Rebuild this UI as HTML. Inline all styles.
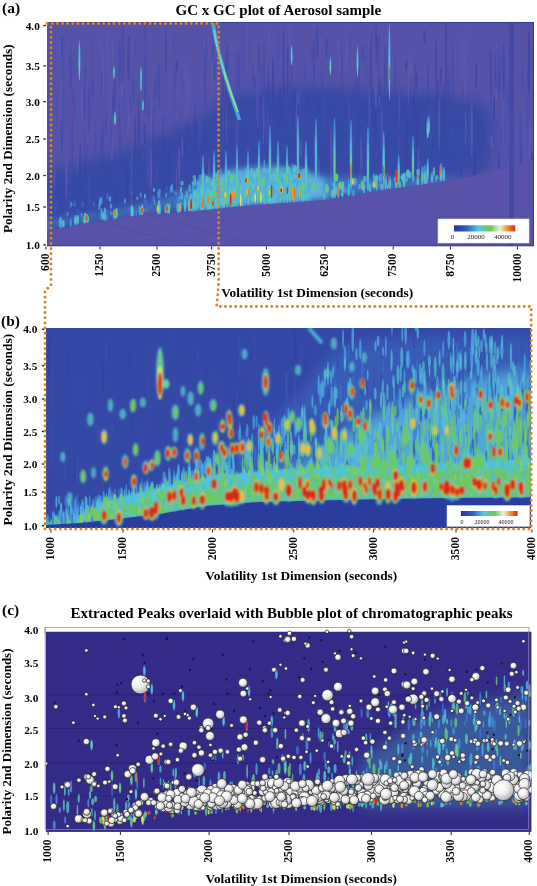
<!DOCTYPE html><html><head><meta charset="utf-8"><style>html,body{margin:0;padding:0;background:#fff;width:537px;height:886px;overflow:hidden}svg{display:block}</style></head><body><svg width="537" height="886" viewBox="0 0 537 886"><defs><filter id="b8" x="-20%" y="-20%" width="140%" height="140%"><feGaussianBlur stdDeviation="7"/></filter><filter id="b3" x="-20%" y="-20%" width="140%" height="140%"><feGaussianBlur stdDeviation="3"/></filter><filter id="b1" x="-20%" y="-20%" width="140%" height="140%"><feGaussianBlur stdDeviation="0.9"/></filter><filter id="b06" x="-20%" y="-20%" width="140%" height="140%"><feGaussianBlur stdDeviation="0.6"/></filter><clipPath id="ca"><rect x="47" y="22" width="487" height="224"/></clipPath><clipPath id="cb"><rect x="46" y="328" width="485" height="200"/></clipPath><clipPath id="cc"><rect x="45.6" y="631.5" width="486" height="200.4"/></clipPath><clipPath id="cc2"><rect x="45.6" y="625" width="486" height="206.9"/></clipPath><radialGradient id="bub" cx="0.38" cy="0.35" r="0.7"><stop offset="0" stop-color="#fff"/><stop offset="0.45" stop-color="#f0f0f0"/><stop offset="0.85" stop-color="#bdbdbd"/><stop offset="1" stop-color="#8a8a8a"/></radialGradient><linearGradient id="lg" x1="0" x2="1"><stop offset="0" stop-color="#28329a"/><stop offset="0.2" stop-color="#2d5ac8"/><stop offset="0.4" stop-color="#50c8e1"/><stop offset="0.6" stop-color="#6ec850"/><stop offset="0.75" stop-color="#ebf0dc"/><stop offset="0.88" stop-color="#f08c28"/><stop offset="1" stop-color="#d7281e"/></linearGradient></defs>
<g clip-path="url(#ca)">
<rect x="47" y="22" width="487" height="224" fill="#5453a8"/>
<polygon points="30,175 120,152 200,118 225,95 300,86 420,92 480,100 495,120 490,170 470,177 450,181 420,186 380,191 340,199 300,203 260,205 220,209 185,213 140,216 100,222 60,229 30,234" fill="#3549a5" fill-opacity="0.92" filter="url(#b8)"/><path d="M430,122 L485,124" stroke="#3a44a0" stroke-width="4" opacity="0.7" filter="url(#b3)"/>
<g filter="url(#b06)"><path fill="#3e48aa" fill-opacity="0.65" d="M162 133.1a.9 14.2 0 1 0 1.7 0a.9 14.2 0 1 0 -1.7 0M160.3 216a.9 16.8 0 1 0 1.7 0a.9 16.8 0 1 0 -1.7 0M357.4 69.7a.8 20.9 0 1 0 1.6 0a.8 20.9 0 1 0 -1.6 0M53.8 169.3a.5 9 0 1 0 1.1 0a.5 9 0 1 0 -1.1 0M425.9 180.3a1 11.7 0 1 0 2.1 0a1 11.7 0 1 0 -2.1 0M462.7 122.8a.8 25.8 0 1 0 1.5 0a.8 25.8 0 1 0 -1.5 0M330.8 153.6a1.1 27.6 0 1 0 2.3 0a1.1 27.6 0 1 0 -2.3 0M56.3 113.4a.5 15.4 0 1 0 1.1 0a.5 15.4 0 1 0 -1.1 0M495.2 82.6a.7 10.9 0 1 0 1.5 0a.7 10.9 0 1 0 -1.5 0M234.1 198.3a1 22 0 1 0 1.9 0a1 22 0 1 0 -1.9 0M248.3 130.7a.9 5.5 0 1 0 1.9 0a.9 5.5 0 1 0 -1.9 0M217.8 171.3a.9 23.5 0 1 0 1.9 0a.9 23.5 0 1 0 -1.9 0M174.4 169.8a1.2 7.6 0 1 0 2.5 0a1.2 7.6 0 1 0 -2.5 0M137.3 121.9a1 22.5 0 1 0 1.9 0a1 22.5 0 1 0 -1.9 0M105.3 126a.6 9.8 0 1 0 1.3 0a.6 9.8 0 1 0 -1.3 0M181.9 186.7a.8 21 0 1 0 1.5 0a.8 21 0 1 0 -1.5 0M354.7 92.9a1.2 19.2 0 1 0 2.4 0a1.2 19.2 0 1 0 -2.4 0M121.7 51.4a1.2 28.6 0 1 0 2.5 0a1.2 28.6 0 1 0 -2.5 0M164.9 53.3a1.2 25.1 0 1 0 2.4 0a1.2 25.1 0 1 0 -2.4 0M482.8 201.6a.9 19.4 0 1 0 1.7 0a.9 19.4 0 1 0 -1.7 0M104.9 122.5a.9 11 0 1 0 1.8 0a.9 11 0 1 0 -1.8 0M519.6 143.6a.8 25.3 0 1 0 1.5 0a.8 25.3 0 1 0 -1.5 0M179.5 188.6a.9 8.2 0 1 0 1.7 0a.9 8.2 0 1 0 -1.7 0M302.6 114.1a1.1 16.8 0 1 0 2.3 0a1.1 16.8 0 1 0 -2.3 0M139.6 88.6a.5 8.1 0 1 0 1 0a.5 8.1 0 1 0 -1 0M398.3 182.7a.8 19.2 0 1 0 1.6 0a.8 19.2 0 1 0 -1.6 0M340.4 175.8a1 14.5 0 1 0 1.9 0a1 14.5 0 1 0 -1.9 0M384.3 115.2a.7 11.1 0 1 0 1.4 0a.7 11.1 0 1 0 -1.4 0M382.2 212.4a1.1 23.3 0 1 0 2.2 0a1.1 23.3 0 1 0 -2.2 0M371 171.7a1.1 19.1 0 1 0 2.2 0a1.1 19.1 0 1 0 -2.2 0M212.3 179.3a1 5.6 0 1 0 2 0a1 5.6 0 1 0 -2 0M453.7 211a.5 19.5 0 1 0 1.1 0a.5 19.5 0 1 0 -1.1 0M419.8 135.9a.9 22.9 0 1 0 1.8 0a.9 22.9 0 1 0 -1.8 0M95 139.2a.6 18.8 0 1 0 1.3 0a.6 18.8 0 1 0 -1.3 0M247 164.1a1.1 9 0 1 0 2.1 0a1.1 9 0 1 0 -2.1 0M118.5 62.8a1.2 23.7 0 1 0 2.4 0a1.2 23.7 0 1 0 -2.4 0M296.9 214.7a1.2 26.3 0 1 0 2.4 0a1.2 26.3 0 1 0 -2.4 0M190.1 162.9a.9 15.3 0 1 0 1.9 0a.9 15.3 0 1 0 -1.9 0M116.3 215.4a.7 17 0 1 0 1.3 0a.7 17 0 1 0 -1.3 0M328.9 203.8a.9 21.3 0 1 0 1.7 0a.9 21.3 0 1 0 -1.7 0M397.1 189.5a.9 15 0 1 0 1.7 0a.9 15 0 1 0 -1.7 0M157.6 86.7a1.2 22.9 0 1 0 2.4 0a1.2 22.9 0 1 0 -2.4 0M68.3 61.9a.6 7.3 0 1 0 1.2 0a.6 7.3 0 1 0 -1.2 0M506.4 101.4a.6 19.2 0 1 0 1.2 0a.6 19.2 0 1 0 -1.2 0M286.5 107.6a1.1 23 0 1 0 2.1 0a1.1 23 0 1 0 -2.1 0M269.3 87a.6 9.4 0 1 0 1.2 0a.6 9.4 0 1 0 -1.2 0M175.6 117.1a.9 26.8 0 1 0 1.7 0a.9 26.8 0 1 0 -1.7 0M100.7 77.6a.9 7.5 0 1 0 1.8 0a.9 7.5 0 1 0 -1.8 0M489.3 64.4a.8 22.5 0 1 0 1.6 0a.8 22.5 0 1 0 -1.6 0M408 190.9a1 23.7 0 1 0 1.9 0a1 23.7 0 1 0 -1.9 0M144.3 91.1a1.1 24.5 0 1 0 2.3 0a1.1 24.5 0 1 0 -2.3 0M371.6 37.1a.6 9.8 0 1 0 1.2 0a.6 9.8 0 1 0 -1.2 0M384.2 72.4a1.1 26.5 0 1 0 2.2 0a1.1 26.5 0 1 0 -2.2 0M129.6 103.1a.6 9.2 0 1 0 1.2 0a.6 9.2 0 1 0 -1.2 0M342.6 110.4a.8 9.6 0 1 0 1.6 0a.8 9.6 0 1 0 -1.6 0M235.7 69.3a.8 13.3 0 1 0 1.5 0a.8 13.3 0 1 0 -1.5 0M74.1 106.7a.5 7.2 0 1 0 1 0a.5 7.2 0 1 0 -1 0M60.9 47.4a.9 9.3 0 1 0 1.7 0a.9 9.3 0 1 0 -1.7 0M247.2 131a1 18.7 0 1 0 2 0a1 18.7 0 1 0 -2 0M129.5 181.4a1.1 25.6 0 1 0 2.1 0a1.1 25.6 0 1 0 -2.1 0M375.7 50.2a1.2 10.9 0 1 0 2.3 0a1.2 10.9 0 1 0 -2.3 0M47.1 81.4a.8 24.7 0 1 0 1.5 0a.8 24.7 0 1 0 -1.5 0M69.5 70.3a1.2 21.1 0 1 0 2.5 0a1.2 21.1 0 1 0 -2.5 0M100.7 83.4a.9 10.2 0 1 0 1.8 0a.9 10.2 0 1 0 -1.8 0M291.8 196.5a1.1 13 0 1 0 2.2 0a1.1 13 0 1 0 -2.2 0M273.7 138.8a.9 6 0 1 0 1.9 0a.9 6 0 1 0 -1.9 0M273 87.4a.6 25.7 0 1 0 1.2 0a.6 25.7 0 1 0 -1.2 0M263.2 67.6a.8 25.9 0 1 0 1.7 0a.8 25.9 0 1 0 -1.7 0M83.4 100.7a1.2 17.1 0 1 0 2.4 0a1.2 17.1 0 1 0 -2.4 0M380.3 111.5a1 24.6 0 1 0 1.9 0a1 24.6 0 1 0 -1.9 0M471.8 217.9a1.1 20.3 0 1 0 2.3 0a1.1 20.3 0 1 0 -2.3 0M423 124.4a.7 29.9 0 1 0 1.4 0a.7 29.9 0 1 0 -1.4 0M256.4 206.2a.7 16.9 0 1 0 1.3 0a.7 16.9 0 1 0 -1.3 0M439.6 86a.5 11.1 0 1 0 1 0a.5 11.1 0 1 0 -1 0M180.9 208.9a.9 25.9 0 1 0 1.8 0a.9 25.9 0 1 0 -1.8 0M370.2 212.6a.9 25.4 0 1 0 1.8 0a.9 25.4 0 1 0 -1.8 0M226.7 146.9a1 12.3 0 1 0 2 0a1 12.3 0 1 0 -2 0M182 79.6a.6 12.1 0 1 0 1.2 0a.6 12.1 0 1 0 -1.2 0M499.6 136.8a.9 5.8 0 1 0 1.9 0a.9 5.8 0 1 0 -1.9 0M84.6 72.9a1 10 0 1 0 2 0a1 10 0 1 0 -2 0M101.9 142.6a1.2 8.1 0 1 0 2.4 0a1.2 8.1 0 1 0 -2.4 0M361.7 53.9a1.2 8.7 0 1 0 2.4 0a1.2 8.7 0 1 0 -2.4 0M226.9 64.3a.8 17 0 1 0 1.5 0a.8 17 0 1 0 -1.5 0M272.2 133.8a.8 16.1 0 1 0 1.7 0a.8 16.1 0 1 0 -1.7 0M52.8 201.7a1 24.9 0 1 0 2 0a1 24.9 0 1 0 -2 0M301.9 165.7a.9 7.3 0 1 0 1.9 0a.9 7.3 0 1 0 -1.9 0M227.8 92.6a1.1 14 0 1 0 2.2 0a1.1 14 0 1 0 -2.2 0M522 78.1a.7 8.1 0 1 0 1.3 0a.7 8.1 0 1 0 -1.3 0M303.6 121a.8 20.4 0 1 0 1.6 0a.8 20.4 0 1 0 -1.6 0M147.9 109.4a.9 9.9 0 1 0 1.8 0a.9 9.9 0 1 0 -1.8 0M113.5 95.4a1.1 18.8 0 1 0 2.2 0a1.1 18.8 0 1 0 -2.2 0M93.7 218.6a.5 22.3 0 1 0 1.1 0a.5 22.3 0 1 0 -1.1 0M473.4 167.8a.7 13 0 1 0 1.5 0a.7 13 0 1 0 -1.5 0M71.4 141.8a.9 27.6 0 1 0 1.8 0a.9 27.6 0 1 0 -1.8 0M303.7 70.5a.6 12.5 0 1 0 1.2 0a.6 12.5 0 1 0 -1.2 0M304.7 146.2a1.1 13.9 0 1 0 2.3 0a1.1 13.9 0 1 0 -2.3 0M154.8 86.4a1 13.6 0 1 0 2 0a1 13.6 0 1 0 -2 0M131.8 170.5a.8 14.9 0 1 0 1.6 0a.8 14.9 0 1 0 -1.6 0M132.2 90.1a1.1 14.4 0 1 0 2.2 0a1.1 14.4 0 1 0 -2.2 0M250.1 124.8a1.2 14.7 0 1 0 2.5 0a1.2 14.7 0 1 0 -2.5 0M303.6 190.4a.6 16.9 0 1 0 1.2 0a.6 16.9 0 1 0 -1.2 0M145 62.7a.9 24 0 1 0 1.9 0a.9 24 0 1 0 -1.9 0M453.3 167.4a.8 12.3 0 1 0 1.6 0a.8 12.3 0 1 0 -1.6 0M238.3 72.1a.8 15.2 0 1 0 1.5 0a.8 15.2 0 1 0 -1.5 0M158.4 78.7a.9 10.3 0 1 0 1.7 0a.9 10.3 0 1 0 -1.7 0M431 180.1a1.2 27.6 0 1 0 2.3 0a1.2 27.6 0 1 0 -2.3 0M179 191.2a.6 8.8 0 1 0 1.3 0a.6 8.8 0 1 0 -1.3 0M357.9 83.6a1 24 0 1 0 2.1 0a1 24 0 1 0 -2.1 0M118.7 140.6a1 21.7 0 1 0 2.1 0a1 21.7 0 1 0 -2.1 0M369.4 110.2a.6 9.4 0 1 0 1.1 0a.6 9.4 0 1 0 -1.1 0M248.9 52a.6 12.9 0 1 0 1.2 0a.6 12.9 0 1 0 -1.2 0M95 206.5a.6 19.6 0 1 0 1.2 0a.6 19.6 0 1 0 -1.2 0M406.7 164.6a.9 5.5 0 1 0 1.7 0a.9 5.5 0 1 0 -1.7 0M48.8 174.8a.5 26.7 0 1 0 1.1 0a.5 26.7 0 1 0 -1.1 0M67.7 203.4a.6 9.8 0 1 0 1.2 0a.6 9.8 0 1 0 -1.2 0M86.8 159.8a.5 17.8 0 1 0 1 0a.5 17.8 0 1 0 -1 0M134.6 48.9a.8 9.5 0 1 0 1.7 0a.8 9.5 0 1 0 -1.7 0M61 121.7a1.1 26.1 0 1 0 2.1 0a1.1 26.1 0 1 0 -2.1 0M140.4 205.6a1.2 25 0 1 0 2.5 0a1.2 25 0 1 0 -2.5 0M113.6 187.7a.6 27.5 0 1 0 1.2 0a.6 27.5 0 1 0 -1.2 0M351.4 119.2a.5 5.7 0 1 0 1 0a.5 5.7 0 1 0 -1 0M508.5 93a.7 14.6 0 1 0 1.4 0a.7 14.6 0 1 0 -1.4 0M208.9 160.9a.7 7.3 0 1 0 1.5 0a.7 7.3 0 1 0 -1.5 0M213.7 70.5a1.1 10 0 1 0 2.2 0a1.1 10 0 1 0 -2.2 0M433.2 171.5a1 10.9 0 1 0 1.9 0a1 10.9 0 1 0 -1.9 0M105.9 65.8a.6 13 0 1 0 1.3 0a.6 13 0 1 0 -1.3 0M206.1 55.2a.6 12.9 0 1 0 1.1 0a.6 12.9 0 1 0 -1.1 0M259.1 175.8a1.1 17.1 0 1 0 2.2 0a1.1 17.1 0 1 0 -2.2 0M226.3 186a.6 12 0 1 0 1.3 0a.6 12 0 1 0 -1.3 0M270.2 128.7a1.2 22.4 0 1 0 2.4 0a1.2 22.4 0 1 0 -2.4 0M206.8 140.8a.9 18.4 0 1 0 1.7 0a.9 18.4 0 1 0 -1.7 0M394.4 84.7a1 29.5 0 1 0 2 0a1 29.5 0 1 0 -2 0M309.1 197.5a1.2 26.1 0 1 0 2.5 0a1.2 26.1 0 1 0 -2.5 0M72 97.1a.8 7.7 0 1 0 1.7 0a.8 7.7 0 1 0 -1.7 0M313.1 63.6a1 27.3 0 1 0 2 0a1 27.3 0 1 0 -2 0M148.5 155.3a1.2 5.9 0 1 0 2.3 0a1.2 5.9 0 1 0 -2.3 0M398.6 96.2a.7 16.1 0 1 0 1.5 0a.7 16.1 0 1 0 -1.5 0M202.7 218.4a1 26.5 0 1 0 2 0a1 26.5 0 1 0 -2 0M448 94a.9 27.2 0 1 0 1.8 0a.9 27.2 0 1 0 -1.8 0M144.4 77a1.2 8.3 0 1 0 2.4 0a1.2 8.3 0 1 0 -2.4 0M321.4 95a1 21.5 0 1 0 2 0a1 21.5 0 1 0 -2 0M46.5 117.5a1.2 17.2 0 1 0 2.4 0a1.2 17.2 0 1 0 -2.4 0M144.5 55.3a.8 27 0 1 0 1.5 0a.8 27 0 1 0 -1.5 0M49.7 37.7a.6 8.9 0 1 0 1.3 0a.6 8.9 0 1 0 -1.3 0M223.6 185.6a1 16.9 0 1 0 2 0a1 16.9 0 1 0 -2 0M118.7 120.9a.8 22.5 0 1 0 1.7 0a.8 22.5 0 1 0 -1.7 0M242.7 47.1a.6 21.2 0 1 0 1.1 0a.6 21.2 0 1 0 -1.1 0M493.6 110.7a.6 14.1 0 1 0 1.3 0a.6 14.1 0 1 0 -1.3 0M486.4 154.4a1.1 14.5 0 1 0 2.2 0a1.1 14.5 0 1 0 -2.2 0M174.1 93.4a1.2 27.6 0 1 0 2.5 0a1.2 27.6 0 1 0 -2.5 0M100.3 152.3a.8 28.6 0 1 0 1.6 0a.8 28.6 0 1 0 -1.6 0M459.1 217.5a.9 25.7 0 1 0 1.9 0a.9 25.7 0 1 0 -1.9 0M197.7 140.4a.6 8.1 0 1 0 1.2 0a.6 8.1 0 1 0 -1.2 0M102.2 145.3a.9 26.5 0 1 0 1.8 0a.9 26.5 0 1 0 -1.8 0M87.8 109.8a1.2 17.6 0 1 0 2.3 0a1.2 17.6 0 1 0 -2.3 0M317.6 103.4a.8 5.6 0 1 0 1.7 0a.8 5.6 0 1 0 -1.7 0M290.6 79.2a1 15.1 0 1 0 1.9 0a1 15.1 0 1 0 -1.9 0M341.1 72.1a.7 21.5 0 1 0 1.4 0a.7 21.5 0 1 0 -1.4 0M451.7 68.5a.9 27.1 0 1 0 1.9 0a.9 27.1 0 1 0 -1.9 0"/><path fill="#3a42a0" fill-opacity="0.65" d="M329.2 157.5a.7 27.7 0 1 0 1.4 0a.7 27.7 0 1 0 -1.4 0M473.9 177.1a1 28 0 1 0 2.1 0a1 28 0 1 0 -2.1 0M112.1 89.8a1.1 29.1 0 1 0 2.2 0a1.1 29.1 0 1 0 -2.2 0M527.1 77.7a1.1 8.1 0 1 0 2.3 0a1.1 8.1 0 1 0 -2.3 0M527.9 62.8a1.2 25 0 1 0 2.3 0a1.2 25 0 1 0 -2.3 0M512.7 196.1a1.2 14.4 0 1 0 2.3 0a1.2 14.4 0 1 0 -2.3 0M511.3 40a.7 14.2 0 1 0 1.4 0a.7 14.2 0 1 0 -1.4 0M423.3 36.5a1.2 6.2 0 1 0 2.5 0a1.2 6.2 0 1 0 -2.5 0M395.4 117.2a.5 10.9 0 1 0 1.1 0a.5 10.9 0 1 0 -1.1 0M83.7 220.9a1 21.1 0 1 0 1.9 0a1 21.1 0 1 0 -1.9 0M412.8 106.3a1.2 14.2 0 1 0 2.4 0a1.2 14.2 0 1 0 -2.4 0M374 131.1a1.2 17.1 0 1 0 2.3 0a1.2 17.1 0 1 0 -2.3 0M176 66.3a1.1 5.6 0 1 0 2.2 0a1.1 5.6 0 1 0 -2.2 0M143.6 134.4a1.1 11 0 1 0 2.2 0a1.1 11 0 1 0 -2.2 0M174.7 190.6a.9 5.9 0 1 0 1.9 0a.9 5.9 0 1 0 -1.9 0M375.2 36.6a.8 13.4 0 1 0 1.6 0a.8 13.4 0 1 0 -1.6 0M84.2 160.2a.8 23.6 0 1 0 1.6 0a.8 23.6 0 1 0 -1.6 0M311.5 55.1a.6 11.9 0 1 0 1.2 0a.6 11.9 0 1 0 -1.2 0M134.5 140a.8 19.4 0 1 0 1.5 0a.8 19.4 0 1 0 -1.5 0M264.2 172.8a1.1 6.7 0 1 0 2.3 0a1.1 6.7 0 1 0 -2.3 0M414.5 72.9a.6 9.3 0 1 0 1.3 0a.6 9.3 0 1 0 -1.3 0M427.3 85a.6 25.3 0 1 0 1.2 0a.6 25.3 0 1 0 -1.2 0M183.8 147.9a1.1 8.8 0 1 0 2.2 0a1.1 8.8 0 1 0 -2.2 0M465.8 123.7a.7 23.9 0 1 0 1.5 0a.7 23.9 0 1 0 -1.5 0M194.5 128.6a.8 23.9 0 1 0 1.7 0a.8 23.9 0 1 0 -1.7 0M505.1 191.5a.7 29 0 1 0 1.4 0a.7 29 0 1 0 -1.4 0M138.3 126a.8 13.3 0 1 0 1.5 0a.8 13.3 0 1 0 -1.5 0M279.4 106a.7 21.5 0 1 0 1.5 0a.7 21.5 0 1 0 -1.5 0M498.1 76.6a1.1 23.5 0 1 0 2.3 0a1.1 23.5 0 1 0 -2.3 0M315.6 200.5a.8 14.1 0 1 0 1.7 0a.8 14.1 0 1 0 -1.7 0M413.1 207.3a.5 22.4 0 1 0 1.1 0a.5 22.4 0 1 0 -1.1 0M282.5 163.5a1 22.5 0 1 0 1.9 0a1 22.5 0 1 0 -1.9 0M225.2 76.6a.9 20.6 0 1 0 1.7 0a.9 20.6 0 1 0 -1.7 0M91.9 88.6a.8 11.2 0 1 0 1.6 0a.8 11.2 0 1 0 -1.6 0M439.9 74.4a.9 8.4 0 1 0 1.8 0a.9 8.4 0 1 0 -1.8 0M282.7 58.2a.9 25.4 0 1 0 1.7 0a.9 25.4 0 1 0 -1.7 0M372 106a.6 17.9 0 1 0 1.3 0a.6 17.9 0 1 0 -1.3 0M494.6 68.8a.7 14.6 0 1 0 1.5 0a.7 14.6 0 1 0 -1.5 0M316.1 43.8a1.2 15.4 0 1 0 2.5 0a1.2 15.4 0 1 0 -2.5 0M520.7 161a.8 15.8 0 1 0 1.7 0a.8 15.8 0 1 0 -1.7 0M186.7 131a1.2 9.4 0 1 0 2.4 0a1.2 9.4 0 1 0 -2.4 0M116.2 192.6a1 9.4 0 1 0 2 0a1 9.4 0 1 0 -2 0M306.8 97.7a.6 7.7 0 1 0 1.3 0a.6 7.7 0 1 0 -1.3 0M406.2 142.8a.9 26.4 0 1 0 1.9 0a.9 26.4 0 1 0 -1.9 0M204.8 137.6a.9 10.5 0 1 0 1.8 0a.9 10.5 0 1 0 -1.8 0M530.6 163a1.2 11.2 0 1 0 2.5 0a1.2 11.2 0 1 0 -2.5 0M286.6 66.2a1 23.3 0 1 0 2.1 0a1 23.3 0 1 0 -2.1 0M222.2 93.1a.8 17.6 0 1 0 1.7 0a.8 17.6 0 1 0 -1.7 0M488.5 151.6a.6 7.6 0 1 0 1.2 0a.6 7.6 0 1 0 -1.2 0M378.7 70.5a.7 27 0 1 0 1.3 0a.7 27 0 1 0 -1.3 0M475.1 75.3a1.2 13.1 0 1 0 2.4 0a1.2 13.1 0 1 0 -2.4 0M325.4 48a1.1 10.8 0 1 0 2.2 0a1.1 10.8 0 1 0 -2.2 0M493.2 106.1a1 13.6 0 1 0 2 0a1 13.6 0 1 0 -2 0M405.3 64.7a1.1 6.5 0 1 0 2.3 0a1.1 6.5 0 1 0 -2.3 0M502.5 71.2a1.1 27.8 0 1 0 2.3 0a1.1 27.8 0 1 0 -2.3 0M460.9 176.7a.8 6.4 0 1 0 1.6 0a.8 6.4 0 1 0 -1.6 0M212.1 52.3a.6 10.5 0 1 0 1.3 0a.6 10.5 0 1 0 -1.3 0M167.6 165.2a1 19.1 0 1 0 2.1 0a1 19.1 0 1 0 -2.1 0M204.2 78.7a.6 27.9 0 1 0 1.3 0a.6 27.9 0 1 0 -1.3 0M127.3 58.4a1.2 18.4 0 1 0 2.3 0a1.2 18.4 0 1 0 -2.3 0M205.4 166.8a.7 9.1 0 1 0 1.4 0a.7 9.1 0 1 0 -1.4 0M293.9 115a.9 26.8 0 1 0 1.8 0a.9 26.8 0 1 0 -1.8 0M151.8 198.9a1.1 6.8 0 1 0 2.1 0a1.1 6.8 0 1 0 -2.1 0M385.9 151.9a.9 18 0 1 0 1.8 0a.9 18 0 1 0 -1.8 0M371 72.8a.5 7.4 0 1 0 1 0a.5 7.4 0 1 0 -1 0M253.9 83.5a.9 6.6 0 1 0 1.8 0a.9 6.6 0 1 0 -1.8 0M532.6 61.2a1.1 17.5 0 1 0 2.2 0a1.1 17.5 0 1 0 -2.2 0M436.2 96.1a1.2 19.1 0 1 0 2.4 0a1.2 19.1 0 1 0 -2.4 0M79.3 170.5a1 28.2 0 1 0 2 0a1 28.2 0 1 0 -2 0M369.3 205.9a.7 6.2 0 1 0 1.4 0a.7 6.2 0 1 0 -1.4 0M256.2 116.4a.8 19.4 0 1 0 1.6 0a.8 19.4 0 1 0 -1.6 0M279 106.9a1 17.6 0 1 0 1.9 0a1 17.6 0 1 0 -1.9 0M258 58.2a.9 10.4 0 1 0 1.7 0a.9 10.4 0 1 0 -1.7 0M151.6 137.5a.5 19 0 1 0 1 0a.5 19 0 1 0 -1 0M267.5 85a.7 18.3 0 1 0 1.4 0a.7 18.3 0 1 0 -1.4 0M369.7 68.5a1 27.5 0 1 0 2.1 0a1 27.5 0 1 0 -2.1 0M480.3 126.5a1.1 5.5 0 1 0 2.2 0a1.1 5.5 0 1 0 -2.2 0M408.2 193.6a1.2 30 0 1 0 2.3 0a1.2 30 0 1 0 -2.3 0M497.7 171.7a1.2 19.9 0 1 0 2.4 0a1.2 19.9 0 1 0 -2.4 0M403.7 106.8a.9 6.4 0 1 0 1.8 0a.9 6.4 0 1 0 -1.8 0M382.5 191.3a1 24.6 0 1 0 2.1 0a1 24.6 0 1 0 -2.1 0M356.1 170.8a.9 9.5 0 1 0 1.9 0a.9 9.5 0 1 0 -1.9 0M434.8 62.6a1 23.6 0 1 0 2 0a1 23.6 0 1 0 -2 0M252.6 73.4a.5 6.9 0 1 0 1.1 0a.5 6.9 0 1 0 -1.1 0M282.3 76a1.2 19.3 0 1 0 2.5 0a1.2 19.3 0 1 0 -2.5 0M415.6 141.7a1.2 25.6 0 1 0 2.3 0a1.2 25.6 0 1 0 -2.3 0M126.4 195.1a1.1 25.8 0 1 0 2.1 0a1.1 25.8 0 1 0 -2.1 0M415.5 81.4a1 9.9 0 1 0 2 0a1 9.9 0 1 0 -2 0M490.5 82.5a.7 29.8 0 1 0 1.4 0a.7 29.8 0 1 0 -1.4 0M163.4 162a.6 19.7 0 1 0 1.1 0a.6 19.7 0 1 0 -1.1 0M444.9 43.3a1.2 19.1 0 1 0 2.3 0a1.2 19.1 0 1 0 -2.3 0M318.3 106.9a.7 7.9 0 1 0 1.5 0a.7 7.9 0 1 0 -1.5 0M442.4 112.7a1.1 27.4 0 1 0 2.3 0a1.1 27.4 0 1 0 -2.3 0M272 78.7a1.1 22 0 1 0 2.2 0a1.1 22 0 1 0 -2.2 0M445.1 83.5a1.1 24.6 0 1 0 2.2 0a1.1 24.6 0 1 0 -2.2 0M107.6 191.6a.5 27.2 0 1 0 1 0a.5 27.2 0 1 0 -1 0M342 196.9a.7 13.3 0 1 0 1.4 0a.7 13.3 0 1 0 -1.4 0"/><path fill="#5f5aaf" fill-opacity="0.65" d="M327.4 202a.6 8.4 0 1 0 1.1 0a.6 8.4 0 1 0 -1.1 0M528.4 150.6a1.2 9.1 0 1 0 2.4 0a1.2 9.1 0 1 0 -2.4 0M345.4 53a.9 23 0 1 0 1.8 0a.9 23 0 1 0 -1.8 0M188.3 91.1a.7 22.2 0 1 0 1.5 0a.7 22.2 0 1 0 -1.5 0M259.5 80.5a.5 12.6 0 1 0 1 0a.5 12.6 0 1 0 -1 0M110.9 148.1a1 13.3 0 1 0 2 0a1 13.3 0 1 0 -2 0M338.8 63.2a1.1 9.6 0 1 0 2.3 0a1.1 9.6 0 1 0 -2.3 0M379.3 62.9a.7 17.5 0 1 0 1.4 0a.7 17.5 0 1 0 -1.4 0M407.7 80a.7 19.2 0 1 0 1.3 0a.7 19.2 0 1 0 -1.3 0M109.3 98.8a.8 24.8 0 1 0 1.7 0a.8 24.8 0 1 0 -1.7 0M268.5 179.8a.9 23.7 0 1 0 1.8 0a.9 23.7 0 1 0 -1.8 0M479.7 201.8a.6 26.4 0 1 0 1.2 0a.6 26.4 0 1 0 -1.2 0M247.9 209.5a.6 20.3 0 1 0 1.2 0a.6 20.3 0 1 0 -1.2 0M462.5 54.9a.6 17.6 0 1 0 1.2 0a.6 17.6 0 1 0 -1.2 0M81.2 105.4a.8 14.7 0 1 0 1.5 0a.8 14.7 0 1 0 -1.5 0M256.4 105.7a.8 17.4 0 1 0 1.6 0a.8 17.4 0 1 0 -1.6 0M502.5 116.1a.6 27.4 0 1 0 1.2 0a.6 27.4 0 1 0 -1.2 0M462.2 74.8a.6 9.7 0 1 0 1.2 0a.6 9.7 0 1 0 -1.2 0M349.2 148.1a.6 5.9 0 1 0 1.3 0a.6 5.9 0 1 0 -1.3 0M478.1 191.2a1 7.4 0 1 0 2 0a1 7.4 0 1 0 -2 0M225.8 123.7a.6 21.6 0 1 0 1.2 0a.6 21.6 0 1 0 -1.2 0M360.4 160.7a1.2 8.7 0 1 0 2.3 0a1.2 8.7 0 1 0 -2.3 0M360.1 153.1a1 15.5 0 1 0 2 0a1 15.5 0 1 0 -2 0M177.9 163.7a1.2 17.9 0 1 0 2.4 0a1.2 17.9 0 1 0 -2.4 0M262.7 119.8a.9 25.4 0 1 0 1.8 0a.9 25.4 0 1 0 -1.8 0M329.8 164.2a1.2 29.4 0 1 0 2.3 0a1.2 29.4 0 1 0 -2.3 0M288.7 38.9a1.2 13.5 0 1 0 2.3 0a1.2 13.5 0 1 0 -2.3 0M267.9 40a.8 11.4 0 1 0 1.7 0a.8 11.4 0 1 0 -1.7 0M106.1 54.4a1.2 23.2 0 1 0 2.5 0a1.2 23.2 0 1 0 -2.5 0M175.7 187.7a.7 20.7 0 1 0 1.5 0a.7 20.7 0 1 0 -1.5 0M341.9 197.7a.6 7.2 0 1 0 1.3 0a.6 7.2 0 1 0 -1.3 0M470.5 129.5a1.2 27.4 0 1 0 2.5 0a1.2 27.4 0 1 0 -2.5 0M464.7 68.6a.6 28.6 0 1 0 1.1 0a.6 28.6 0 1 0 -1.1 0M230.7 48a1 5.2 0 1 0 2.1 0a1 5.2 0 1 0 -2.1 0M150.6 114.3a.7 29.9 0 1 0 1.4 0a.7 29.9 0 1 0 -1.4 0M257 106.9a.6 23.6 0 1 0 1.2 0a.6 23.6 0 1 0 -1.2 0M417.2 176.1a1.2 29.4 0 1 0 2.4 0a1.2 29.4 0 1 0 -2.4 0M511.7 79.1a1.2 5.7 0 1 0 2.3 0a1.2 5.7 0 1 0 -2.3 0M46.7 221.9a1.2 24.8 0 1 0 2.5 0a1.2 24.8 0 1 0 -2.5 0M529.3 134.6a.8 15.2 0 1 0 1.7 0a.8 15.2 0 1 0 -1.7 0M102.9 68.9a.6 24.6 0 1 0 1.2 0a.6 24.6 0 1 0 -1.2 0M178 219.7a1 28.6 0 1 0 1.9 0a1 28.6 0 1 0 -1.9 0M59.2 48.5a.6 7.9 0 1 0 1.2 0a.6 7.9 0 1 0 -1.2 0M509.2 130.9a.9 22.6 0 1 0 1.7 0a.9 22.6 0 1 0 -1.7 0M398.5 105.5a.7 22.3 0 1 0 1.4 0a.7 22.3 0 1 0 -1.4 0M337.9 42.8a.8 5.7 0 1 0 1.6 0a.8 5.7 0 1 0 -1.6 0M295.4 119.7a.8 20.7 0 1 0 1.7 0a.8 20.7 0 1 0 -1.7 0M490.5 141.7a1 7.4 0 1 0 2 0a1 7.4 0 1 0 -2 0M128 118.2a1 10.2 0 1 0 1.9 0a1 10.2 0 1 0 -1.9 0M464.8 128.7a.9 19.5 0 1 0 1.8 0a.9 19.5 0 1 0 -1.8 0M250.6 184.5a.6 8.6 0 1 0 1.2 0a.6 8.6 0 1 0 -1.2 0M494.9 94.8a1.1 6 0 1 0 2.2 0a1.1 6 0 1 0 -2.2 0M330.2 154.9a1.2 12.2 0 1 0 2.5 0a1.2 12.2 0 1 0 -2.5 0M318.1 173.6a.9 15.6 0 1 0 1.9 0a.9 15.6 0 1 0 -1.9 0M297 99.4a1 6.7 0 1 0 2 0a1 6.7 0 1 0 -2 0M111.7 66.5a1.2 29.6 0 1 0 2.5 0a1.2 29.6 0 1 0 -2.5 0M381 123.2a.7 25.1 0 1 0 1.4 0a.7 25.1 0 1 0 -1.4 0M147.5 167.4a.5 21.1 0 1 0 1.1 0a.5 21.1 0 1 0 -1.1 0M378.5 101.1a.9 5.2 0 1 0 1.8 0a.9 5.2 0 1 0 -1.8 0M438.3 122.9a1 21.7 0 1 0 1.9 0a1 21.7 0 1 0 -1.9 0M211.1 76.2a1 19.2 0 1 0 2 0a1 19.2 0 1 0 -2 0M374.8 93.1a1.1 16.8 0 1 0 2.2 0a1.1 16.8 0 1 0 -2.2 0M208.1 177.2a1 15.8 0 1 0 1.9 0a1 15.8 0 1 0 -1.9 0M60 99.9a1.1 23.5 0 1 0 2.2 0a1.1 23.5 0 1 0 -2.2 0M410.1 66a1.1 7.4 0 1 0 2.1 0a1.1 7.4 0 1 0 -2.1 0M512 116.9a.9 10.1 0 1 0 1.9 0a.9 10.1 0 1 0 -1.9 0M65.3 176.2a1.2 23.8 0 1 0 2.4 0a1.2 23.8 0 1 0 -2.4 0M130.9 182.2a.6 29.1 0 1 0 1.1 0a.6 29.1 0 1 0 -1.1 0M144.6 47.6a.5 7.1 0 1 0 1 0a.5 7.1 0 1 0 -1 0M53.6 172.2a.8 15.9 0 1 0 1.7 0a.8 15.9 0 1 0 -1.7 0M300.1 149.6a1.1 8.4 0 1 0 2.3 0a1.1 8.4 0 1 0 -2.3 0M183.2 72.8a.8 9.1 0 1 0 1.7 0a.8 9.1 0 1 0 -1.7 0M236.1 137.1a.7 22.5 0 1 0 1.4 0a.7 22.5 0 1 0 -1.4 0M214.4 165a.6 9.3 0 1 0 1.1 0a.6 9.3 0 1 0 -1.1 0M295 196.1a.5 28 0 1 0 1 0a.5 28 0 1 0 -1 0M285.7 179.8a.6 9.8 0 1 0 1.1 0a.6 9.8 0 1 0 -1.1 0M288.1 192.9a.7 18 0 1 0 1.4 0a.7 18 0 1 0 -1.4 0M76.6 166.4a.6 10.7 0 1 0 1.2 0a.6 10.7 0 1 0 -1.2 0M185.3 92.9a.9 26.6 0 1 0 1.9 0a.9 26.6 0 1 0 -1.9 0M175.1 103.3a1.2 15.7 0 1 0 2.3 0a1.2 15.7 0 1 0 -2.3 0M406.2 209.7a1.2 22.4 0 1 0 2.5 0a1.2 22.4 0 1 0 -2.5 0M159.6 205.8a.7 14.6 0 1 0 1.4 0a.7 14.6 0 1 0 -1.4 0M368.7 111.3a.7 24.8 0 1 0 1.5 0a.7 24.8 0 1 0 -1.5 0M120.8 90.1a1.2 6.9 0 1 0 2.3 0a1.2 6.9 0 1 0 -2.3 0M149.8 168.3a1.2 18.1 0 1 0 2.3 0a1.2 18.1 0 1 0 -2.3 0M181.2 147a1.1 11.2 0 1 0 2.3 0a1.1 11.2 0 1 0 -2.3 0M99.1 44.4a1 6.7 0 1 0 2 0a1 6.7 0 1 0 -2 0M459.3 64.2a.6 9.6 0 1 0 1.1 0a.6 9.6 0 1 0 -1.1 0M462.9 189.9a1 18.9 0 1 0 2 0a1 18.9 0 1 0 -2 0"/><path fill="#464eaf" fill-opacity="0.65" d="M486.6 146.1a1 22.8 0 1 0 1.9 0a1 22.8 0 1 0 -1.9 0M83.3 134.5a1.2 5.8 0 1 0 2.5 0a1.2 5.8 0 1 0 -2.5 0M503.9 128a1.2 15.8 0 1 0 2.4 0a1.2 15.8 0 1 0 -2.4 0M508.7 152.7a.6 10.6 0 1 0 1.1 0a.6 10.6 0 1 0 -1.1 0M258 219.3a.5 28.2 0 1 0 1 0a.5 28.2 0 1 0 -1 0M142.4 142.6a.7 25.4 0 1 0 1.4 0a.7 25.4 0 1 0 -1.4 0M324.3 117.2a.7 23.9 0 1 0 1.4 0a.7 23.9 0 1 0 -1.4 0M333.1 175.6a1.2 10.6 0 1 0 2.3 0a1.2 10.6 0 1 0 -2.3 0M90.6 66.7a1.1 27 0 1 0 2.2 0a1.1 27 0 1 0 -2.2 0M316.9 208.4a1.2 14.4 0 1 0 2.5 0a1.2 14.4 0 1 0 -2.5 0M332 183.1a.6 8.4 0 1 0 1.2 0a.6 8.4 0 1 0 -1.2 0M365 72.2a1.2 28.3 0 1 0 2.4 0a1.2 28.3 0 1 0 -2.4 0M464.7 182.7a.9 18.6 0 1 0 1.9 0a.9 18.6 0 1 0 -1.9 0M349.7 45a.9 14 0 1 0 1.8 0a.9 14 0 1 0 -1.8 0M62.3 66.1a1.2 29.9 0 1 0 2.4 0a1.2 29.9 0 1 0 -2.4 0M429.4 120.8a.8 26.1 0 1 0 1.6 0a.8 26.1 0 1 0 -1.6 0M276.5 60.4a1 26.3 0 1 0 2 0a1 26.3 0 1 0 -2 0M222.4 122.8a.7 29.2 0 1 0 1.4 0a.7 29.2 0 1 0 -1.4 0M226.4 192.6a.7 18.3 0 1 0 1.3 0a.7 18.3 0 1 0 -1.3 0M201 50.7a.8 22.8 0 1 0 1.6 0a.8 22.8 0 1 0 -1.6 0M239.5 55.9a.7 29.1 0 1 0 1.4 0a.7 29.1 0 1 0 -1.4 0M262.6 160.7a.9 13.6 0 1 0 1.8 0a.9 13.6 0 1 0 -1.8 0M197.9 127.7a.7 25.5 0 1 0 1.4 0a.7 25.5 0 1 0 -1.4 0M259.8 79.7a1 13.1 0 1 0 2.1 0a1 13.1 0 1 0 -2.1 0M501.2 62.3a.7 7.4 0 1 0 1.4 0a.7 7.4 0 1 0 -1.4 0M299.3 141.8a.7 6 0 1 0 1.4 0a.7 6 0 1 0 -1.4 0M262.6 199.8a.6 16.1 0 1 0 1.2 0a.6 16.1 0 1 0 -1.2 0M109.8 134.9a1.2 18.4 0 1 0 2.4 0a1.2 18.4 0 1 0 -2.4 0M428.9 202.2a.7 5.9 0 1 0 1.4 0a.7 5.9 0 1 0 -1.4 0M172.6 45.6a1.2 15.7 0 1 0 2.4 0a1.2 15.7 0 1 0 -2.4 0M451.2 132.2a.5 12 0 1 0 1.1 0a.5 12 0 1 0 -1.1 0M199.2 130.2a1.1 15.3 0 1 0 2.2 0a1.1 15.3 0 1 0 -2.2 0M361.3 53.7a.7 6.4 0 1 0 1.5 0a.7 6.4 0 1 0 -1.5 0M218.1 191.8a.5 6.9 0 1 0 1 0a.5 6.9 0 1 0 -1 0M233.2 169.1a.7 12.4 0 1 0 1.5 0a.7 12.4 0 1 0 -1.5 0M464.6 205.6a.6 12.9 0 1 0 1.2 0a.6 12.9 0 1 0 -1.2 0M340.4 52.5a.6 20.4 0 1 0 1.2 0a.6 20.4 0 1 0 -1.2 0M266.3 125.3a1.2 18.3 0 1 0 2.5 0a1.2 18.3 0 1 0 -2.5 0M313.6 143a1.1 12.3 0 1 0 2.3 0a1.1 12.3 0 1 0 -2.3 0M233.5 210.8a.5 14.2 0 1 0 1.1 0a.5 14.2 0 1 0 -1.1 0M152.9 108.4a1.2 20.4 0 1 0 2.3 0a1.2 20.4 0 1 0 -2.3 0M494.8 140.6a.8 23.4 0 1 0 1.7 0a.8 23.4 0 1 0 -1.7 0M284.9 214.3a.8 16.8 0 1 0 1.6 0a.8 16.8 0 1 0 -1.6 0M352.5 136.2a1.1 26.3 0 1 0 2.2 0a1.1 26.3 0 1 0 -2.2 0M199.8 169.5a.8 13.2 0 1 0 1.6 0a.8 13.2 0 1 0 -1.6 0M214.9 216.3a.6 17.1 0 1 0 1.2 0a.6 17.1 0 1 0 -1.2 0M398.6 152.5a.9 22.5 0 1 0 1.8 0a.9 22.5 0 1 0 -1.8 0M257.7 97.7a.7 29.1 0 1 0 1.4 0a.7 29.1 0 1 0 -1.4 0M425.7 212.3a1.2 21.7 0 1 0 2.5 0a1.2 21.7 0 1 0 -2.5 0M317.5 182.8a.6 28 0 1 0 1.2 0a.6 28 0 1 0 -1.2 0M172.6 44.4a.6 7 0 1 0 1.1 0a.6 7 0 1 0 -1.1 0M205.9 202.4a.8 7.5 0 1 0 1.6 0a.8 7.5 0 1 0 -1.6 0M261.1 69.3a.7 5.1 0 1 0 1.3 0a.7 5.1 0 1 0 -1.3 0M526.3 117.3a.9 27.5 0 1 0 1.8 0a.9 27.5 0 1 0 -1.8 0M299.2 95a.8 18 0 1 0 1.5 0a.8 18 0 1 0 -1.5 0M236.7 178.3a1 23.1 0 1 0 1.9 0a1 23.1 0 1 0 -1.9 0M236.5 124.1a1.1 8.5 0 1 0 2.1 0a1.1 8.5 0 1 0 -2.1 0M276.8 51.4a1.2 19 0 1 0 2.4 0a1.2 19 0 1 0 -2.4 0M150.3 204.3a1.2 18.7 0 1 0 2.4 0a1.2 18.7 0 1 0 -2.4 0M87.6 191.1a1.2 11.1 0 1 0 2.3 0a1.2 11.1 0 1 0 -2.3 0M359.8 178.3a1.1 11 0 1 0 2.1 0a1.1 11 0 1 0 -2.1 0M445.5 45.8a.7 11.3 0 1 0 1.4 0a.7 11.3 0 1 0 -1.4 0M186.6 200.4a.7 10 0 1 0 1.5 0a.7 10 0 1 0 -1.5 0M173.7 226.9a.8 28.4 0 1 0 1.7 0a.8 28.4 0 1 0 -1.7 0M123.5 110.1a1 23.4 0 1 0 2 0a1 23.4 0 1 0 -2 0M236.8 80.1a1.2 21.3 0 1 0 2.3 0a1.2 21.3 0 1 0 -2.3 0M70.2 54.8a.6 19.3 0 1 0 1.3 0a.6 19.3 0 1 0 -1.3 0M155.8 173.1a.9 10 0 1 0 1.8 0a.9 10 0 1 0 -1.8 0M282.7 147.9a1 8.5 0 1 0 2 0a1 8.5 0 1 0 -2 0M181.3 186.4a1 6.5 0 1 0 1.9 0a1 6.5 0 1 0 -1.9 0M446.8 91.8a.6 6.7 0 1 0 1.2 0a.6 6.7 0 1 0 -1.2 0M348.1 126.1a1.2 24.2 0 1 0 2.3 0a1.2 24.2 0 1 0 -2.3 0M234.4 188.7a.6 18.6 0 1 0 1.1 0a.6 18.6 0 1 0 -1.1 0M498.3 56.5a.7 29.2 0 1 0 1.5 0a.7 29.2 0 1 0 -1.5 0M56.4 91.7a.7 5.9 0 1 0 1.4 0a.7 5.9 0 1 0 -1.4 0"/></g>
<polygon points="40,222 100,213 150,203 200,186 250,175 300,175 350,177 400,179 440,178 465,175 465,175 440,183 400,190 320,196 200,205 120,215 56,225 40,229" fill="#468ccd" fill-opacity="0.6" filter="url(#b3)"/>
<polygon points="185,205 200,182 230,170 270,166 305,170 325,180 330,198 300,201 250,204 200,210" fill="#64c3e1" fill-opacity="0.8" filter="url(#b3)"/>
<g filter="url(#b06)"><path fill="#385fbc" fill-opacity="0.6" d="M130 213.6a1.2 2.8 0 1 0 2.3 0a1.2 2.8 0 1 0 -2.3 0M83.5 215.6a.8 2.1 0 1 0 1.7 0a.8 2.1 0 1 0 -1.7 0M128.8 192.6a1.5 1.7 0 1 0 2.9 0a1.5 1.7 0 1 0 -2.9 0M151.7 206.2a1.3 3.2 0 1 0 2.7 0a1.3 3.2 0 1 0 -2.7 0M170.6 203.6a1.3 2.6 0 1 0 2.5 0a1.3 2.6 0 1 0 -2.5 0M165.4 188.8a1.4 1.8 0 1 0 2.7 0a1.4 1.8 0 1 0 -2.7 0M65.5 213.6a1 2.7 0 1 0 2 0a1 2.7 0 1 0 -2 0M67.6 222.9a1.3 2.3 0 1 0 2.6 0a1.3 2.3 0 1 0 -2.6 0M82 203.2a.8 1.9 0 1 0 1.5 0a.8 1.9 0 1 0 -1.5 0M54.6 207.4a1.2 3.3 0 1 0 2.3 0a1.2 3.3 0 1 0 -2.3 0M81 204.4a1.4 3.2 0 1 0 2.7 0a1.4 3.2 0 1 0 -2.7 0M142.1 208.2a1.2 1.7 0 1 0 2.4 0a1.2 1.7 0 1 0 -2.4 0M105.7 216.5a.8 1.8 0 1 0 1.7 0a.8 1.8 0 1 0 -1.7 0M79.9 215.4a1 2.3 0 1 0 2 0a1 2.3 0 1 0 -2 0M166.5 192.8a1.5 1.6 0 1 0 3 0a1.5 1.6 0 1 0 -3 0M76.4 211.3a1.5 2.6 0 1 0 3 0a1.5 2.6 0 1 0 -3 0M68.9 204.1a1.3 1.8 0 1 0 2.6 0a1.3 1.8 0 1 0 -2.6 0M88.4 200a1.1 2 0 1 0 2.2 0a1.1 2 0 1 0 -2.2 0"/><path fill="#3c76d4" fill-opacity="0.6" d="M71.6 204.6a1.1 1.5 0 1 0 2.3 0a1.1 1.5 0 1 0 -2.3 0M92.6 204.5a1.1 2.7 0 1 0 2.2 0a1.1 2.7 0 1 0 -2.2 0M73.8 204.1a1.1 2.7 0 1 0 2.1 0a1.1 2.7 0 1 0 -2.1 0M131.2 193.5a.8 1.6 0 1 0 1.7 0a.8 1.6 0 1 0 -1.7 0M145.8 209.9a1.5 1.8 0 1 0 2.9 0a1.5 1.8 0 1 0 -2.9 0M143.5 200.7a.9 2.1 0 1 0 1.7 0a.9 2.1 0 1 0 -1.7 0M98.3 206.1a1 2.7 0 1 0 2 0a1 2.7 0 1 0 -2 0M106.3 197a1.1 2.3 0 1 0 2.1 0a1.1 2.3 0 1 0 -2.1 0M106.2 196.6a1.5 2.8 0 1 0 2.9 0a1.5 2.8 0 1 0 -2.9 0M127.7 209a.8 2.1 0 1 0 1.5 0a.8 2.1 0 1 0 -1.5 0M145.1 202.5a1.2 3.2 0 1 0 2.5 0a1.2 3.2 0 1 0 -2.5 0M79.7 219.3a.8 2 0 1 0 1.5 0a.8 2 0 1 0 -1.5 0M106.6 212.2a1.2 2.3 0 1 0 2.5 0a1.2 2.3 0 1 0 -2.5 0M82.4 204.9a.9 2.6 0 1 0 1.8 0a.9 2.6 0 1 0 -1.8 0"/><path fill="#48a1df" fill-opacity="0.6" d="M177.4 200.1a1.1 2.5 0 1 0 2.2 0a1.1 2.5 0 1 0 -2.2 0M82.2 220a1.4 1.6 0 1 0 2.7 0a1.4 1.6 0 1 0 -2.7 0M135.4 213.4a.8 2.4 0 1 0 1.5 0a.8 2.4 0 1 0 -1.5 0M105.9 218.3a1.1 3.2 0 1 0 2.2 0a1.1 3.2 0 1 0 -2.2 0M66.5 213.9a1.1 2 0 1 0 2.3 0a1.1 2 0 1 0 -2.3 0M98.1 206.9a1.2 2.5 0 1 0 2.3 0a1.2 2.5 0 1 0 -2.3 0M80.6 214.9a1.3 2.2 0 1 0 2.6 0a1.3 2.2 0 1 0 -2.6 0M174.3 193.4a1.4 2.1 0 1 0 2.8 0a1.4 2.1 0 1 0 -2.8 0M82 221.1a1.3 2.2 0 1 0 2.6 0a1.3 2.2 0 1 0 -2.6 0M169.1 205.3a1.1 2.9 0 1 0 2.2 0a1.1 2.9 0 1 0 -2.2 0M100.2 200.5a1.2 3.5 0 1 0 2.5 0a1.2 3.5 0 1 0 -2.5 0M116.1 214.2a1 2 0 1 0 2 0a1 2 0 1 0 -2 0M152.6 198.2a1 3.1 0 1 0 2 0a1 3.1 0 1 0 -2 0M172 191a.9 1.9 0 1 0 1.8 0a.9 1.9 0 1 0 -1.8 0M109.9 213.2a1.4 2.2 0 1 0 2.8 0a1.4 2.2 0 1 0 -2.8 0"/><path fill="#48a1df" fill-opacity="0.7" d="M183.6 203.3a1.4 9.2 0 1 0 2.9 0a1.4 9.2 0 1 0 -2.9 0M190 203a1.1 8.8 0 1 0 2.2 0a1.1 8.8 0 1 0 -2.2 0M193.1 200.6a1 10.8 0 1 0 2.1 0a1 10.8 0 1 0 -2.1 0M194.3 205.2a1.5 6.1 0 1 0 3 0a1.5 6.1 0 1 0 -3 0M196.6 195.2a1.2 15.9 0 1 0 2.5 0a1.2 15.9 0 1 0 -2.5 0M201.9 195.1a1.4 15.3 0 1 0 2.8 0a1.4 15.3 0 1 0 -2.8 0M204.6 198.5a1.3 11.6 0 1 0 2.7 0a1.3 11.6 0 1 0 -2.7 0M206.6 195.8a1.4 14.1 0 1 0 2.9 0a1.4 14.1 0 1 0 -2.9 0M208.8 197.8a1.3 11.8 0 1 0 2.7 0a1.3 11.8 0 1 0 -2.7 0M211.6 201.1a1.3 8.2 0 1 0 2.5 0a1.3 8.2 0 1 0 -2.5 0M215.2 199.5a1.1 9.4 0 1 0 2.2 0a1.1 9.4 0 1 0 -2.2 0M216.4 197.9a1.5 10.8 0 1 0 3 0a1.5 10.8 0 1 0 -3 0M219.6 190.4a1.3 18 0 1 0 2.5 0a1.3 18 0 1 0 -2.5 0M222.4 201.4a1.3 6.7 0 1 0 2.7 0a1.3 6.7 0 1 0 -2.7 0M226.1 197.6a1 10.2 0 1 0 2 0a1 10.2 0 1 0 -2 0M228 187.9a1 19.7 0 1 0 2 0a1 19.7 0 1 0 -2 0M229.6 193.7a1 13.7 0 1 0 2.1 0a1 13.7 0 1 0 -2.1 0M231 199.9a1.5 7.3 0 1 0 2.9 0a1.5 7.3 0 1 0 -2.9 0M233.4 201.3a1.1 5.7 0 1 0 2.3 0a1.1 5.7 0 1 0 -2.3 0M235.1 196.4a1.3 10.4 0 1 0 2.7 0a1.3 10.4 0 1 0 -2.7 0M237.1 189.1a1.2 17.6 0 1 0 2.4 0a1.2 17.6 0 1 0 -2.4 0M239.5 194.4a1.2 12 0 1 0 2.3 0a1.2 12 0 1 0 -2.3 0M241.6 198.1a1.1 8 0 1 0 2.2 0a1.1 8 0 1 0 -2.2 0M244.3 186.2a1.1 19.7 0 1 0 2.2 0a1.1 19.7 0 1 0 -2.2 0M246.9 199.4a1.5 6.1 0 1 0 3 0a1.5 6.1 0 1 0 -3 0M250.7 192.2a1.2 13.1 0 1 0 2.4 0a1.2 13.1 0 1 0 -2.4 0M253.8 194.8a1.4 10.1 0 1 0 2.9 0a1.4 10.1 0 1 0 -2.9 0M256.8 187.4a1.3 17.2 0 1 0 2.6 0a1.3 17.2 0 1 0 -2.6 0M259.6 198.4a1.4 5.9 0 1 0 2.7 0a1.4 5.9 0 1 0 -2.7 0M263.1 184.3a1.4 19.8 0 1 0 2.7 0a1.4 19.8 0 1 0 -2.7 0M266.2 188.3a1.5 15.7 0 1 0 2.9 0a1.5 15.7 0 1 0 -2.9 0M267.9 187.1a1.5 16.7 0 1 0 3 0a1.5 16.7 0 1 0 -3 0M270.1 192.7a1.4 11 0 1 0 2.9 0a1.4 11 0 1 0 -2.9 0M272.2 195a1.2 8.6 0 1 0 2.4 0a1.2 8.6 0 1 0 -2.4 0M274.4 186a1.3 17.5 0 1 0 2.7 0a1.3 17.5 0 1 0 -2.7 0M276.1 198.1a1.4 5.3 0 1 0 2.9 0a1.4 5.3 0 1 0 -2.9 0M279 198.1a1.2 5.1 0 1 0 2.5 0a1.2 5.1 0 1 0 -2.5 0M280.6 188.5a1.3 14.6 0 1 0 2.6 0a1.3 14.6 0 1 0 -2.6 0M283.2 189a1.4 13.9 0 1 0 2.7 0a1.4 13.9 0 1 0 -2.7 0M286.1 190.3a1.4 12.5 0 1 0 2.8 0a1.4 12.5 0 1 0 -2.8 0M288.6 196.1a1.3 6.5 0 1 0 2.7 0a1.3 6.5 0 1 0 -2.7 0M291.2 185.1a1.3 17.4 0 1 0 2.5 0a1.3 17.4 0 1 0 -2.5 0M293.1 194.3a1.2 8 0 1 0 2.4 0a1.2 8 0 1 0 -2.4 0M295.8 191.6a1.4 10.5 0 1 0 2.9 0a1.4 10.5 0 1 0 -2.9 0M298.4 188.2a1.1 13.8 0 1 0 2.2 0a1.1 13.8 0 1 0 -2.2 0M300.4 193.6a1.3 8.2 0 1 0 2.6 0a1.3 8.2 0 1 0 -2.6 0M302.4 191.5a1.1 10.2 0 1 0 2.1 0a1.1 10.2 0 1 0 -2.1 0M305.2 181.7a1.3 19.7 0 1 0 2.7 0a1.3 19.7 0 1 0 -2.7 0M308.7 191.6a1.1 9.6 0 1 0 2.2 0a1.1 9.6 0 1 0 -2.2 0M322.8 194.1a1.4 5.8 0 1 0 2.7 0a1.4 5.8 0 1 0 -2.7 0M332.6 192.1a1 6.9 0 1 0 2 0a1 6.9 0 1 0 -2 0M334.1 190.4a1.2 8.4 0 1 0 2.4 0a1.2 8.4 0 1 0 -2.4 0M337.3 190.5a1 8.1 0 1 0 2 0a1 8.1 0 1 0 -2 0M341.1 189.7a1.4 8.2 0 1 0 2.8 0a1.4 8.2 0 1 0 -2.8 0M347.8 187.7a1 9 0 1 0 2.1 0a1 9 0 1 0 -2.1 0M362.6 187.7a1.2 6 0 1 0 2.5 0a1.2 6 0 1 0 -2.5 0M368.8 187a1.3 5.4 0 1 0 2.6 0a1.3 5.4 0 1 0 -2.6 0M375.3 182.4a1.4 8.7 0 1 0 2.8 0a1.4 8.7 0 1 0 -2.8 0M384.3 182.6a1.3 7.1 0 1 0 2.5 0a1.3 7.1 0 1 0 -2.5 0M386.5 181a1.2 8.5 0 1 0 2.4 0a1.2 8.5 0 1 0 -2.4 0M388.7 182.7a1.3 6.4 0 1 0 2.7 0a1.3 6.4 0 1 0 -2.7 0M394.8 179.8a1.6 8.5 0 1 0 3.1 0a1.6 8.5 0 1 0 -3.1 0M402.6 179.7a1.5 7.4 0 1 0 3 0a1.5 7.4 0 1 0 -3 0M416.4 180.3a1.4 5 0 1 0 2.9 0a1.4 5 0 1 0 -2.9 0M421 176.2a1.3 8.4 0 1 0 2.5 0a1.3 8.4 0 1 0 -2.5 0M423.2 175.4a1.5 8.8 0 1 0 2.9 0a1.5 8.8 0 1 0 -2.9 0M425.2 176.7a1.5 7.2 0 1 0 3.1 0a1.5 7.2 0 1 0 -3.1 0M430.5 177.1a1.5 5.9 0 1 0 3.1 0a1.5 5.9 0 1 0 -3.1 0M439.3 173.2a1.6 8.3 0 1 0 3.1 0a1.6 8.3 0 1 0 -3.1 0M442.4 173.9a1.4 7.1 0 1 0 2.9 0a1.4 7.1 0 1 0 -2.9 0M292.1 173.4a1.6 3.7 0 1 0 3.2 0a1.6 3.7 0 1 0 -3.2 0M336.4 186.9a1.2 3.9 0 1 0 2.4 0a1.2 3.9 0 1 0 -2.4 0M334.4 191.6a2 3.1 0 1 0 4 0a2 3.1 0 1 0 -4 0M346.9 192.5a1.8 3 0 1 0 3.6 0a1.8 3 0 1 0 -3.6 0M304.9 192.2a1.4 3.9 0 1 0 2.7 0a1.4 3.9 0 1 0 -2.7 0M249.6 196.5a1.9 3 0 1 0 3.8 0a1.9 3 0 1 0 -3.8 0M225.5 195.8a1.1 2.4 0 1 0 2.3 0a1.1 2.4 0 1 0 -2.3 0M400.1 177.5a1.4 1.6 0 1 0 2.8 0a1.4 1.6 0 1 0 -2.8 0M351.5 192.9a1.8 3.7 0 1 0 3.6 0a1.8 3.7 0 1 0 -3.6 0M265 191.9a1.8 2 0 1 0 3.6 0a1.8 2 0 1 0 -3.6 0M197.5 189.2a1.4 3.4 0 1 0 2.9 0a1.4 3.4 0 1 0 -2.9 0M218.2 197.6a1.7 2 0 1 0 3.4 0a1.7 2 0 1 0 -3.4 0M196.5 204a1.2 2.6 0 1 0 2.5 0a1.2 2.6 0 1 0 -2.5 0M308.5 189.1a1 2.9 0 1 0 2.1 0a1 2.9 0 1 0 -2.1 0M271.7 189.3a1.7 3.5 0 1 0 3.4 0a1.7 3.5 0 1 0 -3.4 0M202.7 176.2a1.5 3.5 0 1 0 3 0a1.5 3.5 0 1 0 -3 0M202.5 182.2a1.8 3 0 1 0 3.7 0a1.8 3 0 1 0 -3.7 0M270 172.7a1.2 1.8 0 1 0 2.5 0a1.2 1.8 0 1 0 -2.5 0M209.9 203.2a1.2 1.8 0 1 0 2.4 0a1.2 1.8 0 1 0 -2.4 0M294.5 178.6a1.1 2.4 0 1 0 2.3 0a1.1 2.4 0 1 0 -2.3 0M308.8 199a1.3 2 0 1 0 2.5 0a1.3 2 0 1 0 -2.5 0M249.6 179.5a1.1 2.6 0 1 0 2.3 0a1.1 2.6 0 1 0 -2.3 0M271.6 192.7a1.5 2.7 0 1 0 2.9 0a1.5 2.7 0 1 0 -2.9 0M235.5 190.3a1.9 3 0 1 0 3.8 0a1.9 3 0 1 0 -3.8 0M212.6 195.4a1.1 1.5 0 1 0 2.1 0a1.1 1.5 0 1 0 -2.1 0M435 179.9a1.1 2.7 0 1 0 2.2 0a1.1 2.7 0 1 0 -2.2 0M198.4 178.4a1.4 3.1 0 1 0 2.7 0a1.4 3.1 0 1 0 -2.7 0M203.7 204a1.2 2.5 0 1 0 2.3 0a1.2 2.5 0 1 0 -2.3 0M196.6 184.3a1.5 3.6 0 1 0 3 0a1.5 3.6 0 1 0 -3 0M273 182.8a1.5 2.3 0 1 0 3 0a1.5 2.3 0 1 0 -3 0M365.4 178.7a1.8 4 0 1 0 3.6 0a1.8 4 0 1 0 -3.6 0M255.9 190.3a1.4 1.7 0 1 0 2.8 0a1.4 1.7 0 1 0 -2.8 0M199.1 179.8a1.1 3.6 0 1 0 2.3 0a1.1 3.6 0 1 0 -2.3 0M246.7 171.1a1.2 3.5 0 1 0 2.5 0a1.2 3.5 0 1 0 -2.5 0M213.9 176.6a1.8 2.8 0 1 0 3.6 0a1.8 2.8 0 1 0 -3.6 0M216 202.3a1.8 1.9 0 1 0 3.7 0a1.8 1.9 0 1 0 -3.7 0M214.7 181.9a1.9 2.2 0 1 0 3.8 0a1.9 2.2 0 1 0 -3.8 0M227.1 196.2a1.4 2.7 0 1 0 2.7 0a1.4 2.7 0 1 0 -2.7 0M226.1 181a1.2 3.7 0 1 0 2.4 0a1.2 3.7 0 1 0 -2.4 0M412.1 180.2a1.1 1.6 0 1 0 2.2 0a1.1 1.6 0 1 0 -2.2 0M230.5 197.1a1.2 2.2 0 1 0 2.5 0a1.2 2.2 0 1 0 -2.5 0M253.8 202.1a1.6 2.9 0 1 0 3.1 0a1.6 2.9 0 1 0 -3.1 0M228 174.8a1.9 2.4 0 1 0 3.8 0a1.9 2.4 0 1 0 -3.8 0M260.2 193.7a1.2 3.3 0 1 0 2.4 0a1.2 3.3 0 1 0 -2.4 0M321.4 187.4a1.7 2.5 0 1 0 3.4 0a1.7 2.5 0 1 0 -3.4 0M225.4 178.1a1.2 3.7 0 1 0 2.4 0a1.2 3.7 0 1 0 -2.4 0M179.3 203.5a1.6 1.7 0 1 0 3.3 0a1.6 1.7 0 1 0 -3.3 0M274.9 192.9a1.7 3 0 1 0 3.3 0a1.7 3 0 1 0 -3.3 0M210.7 182.5a1.6 3.7 0 1 0 3.3 0a1.6 3.7 0 1 0 -3.3 0M241.1 196.2a1.6 4 0 1 0 3.3 0a1.6 4 0 1 0 -3.3 0M379.1 184.7a1.6 2.2 0 1 0 3.3 0a1.6 2.2 0 1 0 -3.3 0M225.8 195a1 3.3 0 1 0 2 0a1 3.3 0 1 0 -2 0M403.4 177.1a1.4 1.9 0 1 0 2.8 0a1.4 1.9 0 1 0 -2.8 0M248.6 180.8a1.1 3.8 0 1 0 2.2 0a1.1 3.8 0 1 0 -2.2 0M292.3 170.4a1.2 1.6 0 1 0 2.4 0a1.2 1.6 0 1 0 -2.4 0M307.8 189.6a1.8 3 0 1 0 3.5 0a1.8 3 0 1 0 -3.5 0M344 190.4a1.4 3.4 0 1 0 2.8 0a1.4 3.4 0 1 0 -2.8 0M281.4 170.2a1.5 3.7 0 1 0 3 0a1.5 3.7 0 1 0 -3 0M212.3 187.2a1.1 3.8 0 1 0 2.1 0a1.1 3.8 0 1 0 -2.1 0M411.8 178.8a1.4 2.9 0 1 0 2.9 0a1.4 2.9 0 1 0 -2.9 0M192.2 184.7a1.8 1.6 0 1 0 3.5 0a1.8 1.6 0 1 0 -3.5 0M283.8 191a1.9 1.7 0 1 0 3.8 0a1.9 1.7 0 1 0 -3.8 0M386.5 184.9a2 1.8 0 1 0 3.9 0a2 1.8 0 1 0 -3.9 0M293.4 180.5a1.3 1.8 0 1 0 2.5 0a1.3 1.8 0 1 0 -2.5 0M241.6 197.2a1.2 2.1 0 1 0 2.5 0a1.2 2.1 0 1 0 -2.5 0M262.5 175.1a1.2 3.4 0 1 0 2.4 0a1.2 3.4 0 1 0 -2.4 0"/><path fill="#48a1df" fill-opacity="0.8" d="M333.2 155a1.3 38 0 1 0 2.6 0a1.3 38 0 1 0 -2.6 0M349.7 156a1.3 37 0 1 0 2.6 0a1.3 37 0 1 0 -2.6 0M366.7 158a1.3 32 0 1 0 2.6 0a1.3 32 0 1 0 -2.6 0M382.4 159.5a1.3 28.5 0 1 0 2.6 0a1.3 28.5 0 1 0 -2.6 0M397.4 170.5a1.3 15.5 0 1 0 2.6 0a1.3 15.5 0 1 0 -2.6 0M411.7 159.5a1.3 23.5 0 1 0 2.6 0a1.3 23.5 0 1 0 -2.6 0M426.4 128a1.3 11 0 1 0 2.6 0a1.3 11 0 1 0 -2.6 0M426.4 169a1.3 11 0 1 0 2.6 0a1.3 11 0 1 0 -2.6 0M439.7 174a1.3 4 0 1 0 2.6 0a1.3 4 0 1 0 -2.6 0M296.7 150a1.3 35 0 1 0 2.6 0a1.3 35 0 1 0 -2.6 0M314.7 154a1.3 36 0 1 0 2.6 0a1.3 36 0 1 0 -2.6 0M268.7 158.5a1.3 33.5 0 1 0 2.6 0a1.3 33.5 0 1 0 -2.6 0M257.7 169a1.3 29 0 1 0 2.6 0a1.3 29 0 1 0 -2.6 0M246.7 175a1.3 25 0 1 0 2.6 0a1.3 25 0 1 0 -2.6 0M235.7 172.5a1.3 27.5 0 1 0 2.6 0a1.3 27.5 0 1 0 -2.6 0M224.7 176a1.3 26 0 1 0 2.6 0a1.3 26 0 1 0 -2.6 0M212.7 176.5a1.3 26.5 0 1 0 2.6 0a1.3 26.5 0 1 0 -2.6 0M201.7 179.5a1.3 24.5 0 1 0 2.6 0a1.3 24.5 0 1 0 -2.6 0M276.7 167.5a1.3 27.5 0 1 0 2.6 0a1.3 27.5 0 1 0 -2.6 0M285.7 170a1.3 25 0 1 0 2.6 0a1.3 25 0 1 0 -2.6 0M304.7 167.5a1.3 27.5 0 1 0 2.6 0a1.3 27.5 0 1 0 -2.6 0M78.4 59a1 19 0 1 0 2 0a1 19 0 1 0 -2 0M113 72a1 6 0 1 0 2 0a1 6 0 1 0 -2 0M140 78a1 12 0 1 0 2 0a1 12 0 1 0 -2 0M142 105a1 5 0 1 0 2 0a1 5 0 1 0 -2 0M113.7 118a1.3 7 0 1 0 2.6 0a1.3 7 0 1 0 -2.6 0M290.6 54.5a1 9.5 0 1 0 2 0a1 9.5 0 1 0 -2 0M329.4 65.5a1 8.5 0 1 0 2 0a1 8.5 0 1 0 -2 0M356.5 60.5a1 14.5 0 1 0 2 0a1 14.5 0 1 0 -2 0M388.4 58.5a1 36.5 0 1 0 2 0a1 36.5 0 1 0 -2 0M427.5 125a1.3 9 0 1 0 2.6 0a1.3 9 0 1 0 -2.6 0M124 201a1 2.8 0 1 0 2 0a1 2.8 0 1 0 -2 0M165 195a1 2.3 0 1 0 2 0a1 2.3 0 1 0 -2 0M171 187a1 3.5 0 1 0 2 0a1 3.5 0 1 0 -2 0M192 188a1 3.5 0 1 0 2 0a1 3.5 0 1 0 -2 0"/><path fill="#4babe1" fill-opacity="0.9" d="M59.4 222.6a1.4 4.9 0 1 0 2.7 0a1.4 4.9 0 1 0 -2.7 0M58.7 222.7a1.3 4.8 0 1 0 2.6 0a1.3 4.8 0 1 0 -2.6 0M74.3 220.2a1.4 4.3 0 1 0 2.7 0a1.4 4.3 0 1 0 -2.7 0M103.6 214.5a1.4 5.5 0 1 0 2.7 0a1.4 5.5 0 1 0 -2.7 0M100.5 214.1a1 5.9 0 1 0 2.1 0a1 5.9 0 1 0 -2.1 0M113.1 214.8a1.4 3.7 0 1 0 2.7 0a1.4 3.7 0 1 0 -2.7 0M131.1 211.3a1.4 5.2 0 1 0 2.8 0a1.4 5.2 0 1 0 -2.8 0M138.7 210.9a1.1 4.6 0 1 0 2.3 0a1.1 4.6 0 1 0 -2.3 0M141 211.2a.9 4.3 0 1 0 1.9 0a.9 4.3 0 1 0 -1.9 0M159.1 209.3a1 4.7 0 1 0 2 0a1 4.7 0 1 0 -2 0M164.8 209.2a1.3 4.3 0 1 0 2.7 0a1.3 4.3 0 1 0 -2.7 0M164.4 209.7a1 3.8 0 1 0 2 0a1 3.8 0 1 0 -2 0M201.9 204.9a1 5.1 0 1 0 2 0a1 5.1 0 1 0 -2 0M212.3 202.2a1.1 6.3 0 1 0 2.1 0a1.1 6.3 0 1 0 -2.1 0M212.9 204.7a1 3.8 0 1 0 2 0a1 3.8 0 1 0 -2 0M211 204.7a.9 3.8 0 1 0 1.9 0a.9 3.8 0 1 0 -1.9 0"/><path fill="#4eb6e4" fill-opacity="0.6" d="M69.9 222.9a1 3.3 0 1 0 1.9 0a1 3.3 0 1 0 -1.9 0M157.4 194.2a1.5 3.3 0 1 0 2.9 0a1.5 3.3 0 1 0 -2.9 0M139.7 194.9a1 2.6 0 1 0 2 0a1 2.6 0 1 0 -2 0M158.2 191a1.3 2.2 0 1 0 2.7 0a1.3 2.2 0 1 0 -2.7 0M142.8 210.3a1.1 1.6 0 1 0 2.2 0a1.1 1.6 0 1 0 -2.2 0M135.9 198.2a1.3 1.7 0 1 0 2.7 0a1.3 1.7 0 1 0 -2.7 0M98.9 199.4a1.4 1.9 0 1 0 2.8 0a1.4 1.9 0 1 0 -2.8 0M70.3 204.4a.9 2.7 0 1 0 1.8 0a.9 2.7 0 1 0 -1.8 0M178.9 208a.8 2.9 0 1 0 1.7 0a.8 2.9 0 1 0 -1.7 0M166.3 205.3a1.4 1.7 0 1 0 2.7 0a1.4 1.7 0 1 0 -2.7 0M153.7 202.5a.8 2.5 0 1 0 1.6 0a.8 2.5 0 1 0 -1.6 0M169.6 189.5a1.3 3.4 0 1 0 2.6 0a1.3 3.4 0 1 0 -2.6 0M109.6 206a1.4 2.8 0 1 0 2.8 0a1.4 2.8 0 1 0 -2.8 0"/><path fill="#4eb6e4" fill-opacity="0.7" d="M386.7 182.3a1 2.1 0 1 0 2.1 0a1 2.1 0 1 0 -2.1 0M245.4 187a1.1 2 0 1 0 2.2 0a1.1 2 0 1 0 -2.2 0M241 183.7a1.2 3.6 0 1 0 2.4 0a1.2 3.6 0 1 0 -2.4 0M179 197.4a1.9 1.9 0 1 0 3.8 0a1.9 1.9 0 1 0 -3.8 0M273.9 186.3a1.8 1.9 0 1 0 3.5 0a1.8 1.9 0 1 0 -3.5 0M275.8 188.2a1.2 3.4 0 1 0 2.4 0a1.2 3.4 0 1 0 -2.4 0M435 177.4a1.6 2.3 0 1 0 3.3 0a1.6 2.3 0 1 0 -3.3 0M372.7 177.3a1.5 3.2 0 1 0 3 0a1.5 3.2 0 1 0 -3 0M196.9 183.7a2 2.2 0 1 0 4 0a2 2.2 0 1 0 -4 0M406.3 173.2a2 3.4 0 1 0 3.9 0a2 3.4 0 1 0 -3.9 0M264.5 171.1a1.8 2.2 0 1 0 3.6 0a1.8 2.2 0 1 0 -3.6 0M252.6 186.9a1.3 1.6 0 1 0 2.5 0a1.3 1.6 0 1 0 -2.5 0M251.9 181.4a1.7 2.1 0 1 0 3.4 0a1.7 2.1 0 1 0 -3.4 0M271.1 201.6a1.4 1.9 0 1 0 2.9 0a1.4 1.9 0 1 0 -2.9 0M293.1 187.9a1.6 2 0 1 0 3.1 0a1.6 2 0 1 0 -3.1 0M275.4 169.9a1.1 3.2 0 1 0 2.2 0a1.1 3.2 0 1 0 -2.2 0M241.2 192.1a1.4 1.6 0 1 0 2.9 0a1.4 1.6 0 1 0 -2.9 0M363.4 186.6a1 2.1 0 1 0 2 0a1 2.1 0 1 0 -2 0M245.7 191.5a1.5 2.6 0 1 0 3 0a1.5 2.6 0 1 0 -3 0M292.2 172.4a1.9 3.4 0 1 0 3.7 0a1.9 3.4 0 1 0 -3.7 0M296.7 173.5a1.6 2.9 0 1 0 3.3 0a1.6 2.9 0 1 0 -3.3 0M320.2 186.5a1.5 2.4 0 1 0 3 0a1.5 2.4 0 1 0 -3 0M252.6 180.5a1.2 4 0 1 0 2.4 0a1.2 4 0 1 0 -2.4 0M232.1 185.4a1.2 2 0 1 0 2.5 0a1.2 2 0 1 0 -2.5 0M224.2 191.6a1.7 3.6 0 1 0 3.5 0a1.7 3.6 0 1 0 -3.5 0M276.4 192.2a1.7 3.8 0 1 0 3.3 0a1.7 3.8 0 1 0 -3.3 0M378.4 178.3a1.7 3.8 0 1 0 3.5 0a1.7 3.8 0 1 0 -3.5 0M241.1 180.2a1.4 3.5 0 1 0 2.8 0a1.4 3.5 0 1 0 -2.8 0M393.9 179.1a2 1.5 0 1 0 3.9 0a2 1.5 0 1 0 -3.9 0M244.3 173.4a1.7 3.6 0 1 0 3.3 0a1.7 3.6 0 1 0 -3.3 0M234.6 178.2a1.5 3.1 0 1 0 3 0a1.5 3.1 0 1 0 -3 0M273.4 182a1.3 3.7 0 1 0 2.7 0a1.3 3.7 0 1 0 -2.7 0M305.4 167.4a1 2.7 0 1 0 2 0a1 2.7 0 1 0 -2 0M210.7 180.3a1 1.7 0 1 0 2 0a1 1.7 0 1 0 -2 0M215.8 198.7a1.2 1.6 0 1 0 2.4 0a1.2 1.6 0 1 0 -2.4 0M283.8 182.2a1.7 2.9 0 1 0 3.4 0a1.7 2.9 0 1 0 -3.4 0M247.5 178.7a1.6 2.8 0 1 0 3.1 0a1.6 2.8 0 1 0 -3.1 0M197.4 184.9a1.4 3.7 0 1 0 2.8 0a1.4 3.7 0 1 0 -2.8 0M230.8 187.2a1.2 2.4 0 1 0 2.4 0a1.2 2.4 0 1 0 -2.4 0M221.6 177.8a1.9 3.5 0 1 0 3.8 0a1.9 3.5 0 1 0 -3.8 0M424.7 181.9a1.4 3.3 0 1 0 2.8 0a1.4 3.3 0 1 0 -2.8 0M301 188.6a2 1.8 0 1 0 3.9 0a2 1.8 0 1 0 -3.9 0M198.9 187a1.6 2.3 0 1 0 3.1 0a1.6 2.3 0 1 0 -3.1 0M358 186.8a1.4 2.7 0 1 0 2.8 0a1.4 2.7 0 1 0 -2.8 0M353.4 181.7a1.7 3.2 0 1 0 3.3 0a1.7 3.2 0 1 0 -3.3 0M180.4 196.1a1.4 3.5 0 1 0 2.8 0a1.4 3.5 0 1 0 -2.8 0M240 198.5a1.3 4 0 1 0 2.5 0a1.3 4 0 1 0 -2.5 0M239.4 201.9a1.7 2.2 0 1 0 3.4 0a1.7 2.2 0 1 0 -3.4 0M215.4 203.9a1 1.5 0 1 0 2 0a1 1.5 0 1 0 -2 0M294.1 169.5a1.5 2.4 0 1 0 3.1 0a1.5 2.4 0 1 0 -3.1 0M361 186.2a2 4 0 1 0 4 0a2 4 0 1 0 -4 0M214.7 181a1.3 3.1 0 1 0 2.6 0a1.3 3.1 0 1 0 -2.6 0M366.7 187.1a1.2 3.6 0 1 0 2.5 0a1.2 3.6 0 1 0 -2.5 0M278.3 188.6a1.1 4 0 1 0 2.2 0a1.1 4 0 1 0 -2.2 0M404.9 179.8a1.7 1.6 0 1 0 3.3 0a1.7 1.6 0 1 0 -3.3 0M304.1 169.5a1.6 1.6 0 1 0 3.3 0a1.6 1.6 0 1 0 -3.3 0M237.9 173.2a1.6 2.7 0 1 0 3.3 0a1.6 2.7 0 1 0 -3.3 0M203 200.2a1 2.6 0 1 0 2 0a1 2.6 0 1 0 -2 0M301.2 171.6a1.9 2.4 0 1 0 3.7 0a1.9 2.4 0 1 0 -3.7 0M207.9 191.7a1.9 2.4 0 1 0 3.8 0a1.9 2.4 0 1 0 -3.8 0M251.5 196.9a1.9 2.6 0 1 0 3.9 0a1.9 2.6 0 1 0 -3.9 0M379.2 176.7a1.6 3.1 0 1 0 3.2 0a1.6 3.1 0 1 0 -3.2 0M231 179.5a1.7 2.8 0 1 0 3.4 0a1.7 2.8 0 1 0 -3.4 0M256.7 193.3a1.3 1.8 0 1 0 2.6 0a1.3 1.8 0 1 0 -2.6 0M266.2 171.1a1.5 2.9 0 1 0 3 0a1.5 2.9 0 1 0 -3 0M331.8 184.4a1.6 1.9 0 1 0 3.2 0a1.6 1.9 0 1 0 -3.2 0M231.5 177.9a1.9 3.4 0 1 0 3.8 0a1.9 3.4 0 1 0 -3.8 0"/><path fill="#4eb6e4" fill-opacity="0.8" d="M109 199a1 3.1 0 1 0 2 0a1 3.1 0 1 0 -2 0"/><path fill="#51badc" fill-opacity="0.9" d="M131.3 212.9a1.1 3.6 0 1 0 2.3 0a1.1 3.6 0 1 0 -2.3 0M141.2 209.5a1.1 6 0 1 0 2.2 0a1.1 6 0 1 0 -2.2 0M157.1 209.6a.9 4.4 0 1 0 1.9 0a.9 4.4 0 1 0 -1.9 0M176.5 207.8a1.3 4.7 0 1 0 2.7 0a1.3 4.7 0 1 0 -2.7 0M177 208.8a1.2 3.7 0 1 0 2.3 0a1.2 3.7 0 1 0 -2.3 0M191.2 207.3a1.2 4.2 0 1 0 2.4 0a1.2 4.2 0 1 0 -2.4 0M201.5 206.4a.9 3.6 0 1 0 1.9 0a.9 3.6 0 1 0 -1.9 0M199.8 206.4a1 3.6 0 1 0 2 0a1 3.6 0 1 0 -2 0"/><path fill="#54bed4" fill-opacity="0.8" d="M183.8 205.1a1.2 6.5 0 1 0 2.4 0a1.2 6.5 0 1 0 -2.4 0M190.1 204.8a1 6.1 0 1 0 2 0a1 6.1 0 1 0 -2 0M193.1 202.8a1 7.6 0 1 0 2.1 0a1 7.6 0 1 0 -2.1 0M194.7 206.4a1.1 4.3 0 1 0 2.2 0a1.1 4.3 0 1 0 -2.2 0M196.6 198.4a1.2 11.1 0 1 0 2.4 0a1.2 11.1 0 1 0 -2.4 0M202.3 198.2a1 10.7 0 1 0 2.1 0a1 10.7 0 1 0 -2.1 0M204.8 200.8a1.2 8.1 0 1 0 2.4 0a1.2 8.1 0 1 0 -2.4 0M206.9 198.6a1.2 9.8 0 1 0 2.3 0a1.2 9.8 0 1 0 -2.3 0M209.1 200.2a1 8.3 0 1 0 2.1 0a1 8.3 0 1 0 -2.1 0M212 202.8a.8 5.7 0 1 0 1.6 0a.8 5.7 0 1 0 -1.6 0M215.1 201.4a1.2 6.6 0 1 0 2.3 0a1.2 6.6 0 1 0 -2.3 0M216.7 200.1a1.1 7.6 0 1 0 2.3 0a1.1 7.6 0 1 0 -2.3 0M220 194a.9 12.6 0 1 0 1.8 0a.9 12.6 0 1 0 -1.8 0M222.6 202.8a1.2 4.7 0 1 0 2.3 0a1.2 4.7 0 1 0 -2.3 0M226.2 199.6a.9 7.1 0 1 0 1.9 0a.9 7.1 0 1 0 -1.9 0M228.1 191.8a.9 13.8 0 1 0 1.8 0a.9 13.8 0 1 0 -1.8 0M229.6 196.4a1.1 9.6 0 1 0 2.1 0a1.1 9.6 0 1 0 -2.1 0M231.6 201.4a.8 5.1 0 1 0 1.7 0a.8 5.1 0 1 0 -1.7 0M233.7 202.4a.8 4 0 1 0 1.7 0a.8 4 0 1 0 -1.7 0M235.3 198.5a1.2 7.3 0 1 0 2.3 0a1.2 7.3 0 1 0 -2.3 0M237.4 192.6a.8 12.3 0 1 0 1.7 0a.8 12.3 0 1 0 -1.7 0M239.9 196.8a.8 8.4 0 1 0 1.7 0a.8 8.4 0 1 0 -1.7 0M241.7 199.8a1.1 5.6 0 1 0 2.1 0a1.1 5.6 0 1 0 -2.1 0M244.4 190.2a.9 13.8 0 1 0 1.9 0a.9 13.8 0 1 0 -1.9 0M247.5 200.7a1 4.3 0 1 0 1.9 0a1 4.3 0 1 0 -1.9 0M250.9 194.8a1 9.1 0 1 0 2.1 0a1 9.1 0 1 0 -2.1 0M254.2 196.8a1.1 7 0 1 0 2.2 0a1.1 7 0 1 0 -2.2 0M257.3 190.9a.8 12 0 1 0 1.7 0a.8 12 0 1 0 -1.7 0M260.1 199.6a.8 4.1 0 1 0 1.6 0a.8 4.1 0 1 0 -1.6 0M263.4 188.3a1 13.9 0 1 0 2 0a1 13.9 0 1 0 -2 0M266.8 191.4a.9 11 0 1 0 1.8 0a.9 11 0 1 0 -1.8 0M268.4 190.5a1 11.7 0 1 0 2 0a1 11.7 0 1 0 -2 0M270.4 194.9a1.2 7.7 0 1 0 2.3 0a1.2 7.7 0 1 0 -2.3 0M272.4 196.7a1 6 0 1 0 1.9 0a1 6 0 1 0 -1.9 0M274.8 189.5a.9 12.2 0 1 0 1.8 0a.9 12.2 0 1 0 -1.8 0M276.6 199.1a.9 3.7 0 1 0 1.7 0a.9 3.7 0 1 0 -1.7 0M279.1 199.1a1.1 3.6 0 1 0 2.2 0a1.1 3.6 0 1 0 -2.2 0M281.1 191.4a.8 10.2 0 1 0 1.6 0a.8 10.2 0 1 0 -1.6 0M283.5 191.8a1.1 9.7 0 1 0 2.1 0a1.1 9.7 0 1 0 -2.1 0M286.7 192.8a.9 8.7 0 1 0 1.7 0a.9 8.7 0 1 0 -1.7 0M289 197.4a.9 4.5 0 1 0 1.8 0a.9 4.5 0 1 0 -1.8 0M291.6 188.5a.8 12.2 0 1 0 1.7 0a.8 12.2 0 1 0 -1.7 0M293.2 195.9a1.1 5.6 0 1 0 2.1 0a1.1 5.6 0 1 0 -2.1 0M296.1 193.7a1 7.4 0 1 0 2.1 0a1 7.4 0 1 0 -2.1 0M298.6 191a.9 9.6 0 1 0 1.9 0a.9 9.6 0 1 0 -1.9 0M300.7 195.2a1 5.8 0 1 0 2.1 0a1 5.8 0 1 0 -2.1 0M302.3 193.5a1.2 7.1 0 1 0 2.3 0a1.2 7.1 0 1 0 -2.3 0M305.5 185.7a1.1 13.8 0 1 0 2.1 0a1.1 13.8 0 1 0 -2.1 0M308.8 193.5a1 6.7 0 1 0 2 0a1 6.7 0 1 0 -2 0M323.2 195.2a1 4 0 1 0 2 0a1 4 0 1 0 -2 0M332.7 193.5a.9 4.8 0 1 0 1.8 0a.9 4.8 0 1 0 -1.8 0M334.3 192.1a1 5.9 0 1 0 2 0a1 5.9 0 1 0 -2 0M337.1 192.1a1.1 5.7 0 1 0 2.3 0a1.1 5.7 0 1 0 -2.3 0M341.5 191.3a1 5.8 0 1 0 2 0a1 5.8 0 1 0 -2 0M347.7 189.5a1.1 6.3 0 1 0 2.2 0a1.1 6.3 0 1 0 -2.2 0M363 188.9a.8 4.2 0 1 0 1.6 0a.8 4.2 0 1 0 -1.6 0M369.1 188.1a1 3.8 0 1 0 2 0a1 3.8 0 1 0 -2 0M375.7 184.2a1 6.1 0 1 0 2 0a1 6.1 0 1 0 -2 0M384.7 184a.8 5 0 1 0 1.7 0a.8 5 0 1 0 -1.7 0M386.6 182.7a1 5.9 0 1 0 2.1 0a1 5.9 0 1 0 -2.1 0M389.1 184a.9 4.5 0 1 0 1.9 0a.9 4.5 0 1 0 -1.9 0M395.3 181.5a1 5.9 0 1 0 2 0a1 5.9 0 1 0 -2 0M403 181.2a1.1 5.2 0 1 0 2.1 0a1.1 5.2 0 1 0 -2.1 0M416.7 181.3a1.1 3.5 0 1 0 2.2 0a1.1 3.5 0 1 0 -2.2 0M421.3 177.9a1 5.9 0 1 0 2 0a1 5.9 0 1 0 -2 0M423.6 177.2a1 6.2 0 1 0 2 0a1 6.2 0 1 0 -2 0M425.9 178.1a.8 5 0 1 0 1.7 0a.8 5 0 1 0 -1.7 0M430.8 178.3a1.2 4.1 0 1 0 2.4 0a1.2 4.1 0 1 0 -2.4 0M439.9 174.9a1 5.8 0 1 0 2.1 0a1 5.8 0 1 0 -2.1 0M442.6 175.4a1.2 5 0 1 0 2.3 0a1.2 5 0 1 0 -2.3 0"/><path fill="#56c2cc" fill-opacity="0.7" d="M306.4 196.4a1.1 2 0 1 0 2.1 0a1.1 2 0 1 0 -2.1 0M185.7 194.6a1.1 3.9 0 1 0 2.3 0a1.1 3.9 0 1 0 -2.3 0M289.2 178.4a1.5 3.3 0 1 0 2.9 0a1.5 3.3 0 1 0 -2.9 0M273 199.8a1.5 3.9 0 1 0 2.9 0a1.5 3.9 0 1 0 -2.9 0M191.5 182.8a1.2 1.7 0 1 0 2.4 0a1.2 1.7 0 1 0 -2.4 0M204.8 192.1a2 3 0 1 0 4 0a2 3 0 1 0 -4 0M219.1 203.8a2 2.2 0 1 0 4 0a2 2.2 0 1 0 -4 0M259.2 183.6a1.7 3.2 0 1 0 3.5 0a1.7 3.2 0 1 0 -3.5 0M213.1 187.8a1.2 2.5 0 1 0 2.4 0a1.2 2.5 0 1 0 -2.4 0M239.6 194.8a1.3 2.8 0 1 0 2.6 0a1.3 2.8 0 1 0 -2.6 0M252.5 173.5a1.4 2.9 0 1 0 2.8 0a1.4 2.9 0 1 0 -2.8 0M206.3 179.9a1.9 3.1 0 1 0 3.8 0a1.9 3.1 0 1 0 -3.8 0M219.5 200.7a1.5 3.3 0 1 0 3 0a1.5 3.3 0 1 0 -3 0M279.2 186.6a1.7 3.2 0 1 0 3.5 0a1.7 3.2 0 1 0 -3.5 0M216 176.7a1.8 3.9 0 1 0 3.5 0a1.8 3.9 0 1 0 -3.5 0M305.5 197.3a1.2 3.5 0 1 0 2.3 0a1.2 3.5 0 1 0 -2.3 0M218.8 201.5a1.7 2 0 1 0 3.5 0a1.7 2 0 1 0 -3.5 0M421.4 177a1 3.6 0 1 0 2.1 0a1 3.6 0 1 0 -2.1 0M240.4 186.2a1.9 4 0 1 0 3.8 0a1.9 4 0 1 0 -3.8 0M199.5 192.1a1.1 3.3 0 1 0 2.1 0a1.1 3.3 0 1 0 -2.1 0M262.3 170.4a1.8 2.3 0 1 0 3.7 0a1.8 2.3 0 1 0 -3.7 0M238 199a1.5 3.3 0 1 0 2.9 0a1.5 3.3 0 1 0 -2.9 0M249.4 183.7a1.2 3.1 0 1 0 2.3 0a1.2 3.1 0 1 0 -2.3 0M285.7 169.6a1.7 1.7 0 1 0 3.4 0a1.7 1.7 0 1 0 -3.4 0M282.4 198.3a1.6 2.4 0 1 0 3.2 0a1.6 2.4 0 1 0 -3.2 0M299.3 190.1a1.3 2.8 0 1 0 2.6 0a1.3 2.8 0 1 0 -2.6 0M333.2 188a1 3.2 0 1 0 2.1 0a1 3.2 0 1 0 -2.1 0M291.8 177a1.3 2.6 0 1 0 2.5 0a1.3 2.6 0 1 0 -2.5 0M189.1 198.2a1.6 3.5 0 1 0 3.1 0a1.6 3.5 0 1 0 -3.1 0M218 205.5a1.1 2.4 0 1 0 2.2 0a1.1 2.4 0 1 0 -2.2 0M263 201.1a1.7 2.7 0 1 0 3.3 0a1.7 2.7 0 1 0 -3.3 0M246 187.5a1.7 2 0 1 0 3.3 0a1.7 2 0 1 0 -3.3 0M256 194.3a1.5 2.2 0 1 0 3.1 0a1.5 2.2 0 1 0 -3.1 0M192.8 177.3a1.6 1.9 0 1 0 3.1 0a1.6 1.9 0 1 0 -3.1 0M180.3 183.3a1.7 1.8 0 1 0 3.3 0a1.7 1.8 0 1 0 -3.3 0M416.5 179.6a1.2 2.6 0 1 0 2.4 0a1.2 2.6 0 1 0 -2.4 0M210 206a2 3.3 0 1 0 4 0a2 3.3 0 1 0 -4 0M278.2 190.5a1.7 3.7 0 1 0 3.5 0a1.7 3.7 0 1 0 -3.5 0M289.3 199a1 1.6 0 1 0 2 0a1 1.6 0 1 0 -2 0M291.6 186.4a1.1 4 0 1 0 2.1 0a1.1 4 0 1 0 -2.1 0M290 176.2a1.5 3.1 0 1 0 3 0a1.5 3.1 0 1 0 -3 0M220.2 186.1a1.2 2.9 0 1 0 2.5 0a1.2 2.9 0 1 0 -2.5 0M274.9 187.6a1.6 2.5 0 1 0 3.2 0a1.6 2.5 0 1 0 -3.2 0M206 179.9a1.7 2.2 0 1 0 3.4 0a1.7 2.2 0 1 0 -3.4 0M380.2 187.2a1.9 3.1 0 1 0 3.8 0a1.9 3.1 0 1 0 -3.8 0M341.1 188.4a1.7 3.1 0 1 0 3.4 0a1.7 3.1 0 1 0 -3.4 0M200.8 176.2a1.3 2.7 0 1 0 2.7 0a1.3 2.7 0 1 0 -2.7 0M340.3 194.5a1.3 1.6 0 1 0 2.6 0a1.3 1.6 0 1 0 -2.6 0M202 195.9a1.3 3.5 0 1 0 2.6 0a1.3 3.5 0 1 0 -2.6 0M296.9 189a1.1 3.4 0 1 0 2.3 0a1.1 3.4 0 1 0 -2.3 0M213.3 174.6a1.8 1.8 0 1 0 3.7 0a1.8 1.8 0 1 0 -3.7 0M208.5 197.4a1.3 2.9 0 1 0 2.6 0a1.3 2.9 0 1 0 -2.6 0M375.8 177.5a1.4 2.3 0 1 0 2.8 0a1.4 2.3 0 1 0 -2.8 0M229.4 181.5a1.6 3.6 0 1 0 3.2 0a1.6 3.6 0 1 0 -3.2 0M268 201.5a1.7 2.8 0 1 0 3.4 0a1.7 2.8 0 1 0 -3.4 0M303 186.8a1.2 3.2 0 1 0 2.3 0a1.2 3.2 0 1 0 -2.3 0M291.2 187.9a1.8 2.2 0 1 0 3.6 0a1.8 2.2 0 1 0 -3.6 0M273.9 196.4a1.9 1.7 0 1 0 3.8 0a1.9 1.7 0 1 0 -3.8 0M251.9 198.3a1.7 4 0 1 0 3.4 0a1.7 4 0 1 0 -3.4 0M400.6 176.4a1.9 2.9 0 1 0 3.8 0a1.9 2.9 0 1 0 -3.8 0M237 192.8a1.4 1.8 0 1 0 2.8 0a1.4 1.8 0 1 0 -2.8 0M196.7 195.7a1.2 2.9 0 1 0 2.4 0a1.2 2.9 0 1 0 -2.4 0M335 190.1a1 3.7 0 1 0 2.1 0a1 3.7 0 1 0 -2.1 0M261.3 191.2a1.6 2.3 0 1 0 3.2 0a1.6 2.3 0 1 0 -3.2 0M402.7 175a1.7 2.1 0 1 0 3.5 0a1.7 2.1 0 1 0 -3.5 0M275.4 171.4a1.9 3.8 0 1 0 3.8 0a1.9 3.8 0 1 0 -3.8 0M214.9 203.2a1.4 3.6 0 1 0 2.9 0a1.4 3.6 0 1 0 -2.9 0M188.5 188.1a1.2 2.9 0 1 0 2.3 0a1.2 2.9 0 1 0 -2.3 0"/><path fill="#56c2cc" fill-opacity="0.8" d="M99 203a1 2.9 0 1 0 2 0a1 2.9 0 1 0 -2 0M144 196a1 2.5 0 1 0 2 0a1 2.5 0 1 0 -2 0M153 190a1 2 0 1 0 2 0a1 2 0 1 0 -2 0M180 190a1 3.7 0 1 0 2 0a1 3.7 0 1 0 -2 0M201 186a1 3.4 0 1 0 2 0a1 3.4 0 1 0 -2 0M213.2 194.6a1.5 3.6 0 1 0 3 0a1.5 3.6 0 1 0 -3 0M223.2 195.2a1.9 3.2 0 1 0 3.8 0a1.9 3.2 0 1 0 -3.8 0M234.5 191.9a1.8 3.3 0 1 0 3.6 0a1.8 3.3 0 1 0 -3.6 0M245.3 191.9a1.9 3.9 0 1 0 3.8 0a1.9 3.9 0 1 0 -3.8 0M257 189.7a1.6 3.7 0 1 0 3.2 0a1.6 3.7 0 1 0 -3.2 0M267.2 193a2.1 3.7 0 1 0 4.3 0a2.1 3.7 0 1 0 -4.3 0M279.7 189.9a1.7 3.6 0 1 0 3.4 0a1.7 3.6 0 1 0 -3.4 0M289.8 188.5a1.6 4.2 0 1 0 3.3 0a1.6 4.2 0 1 0 -3.3 0M301.6 186.6a1.8 4.1 0 1 0 3.6 0a1.8 4.1 0 1 0 -3.6 0M312.9 186.3a1.9 4 0 1 0 3.9 0a1.9 4 0 1 0 -3.9 0M325.2 188.4a1.8 4.3 0 1 0 3.7 0a1.8 4.3 0 1 0 -3.7 0M338.2 185.8a1.9 4.1 0 1 0 3.8 0a1.9 4.1 0 1 0 -3.8 0M350.4 182.3a1.6 3.3 0 1 0 3.3 0a1.6 3.3 0 1 0 -3.3 0M360.8 185.3a1.6 3.8 0 1 0 3.1 0a1.6 3.8 0 1 0 -3.1 0M372.2 184.6a1.8 4 0 1 0 3.6 0a1.8 4 0 1 0 -3.6 0M219.7 187.6a2 3.4 0 1 0 3.9 0a2 3.4 0 1 0 -3.9 0M230 178.3a1.8 4.2 0 1 0 3.7 0a1.8 4.2 0 1 0 -3.7 0M244.6 181.6a1.6 3.6 0 1 0 3.3 0a1.6 3.6 0 1 0 -3.3 0M261.2 182.4a1.9 4 0 1 0 3.8 0a1.9 4 0 1 0 -3.8 0M284.2 179.1a1.8 3.3 0 1 0 3.5 0a1.8 3.3 0 1 0 -3.5 0M297.1 176.1a2.1 3.3 0 1 0 4.1 0a2.1 3.3 0 1 0 -4.1 0M334.2 177.1a2.1 3.1 0 1 0 4.2 0a2.1 3.1 0 1 0 -4.2 0"/><path fill="#56c2cc" fill-opacity="0.9" d="M333.6 162.6a.9 26.6 0 1 0 1.8 0a.9 26.6 0 1 0 -1.8 0M350.1 163.4a.9 25.9 0 1 0 1.8 0a.9 25.9 0 1 0 -1.8 0M367.1 164.4a.9 22.4 0 1 0 1.8 0a.9 22.4 0 1 0 -1.8 0M382.8 165.2a.9 19.9 0 1 0 1.8 0a.9 19.9 0 1 0 -1.8 0M397.8 173.6a.9 10.8 0 1 0 1.8 0a.9 10.8 0 1 0 -1.8 0M412.1 164.2a.9 16.4 0 1 0 1.8 0a.9 16.4 0 1 0 -1.8 0M426.8 130.2a.9 7.7 0 1 0 1.8 0a.9 7.7 0 1 0 -1.8 0M426.8 171.2a.9 7.7 0 1 0 1.8 0a.9 7.7 0 1 0 -1.8 0M440.1 174.8a.9 2.8 0 1 0 1.8 0a.9 2.8 0 1 0 -1.8 0M297.1 157a.9 24.5 0 1 0 1.8 0a.9 24.5 0 1 0 -1.8 0M315.1 161.2a.9 25.2 0 1 0 1.8 0a.9 25.2 0 1 0 -1.8 0M269.1 165.2a.9 23.4 0 1 0 1.8 0a.9 23.4 0 1 0 -1.8 0M258.1 174.8a.9 20.3 0 1 0 1.8 0a.9 20.3 0 1 0 -1.8 0M247.1 180a.9 17.5 0 1 0 1.8 0a.9 17.5 0 1 0 -1.8 0M236.1 178a.9 19.2 0 1 0 1.8 0a.9 19.2 0 1 0 -1.8 0M225.1 181.2a.9 18.2 0 1 0 1.8 0a.9 18.2 0 1 0 -1.8 0M213.1 181.8a.9 18.5 0 1 0 1.8 0a.9 18.5 0 1 0 -1.8 0M202.1 184.4a.9 17.1 0 1 0 1.8 0a.9 17.1 0 1 0 -1.8 0M277.1 173a.9 19.2 0 1 0 1.8 0a.9 19.2 0 1 0 -1.8 0M286.1 175a.9 17.5 0 1 0 1.8 0a.9 17.5 0 1 0 -1.8 0M305.1 173a.9 19.2 0 1 0 1.8 0a.9 19.2 0 1 0 -1.8 0M78.8 62.8a.7 13.3 0 1 0 1.3 0a.7 13.3 0 1 0 -1.3 0M113.3 73.2a.7 4.2 0 1 0 1.3 0a.7 4.2 0 1 0 -1.3 0M140.3 80.4a.7 8.4 0 1 0 1.3 0a.7 8.4 0 1 0 -1.3 0M142.3 106a.7 3.5 0 1 0 1.3 0a.7 3.5 0 1 0 -1.3 0M114.1 119.4a.9 4.9 0 1 0 1.8 0a.9 4.9 0 1 0 -1.8 0M291 56.4a.7 6.6 0 1 0 1.3 0a.7 6.6 0 1 0 -1.3 0M329.8 67.2a.7 5.9 0 1 0 1.3 0a.7 5.9 0 1 0 -1.3 0M356.9 63.4a.7 10.1 0 1 0 1.3 0a.7 10.1 0 1 0 -1.3 0M388.8 65.8a.7 25.5 0 1 0 1.3 0a.7 25.5 0 1 0 -1.3 0M427.9 126.8a.9 6.3 0 1 0 1.8 0a.9 6.3 0 1 0 -1.8 0"/><path fill="#59c5c4" fill-opacity="0.9" d="M62.1 223.7a1.3 3.8 0 1 0 2.6 0a1.3 3.8 0 1 0 -2.6 0M76.8 219.7a1.1 4.8 0 1 0 2.2 0a1.1 4.8 0 1 0 -2.2 0M74.3 220.6a.9 3.9 0 1 0 1.8 0a.9 3.9 0 1 0 -1.8 0M83.9 217.8a1.3 5.2 0 1 0 2.6 0a1.3 5.2 0 1 0 -2.6 0M86.6 219.1a1.2 3.9 0 1 0 2.4 0a1.2 3.9 0 1 0 -2.4 0M83.5 219.5a1.3 3.5 0 1 0 2.5 0a1.3 3.5 0 1 0 -2.5 0M102.2 216.1a1.3 3.9 0 1 0 2.6 0a1.3 3.9 0 1 0 -2.6 0M114.8 214.1a1.1 4.4 0 1 0 2.2 0a1.1 4.4 0 1 0 -2.2 0M115.2 213.2a1.3 5.3 0 1 0 2.6 0a1.3 5.3 0 1 0 -2.6 0M130.6 211.2a1.2 5.3 0 1 0 2.3 0a1.2 5.3 0 1 0 -2.3 0M157.8 207.7a1.3 6.3 0 1 0 2.5 0a1.3 6.3 0 1 0 -2.5 0M167.4 209.4a1.4 4.1 0 1 0 2.7 0a1.4 4.1 0 1 0 -2.7 0M178.8 208a1.2 4.5 0 1 0 2.4 0a1.2 4.5 0 1 0 -2.4 0M188.2 205.4a1.1 6.1 0 1 0 2.3 0a1.1 6.1 0 1 0 -2.3 0M187.8 206.3a1 5.2 0 1 0 2 0a1 5.2 0 1 0 -2 0"/><path fill="#5fcdb4" fill-opacity="0.7" d="M247.3 173.5a1.2 2.8 0 1 0 2.4 0a1.2 2.8 0 1 0 -2.4 0M210.7 183.5a1.9 3 0 1 0 3.9 0a1.9 3 0 1 0 -3.9 0M249.4 182.8a1.1 2.6 0 1 0 2.2 0a1.1 2.6 0 1 0 -2.2 0M398.7 185.2a1.2 4 0 1 0 2.4 0a1.2 4 0 1 0 -2.4 0M260.7 196.2a1.7 1.8 0 1 0 3.3 0a1.7 1.8 0 1 0 -3.3 0M220.1 181.5a1.2 3.9 0 1 0 2.4 0a1.2 3.9 0 1 0 -2.4 0M192.8 193.8a1.9 3.7 0 1 0 3.7 0a1.9 3.7 0 1 0 -3.7 0M288.3 191.4a1 4 0 1 0 2.1 0a1 4 0 1 0 -2.1 0M363 179.1a1.3 3.1 0 1 0 2.7 0a1.3 3.1 0 1 0 -2.7 0M259.6 199.4a1.4 3.5 0 1 0 2.9 0a1.4 3.5 0 1 0 -2.9 0M217.9 184.1a1.7 3.5 0 1 0 3.3 0a1.7 3.5 0 1 0 -3.3 0M253.4 176.7a1.4 2.3 0 1 0 2.7 0a1.4 2.3 0 1 0 -2.7 0M279 183.3a1 2.7 0 1 0 2 0a1 2.7 0 1 0 -2 0M374.3 180.2a1.1 4 0 1 0 2.3 0a1.1 4 0 1 0 -2.3 0M227.1 173.7a1.4 3.1 0 1 0 2.9 0a1.4 3.1 0 1 0 -2.9 0M272.9 174.6a1.1 1.5 0 1 0 2.2 0a1.1 1.5 0 1 0 -2.2 0M267.8 187a1.2 1.5 0 1 0 2.4 0a1.2 1.5 0 1 0 -2.4 0M267.5 200.4a1 2.2 0 1 0 2.1 0a1 2.2 0 1 0 -2.1 0M406.7 174.9a1.6 2.6 0 1 0 3.1 0a1.6 2.6 0 1 0 -3.1 0M193.3 182a1.6 3.3 0 1 0 3.2 0a1.6 3.3 0 1 0 -3.2 0M221.8 204.1a1.6 1.8 0 1 0 3.1 0a1.6 1.8 0 1 0 -3.1 0M301.2 179.8a1.2 1.8 0 1 0 2.5 0a1.2 1.8 0 1 0 -2.5 0M258.9 196.8a1.5 1.7 0 1 0 3.1 0a1.5 1.7 0 1 0 -3.1 0M239.4 189.4a1.2 3.6 0 1 0 2.3 0a1.2 3.6 0 1 0 -2.3 0M228.6 192.2a1.6 1.8 0 1 0 3.3 0a1.6 1.8 0 1 0 -3.3 0M301.1 195.8a1.3 1.6 0 1 0 2.6 0a1.3 1.6 0 1 0 -2.6 0M274.4 178.2a1.5 3.8 0 1 0 3 0a1.5 3.8 0 1 0 -3 0M282.6 176a1.4 2.4 0 1 0 2.7 0a1.4 2.4 0 1 0 -2.7 0M407.9 174.9a1.9 3.4 0 1 0 3.8 0a1.9 3.4 0 1 0 -3.8 0M200.7 179.5a1.4 2.8 0 1 0 2.8 0a1.4 2.8 0 1 0 -2.8 0M250.3 171a1.1 3 0 1 0 2.3 0a1.1 3 0 1 0 -2.3 0M292.8 168.4a1.9 3 0 1 0 3.7 0a1.9 3 0 1 0 -3.7 0M243.8 193.8a1.4 3.9 0 1 0 2.8 0a1.4 3.9 0 1 0 -2.8 0M330.8 193.7a1.8 3.6 0 1 0 3.5 0a1.8 3.6 0 1 0 -3.5 0M208.4 207.4a1.1 3.7 0 1 0 2.2 0a1.1 3.7 0 1 0 -2.2 0M287.5 171.6a1.6 2.7 0 1 0 3.2 0a1.6 2.7 0 1 0 -3.2 0M205.2 179.3a1.5 3.4 0 1 0 2.9 0a1.5 3.4 0 1 0 -2.9 0M224.5 197a1.2 2.2 0 1 0 2.4 0a1.2 2.2 0 1 0 -2.4 0M225.2 180.2a1.7 2 0 1 0 3.4 0a1.7 2 0 1 0 -3.4 0M294 177a1.2 2.3 0 1 0 2.4 0a1.2 2.3 0 1 0 -2.4 0M245.6 178.6a1.2 3.1 0 1 0 2.3 0a1.2 3.1 0 1 0 -2.3 0M251.8 186.5a1.7 2.8 0 1 0 3.4 0a1.7 2.8 0 1 0 -3.4 0M340.6 184.5a1.9 2.5 0 1 0 3.7 0a1.9 2.5 0 1 0 -3.7 0M401.3 178.5a1.4 3.6 0 1 0 2.8 0a1.4 3.6 0 1 0 -2.8 0M232.5 191.9a1.8 3.7 0 1 0 3.7 0a1.8 3.7 0 1 0 -3.7 0M247 176.3a1.2 3.2 0 1 0 2.3 0a1.2 3.2 0 1 0 -2.3 0M432.9 171.4a1.2 3.5 0 1 0 2.3 0a1.2 3.5 0 1 0 -2.3 0M286.7 169.2a1.9 3.2 0 1 0 3.8 0a1.9 3.2 0 1 0 -3.8 0M219.7 200.9a1.4 2.4 0 1 0 2.9 0a1.4 2.4 0 1 0 -2.9 0M200.9 191.2a1.3 2.9 0 1 0 2.6 0a1.3 2.9 0 1 0 -2.6 0M223.8 200.8a1.9 3.2 0 1 0 3.9 0a1.9 3.2 0 1 0 -3.9 0M310.3 189.7a1.5 2.4 0 1 0 3 0a1.5 2.4 0 1 0 -3 0M301.4 196.5a2 3.1 0 1 0 4 0a2 3.1 0 1 0 -4 0M295.1 168.2a1.2 1.9 0 1 0 2.4 0a1.2 1.9 0 1 0 -2.4 0M209.1 194.5a2 3.8 0 1 0 3.9 0a2 3.8 0 1 0 -3.9 0M220.1 180a1.3 3.1 0 1 0 2.6 0a1.3 3.1 0 1 0 -2.6 0M405.9 173.6a1.4 3.7 0 1 0 2.8 0a1.4 3.7 0 1 0 -2.8 0M416.3 172.2a1.8 3.5 0 1 0 3.6 0a1.8 3.5 0 1 0 -3.6 0M255.8 172.8a1.4 3.9 0 1 0 2.7 0a1.4 3.9 0 1 0 -2.7 0"/><path fill="#66cb8c" fill-opacity="0.9" d="M190.3 204.4a.8 3.1 0 1 0 1.6 0a.8 3.1 0 1 0 -1.6 0M193.3 203.8a.8 3.8 0 1 0 1.6 0a.8 3.8 0 1 0 -1.6 0M195 207.7a.8 2.1 0 1 0 1.6 0a.8 2.1 0 1 0 -1.6 0M202.5 199.7a.8 5.3 0 1 0 1.6 0a.8 5.3 0 1 0 -1.6 0M205.2 200a.8 4.1 0 1 0 1.6 0a.8 4.1 0 1 0 -1.6 0M207.3 196.1a.8 4.9 0 1 0 1.6 0a.8 4.9 0 1 0 -1.6 0M209.4 198.8a.8 4.1 0 1 0 1.6 0a.8 4.1 0 1 0 -1.6 0M217.1 204.3a.8 3.8 0 1 0 1.6 0a.8 3.8 0 1 0 -1.6 0M226.3 198.5a.8 3.6 0 1 0 1.6 0a.8 3.6 0 1 0 -1.6 0M229.9 194.9a.8 4.8 0 1 0 1.6 0a.8 4.8 0 1 0 -1.6 0M231.6 203.8a.8 2.6 0 1 0 1.6 0a.8 2.6 0 1 0 -1.6 0M233.8 202.5a.8 2 0 1 0 1.6 0a.8 2 0 1 0 -1.6 0M239.9 200.8a.8 4.2 0 1 0 1.6 0a.8 4.2 0 1 0 -1.6 0M247.6 200.2a.8 2.1 0 1 0 1.6 0a.8 2.1 0 1 0 -1.6 0M254.4 195.2a.8 3.5 0 1 0 1.6 0a.8 3.5 0 1 0 -1.6 0M257.3 195.9a.8 6 0 1 0 1.6 0a.8 6 0 1 0 -1.6 0M260.1 200.7a.8 2.1 0 1 0 1.6 0a.8 2.1 0 1 0 -1.6 0M268.6 194.6a.8 5.9 0 1 0 1.6 0a.8 5.9 0 1 0 -1.6 0M270.8 196.5a.8 3.8 0 1 0 1.6 0a.8 3.8 0 1 0 -1.6 0M279.4 199.7a.8 1.8 0 1 0 1.6 0a.8 1.8 0 1 0 -1.6 0M286.7 197.1a.8 4.4 0 1 0 1.6 0a.8 4.4 0 1 0 -1.6 0M291.7 194.9a.8 6.1 0 1 0 1.6 0a.8 6.1 0 1 0 -1.6 0M293.5 196.8a.8 2.8 0 1 0 1.6 0a.8 2.8 0 1 0 -1.6 0M298.7 188.3a.8 4.8 0 1 0 1.6 0a.8 4.8 0 1 0 -1.6 0M300.9 195.6a.8 2.9 0 1 0 1.6 0a.8 2.9 0 1 0 -1.6 0M337.5 192.3a.8 2.8 0 1 0 1.6 0a.8 2.8 0 1 0 -1.6 0M363 188.4a.8 2.1 0 1 0 1.6 0a.8 2.1 0 1 0 -1.6 0M386.9 184.2a.8 3 0 1 0 1.6 0a.8 3 0 1 0 -1.6 0M395.6 184.4a.8 3 0 1 0 1.6 0a.8 3 0 1 0 -1.6 0M403.3 183.1a.8 2.6 0 1 0 1.6 0a.8 2.6 0 1 0 -1.6 0M417 183.1a.8 1.8 0 1 0 1.6 0a.8 1.8 0 1 0 -1.6 0M423.8 177.4a.8 3.1 0 1 0 1.6 0a.8 3.1 0 1 0 -1.6 0M440.1 177.3a.8 2.9 0 1 0 1.6 0a.8 2.9 0 1 0 -1.6 0"/><path fill="#66cb8c" d="M333.8 166.4a.7 13.3 0 1 0 1.4 0a.7 13.3 0 1 0 -1.4 0M367.3 167.6a.7 11.2 0 1 0 1.4 0a.7 11.2 0 1 0 -1.4 0M398 175.2a.7 5.4 0 1 0 1.4 0a.7 5.4 0 1 0 -1.4 0M412.3 166.6a.7 8.2 0 1 0 1.4 0a.7 8.2 0 1 0 -1.4 0M427 172.3a.7 3.8 0 1 0 1.4 0a.7 3.8 0 1 0 -1.4 0M269.3 168.6a.7 11.7 0 1 0 1.4 0a.7 11.7 0 1 0 -1.4 0M258.3 177.7a.7 10.1 0 1 0 1.4 0a.7 10.1 0 1 0 -1.4 0M247.3 182.5a.7 8.8 0 1 0 1.4 0a.7 8.8 0 1 0 -1.4 0M236.3 180.8a.7 9.6 0 1 0 1.4 0a.7 9.6 0 1 0 -1.4 0M225.3 183.8a.7 9.1 0 1 0 1.4 0a.7 9.1 0 1 0 -1.4 0M213.3 184.4a.7 9.3 0 1 0 1.4 0a.7 9.3 0 1 0 -1.4 0M202.3 186.8a.7 8.6 0 1 0 1.4 0a.7 8.6 0 1 0 -1.4 0M277.3 175.8a.7 9.6 0 1 0 1.4 0a.7 9.6 0 1 0 -1.4 0M286.3 177.5a.7 8.8 0 1 0 1.4 0a.7 8.8 0 1 0 -1.4 0M305.3 175.8a.7 9.6 0 1 0 1.4 0a.7 9.6 0 1 0 -1.4 0M78.7 64.7a.7 6.6 0 1 0 1.4 0a.7 6.6 0 1 0 -1.4 0M114.3 120.1a.7 2.4 0 1 0 1.4 0a.7 2.4 0 1 0 -1.4 0M290.9 57.4a.7 3.3 0 1 0 1.4 0a.7 3.3 0 1 0 -1.4 0M329.7 68a.7 3 0 1 0 1.4 0a.7 3 0 1 0 -1.4 0M356.8 64.8a.7 5.1 0 1 0 1.4 0a.7 5.1 0 1 0 -1.4 0M85.2 218a1.4 4 0 1 0 2.8 0a1.4 4 0 1 0 -2.8 0M113.6 213.5a1.4 4 0 1 0 2.8 0a1.4 4 0 1 0 -2.8 0M140.6 210.5a1.4 4 0 1 0 2.8 0a1.4 4 0 1 0 -2.8 0M156.6 209a1.4 4 0 1 0 2.8 0a1.4 4 0 1 0 -2.8 0M165.6 208.5a1.4 4 0 1 0 2.8 0a1.4 4 0 1 0 -2.8 0M178.6 207.5a1.4 4 0 1 0 2.8 0a1.4 4 0 1 0 -2.8 0M189.6 206.5a1.4 4 0 1 0 2.8 0a1.4 4 0 1 0 -2.8 0M200.6 205a1.4 4 0 1 0 2.8 0a1.4 4 0 1 0 -2.8 0M211.6 203.5a1.4 4 0 1 0 2.8 0a1.4 4 0 1 0 -2.8 0"/><path fill="#6dc965" d="M213.9 194.5a1.4 2.8 0 1 0 2.7 0a1.4 2.8 0 1 0 -2.7 0M224.2 194.4a1.6 3.2 0 1 0 3.2 0a1.6 3.2 0 1 0 -3.2 0M235 192.3a1.4 2.9 0 1 0 2.8 0a1.4 2.9 0 1 0 -2.8 0M245.7 191.7a1.3 2.6 0 1 0 2.7 0a1.3 2.6 0 1 0 -2.7 0M256.5 189.4a1.7 2.7 0 1 0 3.3 0a1.7 2.7 0 1 0 -3.3 0M268.3 192.1a1.6 3.5 0 1 0 3.1 0a1.6 3.5 0 1 0 -3.1 0M280.2 190.4a1.2 3.2 0 1 0 2.5 0a1.2 3.2 0 1 0 -2.5 0M289.7 189a1.6 3.4 0 1 0 3.2 0a1.6 3.4 0 1 0 -3.2 0M301.5 186.1a1.5 3.4 0 1 0 3.1 0a1.5 3.4 0 1 0 -3.1 0M312.9 186.7a1.5 3.3 0 1 0 3 0a1.5 3.3 0 1 0 -3 0M325.2 189.6a1.7 2.9 0 1 0 3.4 0a1.7 2.9 0 1 0 -3.4 0M338.9 184.8a1.3 3.1 0 1 0 2.7 0a1.3 3.1 0 1 0 -2.7 0M351.6 181.1a1.2 3.3 0 1 0 2.5 0a1.2 3.3 0 1 0 -2.5 0M361.1 185.2a1.4 3.3 0 1 0 2.8 0a1.4 3.3 0 1 0 -2.8 0M373 184.3a1.7 3.1 0 1 0 3.3 0a1.7 3.1 0 1 0 -3.3 0M220.6 187.5a1.4 2.7 0 1 0 2.8 0a1.4 2.7 0 1 0 -2.8 0M230.5 177.3a1.6 2.9 0 1 0 3.3 0a1.6 2.9 0 1 0 -3.3 0M244.1 181a1.7 2.9 0 1 0 3.4 0a1.7 2.9 0 1 0 -3.4 0M261.7 181.3a1.4 3.1 0 1 0 2.7 0a1.4 3.1 0 1 0 -2.7 0M284.7 179.3a1.4 2.6 0 1 0 2.7 0a1.4 2.6 0 1 0 -2.7 0M297.4 176.4a1.6 2.7 0 1 0 3.1 0a1.6 2.7 0 1 0 -3.1 0M334.9 177.7a1.6 3.3 0 1 0 3.1 0a1.6 3.3 0 1 0 -3.1 0"/><path fill="#74c955" d="M226.3 200.3a.8 4 0 1 0 1.6 0a.8 4 0 1 0 -1.6 0M300.9 194.1a.8 6.9 0 1 0 1.6 0a.8 6.9 0 1 0 -1.6 0"/><path fill="#8ace56" d="M350.3 167.1a.7 12.9 0 1 0 1.4 0a.7 12.9 0 1 0 -1.4 0M383 168.1a.7 10 0 1 0 1.4 0a.7 10 0 1 0 -1.4 0M427 131.3a.7 3.8 0 1 0 1.4 0a.7 3.8 0 1 0 -1.4 0M388.7 69.5a.7 12.8 0 1 0 1.4 0a.7 12.8 0 1 0 -1.4 0"/><path fill="#e1e45a" d="M239.9 200.7a.8 6.4 0 1 0 1.6 0a.8 6.4 0 1 0 -1.6 0M254.4 197.9a.8 4.5 0 1 0 1.6 0a.8 4.5 0 1 0 -1.6 0M260.1 197a.8 5.2 0 1 0 1.6 0a.8 5.2 0 1 0 -1.6 0"/><path fill="#e7bf45" d="M156.9 209a1.1 3 0 1 0 2.2 0a1.1 3 0 1 0 -2.2 0M224.2 194.5a1.3 2.8 0 1 0 2.6 0a1.3 2.8 0 1 0 -2.6 0M246.3 192a1.1 2.4 0 1 0 2.2 0a1.1 2.4 0 1 0 -2.2 0M257 188.3a1.1 2.7 0 1 0 2.2 0a1.1 2.7 0 1 0 -2.2 0M268.7 192.3a1 2.6 0 1 0 2 0a1 2.6 0 1 0 -2 0M280.1 189.9a1.4 2.9 0 1 0 2.7 0a1.4 2.9 0 1 0 -2.7 0M351.6 181.8a1.2 2.7 0 1 0 2.4 0a1.2 2.7 0 1 0 -2.4 0M372.7 184.6a1.3 2.3 0 1 0 2.7 0a1.3 2.3 0 1 0 -2.7 0M245.1 180.9a1.2 2.4 0 1 0 2.5 0a1.2 2.4 0 1 0 -2.5 0M297.9 176.3a1.3 2.2 0 1 0 2.7 0a1.3 2.2 0 1 0 -2.7 0"/><path fill="#ee9b30" d="M231.6 194.5a.8 3.6 0 1 0 1.6 0a.8 3.6 0 1 0 -1.6 0M233.8 195.7a.8 4.2 0 1 0 1.6 0a.8 4.2 0 1 0 -1.6 0M291.7 193.6a.8 6.6 0 1 0 1.6 0a.8 6.6 0 1 0 -1.6 0M298.7 192.5a.8 5.9 0 1 0 1.6 0a.8 5.9 0 1 0 -1.6 0M178.9 207.5a1.1 3 0 1 0 2.2 0a1.1 3 0 1 0 -2.2 0"/><path fill="#ea7526" d="M202.5 201.3a.8 5.8 0 1 0 1.6 0a.8 5.8 0 1 0 -1.6 0M207.3 199.4a.8 3.7 0 1 0 1.6 0a.8 3.7 0 1 0 -1.6 0M247.6 192.2a.8 2.7 0 1 0 1.6 0a.8 2.7 0 1 0 -1.6 0M293.5 193.5a.8 5.5 0 1 0 1.6 0a.8 5.5 0 1 0 -1.6 0M337.5 190.8a.8 5.9 0 1 0 1.6 0a.8 5.9 0 1 0 -1.6 0M417 177.4a.8 3.4 0 1 0 1.6 0a.8 3.4 0 1 0 -1.6 0M440.1 170.7a.8 4.4 0 1 0 1.6 0a.8 4.4 0 1 0 -1.6 0M113.9 213.5a1.1 3 0 1 0 2.2 0a1.1 3 0 1 0 -2.2 0M200.9 205a1.1 3 0 1 0 2.2 0a1.1 3 0 1 0 -2.2 0"/><path fill="#e15022" d="M350.4 170.8a.6 7.4 0 1 0 1.2 0a.6 7.4 0 1 0 -1.2 0M383.1 170.9a.6 5.7 0 1 0 1.2 0a.6 5.7 0 1 0 -1.2 0M388.8 73.1a.6 7.3 0 1 0 1.2 0a.6 7.3 0 1 0 -1.2 0M85.5 218a1.1 3 0 1 0 2.2 0a1.1 3 0 1 0 -2.2 0M140.9 210.5a1.1 3 0 1 0 2.2 0a1.1 3 0 1 0 -2.2 0M165.9 208.5a1.1 3 0 1 0 2.2 0a1.1 3 0 1 0 -2.2 0M189.9 206.5a1.1 3 0 1 0 2.2 0a1.1 3 0 1 0 -2.2 0M211.9 203.5a1.1 3 0 1 0 2.2 0a1.1 3 0 1 0 -2.2 0"/><path fill="#d72a1e" d="M190.3 203.9a.8 5.1 0 1 0 1.6 0a.8 5.1 0 1 0 -1.6 0M229.9 199.7a.8 6.7 0 1 0 1.6 0a.8 6.7 0 1 0 -1.6 0M270.8 191.6a.8 6.8 0 1 0 1.6 0a.8 6.8 0 1 0 -1.6 0M286.7 190.3a.8 3.6 0 1 0 1.6 0a.8 3.6 0 1 0 -1.6 0M386.9 179a.8 6.3 0 1 0 1.6 0a.8 6.3 0 1 0 -1.6 0M395.6 176.4a.8 6.4 0 1 0 1.6 0a.8 6.4 0 1 0 -1.6 0M280.2 190.3a1 2.3 0 1 0 2 0a1 2.3 0 1 0 -2 0M245 180.6a1 2.3 0 1 0 2 0a1 2.3 0 1 0 -2 0M298.1 175.7a1.1 1.8 0 1 0 2.1 0a1.1 1.8 0 1 0 -2.1 0"/><path d="M213,22 Q217,55 239.5,120" stroke="#46b4dc" stroke-width="3.6" fill="none" opacity="0.85"/><path d="M214,30 Q218,58 238,112" stroke="#6ed2c8" stroke-width="1.8" fill="none"/><path d="M224,72 Q230,92 237,110" stroke="#96dc82" stroke-width="1.4" fill="none"/></g>
<polygon points="40,233 60,229 100,221.5 140,215 185,212.5 220,208.5 260,204.4 300,202 340,198.4 380,190.5 420,185 450,180 470,176.7 534,160 534,246 40,246" fill="#5853a8" filter="url(#b06)"/>
<path d="M150,215 L260,246 M100,222 L190,246" stroke="#4b48a0" stroke-width="1" opacity="0.6"/>
<rect x="509" y="22" width="5" height="224" fill="#3e48a8" opacity="0.8" filter="url(#b06)"/>
</g>
<path d="M47,22.5H534M47,245.8H534M533.5,22V246" stroke="#323c96" stroke-width="1" fill="none"/>
<rect x="438" y="219" width="91" height="24" fill="#fff" stroke="#ddd" stroke-width="0.6"/>
<rect x="454" y="225.3" width="61.3" height="6.2" fill="url(#lg)"/>
<g font-family="Liberation Serif, serif" font-size="7" fill="#222"><text x="452.5" y="239.3" text-anchor="middle">0</text><text x="476" y="239.3" text-anchor="middle">20000</text><text x="502.7" y="239.3" text-anchor="middle">40000</text></g>
<g clip-path="url(#cb)">
<rect x="46" y="328" width="485" height="200" fill="#3448a5"/>
<rect x="265.4" y="401.9" width="1.6" height="47.3" fill="#2e40a0" opacity="0.5"/>
<rect x="460.7" y="353.1" width="1.6" height="43.1" fill="#2e40a0" opacity="0.5"/>
<rect x="430.6" y="340.4" width="1.1" height="25.6" fill="#2e40a0" opacity="0.5"/>
<rect x="353.7" y="406.6" width="1.5" height="28.9" fill="#2e40a0" opacity="0.5"/>
<rect x="344.5" y="348.8" width="1.6" height="15.5" fill="#4a4aa8" opacity="0.5"/>
<rect x="63.3" y="444.1" width="1.9" height="36" fill="#3e56b4" opacity="0.5"/>
<rect x="259.7" y="439.2" width="1.8" height="33.2" fill="#3e56b4" opacity="0.5"/>
<rect x="48.2" y="339.2" width="1.5" height="37.9" fill="#2e40a0" opacity="0.5"/>
<rect x="528.9" y="438.9" width="1.4" height="39.8" fill="#4a4aa8" opacity="0.5"/>
<rect x="294.7" y="331.9" width="1.1" height="34.7" fill="#4a4aa8" opacity="0.5"/>
<rect x="456.6" y="379" width="2" height="48.5" fill="#4a4aa8" opacity="0.5"/>
<rect x="149.5" y="450.4" width="1.5" height="16.8" fill="#2e40a0" opacity="0.5"/>
<rect x="238.8" y="337.6" width="1.9" height="37" fill="#3e56b4" opacity="0.5"/>
<rect x="209.4" y="369.1" width="1.5" height="15.5" fill="#4a4aa8" opacity="0.5"/>
<rect x="111.3" y="421.3" width="1.6" height="15.4" fill="#3e56b4" opacity="0.5"/>
<rect x="132.2" y="401.8" width="1.2" height="30.7" fill="#2e40a0" opacity="0.5"/>
<rect x="419.2" y="383.3" width="1.5" height="28.4" fill="#4a4aa8" opacity="0.5"/>
<rect x="46.2" y="442.1" width="1.7" height="49.1" fill="#4a4aa8" opacity="0.5"/>
<rect x="148.2" y="380" width="1.8" height="44.9" fill="#4a4aa8" opacity="0.5"/>
<rect x="66.4" y="347.3" width="1" height="30.5" fill="#2e40a0" opacity="0.5"/>
<rect x="205.5" y="367.1" width="1.1" height="17.6" fill="#2e40a0" opacity="0.5"/>
<rect x="354.7" y="330" width="1.7" height="27.9" fill="#4a4aa8" opacity="0.5"/>
<rect x="511.2" y="391.9" width="2" height="35.1" fill="#4a4aa8" opacity="0.5"/>
<rect x="350.2" y="369" width="1.7" height="23" fill="#2e40a0" opacity="0.5"/>
<rect x="138.1" y="425.6" width="1.2" height="47.9" fill="#3e56b4" opacity="0.5"/>
<rect x="473.9" y="407.7" width="1.1" height="29.8" fill="#4a4aa8" opacity="0.5"/>
<rect x="294.5" y="361.7" width="1.5" height="40.9" fill="#3e56b4" opacity="0.5"/>
<rect x="445.5" y="406.7" width="1.2" height="25.3" fill="#2e40a0" opacity="0.5"/>
<rect x="519.9" y="344.7" width="1.8" height="31.8" fill="#2e40a0" opacity="0.5"/>
<rect x="343.9" y="365" width="1.2" height="47.1" fill="#4a4aa8" opacity="0.5"/>
<rect x="79.5" y="382.3" width="1.1" height="23.7" fill="#3e56b4" opacity="0.5"/>
<rect x="224.9" y="403.5" width="1.4" height="19.6" fill="#3e56b4" opacity="0.5"/>
<rect x="521.5" y="414.7" width="1.7" height="39.2" fill="#4a4aa8" opacity="0.5"/>
<rect x="332.1" y="449.9" width="1.4" height="31.6" fill="#3e56b4" opacity="0.5"/>
<rect x="512.9" y="330.8" width="1.6" height="37.3" fill="#2e40a0" opacity="0.5"/>
<rect x="196.9" y="346" width="1.5" height="17.5" fill="#3e56b4" opacity="0.5"/>
<rect x="403.4" y="446.8" width="1.8" height="40.8" fill="#3e56b4" opacity="0.5"/>
<rect x="216.6" y="418.4" width="2" height="46.5" fill="#3e56b4" opacity="0.5"/>
<rect x="504" y="332" width="1" height="32.5" fill="#2e40a0" opacity="0.5"/>
<rect x="231.4" y="404.9" width="1.1" height="36.3" fill="#2e40a0" opacity="0.5"/>
<rect x="102.1" y="362" width="1.4" height="29.6" fill="#2e40a0" opacity="0.5"/>
<rect x="382.7" y="388.4" width="1.6" height="31.2" fill="#2e40a0" opacity="0.5"/>
<rect x="409.9" y="331.9" width="1.6" height="36" fill="#4a4aa8" opacity="0.5"/>
<rect x="510.3" y="342.9" width="1.8" height="42.3" fill="#3e56b4" opacity="0.5"/>
<rect x="170.1" y="329.5" width="1.8" height="25.5" fill="#4a4aa8" opacity="0.5"/>
<rect x="297.4" y="427.5" width="2.1" height="27" fill="#3e56b4" opacity="0.5"/>
<rect x="478.5" y="371.2" width="1.2" height="38.3" fill="#3e56b4" opacity="0.5"/>
<rect x="435.8" y="427.6" width="1.3" height="22" fill="#4a4aa8" opacity="0.5"/>
<rect x="328.8" y="369.8" width="1.6" height="19.8" fill="#4a4aa8" opacity="0.5"/>
<rect x="390.9" y="453.4" width="1.2" height="24.7" fill="#3e56b4" opacity="0.5"/>
<rect x="274.6" y="450.2" width="1.5" height="44.1" fill="#2e40a0" opacity="0.5"/>
<rect x="285.5" y="369.6" width="2.2" height="44.4" fill="#3e56b4" opacity="0.5"/>
<rect x="201.4" y="437.4" width="1.7" height="24.7" fill="#2e40a0" opacity="0.5"/>
<rect x="389.7" y="403.3" width="1.9" height="25.8" fill="#4a4aa8" opacity="0.5"/>
<rect x="356.9" y="381.5" width="1.9" height="21.6" fill="#3e56b4" opacity="0.5"/>
<rect x="161.1" y="346.6" width="1.8" height="16.6" fill="#3e56b4" opacity="0.5"/>
<rect x="98.9" y="398.7" width="1.4" height="37.4" fill="#4a4aa8" opacity="0.5"/>
<rect x="378" y="354.3" width="1.2" height="31.6" fill="#4a4aa8" opacity="0.5"/>
<rect x="412.2" y="398.6" width="1.3" height="16.3" fill="#3e56b4" opacity="0.5"/>
<rect x="307.7" y="453" width="2.2" height="32.5" fill="#4a4aa8" opacity="0.5"/>
<rect x="236.9" y="432.5" width="1.1" height="46.7" fill="#2e40a0" opacity="0.5"/>
<rect x="234.2" y="387.5" width="2.1" height="21.9" fill="#4a4aa8" opacity="0.5"/>
<rect x="228.7" y="403.1" width="2" height="45.8" fill="#3e56b4" opacity="0.5"/>
<rect x="270.9" y="414" width="1.9" height="22.2" fill="#2e40a0" opacity="0.5"/>
<rect x="494.3" y="344.3" width="1.5" height="23.5" fill="#4a4aa8" opacity="0.5"/>
<rect x="520" y="398.9" width="1.4" height="42.7" fill="#2e40a0" opacity="0.5"/>
<rect x="461.1" y="374" width="1.5" height="17.9" fill="#2e40a0" opacity="0.5"/>
<rect x="250.4" y="364.3" width="1.3" height="47.2" fill="#4a4aa8" opacity="0.5"/>
<rect x="254" y="332.6" width="1.8" height="33.7" fill="#4a4aa8" opacity="0.5"/>
<rect x="274.2" y="460" width="1.6" height="46.5" fill="#2e40a0" opacity="0.5"/>
<rect x="380.3" y="452.8" width="2.1" height="32.2" fill="#4a4aa8" opacity="0.5"/>
<rect x="413.6" y="386" width="2" height="34.6" fill="#2e40a0" opacity="0.5"/>
<rect x="355.9" y="397" width="1.7" height="44.5" fill="#3e56b4" opacity="0.5"/>
<rect x="371.6" y="454" width="1.7" height="45.5" fill="#3e56b4" opacity="0.5"/>
<rect x="458.6" y="455.8" width="1.7" height="33.3" fill="#4a4aa8" opacity="0.5"/>
<rect x="245.4" y="343.1" width="1.5" height="15.2" fill="#2e40a0" opacity="0.5"/>
<rect x="516.2" y="396.1" width="2" height="29" fill="#2e40a0" opacity="0.5"/>
<rect x="105.1" y="340.3" width="2.1" height="20.8" fill="#3e56b4" opacity="0.5"/>
<rect x="246.7" y="454.3" width="1.3" height="47.3" fill="#3e56b4" opacity="0.5"/>
<rect x="285.1" y="372.8" width="2.1" height="46.5" fill="#3e56b4" opacity="0.5"/>
<rect x="300.6" y="342.3" width="1" height="29.7" fill="#3e56b4" opacity="0.5"/>
<rect x="108.8" y="430.9" width="1.2" height="15.8" fill="#4a4aa8" opacity="0.5"/>
<rect x="51.7" y="365.5" width="1.3" height="40.3" fill="#3e56b4" opacity="0.5"/>
<rect x="96.9" y="424.5" width="1.6" height="19.3" fill="#3e56b4" opacity="0.5"/>
<rect x="394.1" y="420.6" width="1" height="45.8" fill="#2e40a0" opacity="0.5"/>
<rect x="246.5" y="397.9" width="1.2" height="20.6" fill="#2e40a0" opacity="0.5"/>
<rect x="305" y="356.8" width="1.7" height="22.6" fill="#2e40a0" opacity="0.5"/>
<rect x="461.5" y="358.7" width="2" height="40.9" fill="#4a4aa8" opacity="0.5"/>
<rect x="199.2" y="369.6" width="1.3" height="47.3" fill="#4a4aa8" opacity="0.5"/>
<rect x="476.5" y="345.7" width="1.9" height="23.4" fill="#3e56b4" opacity="0.5"/>
<rect x="234.1" y="385.4" width="1.7" height="47.9" fill="#2e40a0" opacity="0.5"/>
<rect x="107.1" y="381.2" width="1" height="39" fill="#4a4aa8" opacity="0.5"/>
<rect x="322.4" y="375.2" width="1.4" height="43.7" fill="#2e40a0" opacity="0.5"/>
<rect x="291.3" y="428.1" width="1.8" height="32.6" fill="#4a4aa8" opacity="0.5"/>
<rect x="435.4" y="391.6" width="1.9" height="15.9" fill="#2e40a0" opacity="0.5"/>
<rect x="295.7" y="403.1" width="1.2" height="20.1" fill="#4a4aa8" opacity="0.5"/>
<rect x="129.7" y="348.9" width="1.8" height="24.9" fill="#2e40a0" opacity="0.5"/>
<rect x="76" y="453.6" width="1.9" height="31.2" fill="#3e56b4" opacity="0.5"/>
<rect x="235.6" y="384.3" width="1.3" height="27.4" fill="#3e56b4" opacity="0.5"/>
<rect x="52.4" y="420.5" width="1.2" height="44.5" fill="#3e56b4" opacity="0.5"/>
<rect x="220.4" y="376.9" width="1.7" height="47.3" fill="#4a4aa8" opacity="0.5"/>
<rect x="294.6" y="330" width="2" height="46.3" fill="#2e40a0" opacity="0.5"/>
<rect x="470.7" y="448" width="1.7" height="47.9" fill="#4a4aa8" opacity="0.5"/>
<rect x="290.6" y="457.7" width="1.3" height="43.2" fill="#4a4aa8" opacity="0.5"/>
<rect x="407.1" y="430.7" width="1.5" height="43.5" fill="#3e56b4" opacity="0.5"/>
<rect x="472.7" y="419.7" width="1.9" height="41.9" fill="#3e56b4" opacity="0.5"/>
<rect x="146.3" y="352.4" width="1.4" height="42.9" fill="#4a4aa8" opacity="0.5"/>
<rect x="51.1" y="374.9" width="1.7" height="37.4" fill="#4a4aa8" opacity="0.5"/>
<rect x="178.4" y="454.9" width="1.3" height="25.5" fill="#3e56b4" opacity="0.5"/>
<rect x="322.2" y="398.4" width="2.2" height="28.6" fill="#2e40a0" opacity="0.5"/>
<rect x="149.4" y="343.8" width="1.7" height="28.8" fill="#4a4aa8" opacity="0.5"/>
<rect x="344.5" y="425.5" width="1.5" height="24" fill="#4a4aa8" opacity="0.5"/>
<rect x="415.2" y="413.5" width="1.3" height="15.4" fill="#3e56b4" opacity="0.5"/>
<rect x="485.2" y="400.6" width="2.2" height="32.8" fill="#2e40a0" opacity="0.5"/>
<rect x="456.5" y="341.2" width="1.8" height="30.6" fill="#2e40a0" opacity="0.5"/>
<rect x="335.8" y="428.2" width="2.1" height="16.6" fill="#4a4aa8" opacity="0.5"/>
<rect x="233.2" y="456" width="1.7" height="44.9" fill="#2e40a0" opacity="0.5"/>
<rect x="74.4" y="452.8" width="1.6" height="29.7" fill="#2e40a0" opacity="0.5"/>
<rect x="197.5" y="398" width="1.3" height="31.9" fill="#3e56b4" opacity="0.5"/>
<rect x="367.8" y="426.7" width="1.9" height="15.9" fill="#2e40a0" opacity="0.5"/>
<polygon points="46,524 80,515 100,503 160,488 206,462 260,432 300,395 330,355 366,342 420,338 470,338 531,336 531,497.5 450,498 366,499.5 300,501 260,502 206,506 160,514 100,521 80,523 46,525" fill="#3e78cd" fill-opacity="0.42" filter="url(#b8)"/>
<polygon points="260,478 300,465 340,440 366,420 420,395 470,380 531,368 531,490 230,490" fill="#55b9e1" fill-opacity="0.8" filter="url(#b8)"/>
<g filter="url(#b06)"><path fill="#354eab" fill-opacity="0.7" d="M49.6 520.5a1 5.6 0 1 0 2 0a1 5.6 0 1 0 -2 0M411.5 454.8a1.1 7.4 0 1 0 2.2 0a1.1 7.4 0 1 0 -2.2 0M491.7 389.1a.9 10.1 0 1 0 1.7 0a.9 10.1 0 1 0 -1.7 0M412.8 450.2a1.3 7.8 0 1 0 2.5 0a1.3 7.8 0 1 0 -2.5 0M513.8 417.4a.9 9.5 0 1 0 1.7 0a.9 9.5 0 1 0 -1.7 0M433.5 389.9a1.6 9.2 0 1 0 3.2 0a1.6 9.2 0 1 0 -3.2 0M308.2 419.6a1.3 5.4 0 1 0 2.7 0a1.3 5.4 0 1 0 -2.7 0M254.2 469.2a1.4 10.3 0 1 0 2.8 0a1.4 10.3 0 1 0 -2.8 0M360.1 388a.9 7.6 0 1 0 1.8 0a.9 7.6 0 1 0 -1.8 0M137.4 494.9a1.5 6.2 0 1 0 3 0a1.5 6.2 0 1 0 -3 0M458.4 413.4a1.2 4.4 0 1 0 2.3 0a1.2 4.4 0 1 0 -2.3 0M308.4 449.2a1.1 4.3 0 1 0 2.1 0a1.1 4.3 0 1 0 -2.1 0M424 362.6a.9 7.8 0 1 0 1.9 0a.9 7.8 0 1 0 -1.9 0M449.9 404.6a.9 6.5 0 1 0 1.8 0a.9 6.5 0 1 0 -1.8 0M204 469.3a1.2 6.8 0 1 0 2.4 0a1.2 6.8 0 1 0 -2.4 0M312.1 422.7a1.3 9.3 0 1 0 2.7 0a1.3 9.3 0 1 0 -2.7 0M105.9 503.9a1.6 8.5 0 1 0 3.1 0a1.6 8.5 0 1 0 -3.1 0M501 412.5a1.4 8.8 0 1 0 2.8 0a1.4 8.8 0 1 0 -2.8 0M497.8 431.3a1.3 6.9 0 1 0 2.7 0a1.3 6.9 0 1 0 -2.7 0M486.3 393a.9 9.3 0 1 0 1.8 0a.9 9.3 0 1 0 -1.8 0M506.2 432.5a1 5.5 0 1 0 1.9 0a1 5.5 0 1 0 -1.9 0M74.2 519a1.6 8 0 1 0 3.2 0a1.6 8 0 1 0 -3.2 0M509.7 360.8a1 6.5 0 1 0 2 0a1 6.5 0 1 0 -2 0M234.9 471.9a1.2 9.1 0 1 0 2.4 0a1.2 9.1 0 1 0 -2.4 0M251.1 429.9a1 7.4 0 1 0 2 0a1 7.4 0 1 0 -2 0M128.5 496.3a1.4 5.5 0 1 0 2.9 0a1.4 5.5 0 1 0 -2.9 0M166.5 486.1a1.1 8.3 0 1 0 2.3 0a1.1 8.3 0 1 0 -2.3 0M161.8 484.6a1.2 6.5 0 1 0 2.4 0a1.2 6.5 0 1 0 -2.4 0M67.7 520.7a.8 7.3 0 1 0 1.6 0a.8 7.3 0 1 0 -1.6 0M255.5 446.6a.9 8.6 0 1 0 1.7 0a.9 8.6 0 1 0 -1.7 0M308.2 427.6a1.3 10.9 0 1 0 2.6 0a1.3 10.9 0 1 0 -2.6 0M463.3 342.2a.9 8.9 0 1 0 1.9 0a.9 8.9 0 1 0 -1.9 0M362.3 451.1a1.1 6.4 0 1 0 2.3 0a1.1 6.4 0 1 0 -2.3 0M217.7 477.3a1.4 9.6 0 1 0 2.7 0a1.4 9.6 0 1 0 -2.7 0M479.2 411a1.4 4.5 0 1 0 2.8 0a1.4 4.5 0 1 0 -2.8 0M380.5 459.2a.9 8.1 0 1 0 1.8 0a.9 8.1 0 1 0 -1.8 0M314.9 396.6a1.1 4 0 1 0 2.1 0a1.1 4 0 1 0 -2.1 0M178.3 485.7a1.2 5.6 0 1 0 2.4 0a1.2 5.6 0 1 0 -2.4 0M458.1 355.1a1.5 8.9 0 1 0 3 0a1.5 8.9 0 1 0 -3 0M507.4 390.6a.9 5.6 0 1 0 1.8 0a.9 5.6 0 1 0 -1.8 0M69.9 522.5a.8 4.8 0 1 0 1.7 0a.8 4.8 0 1 0 -1.7 0M395.9 454.1a1.2 5 0 1 0 2.5 0a1.2 5 0 1 0 -2.5 0M455.2 398a1.3 5.6 0 1 0 2.6 0a1.3 5.6 0 1 0 -2.6 0M429.3 437.8a1.4 10.4 0 1 0 2.9 0a1.4 10.4 0 1 0 -2.9 0M202.9 463.1a1.3 9.5 0 1 0 2.6 0a1.3 9.5 0 1 0 -2.6 0M88.8 510.9a.9 6.9 0 1 0 1.9 0a.9 6.9 0 1 0 -1.9 0M444.7 346.2a1.6 5.1 0 1 0 3.1 0a1.6 5.1 0 1 0 -3.1 0M209.9 460.7a1.2 6.9 0 1 0 2.5 0a1.2 6.9 0 1 0 -2.5 0M238.9 455.3a1.1 8.7 0 1 0 2.1 0a1.1 8.7 0 1 0 -2.1 0M283.3 423.8a1 6.1 0 1 0 2.1 0a1 6.1 0 1 0 -2.1 0M471.4 435.7a.8 9.1 0 1 0 1.7 0a.8 9.1 0 1 0 -1.7 0M179.4 484.2a1.4 10.4 0 1 0 2.8 0a1.4 10.4 0 1 0 -2.8 0M401.2 327.6a1.1 7.2 0 1 0 2.3 0a1.1 7.2 0 1 0 -2.3 0M455.4 462.5a1.5 9 0 1 0 3 0a1.5 9 0 1 0 -3 0M393.6 465.3a1.6 7.9 0 1 0 3.2 0a1.6 7.9 0 1 0 -3.2 0M398.8 443.6a1.2 7.2 0 1 0 2.3 0a1.2 7.2 0 1 0 -2.3 0M458.7 394.2a1.3 9.5 0 1 0 2.5 0a1.3 9.5 0 1 0 -2.5 0M299.6 427.5a1 10.5 0 1 0 2.1 0a1 10.5 0 1 0 -2.1 0M281.3 418.1a1.1 7.1 0 1 0 2.3 0a1.1 7.1 0 1 0 -2.3 0M527.9 391.2a1.3 4.6 0 1 0 2.6 0a1.3 4.6 0 1 0 -2.6 0M251.2 463.3a1 5.8 0 1 0 2.1 0a1 5.8 0 1 0 -2.1 0M120.8 497.8a.8 4.9 0 1 0 1.6 0a.8 4.9 0 1 0 -1.6 0M485.3 459.6a.8 8.6 0 1 0 1.7 0a.8 8.6 0 1 0 -1.7 0M446.9 382.3a1.5 10 0 1 0 3 0a1.5 10 0 1 0 -3 0M329.7 402.1a1.6 8 0 1 0 3.1 0a1.6 8 0 1 0 -3.1 0M49.7 523.6a1.1 10.5 0 1 0 2.1 0a1.1 10.5 0 1 0 -2.1 0M458.1 377.7a1.3 9.2 0 1 0 2.7 0a1.3 9.2 0 1 0 -2.7 0M430.8 385.8a1.4 6.2 0 1 0 2.8 0a1.4 6.2 0 1 0 -2.8 0M437 437.9a1.5 6.2 0 1 0 3.1 0a1.5 6.2 0 1 0 -3.1 0M399.6 431.6a1.4 5.2 0 1 0 2.9 0a1.4 5.2 0 1 0 -2.9 0M524.9 395.9a1.2 4.9 0 1 0 2.5 0a1.2 4.9 0 1 0 -2.5 0M415.6 366.4a.9 6.5 0 1 0 1.8 0a.9 6.5 0 1 0 -1.8 0M51.8 521.7a1.2 7.6 0 1 0 2.5 0a1.2 7.6 0 1 0 -2.5 0M310.4 432.6a.8 5.7 0 1 0 1.6 0a.8 5.7 0 1 0 -1.6 0M158.5 485.6a.9 8.1 0 1 0 1.7 0a.9 8.1 0 1 0 -1.7 0M417.7 443.7a1.4 6.2 0 1 0 2.8 0a1.4 6.2 0 1 0 -2.8 0M321.3 388.6a1.5 8.8 0 1 0 2.9 0a1.5 8.8 0 1 0 -2.9 0M527.9 399a1.5 9.3 0 1 0 3 0a1.5 9.3 0 1 0 -3 0M394.7 354.9a1.1 4.2 0 1 0 2.2 0a1.1 4.2 0 1 0 -2.2 0M383.8 409a1.1 6.3 0 1 0 2.2 0a1.1 6.3 0 1 0 -2.2 0M352.4 390.8a1.3 8.8 0 1 0 2.6 0a1.3 8.8 0 1 0 -2.6 0M316.9 426a1 10.1 0 1 0 2 0a1 10.1 0 1 0 -2 0M413.2 402.9a1.1 7.2 0 1 0 2.2 0a1.1 7.2 0 1 0 -2.2 0M521.7 389.6a1.4 8.6 0 1 0 2.8 0a1.4 8.6 0 1 0 -2.8 0M476.3 391.6a.9 4.7 0 1 0 1.8 0a.9 4.7 0 1 0 -1.8 0M78.2 517.8a1.4 10 0 1 0 2.8 0a1.4 10 0 1 0 -2.8 0M208.9 476.8a1.3 8.6 0 1 0 2.7 0a1.3 8.6 0 1 0 -2.7 0M357.3 436.1a1 7.7 0 1 0 2 0a1 7.7 0 1 0 -2 0M300.2 408.9a.9 7.8 0 1 0 1.7 0a.9 7.8 0 1 0 -1.7 0M251.5 462.3a.9 11 0 1 0 1.9 0a.9 11 0 1 0 -1.9 0M329.7 421.1a1.2 10.8 0 1 0 2.4 0a1.2 10.8 0 1 0 -2.4 0M290.9 426.3a1.1 10.2 0 1 0 2.2 0a1.1 10.2 0 1 0 -2.2 0M382.7 398a1.1 6.3 0 1 0 2.1 0a1.1 6.3 0 1 0 -2.1 0M380.7 360.8a1.5 7.1 0 1 0 2.9 0a1.5 7.1 0 1 0 -2.9 0M471.9 443.4a1.5 6.7 0 1 0 3 0a1.5 6.7 0 1 0 -3 0M253 474.1a1.4 9.4 0 1 0 2.8 0a1.4 9.4 0 1 0 -2.8 0M222.5 460.5a1.2 10.7 0 1 0 2.5 0a1.2 10.7 0 1 0 -2.5 0M107.5 503.6a1.6 5.5 0 1 0 3.2 0a1.6 5.5 0 1 0 -3.2 0M268.7 424.5a1.3 8.3 0 1 0 2.5 0a1.3 8.3 0 1 0 -2.5 0M310.9 465.7a1.2 4.6 0 1 0 2.5 0a1.2 4.6 0 1 0 -2.5 0M526.1 404a1.2 9 0 1 0 2.4 0a1.2 9 0 1 0 -2.4 0M99.4 502a.9 9.5 0 1 0 1.8 0a.9 9.5 0 1 0 -1.8 0M380.4 376.1a1 9.5 0 1 0 2.1 0a1 9.5 0 1 0 -2.1 0M402.4 345a.8 4.6 0 1 0 1.7 0a.8 4.6 0 1 0 -1.7 0M473.1 451.3a1.5 7 0 1 0 3 0a1.5 7 0 1 0 -3 0M394 380.7a1.1 8.4 0 1 0 2.1 0a1.1 8.4 0 1 0 -2.1 0M267.6 439.3a1 5.3 0 1 0 2 0a1 5.3 0 1 0 -2 0M278.6 429.8a.8 4.4 0 1 0 1.7 0a.8 4.4 0 1 0 -1.7 0M358.8 464.1a1 7.5 0 1 0 2.1 0a1 7.5 0 1 0 -2.1 0M434.4 368.8a1.5 5.7 0 1 0 3.1 0a1.5 5.7 0 1 0 -3.1 0M483.4 350.7a1 7.7 0 1 0 1.9 0a1 7.7 0 1 0 -1.9 0M234.3 460.6a1.1 8.5 0 1 0 2.1 0a1.1 8.5 0 1 0 -2.1 0M388.7 360.2a1.2 4.6 0 1 0 2.4 0a1.2 4.6 0 1 0 -2.4 0M213.3 467.1a1.6 5.8 0 1 0 3.1 0a1.6 5.8 0 1 0 -3.1 0M424.5 413.8a1.5 4.5 0 1 0 2.9 0a1.5 4.5 0 1 0 -2.9 0M365.5 388a1.5 8.1 0 1 0 3 0a1.5 8.1 0 1 0 -3 0M258.5 420.7a1.1 7.8 0 1 0 2.1 0a1.1 7.8 0 1 0 -2.1 0M514.1 410.9a1.1 5.2 0 1 0 2.2 0a1.1 5.2 0 1 0 -2.2 0M377.1 404.7a1.4 5.9 0 1 0 2.8 0a1.4 5.9 0 1 0 -2.8 0M412.9 344.1a1 7.6 0 1 0 1.9 0a1 7.6 0 1 0 -1.9 0M303.8 450.9a1.4 6.5 0 1 0 2.8 0a1.4 6.5 0 1 0 -2.8 0M327.1 398.3a1.5 10.5 0 1 0 3 0a1.5 10.5 0 1 0 -3 0M51.8 525a1.2 6.2 0 1 0 2.5 0a1.2 6.2 0 1 0 -2.5 0M364.2 403.4a1.5 4.2 0 1 0 3 0a1.5 4.2 0 1 0 -3 0M212.9 466.1a1.3 9.3 0 1 0 2.6 0a1.3 9.3 0 1 0 -2.6 0M250 461.9a1.2 7 0 1 0 2.4 0a1.2 7 0 1 0 -2.4 0M278.9 438.4a1.2 5.1 0 1 0 2.4 0a1.2 5.1 0 1 0 -2.4 0M114.1 501.1a1.4 8.6 0 1 0 2.8 0a1.4 8.6 0 1 0 -2.8 0M404.3 367.1a1.1 8.1 0 1 0 2.2 0a1.1 8.1 0 1 0 -2.2 0M431.9 456.4a1.3 10.4 0 1 0 2.7 0a1.3 10.4 0 1 0 -2.7 0M346.1 465a1 7.5 0 1 0 2 0a1 7.5 0 1 0 -2 0M341.7 432.8a1.5 6.2 0 1 0 3 0a1.5 6.2 0 1 0 -3 0M142.4 492.7a1 10.5 0 1 0 1.9 0a1 10.5 0 1 0 -1.9 0M296.9 450a1.4 4.8 0 1 0 2.8 0a1.4 4.8 0 1 0 -2.8 0M396.5 417a.9 5.2 0 1 0 1.7 0a.9 5.2 0 1 0 -1.7 0M524.9 406.5a.9 5.5 0 1 0 1.8 0a.9 5.5 0 1 0 -1.8 0M462.1 402.6a1.5 8.8 0 1 0 3 0a1.5 8.8 0 1 0 -3 0M407.3 324.7a1 10.2 0 1 0 2 0a1 10.2 0 1 0 -2 0M462.2 389.5a1.3 10.2 0 1 0 2.7 0a1.3 10.2 0 1 0 -2.7 0M525.8 440.3a.9 6.1 0 1 0 1.7 0a.9 6.1 0 1 0 -1.7 0M79 520.3a1.4 4.4 0 1 0 2.8 0a1.4 4.4 0 1 0 -2.8 0M48 524.7a1.6 7.7 0 1 0 3.1 0a1.6 7.7 0 1 0 -3.1 0M203.9 472.9a1.3 4.3 0 1 0 2.6 0a1.3 4.3 0 1 0 -2.6 0M467.5 365.9a1.5 9.1 0 1 0 2.9 0a1.5 9.1 0 1 0 -2.9 0M375.1 439.8a1.3 7.6 0 1 0 2.6 0a1.3 7.6 0 1 0 -2.6 0M437.7 461.1a1.1 5.7 0 1 0 2.2 0a1.1 5.7 0 1 0 -2.2 0M373.6 376.8a.8 10.8 0 1 0 1.7 0a.8 10.8 0 1 0 -1.7 0M462.2 374.5a.8 5.3 0 1 0 1.7 0a.8 5.3 0 1 0 -1.7 0M212.1 460.4a.8 5.3 0 1 0 1.7 0a.8 5.3 0 1 0 -1.7 0M111 501.7a1 5.2 0 1 0 2 0a1 5.2 0 1 0 -2 0M331.1 352.8a.9 5.6 0 1 0 1.8 0a.9 5.6 0 1 0 -1.8 0M190.3 468.1a1.6 8.7 0 1 0 3.2 0a1.6 8.7 0 1 0 -3.2 0M59.6 516.6a1 4.7 0 1 0 2.1 0a1 4.7 0 1 0 -2.1 0M203.6 478.6a1 6.1 0 1 0 2.1 0a1 6.1 0 1 0 -2.1 0M440.8 376.7a1.3 5.6 0 1 0 2.7 0a1.3 5.6 0 1 0 -2.7 0M395.2 390.4a.9 10.3 0 1 0 1.7 0a.9 10.3 0 1 0 -1.7 0M120.2 497.2a1.2 10.5 0 1 0 2.4 0a1.2 10.5 0 1 0 -2.4 0M106.8 501.9a.8 7.2 0 1 0 1.7 0a.8 7.2 0 1 0 -1.7 0M494.8 442.4a1.2 4.6 0 1 0 2.4 0a1.2 4.6 0 1 0 -2.4 0M313 454.3a1 7.1 0 1 0 2 0a1 7.1 0 1 0 -2 0M527.2 414.7a1.2 6.7 0 1 0 2.4 0a1.2 6.7 0 1 0 -2.4 0M510.3 447.5a1.5 10.4 0 1 0 2.9 0a1.5 10.4 0 1 0 -2.9 0M517.3 444.8a1 6.8 0 1 0 1.9 0a1 6.8 0 1 0 -1.9 0M209.9 477.4a1 9.6 0 1 0 2 0a1 9.6 0 1 0 -2 0M422.9 337.5a1.5 8.7 0 1 0 3 0a1.5 8.7 0 1 0 -3 0M127.1 498a1.5 6.9 0 1 0 3 0a1.5 6.9 0 1 0 -3 0M222.3 474.3a1.1 5.1 0 1 0 2.3 0a1.1 5.1 0 1 0 -2.3 0M497.1 398a1.5 4.8 0 1 0 3.1 0a1.5 4.8 0 1 0 -3.1 0M104.8 498.1a1.1 4.8 0 1 0 2.3 0a1.1 4.8 0 1 0 -2.3 0M335.6 397.1a1.3 4.2 0 1 0 2.6 0a1.3 4.2 0 1 0 -2.6 0M253.3 472.9a1.4 4.7 0 1 0 2.9 0a1.4 4.7 0 1 0 -2.9 0M498.6 444.5a1.3 10.4 0 1 0 2.7 0a1.3 10.4 0 1 0 -2.7 0M362.8 403.9a.9 8.8 0 1 0 1.8 0a.9 8.8 0 1 0 -1.8 0M229 445a1.6 4.8 0 1 0 3.1 0a1.6 4.8 0 1 0 -3.1 0M101.5 502.1a1.3 9.7 0 1 0 2.5 0a1.3 9.7 0 1 0 -2.5 0M60.9 518.4a1.5 6.8 0 1 0 3 0a1.5 6.8 0 1 0 -3 0M118 499.2a1 8.2 0 1 0 2 0a1 8.2 0 1 0 -2 0M494.6 388.6a.8 9.7 0 1 0 1.6 0a.8 9.7 0 1 0 -1.6 0M325.9 449.7a1.2 4.2 0 1 0 2.4 0a1.2 4.2 0 1 0 -2.4 0M308.5 417.4a.8 4.4 0 1 0 1.7 0a.8 4.4 0 1 0 -1.7 0M113.4 500.8a.9 6.8 0 1 0 1.8 0a.9 6.8 0 1 0 -1.8 0M480 358.7a1.2 7.4 0 1 0 2.4 0a1.2 7.4 0 1 0 -2.4 0M313.4 460.4a1.2 7.8 0 1 0 2.4 0a1.2 7.8 0 1 0 -2.4 0M402.3 402.2a.8 6.6 0 1 0 1.7 0a.8 6.6 0 1 0 -1.7 0M522.9 401.1a1 6.3 0 1 0 1.9 0a1 6.3 0 1 0 -1.9 0M159.6 489.5a1.3 6.9 0 1 0 2.6 0a1.3 6.9 0 1 0 -2.6 0M331 428.4a1.5 8.1 0 1 0 3.1 0a1.5 8.1 0 1 0 -3.1 0M476.6 376.6a1 8.1 0 1 0 2 0a1 8.1 0 1 0 -2 0M490.5 380.1a1.4 9.7 0 1 0 2.8 0a1.4 9.7 0 1 0 -2.8 0M273.2 425.9a1.1 8.7 0 1 0 2.2 0a1.1 8.7 0 1 0 -2.2 0M499.4 447.9a1.1 5.2 0 1 0 2.3 0a1.1 5.2 0 1 0 -2.3 0M403.5 358.6a1 8.9 0 1 0 2.1 0a1 8.9 0 1 0 -2.1 0M317 463.8a1.5 6.1 0 1 0 3 0a1.5 6.1 0 1 0 -3 0M520.4 343.4a1.5 10.2 0 1 0 3 0a1.5 10.2 0 1 0 -3 0M402.9 331.8a1.2 4.3 0 1 0 2.4 0a1.2 4.3 0 1 0 -2.4 0M517.3 421a1.6 8.5 0 1 0 3.2 0a1.6 8.5 0 1 0 -3.2 0M515.5 356a.8 9.2 0 1 0 1.7 0a.8 9.2 0 1 0 -1.7 0M336.3 364.3a1.5 5.3 0 1 0 3 0a1.5 5.3 0 1 0 -3 0M61 517a1.2 9.9 0 1 0 2.3 0a1.2 9.9 0 1 0 -2.3 0M274.9 420.5a.9 9.8 0 1 0 1.8 0a.9 9.8 0 1 0 -1.8 0M261.3 438a1 10 0 1 0 2 0a1 10 0 1 0 -2 0M198.3 463.4a1.5 9 0 1 0 3 0a1.5 9 0 1 0 -3 0M338 425.7a1.2 5 0 1 0 2.4 0a1.2 5 0 1 0 -2.4 0M156.2 490.3a1.3 7.9 0 1 0 2.7 0a1.3 7.9 0 1 0 -2.7 0M248.7 450.1a.8 10.1 0 1 0 1.6 0a.8 10.1 0 1 0 -1.6 0M263.5 448a1.1 7.7 0 1 0 2.3 0a1.1 7.7 0 1 0 -2.3 0M449.8 355.8a1.6 7.8 0 1 0 3.1 0a1.6 7.8 0 1 0 -3.1 0M419.7 415.3a1.2 5.5 0 1 0 2.3 0a1.2 5.5 0 1 0 -2.3 0M116 496.5a1.4 7.1 0 1 0 2.7 0a1.4 7.1 0 1 0 -2.7 0M308.5 416.5a.9 9 0 1 0 1.8 0a.9 9 0 1 0 -1.8 0M107 503.2a.9 5.4 0 1 0 1.8 0a.9 5.4 0 1 0 -1.8 0"/><path fill="#385fbc" fill-opacity="0.7" d="M150.5 486.8a1 5 0 1 0 2 0a1 5 0 1 0 -2 0"/><path fill="#3a6ac8" fill-opacity="0.7" d="M131.1 491.7a1.2 5.9 0 1 0 2.4 0a1.2 5.9 0 1 0 -2.4 0"/><path fill="#3b70ce" fill-opacity="0.7" d="M381.5 366.1a1.1 9.1 0 1 0 2.2 0a1.1 9.1 0 1 0 -2.2 0M333.1 367.9a1.4 5.2 0 1 0 2.8 0a1.4 5.2 0 1 0 -2.8 0M503.4 406.3a.9 4.6 0 1 0 1.8 0a.9 4.6 0 1 0 -1.8 0M365.3 413.4a.9 8.6 0 1 0 1.8 0a.9 8.6 0 1 0 -1.8 0M472.9 409.3a.9 4.2 0 1 0 1.9 0a.9 4.2 0 1 0 -1.9 0M113.5 500a1.1 7.2 0 1 0 2.1 0a1.1 7.2 0 1 0 -2.1 0M415 428.9a1.2 5.7 0 1 0 2.3 0a1.2 5.7 0 1 0 -2.3 0M313.2 437.7a1.1 4.4 0 1 0 2.2 0a1.1 4.4 0 1 0 -2.2 0M475.1 440.2a1.4 10.2 0 1 0 2.8 0a1.4 10.2 0 1 0 -2.8 0M146.7 489.4a.9 9.2 0 1 0 1.7 0a.9 9.2 0 1 0 -1.7 0M522 440.5a1.3 9.5 0 1 0 2.6 0a1.3 9.5 0 1 0 -2.6 0M455.8 408.9a.9 4.4 0 1 0 1.8 0a.9 4.4 0 1 0 -1.8 0M57.9 520.8a1.3 4.4 0 1 0 2.5 0a1.3 4.4 0 1 0 -2.5 0M164.8 486.6a.9 10.2 0 1 0 1.8 0a.9 10.2 0 1 0 -1.8 0M381.5 399.3a1.3 5.3 0 1 0 2.6 0a1.3 5.3 0 1 0 -2.6 0M464.8 400.8a1 10.2 0 1 0 2 0a1 10.2 0 1 0 -2 0M428.7 428a1.1 7.2 0 1 0 2.1 0a1.1 7.2 0 1 0 -2.1 0M528.5 391.2a.9 8.2 0 1 0 1.7 0a.9 8.2 0 1 0 -1.7 0M329.5 434.5a1.1 6.4 0 1 0 2.3 0a1.1 6.4 0 1 0 -2.3 0M447 384.2a.8 7.8 0 1 0 1.6 0a.8 7.8 0 1 0 -1.6 0M226.6 466.8a1 10.5 0 1 0 2 0a1 10.5 0 1 0 -2 0M186.7 472.4a1 8.1 0 1 0 2 0a1 8.1 0 1 0 -2 0M63.8 520.3a1.5 4.1 0 1 0 3 0a1.5 4.1 0 1 0 -3 0M278.7 465.9a1.1 6.5 0 1 0 2.2 0a1.1 6.5 0 1 0 -2.2 0M464.6 400.9a1.1 6 0 1 0 2.3 0a1.1 6 0 1 0 -2.3 0M382.8 438.1a1.5 10.3 0 1 0 2.9 0a1.5 10.3 0 1 0 -2.9 0M484.7 425.8a.9 5.9 0 1 0 1.7 0a.9 5.9 0 1 0 -1.7 0M457.7 440.2a.9 7.5 0 1 0 1.8 0a.9 7.5 0 1 0 -1.8 0M161 488.6a.9 4.9 0 1 0 1.8 0a.9 4.9 0 1 0 -1.8 0M465.1 406.6a1.3 8.1 0 1 0 2.6 0a1.3 8.1 0 1 0 -2.6 0M239.3 459.2a1 5.3 0 1 0 1.9 0a1 5.3 0 1 0 -1.9 0M113.4 500.4a1.5 10.5 0 1 0 2.9 0a1.5 10.5 0 1 0 -2.9 0M175.1 483.5a1.5 7.4 0 1 0 3 0a1.5 7.4 0 1 0 -3 0M159.9 489.6a1.1 9 0 1 0 2.3 0a1.1 9 0 1 0 -2.3 0M339 393.5a1.5 8.9 0 1 0 3 0a1.5 8.9 0 1 0 -3 0M131 494.2a1.5 7.5 0 1 0 2.9 0a1.5 7.5 0 1 0 -2.9 0M172.6 481a.9 5 0 1 0 1.8 0a.9 5 0 1 0 -1.8 0M346.8 420.2a.8 4.8 0 1 0 1.7 0a.8 4.8 0 1 0 -1.7 0M525.2 363.7a1.1 8 0 1 0 2.3 0a1.1 8 0 1 0 -2.3 0M458.3 357a1.1 4.3 0 1 0 2.2 0a1.1 4.3 0 1 0 -2.2 0M393.8 406a1.6 9.5 0 1 0 3.1 0a1.6 9.5 0 1 0 -3.1 0M347 386.5a1.4 5.6 0 1 0 2.7 0a1.4 5.6 0 1 0 -2.7 0M265 467.1a1.5 7.9 0 1 0 3 0a1.5 7.9 0 1 0 -3 0M491.5 374.3a1.4 9.4 0 1 0 2.8 0a1.4 9.4 0 1 0 -2.8 0M415.7 464.6a1.3 4 0 1 0 2.6 0a1.3 4 0 1 0 -2.6 0M470 451.3a1.1 9.6 0 1 0 2.2 0a1.1 9.6 0 1 0 -2.2 0M400.6 447.2a1.5 6 0 1 0 3 0a1.5 6 0 1 0 -3 0M77.7 512.9a1 9 0 1 0 1.9 0a1 9 0 1 0 -1.9 0M361.1 369.5a1.3 7.8 0 1 0 2.5 0a1.3 7.8 0 1 0 -2.5 0M66.5 519.4a1.6 6.3 0 1 0 3.2 0a1.6 6.3 0 1 0 -3.2 0M277.4 452.9a1 7.6 0 1 0 2.1 0a1 7.6 0 1 0 -2.1 0M327.4 426.6a.8 10.5 0 1 0 1.7 0a.8 10.5 0 1 0 -1.7 0M191.1 482.1a1.5 7.4 0 1 0 3 0a1.5 7.4 0 1 0 -3 0M297.1 459.8a1.3 4.3 0 1 0 2.6 0a1.3 4.3 0 1 0 -2.6 0M77.3 514.4a.9 8.5 0 1 0 1.8 0a.9 8.5 0 1 0 -1.8 0M60.6 522.4a1.3 4.1 0 1 0 2.7 0a1.3 4.1 0 1 0 -2.7 0M454.4 418.1a1.4 6.5 0 1 0 2.7 0a1.4 6.5 0 1 0 -2.7 0M522.6 435.9a1.2 7.8 0 1 0 2.4 0a1.2 7.8 0 1 0 -2.4 0M518 376.4a1.3 6.7 0 1 0 2.6 0a1.3 6.7 0 1 0 -2.6 0M145.7 489.5a.9 6.1 0 1 0 1.8 0a.9 6.1 0 1 0 -1.8 0M438.4 359a1.5 10.4 0 1 0 3.1 0a1.5 10.4 0 1 0 -3.1 0M366.2 448.5a.9 5 0 1 0 1.7 0a.9 5 0 1 0 -1.7 0M439.5 395.3a1.4 10.6 0 1 0 2.8 0a1.4 10.6 0 1 0 -2.8 0M413.2 434.4a1.3 9.5 0 1 0 2.7 0a1.3 9.5 0 1 0 -2.7 0M379.2 403.3a1 9.1 0 1 0 2 0a1 9.1 0 1 0 -2 0M237.2 435.4a1.4 4.2 0 1 0 2.7 0a1.4 4.2 0 1 0 -2.7 0M433.4 436.6a1.5 8.5 0 1 0 3 0a1.5 8.5 0 1 0 -3 0M63.1 523.1a1 8.8 0 1 0 1.9 0a1 8.8 0 1 0 -1.9 0M108.8 496.5a1.4 10.7 0 1 0 2.8 0a1.4 10.7 0 1 0 -2.8 0M287.3 445a1.6 5.4 0 1 0 3.2 0a1.6 5.4 0 1 0 -3.2 0M346.5 382.9a1.2 4.7 0 1 0 2.4 0a1.2 4.7 0 1 0 -2.4 0M514.6 403.5a.9 4.8 0 1 0 1.9 0a.9 4.8 0 1 0 -1.9 0M70.8 522.2a.8 7.2 0 1 0 1.7 0a.8 7.2 0 1 0 -1.7 0M249.4 460.8a1.6 6.9 0 1 0 3.2 0a1.6 6.9 0 1 0 -3.2 0M456 355.4a1.2 10.9 0 1 0 2.3 0a1.2 10.9 0 1 0 -2.3 0M392.9 410.5a1.4 6.4 0 1 0 2.8 0a1.4 6.4 0 1 0 -2.8 0M396.1 411.7a1.6 8 0 1 0 3.2 0a1.6 8 0 1 0 -3.2 0M221.6 459.1a1.2 5.7 0 1 0 2.4 0a1.2 5.7 0 1 0 -2.4 0M210.3 463.7a1 6.5 0 1 0 2 0a1 6.5 0 1 0 -2 0M267.1 467.6a.9 7.8 0 1 0 1.9 0a.9 7.8 0 1 0 -1.9 0M117.7 496.4a1.2 7.9 0 1 0 2.5 0a1.2 7.9 0 1 0 -2.5 0M465.8 401.7a1.5 4.8 0 1 0 3 0a1.5 4.8 0 1 0 -3 0M366.7 443.5a1.1 10.9 0 1 0 2.2 0a1.1 10.9 0 1 0 -2.2 0M241.5 443.6a1.2 7.8 0 1 0 2.4 0a1.2 7.8 0 1 0 -2.4 0M86 515.9a.9 6.7 0 1 0 1.9 0a.9 6.7 0 1 0 -1.9 0M95.2 507.4a1.5 9.4 0 1 0 3 0a1.5 9.4 0 1 0 -3 0M331 442.1a1 9.9 0 1 0 1.9 0a1 9.9 0 1 0 -1.9 0M415.7 366.6a1.5 7.7 0 1 0 3 0a1.5 7.7 0 1 0 -3 0M71.3 513.6a1 9.6 0 1 0 2 0a1 9.6 0 1 0 -2 0M334.3 452a1.5 8 0 1 0 3 0a1.5 8 0 1 0 -3 0M311.7 447.6a1 6.9 0 1 0 2 0a1 6.9 0 1 0 -2 0M330.5 402.4a.8 6.6 0 1 0 1.6 0a.8 6.6 0 1 0 -1.6 0M352.7 379.4a.9 4.9 0 1 0 1.8 0a.9 4.9 0 1 0 -1.8 0M331 396.1a1.1 10.5 0 1 0 2.3 0a1.1 10.5 0 1 0 -2.3 0M263 467.2a1.1 9.3 0 1 0 2.2 0a1.1 9.3 0 1 0 -2.2 0M151.7 490.5a1 4.6 0 1 0 2 0a1 4.6 0 1 0 -2 0M418.1 430.9a1.1 7.4 0 1 0 2.2 0a1.1 7.4 0 1 0 -2.2 0M284.1 445.2a1.6 9.3 0 1 0 3.1 0a1.6 9.3 0 1 0 -3.1 0M506.9 456.8a1.4 9.3 0 1 0 2.8 0a1.4 9.3 0 1 0 -2.8 0M465.5 434.8a1.4 10.5 0 1 0 2.7 0a1.4 10.5 0 1 0 -2.7 0M390.1 364.7a.9 7.4 0 1 0 1.9 0a.9 7.4 0 1 0 -1.9 0M54.2 522.8a1.6 8 0 1 0 3.2 0a1.6 8 0 1 0 -3.2 0M316.4 459.3a1.3 7.1 0 1 0 2.6 0a1.3 7.1 0 1 0 -2.6 0M326.6 442.5a1.4 7.7 0 1 0 2.8 0a1.4 7.7 0 1 0 -2.8 0M194.5 472.2a1.1 8.3 0 1 0 2.2 0a1.1 8.3 0 1 0 -2.2 0M362.6 409.5a1.1 10.9 0 1 0 2.3 0a1.1 10.9 0 1 0 -2.3 0M97.1 507.5a1.2 7.6 0 1 0 2.4 0a1.2 7.6 0 1 0 -2.4 0M467.6 388.9a1.5 8.5 0 1 0 3 0a1.5 8.5 0 1 0 -3 0M347.9 351.3a.8 9 0 1 0 1.6 0a.8 9 0 1 0 -1.6 0M253.9 460.6a1.5 10.8 0 1 0 2.9 0a1.5 10.8 0 1 0 -2.9 0M353 435.2a.9 10.8 0 1 0 1.9 0a.9 10.8 0 1 0 -1.9 0M246.8 473.1a1.5 8.2 0 1 0 3 0a1.5 8.2 0 1 0 -3 0M140.5 490.7a1.4 7.6 0 1 0 2.8 0a1.4 7.6 0 1 0 -2.8 0M79.5 521.5a1.1 6.5 0 1 0 2.2 0a1.1 6.5 0 1 0 -2.2 0M244.7 436.2a1.1 5 0 1 0 2.3 0a1.1 5 0 1 0 -2.3 0M473.1 354.2a1.2 5.5 0 1 0 2.4 0a1.2 5.5 0 1 0 -2.4 0M277.7 437.3a1.4 6.4 0 1 0 2.8 0a1.4 6.4 0 1 0 -2.8 0M227.9 462.9a.8 8 0 1 0 1.6 0a.8 8 0 1 0 -1.6 0M518.1 379.6a.8 8.3 0 1 0 1.7 0a.8 8.3 0 1 0 -1.7 0M333.9 386a1.5 5.4 0 1 0 2.9 0a1.5 5.4 0 1 0 -2.9 0"/><path fill="#3c76d4" fill-opacity="0.7" d="M47.1 521.6a.8 6.9 0 1 0 1.7 0a.8 6.9 0 1 0 -1.7 0M140.6 489.2a1.3 8.9 0 1 0 2.5 0a1.3 8.9 0 1 0 -2.5 0"/><path fill="#3f81d7" fill-opacity="0.7" d="M152.3 488.2a.9 5.3 0 1 0 1.9 0a.9 5.3 0 1 0 -1.9 0M113.7 496.5a1 4.8 0 1 0 2 0a1 4.8 0 1 0 -2 0"/><path fill="#428bd9" fill-opacity="0.7" d="M111.2 497.9a1.2 6.2 0 1 0 2.4 0a1.2 6.2 0 1 0 -2.4 0M142.8 490.2a1.5 8.8 0 1 0 3.1 0a1.5 8.8 0 1 0 -3.1 0M110.1 497.4a.8 6.8 0 1 0 1.6 0a.8 6.8 0 1 0 -1.6 0M162.2 483.7a1.3 10.4 0 1 0 2.5 0a1.3 10.4 0 1 0 -2.5 0"/><path fill="#4596dc" fill-opacity="0.7" d="M119.7 496.2a1.3 8.5 0 1 0 2.7 0a1.3 8.5 0 1 0 -2.7 0M239.1 430.7a.8 9.3 0 1 0 1.6 0a.8 9.3 0 1 0 -1.6 0M56 519.5a.8 5.4 0 1 0 1.7 0a.8 5.4 0 1 0 -1.7 0M46.2 522.6a1.3 8.6 0 1 0 2.7 0a1.3 8.6 0 1 0 -2.7 0M94.5 501.8a1.4 5.8 0 1 0 2.8 0a1.4 5.8 0 1 0 -2.8 0M79.9 510.7a1.6 7.8 0 1 0 3.2 0a1.6 7.8 0 1 0 -3.2 0M144.7 490.2a1.2 6 0 1 0 2.5 0a1.2 6 0 1 0 -2.5 0M88.7 505.7a1.1 8.4 0 1 0 2.1 0a1.1 8.4 0 1 0 -2.1 0M168.6 478.5a1.3 7.6 0 1 0 2.7 0a1.3 7.6 0 1 0 -2.7 0M81 510.2a1.4 9.5 0 1 0 2.7 0a1.4 9.5 0 1 0 -2.7 0M177.1 473.6a1.5 8.9 0 1 0 3.1 0a1.5 8.9 0 1 0 -3.1 0"/><path fill="#48a1df" fill-opacity="0.7" d="M398.7 398.5a1.3 8.7 0 1 0 2.5 0a1.3 8.7 0 1 0 -2.5 0M479.9 377.4a1.1 8.8 0 1 0 2.2 0a1.1 8.8 0 1 0 -2.2 0M173 482.3a.9 8.7 0 1 0 1.8 0a.9 8.7 0 1 0 -1.8 0M81.8 519.1a1.1 7.8 0 1 0 2.3 0a1.1 7.8 0 1 0 -2.3 0M173.1 477.2a.9 6.8 0 1 0 1.9 0a.9 6.8 0 1 0 -1.9 0M144 491.2a1.4 4.9 0 1 0 2.8 0a1.4 4.9 0 1 0 -2.8 0M163.6 484.5a1.1 6.9 0 1 0 2.1 0a1.1 6.9 0 1 0 -2.1 0M399 435.7a1.5 10.6 0 1 0 3 0a1.5 10.6 0 1 0 -3 0M173.4 478.6a1 6.1 0 1 0 2 0a1 6.1 0 1 0 -2 0M45.1 523.2a1.4 5.9 0 1 0 2.8 0a1.4 5.9 0 1 0 -2.8 0M84.4 510a1.3 8.8 0 1 0 2.6 0a1.3 8.8 0 1 0 -2.6 0M459.1 360.2a1.4 10.9 0 1 0 2.8 0a1.4 10.9 0 1 0 -2.8 0M284.6 428.3a1.6 7.3 0 1 0 3.2 0a1.6 7.3 0 1 0 -3.2 0M457 362.4a1.5 10.4 0 1 0 3 0a1.5 10.4 0 1 0 -3 0M75.2 513.2a1.3 9.8 0 1 0 2.6 0a1.3 9.8 0 1 0 -2.6 0M195.2 465.4a1.4 4.7 0 1 0 2.8 0a1.4 4.7 0 1 0 -2.8 0M207.3 465a1.1 9.6 0 1 0 2.2 0a1.1 9.6 0 1 0 -2.2 0M238.7 433.7a1.3 5.7 0 1 0 2.5 0a1.3 5.7 0 1 0 -2.5 0M526.9 384.6a1.2 10.3 0 1 0 2.4 0a1.2 10.3 0 1 0 -2.4 0M107.8 499.6a1.6 10 0 1 0 3.1 0a1.6 10 0 1 0 -3.1 0M526.8 418.9a1.4 5 0 1 0 2.8 0a1.4 5 0 1 0 -2.8 0M389.3 453.2a.9 4.8 0 1 0 1.8 0a.9 4.8 0 1 0 -1.8 0M217.8 468.4a1 8 0 1 0 1.9 0a1 8 0 1 0 -1.9 0M523.4 403.3a1.3 9.8 0 1 0 2.6 0a1.3 9.8 0 1 0 -2.6 0M146.9 490.1a1.1 8.8 0 1 0 2.2 0a1.1 8.8 0 1 0 -2.2 0M438.1 436.5a1.2 10 0 1 0 2.4 0a1.2 10 0 1 0 -2.4 0M257.8 443.2a.8 9.5 0 1 0 1.7 0a.8 9.5 0 1 0 -1.7 0M177.2 473.8a1.1 10 0 1 0 2.3 0a1.1 10 0 1 0 -2.3 0M62 518.7a1 8.7 0 1 0 2 0a1 8.7 0 1 0 -2 0M197.9 468.9a1.2 8.7 0 1 0 2.5 0a1.2 8.7 0 1 0 -2.5 0M442.1 349.1a1.1 8.9 0 1 0 2.2 0a1.1 8.9 0 1 0 -2.2 0M139.8 493.2a1.1 10.5 0 1 0 2.3 0a1.1 10.5 0 1 0 -2.3 0M163.4 481.8a1.3 8.3 0 1 0 2.5 0a1.3 8.3 0 1 0 -2.5 0M235.4 475.1a1 4.7 0 1 0 2.1 0a1 4.7 0 1 0 -2.1 0M456 372.9a1.2 6.2 0 1 0 2.4 0a1.2 6.2 0 1 0 -2.4 0M286.9 427.8a1.2 4 0 1 0 2.4 0a1.2 4 0 1 0 -2.4 0M277.8 430.7a1.2 6.1 0 1 0 2.4 0a1.2 6.1 0 1 0 -2.4 0M252.3 422.3a1.5 6 0 1 0 2.9 0a1.5 6 0 1 0 -2.9 0M167.9 481.2a1.2 10.8 0 1 0 2.3 0a1.2 10.8 0 1 0 -2.3 0M406 360.1a.8 9.7 0 1 0 1.6 0a.8 9.7 0 1 0 -1.6 0M135.7 491.1a1 4.1 0 1 0 1.9 0a1 4.1 0 1 0 -1.9 0M313.7 410.4a1.6 4.3 0 1 0 3.1 0a1.6 4.3 0 1 0 -3.1 0M529.1 365.6a1 4.7 0 1 0 2 0a1 4.7 0 1 0 -2 0M74 513.4a1.2 5.1 0 1 0 2.3 0a1.2 5.1 0 1 0 -2.3 0M393.2 392a1 10.9 0 1 0 2 0a1 10.9 0 1 0 -2 0M342.3 450.9a1.5 10.8 0 1 0 3 0a1.5 10.8 0 1 0 -3 0M450.2 365.4a.9 8.8 0 1 0 1.9 0a.9 8.8 0 1 0 -1.9 0M168.7 480.7a1.2 4.6 0 1 0 2.5 0a1.2 4.6 0 1 0 -2.5 0M255.7 421.7a1 4.7 0 1 0 1.9 0a1 4.7 0 1 0 -1.9 0M187.8 469.7a1.5 9.9 0 1 0 3 0a1.5 9.9 0 1 0 -3 0M399.2 405.7a1 4.9 0 1 0 2.1 0a1 4.9 0 1 0 -2.1 0M110 500.8a1.1 5.1 0 1 0 2.3 0a1.1 5.1 0 1 0 -2.3 0M245.9 430.5a1.3 6.6 0 1 0 2.7 0a1.3 6.6 0 1 0 -2.7 0"/><path fill="#4babe1" fill-opacity="0.7" d="M163.8 486.7a1.1 10 0 1 0 2.2 0a1.1 10 0 1 0 -2.2 0M73.9 515.6a.8 5.3 0 1 0 1.7 0a.8 5.3 0 1 0 -1.7 0M344.9 404a1.5 5.4 0 1 0 3.1 0a1.5 5.4 0 1 0 -3.1 0M346.3 405.1a.9 9.7 0 1 0 1.9 0a.9 9.7 0 1 0 -1.9 0M158.7 487.9a1.1 4.4 0 1 0 2.2 0a1.1 4.4 0 1 0 -2.2 0M447.2 439.3a1 9 0 1 0 2 0a1 9 0 1 0 -2 0M442.9 446.4a1.1 4.6 0 1 0 2.2 0a1.1 4.6 0 1 0 -2.2 0M191 474.5a1.2 4.6 0 1 0 2.4 0a1.2 4.6 0 1 0 -2.4 0M305.4 436.8a.9 7.9 0 1 0 1.8 0a.9 7.9 0 1 0 -1.8 0M284.1 447.7a1.3 5.2 0 1 0 2.5 0a1.3 5.2 0 1 0 -2.5 0M319.2 393.7a1.3 10.6 0 1 0 2.7 0a1.3 10.6 0 1 0 -2.7 0M79.3 520.4a1.5 6.2 0 1 0 3 0a1.5 6.2 0 1 0 -3 0M480.8 375a.9 10.4 0 1 0 1.8 0a.9 10.4 0 1 0 -1.8 0M289.4 425.5a.9 8.7 0 1 0 1.7 0a.9 8.7 0 1 0 -1.7 0M247.7 458a1.6 7.9 0 1 0 3.1 0a1.6 7.9 0 1 0 -3.1 0M199.5 463.9a1 4.3 0 1 0 2 0a1 4.3 0 1 0 -2 0M281 441.1a1 6.1 0 1 0 2 0a1 6.1 0 1 0 -2 0M320.8 464.7a1.4 8.8 0 1 0 2.7 0a1.4 8.8 0 1 0 -2.7 0M343.3 455.7a1.1 5 0 1 0 2.1 0a1.1 5 0 1 0 -2.1 0M355.3 353.8a1.3 5 0 1 0 2.5 0a1.3 5 0 1 0 -2.5 0M523.7 366.4a1 9.9 0 1 0 1.9 0a1 9.9 0 1 0 -1.9 0M196.7 476.9a1 10.8 0 1 0 1.9 0a1 10.8 0 1 0 -1.9 0M343.8 356.5a1.3 9.1 0 1 0 2.5 0a1.3 9.1 0 1 0 -2.5 0M203 468.4a1.5 7.1 0 1 0 3 0a1.5 7.1 0 1 0 -3 0M127.5 498.2a1.5 7.1 0 1 0 2.9 0a1.5 7.1 0 1 0 -2.9 0M385.6 419.2a1.6 10.9 0 1 0 3.1 0a1.6 10.9 0 1 0 -3.1 0M228.3 468.1a1.4 9.8 0 1 0 2.7 0a1.4 9.8 0 1 0 -2.7 0M125.4 498.3a.9 11 0 1 0 1.7 0a.9 11 0 1 0 -1.7 0M485.5 392.1a1.2 6.5 0 1 0 2.3 0a1.2 6.5 0 1 0 -2.3 0M423.3 347.8a1 7.9 0 1 0 2.1 0a1 7.9 0 1 0 -2.1 0M403.7 378a.9 7.2 0 1 0 1.7 0a.9 7.2 0 1 0 -1.7 0M131.5 497.1a1.5 7.5 0 1 0 3 0a1.5 7.5 0 1 0 -3 0M411.5 369.2a1.3 4.4 0 1 0 2.6 0a1.3 4.4 0 1 0 -2.6 0M447.6 394.3a.8 7.8 0 1 0 1.6 0a.8 7.8 0 1 0 -1.6 0M512.7 429.2a1.1 5.4 0 1 0 2.2 0a1.1 5.4 0 1 0 -2.2 0M414.2 376.9a1.4 6.8 0 1 0 2.9 0a1.4 6.8 0 1 0 -2.9 0M257.9 434.1a.9 10.7 0 1 0 1.9 0a.9 10.7 0 1 0 -1.9 0M225.9 475.9a1.5 8.9 0 1 0 2.9 0a1.5 8.9 0 1 0 -2.9 0M121 499.9a1 10 0 1 0 1.9 0a1 10 0 1 0 -1.9 0M288 423.7a1.6 7.5 0 1 0 3.1 0a1.6 7.5 0 1 0 -3.1 0M145 492.2a1 6.2 0 1 0 2.1 0a1 6.2 0 1 0 -2.1 0M176.6 477.4a1 5.9 0 1 0 2 0a1 5.9 0 1 0 -2 0M75.9 514.4a1.5 10.9 0 1 0 3.1 0a1.5 10.9 0 1 0 -3.1 0M219.3 470.5a.8 6.8 0 1 0 1.7 0a.8 6.8 0 1 0 -1.7 0M359.8 418.1a1.3 5.7 0 1 0 2.5 0a1.3 5.7 0 1 0 -2.5 0M480.1 345.8a1.4 6.4 0 1 0 2.9 0a1.4 6.4 0 1 0 -2.9 0M391.2 326.2a.8 9.9 0 1 0 1.6 0a.8 9.9 0 1 0 -1.6 0M92.3 507.2a.9 6.6 0 1 0 1.7 0a.9 6.6 0 1 0 -1.7 0M426.6 433.7a1 9.5 0 1 0 1.9 0a1 9.5 0 1 0 -1.9 0M273.5 428.1a.9 10.4 0 1 0 1.8 0a.9 10.4 0 1 0 -1.8 0M211 476.8a1.3 8.7 0 1 0 2.7 0a1.3 8.7 0 1 0 -2.7 0M231.9 458.6a1.2 5.9 0 1 0 2.3 0a1.2 5.9 0 1 0 -2.3 0M132.4 495.3a1.5 9.4 0 1 0 2.9 0a1.5 9.4 0 1 0 -2.9 0M287.5 415.3a.9 8.6 0 1 0 1.8 0a.9 8.6 0 1 0 -1.8 0M177.7 485.2a1.5 4.7 0 1 0 3 0a1.5 4.7 0 1 0 -3 0M360.4 417.7a1.5 4.6 0 1 0 3 0a1.5 4.6 0 1 0 -3 0M330.5 396.4a1.1 8 0 1 0 2.1 0a1.1 8 0 1 0 -2.1 0M386.1 449.1a.8 10.2 0 1 0 1.6 0a.8 10.2 0 1 0 -1.6 0M470.2 357.1a1.6 10.1 0 1 0 3.1 0a1.6 10.1 0 1 0 -3.1 0M232.4 466.4a1.1 5 0 1 0 2.3 0a1.1 5 0 1 0 -2.3 0M452.6 360.9a.9 4.3 0 1 0 1.8 0a.9 4.3 0 1 0 -1.8 0M97.5 503.5a1.1 5 0 1 0 2.3 0a1.1 5 0 1 0 -2.3 0M251.3 447.1a.9 10.9 0 1 0 1.7 0a.9 10.9 0 1 0 -1.7 0M260.7 443.5a1.6 9.6 0 1 0 3.1 0a1.6 9.6 0 1 0 -3.1 0M102.4 503a1.4 9.4 0 1 0 2.7 0a1.4 9.4 0 1 0 -2.7 0M303.9 423.7a.9 9.5 0 1 0 1.8 0a.9 9.5 0 1 0 -1.8 0M430.5 394.5a1 5.2 0 1 0 2.1 0a1 5.2 0 1 0 -2.1 0M327.7 408.8a1.1 5.5 0 1 0 2.2 0a1.1 5.5 0 1 0 -2.2 0M90.6 514a1.1 6.6 0 1 0 2.1 0a1.1 6.6 0 1 0 -2.1 0M60.4 523.4a1.4 10 0 1 0 2.8 0a1.4 10 0 1 0 -2.8 0M493.9 349a1.2 7.8 0 1 0 2.4 0a1.2 7.8 0 1 0 -2.4 0M59.5 519.3a1.4 6.2 0 1 0 2.8 0a1.4 6.2 0 1 0 -2.8 0M342.1 338.9a.9 9.5 0 1 0 1.9 0a.9 9.5 0 1 0 -1.9 0M344.3 410.9a.9 9.7 0 1 0 1.8 0a.9 9.7 0 1 0 -1.8 0M493.5 348.3a1.4 4.5 0 1 0 2.8 0a1.4 4.5 0 1 0 -2.8 0M182.4 474.7a1.4 7.5 0 1 0 2.8 0a1.4 7.5 0 1 0 -2.8 0M436 386.3a1.3 10.5 0 1 0 2.7 0a1.3 10.5 0 1 0 -2.7 0M149.7 491.2a1.4 9.7 0 1 0 2.8 0a1.4 9.7 0 1 0 -2.8 0M176.9 477.5a1.1 8.8 0 1 0 2.2 0a1.1 8.8 0 1 0 -2.2 0M402.8 435.9a1.3 5.7 0 1 0 2.6 0a1.3 5.7 0 1 0 -2.6 0M413 374.3a1.6 4.9 0 1 0 3.1 0a1.6 4.9 0 1 0 -3.1 0M463.7 339.1a1.4 8.6 0 1 0 2.8 0a1.4 8.6 0 1 0 -2.8 0M200.2 470.2a1.3 9.4 0 1 0 2.7 0a1.3 9.4 0 1 0 -2.7 0M347 445a1.5 4 0 1 0 3 0a1.5 4 0 1 0 -3 0M441.8 384.3a1.6 5.1 0 1 0 3.1 0a1.6 5.1 0 1 0 -3.1 0M281.9 435.7a1.5 7 0 1 0 3.1 0a1.5 7 0 1 0 -3.1 0M69.2 516.8a1.3 5.4 0 1 0 2.7 0a1.3 5.4 0 1 0 -2.7 0M320.2 461.6a1.1 10.1 0 1 0 2.2 0a1.1 10.1 0 1 0 -2.2 0M224 463.9a1.3 9.2 0 1 0 2.7 0a1.3 9.2 0 1 0 -2.7 0M206.4 465.5a1.5 4.6 0 1 0 3.1 0a1.5 4.6 0 1 0 -3.1 0"/><path fill="#4eb6e4" fill-opacity="0.7" d="M174.2 485.4a.9 7.8 0 1 0 1.7 0a.9 7.8 0 1 0 -1.7 0M103.5 502.7a1 6.1 0 1 0 2 0a1 6.1 0 1 0 -2 0M276.6 450.5a1.5 6.6 0 1 0 3 0a1.5 6.6 0 1 0 -3 0M176.1 481.2a1 4.6 0 1 0 1.9 0a1 4.6 0 1 0 -1.9 0M166.2 487.6a1.3 6.6 0 1 0 2.7 0a1.3 6.6 0 1 0 -2.7 0M436.2 394.1a1.3 6 0 1 0 2.6 0a1.3 6 0 1 0 -2.6 0M343.9 456.4a1.4 10.1 0 1 0 2.8 0a1.4 10.1 0 1 0 -2.8 0M382.1 351.5a.9 4.9 0 1 0 1.8 0a.9 4.9 0 1 0 -1.8 0M155.7 489.6a1.3 6.1 0 1 0 2.6 0a1.3 6.1 0 1 0 -2.6 0M401.4 334.6a.9 7.8 0 1 0 1.8 0a.9 7.8 0 1 0 -1.8 0M323.7 378.6a1.1 9 0 1 0 2.3 0a1.1 9 0 1 0 -2.3 0M201.4 469.7a1 6.5 0 1 0 2 0a1 6.5 0 1 0 -2 0M99.5 504.7a1.3 9.3 0 1 0 2.6 0a1.3 9.3 0 1 0 -2.6 0M500.3 350.2a1.5 8.9 0 1 0 3.1 0a1.5 8.9 0 1 0 -3.1 0M408.4 436.4a1.4 10 0 1 0 2.8 0a1.4 10 0 1 0 -2.8 0M108.5 501.9a1.3 6.3 0 1 0 2.6 0a1.3 6.3 0 1 0 -2.6 0M146 491.2a1.1 8.3 0 1 0 2.1 0a1.1 8.3 0 1 0 -2.1 0M331.2 426.4a1.3 5.8 0 1 0 2.7 0a1.3 5.8 0 1 0 -2.7 0M212.7 459.8a1.5 8.3 0 1 0 2.9 0a1.5 8.3 0 1 0 -2.9 0M351.5 338.4a1.3 10.6 0 1 0 2.5 0a1.3 10.6 0 1 0 -2.5 0M311.4 401.7a.9 6.4 0 1 0 1.9 0a.9 6.4 0 1 0 -1.9 0M327 373.6a1 9.2 0 1 0 1.9 0a1 9.2 0 1 0 -1.9 0M209.1 466.8a1 9.5 0 1 0 2.1 0a1 9.5 0 1 0 -2.1 0M385 346.9a.8 10.2 0 1 0 1.7 0a.8 10.2 0 1 0 -1.7 0M462.2 416.8a1.2 8.3 0 1 0 2.5 0a1.2 8.3 0 1 0 -2.5 0M365.3 405.1a1.2 5.3 0 1 0 2.4 0a1.2 5.3 0 1 0 -2.4 0M314.4 442a1.5 4.6 0 1 0 3.1 0a1.5 4.6 0 1 0 -3.1 0M484.4 340.7a1.1 6.3 0 1 0 2.3 0a1.1 6.3 0 1 0 -2.3 0M406.6 359.1a1.6 9.1 0 1 0 3.2 0a1.6 9.1 0 1 0 -3.2 0M452.9 446.7a1.5 8.1 0 1 0 3 0a1.5 8.1 0 1 0 -3 0M511.8 366.6a1 5.2 0 1 0 2.1 0a1 5.2 0 1 0 -2.1 0M300.6 413.2a1.2 5.3 0 1 0 2.4 0a1.2 5.3 0 1 0 -2.4 0M485.8 361.8a1.2 9.4 0 1 0 2.4 0a1.2 9.4 0 1 0 -2.4 0M376.8 341.1a1.3 5.2 0 1 0 2.7 0a1.3 5.2 0 1 0 -2.7 0M414.4 325.8a1.6 5.2 0 1 0 3.2 0a1.6 5.2 0 1 0 -3.2 0M447.4 339.9a1.5 9.5 0 1 0 3 0a1.5 9.5 0 1 0 -3 0M440 445.3a1 10.9 0 1 0 2 0a1 10.9 0 1 0 -2 0M409 428.9a1.4 8.5 0 1 0 2.9 0a1.4 8.5 0 1 0 -2.9 0M476.5 367a1.6 7.6 0 1 0 3.1 0a1.6 7.6 0 1 0 -3.1 0M496.2 360a1 4.6 0 1 0 2 0a1 4.6 0 1 0 -2 0M470.7 370.7a.8 7.5 0 1 0 1.6 0a.8 7.5 0 1 0 -1.6 0M63 522.6a1 8.9 0 1 0 1.9 0a1 8.9 0 1 0 -1.9 0M232.5 469.3a1.1 9.5 0 1 0 2.3 0a1.1 9.5 0 1 0 -2.3 0M351.8 460.2a.9 6.6 0 1 0 1.8 0a.9 6.6 0 1 0 -1.8 0M465 399.1a.9 6.8 0 1 0 1.8 0a.9 6.8 0 1 0 -1.8 0M221.9 471.4a.8 6.3 0 1 0 1.6 0a.8 6.3 0 1 0 -1.6 0M208.5 479.1a1.5 9.9 0 1 0 3 0a1.5 9.9 0 1 0 -3 0M345.9 406a1.5 8.2 0 1 0 3 0a1.5 8.2 0 1 0 -3 0M147.1 490.7a1.6 4.4 0 1 0 3.2 0a1.6 4.4 0 1 0 -3.2 0M180.9 480.8a1.4 10 0 1 0 2.9 0a1.4 10 0 1 0 -2.9 0M227.3 467.5a.9 5.8 0 1 0 1.7 0a.9 5.8 0 1 0 -1.7 0M280.6 426.2a.9 7.7 0 1 0 1.9 0a.9 7.7 0 1 0 -1.9 0M317.6 385.2a1 9.9 0 1 0 2.1 0a1 9.9 0 1 0 -2.1 0M472.4 390.7a1.3 8.4 0 1 0 2.6 0a1.3 8.4 0 1 0 -2.6 0M284.4 456.3a1.5 7 0 1 0 3.1 0a1.5 7 0 1 0 -3.1 0M162.2 488.7a1.4 6.3 0 1 0 2.9 0a1.4 6.3 0 1 0 -2.9 0M182.9 478.1a1.4 5.6 0 1 0 2.9 0a1.4 5.6 0 1 0 -2.9 0M392.2 381.5a1.4 6.8 0 1 0 2.8 0a1.4 6.8 0 1 0 -2.8 0M330.3 377.7a.9 7.4 0 1 0 1.8 0a.9 7.4 0 1 0 -1.8 0M51.8 522.1a1.4 10 0 1 0 2.8 0a1.4 10 0 1 0 -2.8 0M442.4 423.7a1.5 5.5 0 1 0 2.9 0a1.5 5.5 0 1 0 -2.9 0M448.6 413.5a1.2 4.6 0 1 0 2.5 0a1.2 4.6 0 1 0 -2.5 0M97.1 505a.9 10.4 0 1 0 1.9 0a.9 10.4 0 1 0 -1.9 0M294.3 428.6a1.4 8.5 0 1 0 2.8 0a1.4 8.5 0 1 0 -2.8 0M494.7 374.4a.8 8.8 0 1 0 1.7 0a.8 8.8 0 1 0 -1.7 0M273.2 432.5a1 4.8 0 1 0 2 0a1 4.8 0 1 0 -2 0M457.4 397.5a1.1 8.4 0 1 0 2.2 0a1.1 8.4 0 1 0 -2.2 0"/><path fill="#51badc" fill-opacity="0.7" d="M205.3 466.8a1.4 10.9 0 1 0 2.9 0a1.4 10.9 0 1 0 -2.9 0M374.4 346.1a1.1 5.4 0 1 0 2.2 0a1.1 5.4 0 1 0 -2.2 0M219.9 462.8a1.6 10.8 0 1 0 3.2 0a1.6 10.8 0 1 0 -3.2 0M521.2 452.9a.9 5.5 0 1 0 1.7 0a.9 5.5 0 1 0 -1.7 0M505.9 400.6a1.4 4.7 0 1 0 2.7 0a1.4 4.7 0 1 0 -2.7 0M176.1 483.9a.9 8.8 0 1 0 1.7 0a.9 8.8 0 1 0 -1.7 0M220.7 472.1a1.2 10.6 0 1 0 2.4 0a1.2 10.6 0 1 0 -2.4 0M247.1 448.6a1.2 10.8 0 1 0 2.5 0a1.2 10.8 0 1 0 -2.5 0M420 378.3a1.5 4.2 0 1 0 3 0a1.5 4.2 0 1 0 -3 0M347.1 389.3a1.5 7.3 0 1 0 3 0a1.5 7.3 0 1 0 -3 0M309 469.4a1 10.7 0 1 0 2 0a1 10.7 0 1 0 -2 0M364.6 425.3a1.2 7.3 0 1 0 2.4 0a1.2 7.3 0 1 0 -2.4 0M427.9 361.4a1.5 6.1 0 1 0 3.1 0a1.5 6.1 0 1 0 -3.1 0M321 388.2a1.4 9.2 0 1 0 2.8 0a1.4 9.2 0 1 0 -2.8 0M208.8 476a1.6 10.3 0 1 0 3.1 0a1.6 10.3 0 1 0 -3.1 0M53.7 523.9a1 10.2 0 1 0 2.1 0a1 10.2 0 1 0 -2.1 0M416.6 332.9a1.2 5.6 0 1 0 2.4 0a1.2 5.6 0 1 0 -2.4 0M447.2 389.2a1 4.1 0 1 0 2 0a1 4.1 0 1 0 -2 0M471.6 342.9a1.5 9.8 0 1 0 2.9 0a1.5 9.8 0 1 0 -2.9 0M297.9 448.4a1.1 11 0 1 0 2.1 0a1.1 11 0 1 0 -2.1 0M470.9 342a.8 8.1 0 1 0 1.6 0a.8 8.1 0 1 0 -1.6 0M343.8 364.5a1 7.1 0 1 0 2 0a1 7.1 0 1 0 -2 0M309.7 467.8a1.3 8.5 0 1 0 2.5 0a1.3 8.5 0 1 0 -2.5 0M419.4 448.8a1.2 10.8 0 1 0 2.5 0a1.2 10.8 0 1 0 -2.5 0M332.2 372a.9 6.2 0 1 0 1.9 0a.9 6.2 0 1 0 -1.9 0M272.5 469.6a1.2 7.9 0 1 0 2.5 0a1.2 7.9 0 1 0 -2.5 0M82.3 513.9a1.1 5.4 0 1 0 2.1 0a1.1 5.4 0 1 0 -2.1 0M61.4 521.3a1.5 9.1 0 1 0 3 0a1.5 9.1 0 1 0 -3 0M463.9 360.9a1.4 9.5 0 1 0 2.9 0a1.4 9.5 0 1 0 -2.9 0M303 447.8a1.1 5 0 1 0 2.2 0a1.1 5 0 1 0 -2.2 0M474.5 337.8a1.3 8.8 0 1 0 2.7 0a1.3 8.8 0 1 0 -2.7 0M282.1 422.5a1 6.7 0 1 0 2 0a1 6.7 0 1 0 -2 0M416.3 396.6a1.4 8.7 0 1 0 2.9 0a1.4 8.7 0 1 0 -2.9 0M509.9 356.5a1.1 10.4 0 1 0 2.1 0a1.1 10.4 0 1 0 -2.1 0M490.2 358.6a1.4 8.1 0 1 0 2.7 0a1.4 8.1 0 1 0 -2.7 0M74.2 522.5a1.1 5 0 1 0 2.2 0a1.1 5 0 1 0 -2.2 0M421 376.3a1.3 7.3 0 1 0 2.5 0a1.3 7.3 0 1 0 -2.5 0M206.5 463.6a1.6 6.6 0 1 0 3.2 0a1.6 6.6 0 1 0 -3.2 0M482.6 334.3a1.2 5.9 0 1 0 2.4 0a1.2 5.9 0 1 0 -2.4 0M259.6 445a1.5 7.8 0 1 0 3 0a1.5 7.8 0 1 0 -3 0M489.9 342.4a1.6 7.1 0 1 0 3.2 0a1.6 7.1 0 1 0 -3.2 0M335.9 438.9a.9 10.9 0 1 0 1.9 0a.9 10.9 0 1 0 -1.9 0M322.1 390.1a1.2 7.8 0 1 0 2.4 0a1.2 7.8 0 1 0 -2.4 0M522.8 459.4a1 7.3 0 1 0 2 0a1 7.3 0 1 0 -2 0M410.2 389.2a1 6.8 0 1 0 2 0a1 6.8 0 1 0 -2 0M510.7 393.7a1.6 7.2 0 1 0 3.1 0a1.6 7.2 0 1 0 -3.1 0M334.8 393.5a1.5 5.3 0 1 0 3.1 0a1.5 5.3 0 1 0 -3.1 0M405.9 426a1.3 4.4 0 1 0 2.6 0a1.3 4.4 0 1 0 -2.6 0M195.3 471.2a1.1 9.3 0 1 0 2.3 0a1.1 9.3 0 1 0 -2.3 0M444.1 428.9a.9 8.8 0 1 0 1.8 0a.9 8.8 0 1 0 -1.8 0M428.6 369a.9 8.4 0 1 0 1.8 0a.9 8.4 0 1 0 -1.8 0M217.8 475a1.3 9.7 0 1 0 2.7 0a1.3 9.7 0 1 0 -2.7 0M404.4 334.3a1.3 10.6 0 1 0 2.6 0a1.3 10.6 0 1 0 -2.6 0M359.2 349.2a1.1 7.8 0 1 0 2.1 0a1.1 7.8 0 1 0 -2.1 0M399.6 373.3a1.1 8.7 0 1 0 2.2 0a1.1 8.7 0 1 0 -2.2 0M494.6 453.9a1.2 4.9 0 1 0 2.4 0a1.2 4.9 0 1 0 -2.4 0M267.4 465.1a1.4 4.8 0 1 0 2.7 0a1.4 4.8 0 1 0 -2.7 0M387.9 408.9a1.1 7.3 0 1 0 2.2 0a1.1 7.3 0 1 0 -2.2 0M267.7 451.2a1.3 6.4 0 1 0 2.5 0a1.3 6.4 0 1 0 -2.5 0M301.3 415.5a1.3 10.8 0 1 0 2.6 0a1.3 10.8 0 1 0 -2.6 0M519.3 397.3a1 6.3 0 1 0 1.9 0a1 6.3 0 1 0 -1.9 0M471.2 334.2a1.4 5.2 0 1 0 2.8 0a1.4 5.2 0 1 0 -2.8 0"/><path fill="#54bed4" fill-opacity="0.7" d="M208.6 467.5a1.5 7.1 0 1 0 2.9 0a1.5 7.1 0 1 0 -2.9 0M86.1 513.4a1 5.7 0 1 0 2 0a1 5.7 0 1 0 -2 0M488.6 378.1a.8 5.5 0 1 0 1.7 0a.8 5.5 0 1 0 -1.7 0M423.4 392.5a1.6 10.6 0 1 0 3.1 0a1.6 10.6 0 1 0 -3.1 0M59.2 522.7a.8 8.1 0 1 0 1.6 0a.8 8.1 0 1 0 -1.6 0M379 440.7a1.3 7.5 0 1 0 2.6 0a1.3 7.5 0 1 0 -2.6 0M366.2 456.3a1.1 9 0 1 0 2.3 0a1.1 9 0 1 0 -2.3 0M72.7 520.4a.8 8.5 0 1 0 1.6 0a.8 8.5 0 1 0 -1.6 0M304.1 432.6a1.4 10.5 0 1 0 2.7 0a1.4 10.5 0 1 0 -2.7 0M289 465.7a.9 8.7 0 1 0 1.8 0a.9 8.7 0 1 0 -1.8 0M381.7 388.2a1.1 9.2 0 1 0 2.2 0a1.1 9.2 0 1 0 -2.2 0M340.6 410.5a.8 5.4 0 1 0 1.6 0a.8 5.4 0 1 0 -1.6 0M490.5 346.4a1.2 7.4 0 1 0 2.4 0a1.2 7.4 0 1 0 -2.4 0M105.3 503.2a1.2 10 0 1 0 2.4 0a1.2 10 0 1 0 -2.4 0M290.1 445.6a1.1 11 0 1 0 2.1 0a1.1 11 0 1 0 -2.1 0M283.7 425.3a1.1 8.8 0 1 0 2.1 0a1.1 8.8 0 1 0 -2.1 0M348.9 384.2a1.3 6.6 0 1 0 2.7 0a1.3 6.6 0 1 0 -2.7 0M292.6 449.7a1.5 5.2 0 1 0 3 0a1.5 5.2 0 1 0 -3 0M323.8 439.3a1.1 4 0 1 0 2.3 0a1.1 4 0 1 0 -2.3 0M419 373.6a1.2 10.6 0 1 0 2.4 0a1.2 10.6 0 1 0 -2.4 0M275.9 463.1a1.3 9 0 1 0 2.6 0a1.3 9 0 1 0 -2.6 0M459.5 362a1.2 8.4 0 1 0 2.5 0a1.2 8.4 0 1 0 -2.5 0M419.6 373.1a1.1 4.9 0 1 0 2.2 0a1.1 4.9 0 1 0 -2.2 0M303.8 415.4a.9 10.5 0 1 0 1.8 0a.9 10.5 0 1 0 -1.8 0M161.1 487.8a1.2 4.5 0 1 0 2.4 0a1.2 4.5 0 1 0 -2.4 0M373.9 393.8a1.4 5.9 0 1 0 2.8 0a1.4 5.9 0 1 0 -2.8 0M438.7 358.4a.9 7.6 0 1 0 1.8 0a.9 7.6 0 1 0 -1.8 0M508.3 406.2a1.4 5.5 0 1 0 2.9 0a1.4 5.5 0 1 0 -2.9 0M231.3 455.1a1.3 5.4 0 1 0 2.6 0a1.3 5.4 0 1 0 -2.6 0M469.5 374.8a1.4 4.5 0 1 0 2.9 0a1.4 4.5 0 1 0 -2.9 0M454.5 396.4a1.4 8.1 0 1 0 2.8 0a1.4 8.1 0 1 0 -2.8 0M486.7 447.5a1.1 4.8 0 1 0 2.2 0a1.1 4.8 0 1 0 -2.2 0M382.7 403.4a1.5 10.6 0 1 0 3.1 0a1.5 10.6 0 1 0 -3.1 0M208.4 474.8a1.5 9.9 0 1 0 2.9 0a1.5 9.9 0 1 0 -2.9 0M463.5 387a1 5.7 0 1 0 2 0a1 5.7 0 1 0 -2 0M333.3 396.8a1.5 10.8 0 1 0 3.1 0a1.5 10.8 0 1 0 -3.1 0M396.5 374.7a1.5 7.8 0 1 0 2.9 0a1.5 7.8 0 1 0 -2.9 0M53.6 524.8a1.2 9.2 0 1 0 2.5 0a1.2 9.2 0 1 0 -2.5 0M449.9 360.8a.8 8 0 1 0 1.7 0a.8 8 0 1 0 -1.7 0M390.3 360.1a1.2 10.1 0 1 0 2.5 0a1.2 10.1 0 1 0 -2.5 0M65.7 522a1.4 10.3 0 1 0 2.9 0a1.4 10.3 0 1 0 -2.9 0M492.3 379.6a1.1 8.6 0 1 0 2.1 0a1.1 8.6 0 1 0 -2.1 0M123.4 497.7a1 8.3 0 1 0 2.1 0a1 8.3 0 1 0 -2.1 0M478.4 352.3a.9 5.9 0 1 0 1.8 0a.9 5.9 0 1 0 -1.8 0M475.6 349.5a1 9.1 0 1 0 2 0a1 9.1 0 1 0 -2 0M245.9 462.1a1.2 10 0 1 0 2.4 0a1.2 10 0 1 0 -2.4 0M328.7 407.7a.9 8.4 0 1 0 1.8 0a.9 8.4 0 1 0 -1.8 0M54.8 522.6a1.2 4.9 0 1 0 2.3 0a1.2 4.9 0 1 0 -2.3 0M455.7 366.2a1.4 6 0 1 0 2.8 0a1.4 6 0 1 0 -2.8 0M324.7 423.4a1.2 9.8 0 1 0 2.5 0a1.2 9.8 0 1 0 -2.5 0M228.1 453.2a1.4 4.7 0 1 0 2.8 0a1.4 4.7 0 1 0 -2.8 0"/><path fill="#56c2cc" fill-opacity="0.7" d="M412.7 375.7a1.1 7.2 0 1 0 2.2 0a1.1 7.2 0 1 0 -2.2 0M516.1 394.4a1.6 8.6 0 1 0 3.1 0a1.6 8.6 0 1 0 -3.1 0M471.7 464.8a.9 7.9 0 1 0 1.9 0a.9 7.9 0 1 0 -1.9 0M477.2 341.6a1.2 6.2 0 1 0 2.4 0a1.2 6.2 0 1 0 -2.4 0M369 404.6a1.2 5.8 0 1 0 2.5 0a1.2 5.8 0 1 0 -2.5 0M497.1 380.6a1.1 4.3 0 1 0 2.2 0a1.1 4.3 0 1 0 -2.2 0M381.8 449.1a1.1 9.9 0 1 0 2.2 0a1.1 9.9 0 1 0 -2.2 0M224.3 465.9a1.4 4.1 0 1 0 2.8 0a1.4 4.1 0 1 0 -2.8 0M496.4 352.9a1.4 6.2 0 1 0 2.8 0a1.4 6.2 0 1 0 -2.8 0M316.2 461.6a1.5 4.9 0 1 0 3 0a1.5 4.9 0 1 0 -3 0M193.8 479.7a.9 6.3 0 1 0 1.8 0a.9 6.3 0 1 0 -1.8 0M459.1 414.1a1.4 10.4 0 1 0 2.8 0a1.4 10.4 0 1 0 -2.8 0M474.8 356.8a1.3 7.3 0 1 0 2.6 0a1.3 7.3 0 1 0 -2.6 0M262.4 442.8a1.1 4.9 0 1 0 2.2 0a1.1 4.9 0 1 0 -2.2 0M303 430.4a1.5 5.1 0 1 0 2.9 0a1.5 5.1 0 1 0 -2.9 0M173 485.5a1.2 7.8 0 1 0 2.5 0a1.2 7.8 0 1 0 -2.5 0M417.3 439.6a1.1 8.6 0 1 0 2.1 0a1.1 8.6 0 1 0 -2.1 0M411.2 455.6a.9 8.7 0 1 0 1.9 0a.9 8.7 0 1 0 -1.9 0M525.4 459.8a1.2 10.6 0 1 0 2.4 0a1.2 10.6 0 1 0 -2.4 0M194 474.4a.8 6.1 0 1 0 1.7 0a.8 6.1 0 1 0 -1.7 0M401.8 391a1 6.5 0 1 0 2.1 0a1 6.5 0 1 0 -2.1 0M492.7 362.8a1.5 8.1 0 1 0 3 0a1.5 8.1 0 1 0 -3 0M501.2 341a1 5 0 1 0 1.9 0a1 5 0 1 0 -1.9 0M522.3 381.1a1.2 8.9 0 1 0 2.4 0a1.2 8.9 0 1 0 -2.4 0M226.4 476.2a1.1 4.1 0 1 0 2.3 0a1.1 4.1 0 1 0 -2.3 0M500.2 390.5a1.5 5.9 0 1 0 3.1 0a1.5 5.9 0 1 0 -3.1 0M274.2 468.6a1.2 5.9 0 1 0 2.4 0a1.2 5.9 0 1 0 -2.4 0M208.3 469.3a.8 7.4 0 1 0 1.6 0a.8 7.4 0 1 0 -1.6 0M494.9 401.9a1.4 8.3 0 1 0 2.9 0a1.4 8.3 0 1 0 -2.9 0M223.1 464.1a1.1 6.8 0 1 0 2.2 0a1.1 6.8 0 1 0 -2.2 0M400.3 357.2a1.5 10.5 0 1 0 3 0a1.5 10.5 0 1 0 -3 0M380 454.3a1.5 7.6 0 1 0 3.1 0a1.5 7.6 0 1 0 -3.1 0M270.8 444.8a1.5 5.7 0 1 0 2.9 0a1.5 5.7 0 1 0 -2.9 0M424 378.2a.9 9.2 0 1 0 1.8 0a.9 9.2 0 1 0 -1.8 0M244.9 454.3a1 4.3 0 1 0 2.1 0a1 4.3 0 1 0 -2.1 0M188 477.4a1.6 10.8 0 1 0 3.2 0a1.6 10.8 0 1 0 -3.2 0M439.1 395.1a1.1 4.8 0 1 0 2.2 0a1.1 4.8 0 1 0 -2.2 0M359.2 460a1.4 5.1 0 1 0 2.9 0a1.4 5.1 0 1 0 -2.9 0M526.6 420.3a1.4 5.6 0 1 0 2.7 0a1.4 5.6 0 1 0 -2.7 0M364.2 390.9a1 4.7 0 1 0 2 0a1 4.7 0 1 0 -2 0M433.8 367.1a1.5 10.9 0 1 0 3 0a1.5 10.9 0 1 0 -3 0M485.2 347.9a1.2 5.9 0 1 0 2.4 0a1.2 5.9 0 1 0 -2.4 0M296.4 426a1.6 5.9 0 1 0 3.1 0a1.6 5.9 0 1 0 -3.1 0M265.2 446.2a1.2 6.4 0 1 0 2.5 0a1.2 6.4 0 1 0 -2.5 0M245.1 452.4a1.5 8.2 0 1 0 3.1 0a1.5 8.2 0 1 0 -3.1 0M488.9 345a.9 8.5 0 1 0 1.8 0a.9 8.5 0 1 0 -1.8 0M206.9 478.9a1 7.1 0 1 0 2 0a1 7.1 0 1 0 -2 0M260 451.6a.9 7.5 0 1 0 1.7 0a.9 7.5 0 1 0 -1.7 0M366.8 374.8a.9 5.4 0 1 0 1.8 0a.9 5.4 0 1 0 -1.8 0M435.1 415.8a1.6 9.3 0 1 0 3.1 0a1.6 9.3 0 1 0 -3.1 0M422.1 365.9a1.4 4.4 0 1 0 2.8 0a1.4 4.4 0 1 0 -2.8 0M340.1 416.4a1.1 6.9 0 1 0 2.2 0a1.1 6.9 0 1 0 -2.2 0M460.2 435.6a1.6 9.2 0 1 0 3.1 0a1.6 9.2 0 1 0 -3.1 0M452.5 343.4a.9 6.3 0 1 0 1.8 0a.9 6.3 0 1 0 -1.8 0M67 520a1.1 9.9 0 1 0 2.3 0a1.1 9.9 0 1 0 -2.3 0M264.7 467.2a.9 6.2 0 1 0 1.8 0a.9 6.2 0 1 0 -1.8 0M453 381.9a1.4 6.3 0 1 0 2.9 0a1.4 6.3 0 1 0 -2.9 0M257.5 462.4a1.1 10.4 0 1 0 2.2 0a1.1 10.4 0 1 0 -2.2 0"/><path fill="#59c5c4" fill-opacity="0.7" d="M80.1 520.3a1.1 9.7 0 1 0 2.2 0a1.1 9.7 0 1 0 -2.2 0M509.9 410.9a1.4 9.3 0 1 0 2.8 0a1.4 9.3 0 1 0 -2.8 0M507.7 380a1.3 8.4 0 1 0 2.6 0a1.3 8.4 0 1 0 -2.6 0M441.4 451.1a1.3 4.3 0 1 0 2.6 0a1.3 4.3 0 1 0 -2.6 0M521.9 451.6a1.2 6.6 0 1 0 2.3 0a1.2 6.6 0 1 0 -2.3 0M167.3 485.6a1 5.7 0 1 0 2 0a1 5.7 0 1 0 -2 0M515.7 423.3a1.5 7.9 0 1 0 3 0a1.5 7.9 0 1 0 -3 0M244 458.4a.8 9.2 0 1 0 1.7 0a.8 9.2 0 1 0 -1.7 0M442.8 412.1a1 5.2 0 1 0 2.1 0a1 5.2 0 1 0 -2.1 0M403.4 387.3a1.2 5.9 0 1 0 2.5 0a1.2 5.9 0 1 0 -2.5 0M188.5 479.7a1.1 9.1 0 1 0 2.2 0a1.1 9.1 0 1 0 -2.2 0M105.4 503.2a1.4 7.9 0 1 0 2.8 0a1.4 7.9 0 1 0 -2.8 0M290.4 448.3a1.5 7.8 0 1 0 3.1 0a1.5 7.8 0 1 0 -3.1 0M441.8 420.8a1.3 7.9 0 1 0 2.7 0a1.3 7.9 0 1 0 -2.7 0M386.5 392a1 6.3 0 1 0 1.9 0a1 6.3 0 1 0 -1.9 0M50.4 524.9a1.2 5.3 0 1 0 2.4 0a1.2 5.3 0 1 0 -2.4 0M296.1 469.7a1.1 10.9 0 1 0 2.2 0a1.1 10.9 0 1 0 -2.2 0M150.8 490.9a1.2 5.8 0 1 0 2.3 0a1.2 5.8 0 1 0 -2.3 0M452.4 359.9a1 10.9 0 1 0 1.9 0a1 10.9 0 1 0 -1.9 0M501.5 432.5a1.1 5.4 0 1 0 2.1 0a1.1 5.4 0 1 0 -2.1 0M434.9 402.6a1.5 9.1 0 1 0 3.1 0a1.5 9.1 0 1 0 -3.1 0M85.8 513.8a1.4 7.3 0 1 0 2.7 0a1.4 7.3 0 1 0 -2.7 0M441.5 374.3a1.5 10.9 0 1 0 3.1 0a1.5 10.9 0 1 0 -3.1 0M194.6 478.2a1.1 7 0 1 0 2.1 0a1.1 7 0 1 0 -2.1 0M286.5 458.2a1.2 6.9 0 1 0 2.3 0a1.2 6.9 0 1 0 -2.3 0M423 377.8a.9 7.9 0 1 0 1.8 0a.9 7.9 0 1 0 -1.8 0M132.5 496.8a1 9.3 0 1 0 2 0a1 9.3 0 1 0 -2 0M250.5 471.3a1.2 6.5 0 1 0 2.4 0a1.2 6.5 0 1 0 -2.4 0M428 407.3a1.4 9.5 0 1 0 2.8 0a1.4 9.5 0 1 0 -2.8 0M466.5 453.1a1.4 9.6 0 1 0 2.8 0a1.4 9.6 0 1 0 -2.8 0M261.1 463.2a1.5 11 0 1 0 2.9 0a1.5 11 0 1 0 -2.9 0M441.7 381.6a.8 6.5 0 1 0 1.6 0a.8 6.5 0 1 0 -1.6 0M128.7 498a.9 6.2 0 1 0 1.8 0a.9 6.2 0 1 0 -1.8 0M98.6 504.8a.8 10.1 0 1 0 1.6 0a.8 10.1 0 1 0 -1.6 0"/><path fill="#5cc9bc" fill-opacity="0.7" d="M459.5 387.8a1.2 7.7 0 1 0 2.4 0a1.2 7.7 0 1 0 -2.4 0M352.7 467.1a1.1 4.8 0 1 0 2.3 0a1.1 4.8 0 1 0 -2.3 0M306.3 450.9a.9 5.2 0 1 0 1.7 0a.9 5.2 0 1 0 -1.7 0M442.4 388.1a1.4 6.4 0 1 0 2.7 0a1.4 6.4 0 1 0 -2.7 0M275.4 452.4a1.3 7.3 0 1 0 2.6 0a1.3 7.3 0 1 0 -2.6 0M425.8 450a1.1 6.7 0 1 0 2.2 0a1.1 6.7 0 1 0 -2.2 0M180.7 484.8a.9 4.6 0 1 0 1.8 0a.9 4.6 0 1 0 -1.8 0M513.3 370.7a1.2 6.1 0 1 0 2.5 0a1.2 6.1 0 1 0 -2.5 0M273.2 469.9a1.3 4.1 0 1 0 2.7 0a1.3 4.1 0 1 0 -2.7 0M527.5 413a1 9.5 0 1 0 2 0a1 9.5 0 1 0 -2 0M266.5 468.9a.9 6.2 0 1 0 1.7 0a.9 6.2 0 1 0 -1.7 0M368.6 459.2a1.2 4.2 0 1 0 2.4 0a1.2 4.2 0 1 0 -2.4 0M334.9 457.9a1.3 10.4 0 1 0 2.6 0a1.3 10.4 0 1 0 -2.6 0M435.9 407.1a.8 5.9 0 1 0 1.7 0a.8 5.9 0 1 0 -1.7 0M324.7 438.9a1.5 10.1 0 1 0 2.9 0a1.5 10.1 0 1 0 -2.9 0M447.6 386.8a1.1 8.4 0 1 0 2.2 0a1.1 8.4 0 1 0 -2.2 0M374.6 451.1a1.4 10.5 0 1 0 2.8 0a1.4 10.5 0 1 0 -2.8 0M416.3 413a.9 4.4 0 1 0 1.7 0a.9 4.4 0 1 0 -1.7 0M422.8 409.6a1.4 4.6 0 1 0 2.8 0a1.4 4.6 0 1 0 -2.8 0M450.7 397.1a1.1 9.7 0 1 0 2.1 0a1.1 9.7 0 1 0 -2.1 0M435.8 390.4a.9 5.1 0 1 0 1.8 0a.9 5.1 0 1 0 -1.8 0M250.4 470.1a1.6 9.1 0 1 0 3.2 0a1.6 9.1 0 1 0 -3.2 0M380.1 399.7a1 8.4 0 1 0 2.1 0a1 8.4 0 1 0 -2.1 0M248.4 462.7a1.3 10.2 0 1 0 2.5 0a1.3 10.2 0 1 0 -2.5 0M329.7 424.3a1.6 5.1 0 1 0 3.2 0a1.6 5.1 0 1 0 -3.2 0M289.8 448.9a1.4 5.1 0 1 0 2.8 0a1.4 5.1 0 1 0 -2.8 0M442 411a1.3 4 0 1 0 2.5 0a1.3 4 0 1 0 -2.5 0M192.4 481.7a1.2 5.3 0 1 0 2.5 0a1.2 5.3 0 1 0 -2.5 0M363.1 450.6a1.1 8.2 0 1 0 2.2 0a1.1 8.2 0 1 0 -2.2 0M368.5 424.7a1.5 10.7 0 1 0 3 0a1.5 10.7 0 1 0 -3 0M499.4 402.4a1.2 6.5 0 1 0 2.5 0a1.2 6.5 0 1 0 -2.5 0"/><path fill="#5fcdb4" fill-opacity="0.7" d="M445 414.8a1.2 6.5 0 1 0 2.4 0a1.2 6.5 0 1 0 -2.4 0M434.8 403.5a1 5.3 0 1 0 2 0a1 5.3 0 1 0 -2 0M517.3 393.9a1 5.9 0 1 0 2 0a1 5.9 0 1 0 -2 0M259 464.4a1.5 5.1 0 1 0 3 0a1.5 5.1 0 1 0 -3 0M429.4 431.6a.9 10.9 0 1 0 1.8 0a.9 10.9 0 1 0 -1.8 0M449.7 463.4a1.1 6.3 0 1 0 2.2 0a1.1 6.3 0 1 0 -2.2 0M525 445.6a.9 11 0 1 0 1.7 0a.9 11 0 1 0 -1.7 0M306.4 447.2a1.4 6.9 0 1 0 2.8 0a1.4 6.9 0 1 0 -2.8 0M516.7 393.9a1.5 6.9 0 1 0 3.1 0a1.5 6.9 0 1 0 -3.1 0M180.1 484.5a1.3 4.7 0 1 0 2.6 0a1.3 4.7 0 1 0 -2.6 0M261.3 468.8a1 7 0 1 0 1.9 0a1 7 0 1 0 -1.9 0M324 466.4a1.3 6.4 0 1 0 2.6 0a1.3 6.4 0 1 0 -2.6 0M219.9 477.8a1.3 6.8 0 1 0 2.7 0a1.3 6.8 0 1 0 -2.7 0M465.2 440.2a.9 5.5 0 1 0 1.9 0a.9 5.5 0 1 0 -1.9 0M476.8 401.3a.9 8.3 0 1 0 1.9 0a.9 8.3 0 1 0 -1.9 0M269.2 472.4a1.3 8.3 0 1 0 2.7 0a1.3 8.3 0 1 0 -2.7 0M225.8 477.5a1.1 9.4 0 1 0 2.1 0a1.1 9.4 0 1 0 -2.1 0M379 427a.9 5 0 1 0 1.8 0a.9 5 0 1 0 -1.8 0M509.8 386.4a1 6.2 0 1 0 1.9 0a1 6.2 0 1 0 -1.9 0M391.5 423.3a1.2 8.4 0 1 0 2.3 0a1.2 8.4 0 1 0 -2.3 0M269.5 468.9a1.5 4.5 0 1 0 2.9 0a1.5 4.5 0 1 0 -2.9 0"/><path fill="#63cca0" fill-opacity="0.7" d="M477.1 419.9a1.1 10.5 0 1 0 2.1 0a1.1 10.5 0 1 0 -2.1 0M377.3 434.7a1.2 5.8 0 1 0 2.5 0a1.2 5.8 0 1 0 -2.5 0M492 413.5a1 5.7 0 1 0 2.1 0a1 5.7 0 1 0 -2.1 0M216 478a1.4 4.9 0 1 0 2.9 0a1.4 4.9 0 1 0 -2.9 0M508.7 431.5a1.2 5.1 0 1 0 2.4 0a1.2 5.1 0 1 0 -2.4 0M393.9 445.2a1 8.8 0 1 0 2.1 0a1 8.8 0 1 0 -2.1 0M386.3 431.3a1.2 6.3 0 1 0 2.4 0a1.2 6.3 0 1 0 -2.4 0M151.4 492a1 10.4 0 1 0 2.1 0a1 10.4 0 1 0 -2.1 0M428.8 463.6a1 9.1 0 1 0 2 0a1 9.1 0 1 0 -2 0M391.6 430.4a.8 5.6 0 1 0 1.7 0a.8 5.6 0 1 0 -1.7 0M400.9 445.4a1 8.3 0 1 0 2 0a1 8.3 0 1 0 -2 0M212.9 477a1.1 10.1 0 1 0 2.2 0a1.1 10.1 0 1 0 -2.2 0M455.7 457.9a1.1 7.6 0 1 0 2.3 0a1.1 7.6 0 1 0 -2.3 0M163.3 488.8a1.2 5.6 0 1 0 2.4 0a1.2 5.6 0 1 0 -2.4 0M325.8 470a1.6 4.9 0 1 0 3.2 0a1.6 4.9 0 1 0 -3.2 0M523.5 395.1a1.5 6.2 0 1 0 3 0a1.5 6.2 0 1 0 -3 0M298.4 462.9a1.2 4.6 0 1 0 2.4 0a1.2 4.6 0 1 0 -2.4 0M87.2 515.7a1.5 8 0 1 0 2.9 0a1.5 8 0 1 0 -2.9 0M315 448.8a1.2 10.2 0 1 0 2.4 0a1.2 10.2 0 1 0 -2.4 0M501.4 457.3a1.6 6.8 0 1 0 3.1 0a1.6 6.8 0 1 0 -3.1 0"/><path fill="#66cb8c" fill-opacity="0.7" d="M396.3 424.8a1.3 7.5 0 1 0 2.6 0a1.3 7.5 0 1 0 -2.6 0M450.8 435.4a1.6 8.6 0 1 0 3.2 0a1.6 8.6 0 1 0 -3.2 0M504.6 437.4a1 8.6 0 1 0 2 0a1 8.6 0 1 0 -2 0M140.5 494.5a1.1 7.3 0 1 0 2.3 0a1.1 7.3 0 1 0 -2.3 0M484.5 413.9a1.1 5 0 1 0 2.2 0a1.1 5 0 1 0 -2.2 0M466.3 427.5a1.5 5.2 0 1 0 3 0a1.5 5.2 0 1 0 -3 0M339.9 443.8a1.3 10.4 0 1 0 2.5 0a1.3 10.4 0 1 0 -2.5 0M447.6 437.9a1.4 4.9 0 1 0 2.8 0a1.4 4.9 0 1 0 -2.8 0M404.9 418.8a1.5 10.7 0 1 0 3 0a1.5 10.7 0 1 0 -3 0M381.1 445.6a1.4 7.6 0 1 0 2.8 0a1.4 7.6 0 1 0 -2.8 0M474.2 421.3a1.4 10.9 0 1 0 2.8 0a1.4 10.9 0 1 0 -2.8 0M505.1 416.2a1.1 4.9 0 1 0 2.3 0a1.1 4.9 0 1 0 -2.3 0M328.7 461.7a.9 7 0 1 0 1.8 0a.9 7 0 1 0 -1.8 0M259.2 463.2a1.1 8.2 0 1 0 2.1 0a1.1 8.2 0 1 0 -2.1 0M435.6 453.4a.8 10.5 0 1 0 1.7 0a.8 10.5 0 1 0 -1.7 0M486.7 428.6a1.5 5 0 1 0 3 0a1.5 5 0 1 0 -3 0M520.4 401.4a1.1 10.1 0 1 0 2.2 0a1.1 10.1 0 1 0 -2.2 0M441.8 458a.9 10.4 0 1 0 1.7 0a.9 10.4 0 1 0 -1.7 0M54 524a1.5 6.8 0 1 0 2.9 0a1.5 6.8 0 1 0 -2.9 0M449.2 443.1a.8 4.9 0 1 0 1.6 0a.8 4.9 0 1 0 -1.6 0M508.1 411.3a1.4 5.2 0 1 0 2.8 0a1.4 5.2 0 1 0 -2.8 0M455.7 443.5a1.3 8.2 0 1 0 2.6 0a1.3 8.2 0 1 0 -2.6 0M243 472.3a1.5 4.6 0 1 0 2.9 0a1.5 4.6 0 1 0 -2.9 0M432.8 414a1.4 6 0 1 0 2.9 0a1.4 6 0 1 0 -2.9 0M276.1 469.2a.8 6 0 1 0 1.6 0a.8 6 0 1 0 -1.6 0M486.4 441.1a1.3 9.9 0 1 0 2.6 0a1.3 9.9 0 1 0 -2.6 0M265.6 468.2a.9 6.5 0 1 0 1.9 0a.9 6.5 0 1 0 -1.9 0M374.3 434.4a1.2 6.2 0 1 0 2.4 0a1.2 6.2 0 1 0 -2.4 0M528.6 438.2a1.6 8.6 0 1 0 3.2 0a1.6 8.6 0 1 0 -3.2 0M513.2 426.9a.9 5.7 0 1 0 1.7 0a.9 5.7 0 1 0 -1.7 0M524.6 433.8a1.4 9.6 0 1 0 2.9 0a1.4 9.6 0 1 0 -2.9 0M481 406.5a1.5 5.6 0 1 0 2.9 0a1.5 5.6 0 1 0 -2.9 0M486.5 445.2a1.1 4.5 0 1 0 2.1 0a1.1 4.5 0 1 0 -2.1 0M230.1 476.7a1.6 6.6 0 1 0 3.1 0a1.6 6.6 0 1 0 -3.1 0M500.6 418.6a1.6 6.8 0 1 0 3.1 0a1.6 6.8 0 1 0 -3.1 0M342 468.3a1.1 4.9 0 1 0 2.3 0a1.1 4.9 0 1 0 -2.3 0M453.6 445.7a1.4 10 0 1 0 2.8 0a1.4 10 0 1 0 -2.8 0M341.1 416.8a1.4 5 0 1 0 2.8 0a1.4 5 0 1 0 -2.8 0M489.3 406.6a1.6 6.6 0 1 0 3.2 0a1.6 6.6 0 1 0 -3.2 0M491.4 431.5a.9 4.3 0 1 0 1.9 0a.9 4.3 0 1 0 -1.9 0M398.9 441.3a1 9.7 0 1 0 1.9 0a1 9.7 0 1 0 -1.9 0M464 404.1a1.3 6.6 0 1 0 2.6 0a1.3 6.6 0 1 0 -2.6 0M444.5 407.9a1 9.8 0 1 0 1.9 0a1 9.8 0 1 0 -1.9 0M473.8 446.6a.9 9.3 0 1 0 1.9 0a.9 9.3 0 1 0 -1.9 0M495.8 452a.9 10.1 0 1 0 1.9 0a.9 10.1 0 1 0 -1.9 0M250.4 463.7a1.2 5 0 1 0 2.3 0a1.2 5 0 1 0 -2.3 0M496.5 408.7a1.5 8 0 1 0 3 0a1.5 8 0 1 0 -3 0M467.2 438.9a1.5 6.2 0 1 0 2.9 0a1.5 6.2 0 1 0 -2.9 0M188.3 483a1.5 5.3 0 1 0 3 0a1.5 5.3 0 1 0 -3 0M417.4 447.5a1 8.4 0 1 0 2 0a1 8.4 0 1 0 -2 0M328.3 444.1a.8 9.3 0 1 0 1.7 0a.8 9.3 0 1 0 -1.7 0M56.5 524.4a1.3 7.4 0 1 0 2.5 0a1.3 7.4 0 1 0 -2.5 0M504.8 455.5a1.5 8.5 0 1 0 2.9 0a1.5 8.5 0 1 0 -2.9 0M495 434.1a1.5 8.3 0 1 0 3 0a1.5 8.3 0 1 0 -3 0M102.7 504.7a1.5 8.7 0 1 0 3 0a1.5 8.7 0 1 0 -3 0M221.8 469.9a1.2 10.4 0 1 0 2.3 0a1.2 10.4 0 1 0 -2.3 0M220.6 475.6a1.6 8.7 0 1 0 3.2 0a1.6 8.7 0 1 0 -3.2 0M382.6 413a1.4 6.5 0 1 0 2.7 0a1.4 6.5 0 1 0 -2.7 0M519.9 427.3a1.1 4.1 0 1 0 2.2 0a1.1 4.1 0 1 0 -2.2 0M196.5 477a1.4 7.5 0 1 0 2.8 0a1.4 7.5 0 1 0 -2.8 0M329.4 468.7a.9 5.5 0 1 0 1.9 0a.9 5.5 0 1 0 -1.9 0M470.9 433.2a.8 8.7 0 1 0 1.6 0a.8 8.7 0 1 0 -1.6 0M386.6 460.2a1.6 8.8 0 1 0 3.1 0a1.6 8.8 0 1 0 -3.1 0M474.5 455.9a1.5 10.7 0 1 0 3 0a1.5 10.7 0 1 0 -3 0M201.7 480.6a1.3 6.6 0 1 0 2.6 0a1.3 6.6 0 1 0 -2.6 0M339.9 467.3a1.5 5 0 1 0 3.1 0a1.5 5 0 1 0 -3.1 0M435.9 450.4a1 9.6 0 1 0 2 0a1 9.6 0 1 0 -2 0M241.8 469.4a1 9.8 0 1 0 1.9 0a1 9.8 0 1 0 -1.9 0M344.7 439.8a1.1 10.1 0 1 0 2.3 0a1.1 10.1 0 1 0 -2.3 0M497.3 438.2a1.5 9.7 0 1 0 3.1 0a1.5 9.7 0 1 0 -3.1 0M92.4 512.8a1.2 4.9 0 1 0 2.3 0a1.2 4.9 0 1 0 -2.3 0"/><path fill="#6aca79" fill-opacity="0.7" d="M458.6 440a1.4 7.7 0 1 0 2.7 0a1.4 7.7 0 1 0 -2.7 0M409.7 446.1a1.3 9.9 0 1 0 2.7 0a1.3 9.9 0 1 0 -2.7 0M498.5 460.2a1.1 4.7 0 1 0 2.2 0a1.1 4.7 0 1 0 -2.2 0"/><path fill="#6dc965" fill-opacity="0.7" d="M489.9 456.1a1.6 5.5 0 1 0 3.1 0a1.6 5.5 0 1 0 -3.1 0M430.9 428.6a1.5 5 0 1 0 3.1 0a1.5 5 0 1 0 -3.1 0M408.6 460.8a1.1 9.1 0 1 0 2.1 0a1.1 9.1 0 1 0 -2.1 0M334.3 437.2a1.5 5.7 0 1 0 3 0a1.5 5.7 0 1 0 -3 0M421.5 450.9a1.1 9.9 0 1 0 2.2 0a1.1 9.9 0 1 0 -2.2 0M310.1 437a.8 5.3 0 1 0 1.6 0a.8 5.3 0 1 0 -1.6 0M515 452.9a1.1 6.9 0 1 0 2.2 0a1.1 6.9 0 1 0 -2.2 0M459.6 435.3a1.1 5.2 0 1 0 2.1 0a1.1 5.2 0 1 0 -2.1 0M187.7 480.2a.9 5.2 0 1 0 1.8 0a.9 5.2 0 1 0 -1.8 0M497.5 421.4a1.6 9.5 0 1 0 3.2 0a1.6 9.5 0 1 0 -3.2 0M287 443.8a1.1 10.8 0 1 0 2.1 0a1.1 10.8 0 1 0 -2.1 0M464.8 462.1a.9 6.2 0 1 0 1.9 0a.9 6.2 0 1 0 -1.9 0M518.9 425.1a1.2 8.9 0 1 0 2.5 0a1.2 8.9 0 1 0 -2.5 0M214 473a.8 9 0 1 0 1.7 0a.8 9 0 1 0 -1.7 0M489.7 421.4a1.3 10.6 0 1 0 2.7 0a1.3 10.6 0 1 0 -2.7 0M524.5 436.7a1 4.8 0 1 0 1.9 0a1 4.8 0 1 0 -1.9 0M509.4 449.7a1.6 8.6 0 1 0 3.1 0a1.6 8.6 0 1 0 -3.1 0M372.1 464.2a1 8.7 0 1 0 2 0a1 8.7 0 1 0 -2 0M260 460.3a1.4 6.2 0 1 0 2.8 0a1.4 6.2 0 1 0 -2.8 0M498.5 401.9a.9 10.5 0 1 0 1.8 0a.9 10.5 0 1 0 -1.8 0M500.8 454.5a1.2 10.4 0 1 0 2.4 0a1.2 10.4 0 1 0 -2.4 0M502.7 418.8a1.2 7.8 0 1 0 2.3 0a1.2 7.8 0 1 0 -2.3 0M419.7 465.8a.8 10.4 0 1 0 1.7 0a.8 10.4 0 1 0 -1.7 0M433.1 443.6a1.3 7.7 0 1 0 2.6 0a1.3 7.7 0 1 0 -2.6 0M524.2 447.8a.9 7.2 0 1 0 1.7 0a.9 7.2 0 1 0 -1.7 0M463.6 428.6a1.4 5 0 1 0 2.9 0a1.4 5 0 1 0 -2.9 0M220.2 473.9a1.2 10.8 0 1 0 2.4 0a1.2 10.8 0 1 0 -2.4 0M505.3 429.7a1.4 10.8 0 1 0 2.9 0a1.4 10.8 0 1 0 -2.9 0M488 455a1.1 6.8 0 1 0 2.2 0a1.1 6.8 0 1 0 -2.2 0M453.2 426.4a1.5 10.8 0 1 0 2.9 0a1.5 10.8 0 1 0 -2.9 0M470.2 459.6a.9 7 0 1 0 1.9 0a.9 7 0 1 0 -1.9 0M262 465a.8 4.3 0 1 0 1.6 0a.8 4.3 0 1 0 -1.6 0M106.8 503a1.2 4.8 0 1 0 2.3 0a1.2 4.8 0 1 0 -2.3 0M472.6 434.9a1.1 4.6 0 1 0 2.2 0a1.1 4.6 0 1 0 -2.2 0M476.4 459.3a.8 10.4 0 1 0 1.6 0a.8 10.4 0 1 0 -1.6 0M446.1 423.9a1.2 8.2 0 1 0 2.4 0a1.2 8.2 0 1 0 -2.4 0M58.1 522.6a1.3 5.3 0 1 0 2.7 0a1.3 5.3 0 1 0 -2.7 0M414.7 444.8a1.1 5.8 0 1 0 2.2 0a1.1 5.8 0 1 0 -2.2 0M287.2 451.8a.9 10.5 0 1 0 1.9 0a.9 10.5 0 1 0 -1.9 0M441.5 464.3a1.1 4.6 0 1 0 2.2 0a1.1 4.6 0 1 0 -2.2 0M440.4 405.1a.8 10.4 0 1 0 1.6 0a.8 10.4 0 1 0 -1.6 0M180.9 480.7a.8 7.8 0 1 0 1.6 0a.8 7.8 0 1 0 -1.6 0M407.2 467.4a1.3 7.9 0 1 0 2.6 0a1.3 7.9 0 1 0 -2.6 0M422.2 407.7a1.2 9.5 0 1 0 2.4 0a1.2 9.5 0 1 0 -2.4 0M84.6 515.9a1.6 8.9 0 1 0 3.2 0a1.6 8.9 0 1 0 -3.2 0M525.3 455.1a1.4 7.3 0 1 0 2.8 0a1.4 7.3 0 1 0 -2.8 0M513.6 430.4a1.3 8.8 0 1 0 2.6 0a1.3 8.8 0 1 0 -2.6 0M214 472.8a1.1 5.2 0 1 0 2.2 0a1.1 5.2 0 1 0 -2.2 0M245.5 461.6a.9 6.5 0 1 0 1.8 0a.9 6.5 0 1 0 -1.8 0M462.5 455.5a1.5 9.5 0 1 0 3 0a1.5 9.5 0 1 0 -3 0M80.6 520.4a.9 4.4 0 1 0 1.9 0a.9 4.4 0 1 0 -1.9 0M173.3 485.7a1.1 6.4 0 1 0 2.2 0a1.1 6.4 0 1 0 -2.2 0M484.6 425.9a1.1 9.1 0 1 0 2.3 0a1.1 9.1 0 1 0 -2.3 0M368.8 408.4a1.5 7.6 0 1 0 3 0a1.5 7.6 0 1 0 -3 0M443.7 407.9a.8 6.8 0 1 0 1.7 0a.8 6.8 0 1 0 -1.7 0M508.8 413.4a1.1 9.1 0 1 0 2.1 0a1.1 9.1 0 1 0 -2.1 0M249.6 465.3a1.1 7.7 0 1 0 2.3 0a1.1 7.7 0 1 0 -2.3 0M454.5 450.4a1 7.2 0 1 0 2 0a1 7.2 0 1 0 -2 0M302.9 441.7a1.2 9.8 0 1 0 2.3 0a1.2 9.8 0 1 0 -2.3 0M479.7 421.8a.9 7.3 0 1 0 1.9 0a.9 7.3 0 1 0 -1.9 0M272.1 449.3a.9 6 0 1 0 1.8 0a.9 6 0 1 0 -1.8 0M523.1 448.1a1.3 9.5 0 1 0 2.6 0a1.3 9.5 0 1 0 -2.6 0M81.2 517.8a.9 8.1 0 1 0 1.8 0a.9 8.1 0 1 0 -1.8 0M273.5 462.2a.8 5.9 0 1 0 1.7 0a.8 5.9 0 1 0 -1.7 0M361.9 415.8a1.5 9.4 0 1 0 3 0a1.5 9.4 0 1 0 -3 0M286.3 458.2a1.4 8.4 0 1 0 2.7 0a1.4 8.4 0 1 0 -2.7 0M165.2 487.4a1.1 10.2 0 1 0 2.2 0a1.1 10.2 0 1 0 -2.2 0M433.1 419.9a1.4 5.1 0 1 0 2.9 0a1.4 5.1 0 1 0 -2.9 0M402.7 435.8a1.4 10.6 0 1 0 2.7 0a1.4 10.6 0 1 0 -2.7 0M375.6 441.7a1.4 10.4 0 1 0 2.8 0a1.4 10.4 0 1 0 -2.8 0M138.7 495a1.3 11 0 1 0 2.7 0a1.3 11 0 1 0 -2.7 0M493.4 456.8a.9 7.9 0 1 0 1.8 0a.9 7.9 0 1 0 -1.8 0M473.6 421.5a.9 10.7 0 1 0 1.7 0a.9 10.7 0 1 0 -1.7 0M279.7 443.1a.8 7 0 1 0 1.7 0a.8 7 0 1 0 -1.7 0M514.9 459.1a1.4 9.3 0 1 0 2.7 0a1.4 9.3 0 1 0 -2.7 0M346.1 454.8a1.5 7.2 0 1 0 3 0a1.5 7.2 0 1 0 -3 0M212.6 471.4a1.4 7.7 0 1 0 2.8 0a1.4 7.7 0 1 0 -2.8 0M352.3 424.6a1.6 7.6 0 1 0 3.2 0a1.6 7.6 0 1 0 -3.2 0M445.8 437.2a1.3 6.5 0 1 0 2.6 0a1.3 6.5 0 1 0 -2.6 0M442.1 441.3a1 5.1 0 1 0 1.9 0a1 5.1 0 1 0 -1.9 0M401.9 458a1.5 8.1 0 1 0 3 0a1.5 8.1 0 1 0 -3 0M516.1 439.1a1.2 10.1 0 1 0 2.4 0a1.2 10.1 0 1 0 -2.4 0"/><path fill="#74c955" fill-opacity="0.7" d="M80.2 519.9a1.4 4.7 0 1 0 2.9 0a1.4 4.7 0 1 0 -2.9 0M431.2 432a.9 7.9 0 1 0 1.9 0a.9 7.9 0 1 0 -1.9 0M528.5 418.8a1.2 6.8 0 1 0 2.3 0a1.2 6.8 0 1 0 -2.3 0M513.9 440.6a1 7.3 0 1 0 2.1 0a1 7.3 0 1 0 -2.1 0M297.9 469.8a1.1 6.1 0 1 0 2.3 0a1.1 6.1 0 1 0 -2.3 0M373.9 449.1a1.6 5.9 0 1 0 3.1 0a1.6 5.9 0 1 0 -3.1 0M447.2 450.2a1.2 5.9 0 1 0 2.4 0a1.2 5.9 0 1 0 -2.4 0M503 403.2a1.2 6.2 0 1 0 2.4 0a1.2 6.2 0 1 0 -2.4 0M495 457.9a1.5 6.7 0 1 0 3 0a1.5 6.7 0 1 0 -3 0M505.5 453.5a1.3 11 0 1 0 2.5 0a1.3 11 0 1 0 -2.5 0M377.3 460.3a1.6 8.3 0 1 0 3.1 0a1.6 8.3 0 1 0 -3.1 0M528.3 400.7a1.4 10.8 0 1 0 2.9 0a1.4 10.8 0 1 0 -2.9 0M518.3 434.7a1.3 8.2 0 1 0 2.6 0a1.3 8.2 0 1 0 -2.6 0M450.3 424.2a1.3 5.6 0 1 0 2.5 0a1.3 5.6 0 1 0 -2.5 0M131 496.8a.9 5.6 0 1 0 1.9 0a.9 5.6 0 1 0 -1.9 0M505.8 445.6a1 5.8 0 1 0 2 0a1 5.8 0 1 0 -2 0M326.2 457.1a1.5 6.1 0 1 0 3 0a1.5 6.1 0 1 0 -3 0M336.3 417.1a1.3 9.8 0 1 0 2.6 0a1.3 9.8 0 1 0 -2.6 0M518.9 401.2a1.3 10.1 0 1 0 2.7 0a1.3 10.1 0 1 0 -2.7 0M344.1 433a1.1 5.7 0 1 0 2.2 0a1.1 5.7 0 1 0 -2.2 0M483.8 402.5a1.2 8.3 0 1 0 2.5 0a1.2 8.3 0 1 0 -2.5 0M184.9 479.2a1.3 8.2 0 1 0 2.7 0a1.3 8.2 0 1 0 -2.7 0M385.8 442.7a1.1 10.3 0 1 0 2.2 0a1.1 10.3 0 1 0 -2.2 0M284.4 462a1.1 10.7 0 1 0 2.3 0a1.1 10.7 0 1 0 -2.3 0M516.1 452.1a1.1 7.4 0 1 0 2.2 0a1.1 7.4 0 1 0 -2.2 0M315.4 464a1.5 6.5 0 1 0 3.1 0a1.5 6.5 0 1 0 -3.1 0M267.8 459.7a1.4 6.2 0 1 0 2.7 0a1.4 6.2 0 1 0 -2.7 0M526.9 420.7a1.1 9.8 0 1 0 2.2 0a1.1 9.8 0 1 0 -2.2 0M423.6 428.8a1.1 7.1 0 1 0 2.2 0a1.1 7.1 0 1 0 -2.2 0M523.6 428.9a1 10.6 0 1 0 2 0a1 10.6 0 1 0 -2 0M360.1 435.9a1.4 9.7 0 1 0 2.9 0a1.4 9.7 0 1 0 -2.9 0M523.1 424.2a1.5 4.1 0 1 0 3 0a1.5 4.1 0 1 0 -3 0M520 438.2a1.1 6.9 0 1 0 2.1 0a1.1 6.9 0 1 0 -2.1 0M435.4 450.9a1.3 7.1 0 1 0 2.6 0a1.3 7.1 0 1 0 -2.6 0M258.1 466.8a1.5 9 0 1 0 3.1 0a1.5 9 0 1 0 -3.1 0M380.7 445.3a1.3 7.7 0 1 0 2.7 0a1.3 7.7 0 1 0 -2.7 0M450.6 433.7a1.1 4.6 0 1 0 2.2 0a1.1 4.6 0 1 0 -2.2 0M393.7 411.1a1.4 5.4 0 1 0 2.8 0a1.4 5.4 0 1 0 -2.8 0M516.6 421.4a1.6 10.6 0 1 0 3.1 0a1.6 10.6 0 1 0 -3.1 0M464.7 442.6a1 8.3 0 1 0 2.1 0a1 8.3 0 1 0 -2.1 0M517.5 440.4a.8 10.5 0 1 0 1.6 0a.8 10.5 0 1 0 -1.6 0M422.6 428.4a1.4 6.3 0 1 0 2.7 0a1.4 6.3 0 1 0 -2.7 0M365.3 446a1.2 7.2 0 1 0 2.4 0a1.2 7.2 0 1 0 -2.4 0M504.4 461.7a1.1 6.7 0 1 0 2.3 0a1.1 6.7 0 1 0 -2.3 0M425.4 464.8a1.3 7.6 0 1 0 2.6 0a1.3 7.6 0 1 0 -2.6 0M373.7 467.8a1.4 10.9 0 1 0 2.8 0a1.4 10.9 0 1 0 -2.8 0M318.1 453.6a.9 8.5 0 1 0 1.7 0a.9 8.5 0 1 0 -1.7 0M477.3 451.6a.9 9.6 0 1 0 1.8 0a.9 9.6 0 1 0 -1.8 0M322.3 460.9a1.5 8.7 0 1 0 2.9 0a1.5 8.7 0 1 0 -2.9 0M408.9 414.7a1 10.3 0 1 0 1.9 0a1 10.3 0 1 0 -1.9 0M391 412a1.5 10.8 0 1 0 3 0a1.5 10.8 0 1 0 -3 0M193.7 478.7a.9 4.8 0 1 0 1.8 0a.9 4.8 0 1 0 -1.8 0M422 439.1a1 4.5 0 1 0 2.1 0a1 4.5 0 1 0 -2.1 0M512.1 434.9a1.5 7.2 0 1 0 3 0a1.5 7.2 0 1 0 -3 0M406 464.9a1.1 8.4 0 1 0 2.3 0a1.1 8.4 0 1 0 -2.3 0M334.5 422.5a1.5 5.4 0 1 0 2.9 0a1.5 5.4 0 1 0 -2.9 0M519.3 429.5a1.5 9.5 0 1 0 2.9 0a1.5 9.5 0 1 0 -2.9 0M290.4 471.6a1.3 6.9 0 1 0 2.5 0a1.3 6.9 0 1 0 -2.5 0M218.4 470a.8 9.5 0 1 0 1.6 0a.8 9.5 0 1 0 -1.6 0M502.9 420.4a1.5 4.9 0 1 0 2.9 0a1.5 4.9 0 1 0 -2.9 0M427.1 426.3a1 4.5 0 1 0 2.1 0a1 4.5 0 1 0 -2.1 0M449.3 465.8a1.3 10.8 0 1 0 2.7 0a1.3 10.8 0 1 0 -2.7 0M368.5 424.8a1 9.1 0 1 0 2 0a1 9.1 0 1 0 -2 0M524.9 449.2a1.5 4.1 0 1 0 3 0a1.5 4.1 0 1 0 -3 0M436.9 460.7a1.4 8.8 0 1 0 2.7 0a1.4 8.8 0 1 0 -2.7 0M495.9 431.2a.9 10.1 0 1 0 1.7 0a.9 10.1 0 1 0 -1.7 0M387 435.5a1.4 5.8 0 1 0 2.7 0a1.4 5.8 0 1 0 -2.7 0"/></g>
<polygon points="46,523 80,519 95,509 100,503 160,487 206,477 260,471 300,468 366,466 450,463 531,459 531,497.5 450,498 366,499.5 300,501 260,502 206,506 160,514 100,521 80,523 46,525" fill="#50c3e1" filter="url(#b1)"/>
<polygon points="46,526 80,524 100,514 160,499 206,489 260,481 300,478 366,475 450,471 531,467 531,495.5 450,496 366,497.5 300,499 260,500 206,504 160,512 100,519 80,521 46,523" fill="#70c855" fill-opacity="1" filter="url(#b3)"/>
<g filter="url(#b06)"><path fill="#3c76d4" fill-opacity="0.8" d="M67.4 509.8a1.1 5.5 0 1 0 2.2 0a1.1 5.5 0 1 0 -2.2 0M72.1 507.4a1 4.9 0 1 0 2 0a1 4.9 0 1 0 -2 0M83.1 523.5a1.4 2.9 0 1 0 2.8 0a1.4 2.9 0 1 0 -2.8 0M52 524.6a1.2 5.8 0 1 0 2.3 0a1.2 5.8 0 1 0 -2.3 0M66.3 503.3a1.4 4.3 0 1 0 2.7 0a1.4 4.3 0 1 0 -2.7 0M91.2 519.9a.9 5.5 0 1 0 1.8 0a.9 5.5 0 1 0 -1.8 0M59 515.1a1.1 5.2 0 1 0 2.2 0a1.1 5.2 0 1 0 -2.2 0M66.1 506.1a1.4 3.5 0 1 0 2.9 0a1.4 3.5 0 1 0 -2.9 0M60.4 521.9a1.5 5.5 0 1 0 2.9 0a1.5 5.5 0 1 0 -2.9 0M64.2 522.2a1.1 4 0 1 0 2.2 0a1.1 4 0 1 0 -2.2 0M74 522.1a.8 3.7 0 1 0 1.6 0a.8 3.7 0 1 0 -1.6 0M64.4 501.2a1.2 5.8 0 1 0 2.5 0a1.2 5.8 0 1 0 -2.5 0M91.6 521.4a.9 3.6 0 1 0 1.7 0a.9 3.6 0 1 0 -1.7 0M71 522.7a1.3 5.4 0 1 0 2.6 0a1.3 5.4 0 1 0 -2.6 0M75.4 502.1a1.3 5.7 0 1 0 2.5 0a1.3 5.7 0 1 0 -2.5 0"/><path fill="#48a1df" fill-opacity="0.8" d="M52.3 514.3a1.1 3.4 0 1 0 2.2 0a1.1 3.4 0 1 0 -2.2 0M81 506.8a1.1 3.9 0 1 0 2.1 0a1.1 3.9 0 1 0 -2.1 0M81.1 506.3a1.4 6 0 1 0 2.8 0a1.4 6 0 1 0 -2.8 0M74.2 505.9a1 5.9 0 1 0 1.9 0a1 5.9 0 1 0 -1.9 0M93.9 524.9a.9 5.2 0 1 0 1.8 0a.9 5.2 0 1 0 -1.8 0M92.4 505.6a1 5.3 0 1 0 2 0a1 5.3 0 1 0 -2 0M84.6 500.7a.8 5.4 0 1 0 1.6 0a.8 5.4 0 1 0 -1.6 0M58.1 500a.9 4.5 0 1 0 1.9 0a.9 4.5 0 1 0 -1.9 0M58.2 515.4a1.5 5.2 0 1 0 3 0a1.5 5.2 0 1 0 -3 0M71.4 511.8a1.1 2.8 0 1 0 2.3 0a1.1 2.8 0 1 0 -2.3 0M55.4 525.5a1 4.1 0 1 0 2.1 0a1 4.1 0 1 0 -2.1 0"/><path fill="#4eb6e4" fill-opacity="0.85" d="M381.6 479.2a1.9 4.5 0 1 0 3.8 0a1.9 4.5 0 1 0 -3.8 0M514.8 479.4a1.6 2.7 0 1 0 3.2 0a1.6 2.7 0 1 0 -3.2 0M78.7 518.4a1.4 2.8 0 1 0 2.7 0a1.4 2.8 0 1 0 -2.7 0M126.1 507.4a1 4.4 0 1 0 2 0a1 4.4 0 1 0 -2 0M159.5 503.8a1.7 4.3 0 1 0 3.3 0a1.7 4.3 0 1 0 -3.3 0M518.1 461.5a1.7 4.3 0 1 0 3.3 0a1.7 4.3 0 1 0 -3.3 0M98.6 516.7a1.2 3.5 0 1 0 2.4 0a1.2 3.5 0 1 0 -2.4 0M186.3 486a1.7 2.1 0 1 0 3.4 0a1.7 2.1 0 1 0 -3.4 0M523.8 486.5a1.2 4.1 0 1 0 2.4 0a1.2 4.1 0 1 0 -2.4 0M311.5 481.9a2 3.7 0 1 0 4 0a2 3.7 0 1 0 -4 0M511.6 469.4a1.1 2.7 0 1 0 2.2 0a1.1 2.7 0 1 0 -2.2 0M313.6 498.4a1.5 2.7 0 1 0 2.9 0a1.5 2.7 0 1 0 -2.9 0M508.3 468a1.9 2.1 0 1 0 3.8 0a1.9 2.1 0 1 0 -3.8 0M223.4 476.6a1.6 4 0 1 0 3.3 0a1.6 4 0 1 0 -3.3 0M522.4 473.5a1.6 4.3 0 1 0 3.2 0a1.6 4.3 0 1 0 -3.2 0M422.5 489.8a1.7 2.3 0 1 0 3.5 0a1.7 2.3 0 1 0 -3.5 0M167.7 501.9a1.8 4.3 0 1 0 3.5 0a1.8 4.3 0 1 0 -3.5 0M252.5 488.9a1.4 3.2 0 1 0 2.9 0a1.4 3.2 0 1 0 -2.9 0M185 498a1.3 3.8 0 1 0 2.5 0a1.3 3.8 0 1 0 -2.5 0M369.8 488.4a1.5 2.7 0 1 0 3.1 0a1.5 2.7 0 1 0 -3.1 0M174.4 502.5a1.4 2.6 0 1 0 2.8 0a1.4 2.6 0 1 0 -2.8 0M386.6 472.9a1.9 3 0 1 0 3.8 0a1.9 3 0 1 0 -3.8 0M230.8 494.5a1.9 2.2 0 1 0 3.7 0a1.9 2.2 0 1 0 -3.7 0M161 507.7a1 3.7 0 1 0 2.1 0a1 3.7 0 1 0 -2.1 0M104.3 513.5a1 4.2 0 1 0 2.1 0a1 4.2 0 1 0 -2.1 0M232.6 496.9a1.5 3.3 0 1 0 3 0a1.5 3.3 0 1 0 -3 0M174.7 508.5a1.6 3.9 0 1 0 3.1 0a1.6 3.9 0 1 0 -3.1 0M447.9 465.8a1.1 3.3 0 1 0 2.2 0a1.1 3.3 0 1 0 -2.2 0M180.4 486a1.4 3.8 0 1 0 2.8 0a1.4 3.8 0 1 0 -2.8 0M432 476a1.1 2.8 0 1 0 2.3 0a1.1 2.8 0 1 0 -2.3 0M121.7 513.7a2 4.1 0 1 0 3.9 0a2 4.1 0 1 0 -3.9 0M354.3 471.9a1 3.5 0 1 0 2 0a1 3.5 0 1 0 -2 0M475.1 488.1a1.5 2.7 0 1 0 3 0a1.5 2.7 0 1 0 -3 0M202.8 504a1.4 2.7 0 1 0 2.8 0a1.4 2.7 0 1 0 -2.8 0M441.6 481.4a1.3 4 0 1 0 2.7 0a1.3 4 0 1 0 -2.7 0M250.6 477.9a2 3.5 0 1 0 4 0a2 3.5 0 1 0 -4 0M79.4 518.8a1.3 2.1 0 1 0 2.5 0a1.3 2.1 0 1 0 -2.5 0M478.8 487.6a1.1 3.8 0 1 0 2.3 0a1.1 3.8 0 1 0 -2.3 0M81.2 517.4a1.2 4.4 0 1 0 2.4 0a1.2 4.4 0 1 0 -2.4 0M239.7 480.4a1.9 2 0 1 0 3.8 0a1.9 2 0 1 0 -3.8 0M477.5 480.6a1.9 4.5 0 1 0 3.8 0a1.9 4.5 0 1 0 -3.8 0M328.8 488.2a1.9 3.8 0 1 0 3.8 0a1.9 3.8 0 1 0 -3.8 0M182.8 501.4a1.5 2.6 0 1 0 3 0a1.5 2.6 0 1 0 -3 0M431.2 490.7a1.1 3.6 0 1 0 2.2 0a1.1 3.6 0 1 0 -2.2 0M145.7 505.4a1.9 3.7 0 1 0 3.8 0a1.9 3.7 0 1 0 -3.8 0M130.5 501.8a1.9 2.4 0 1 0 3.9 0a1.9 2.4 0 1 0 -3.9 0M353 487.5a1.9 3.7 0 1 0 3.8 0a1.9 3.7 0 1 0 -3.8 0M161.9 504.1a1.4 4 0 1 0 2.7 0a1.4 4 0 1 0 -2.7 0M331.9 485.3a1.2 2.1 0 1 0 2.3 0a1.2 2.1 0 1 0 -2.3 0M248.5 496.8a1.6 2.7 0 1 0 3.2 0a1.6 2.7 0 1 0 -3.2 0M297.5 486.5a1.7 2.7 0 1 0 3.4 0a1.7 2.7 0 1 0 -3.4 0M385.4 489.4a1 2.8 0 1 0 2.1 0a1 2.8 0 1 0 -2.1 0M439.6 463.9a1.5 3.9 0 1 0 3 0a1.5 3.9 0 1 0 -3 0M451.6 474.3a1.7 3 0 1 0 3.3 0a1.7 3 0 1 0 -3.3 0M200.7 486.5a1.8 3.6 0 1 0 3.7 0a1.8 3.6 0 1 0 -3.7 0M427.9 495.9a1.6 3.3 0 1 0 3.3 0a1.6 3.3 0 1 0 -3.3 0M491.9 477.3a1.6 4.5 0 1 0 3.2 0a1.6 4.5 0 1 0 -3.2 0M237.1 488.4a2 4.2 0 1 0 3.9 0a2 4.2 0 1 0 -3.9 0M503.6 483.9a1.2 3.4 0 1 0 2.4 0a1.2 3.4 0 1 0 -2.4 0M404.2 471.3a1.3 4.4 0 1 0 2.5 0a1.3 4.4 0 1 0 -2.5 0M288 496.1a1.7 2.1 0 1 0 3.4 0a1.7 2.1 0 1 0 -3.4 0M491.3 467.3a1.2 2.9 0 1 0 2.3 0a1.2 2.9 0 1 0 -2.3 0M193.1 493.6a1.7 2.1 0 1 0 3.3 0a1.7 2.1 0 1 0 -3.3 0M185.5 504.7a1.5 3.7 0 1 0 3.1 0a1.5 3.7 0 1 0 -3.1 0M501 464.3a1.4 2.9 0 1 0 2.9 0a1.4 2.9 0 1 0 -2.9 0M230.2 482.8a1.4 3.5 0 1 0 2.7 0a1.4 3.5 0 1 0 -2.7 0M294.4 487.6a1.6 3 0 1 0 3.2 0a1.6 3 0 1 0 -3.2 0M373.2 487.9a1.5 3.7 0 1 0 3.1 0a1.5 3.7 0 1 0 -3.1 0M225 495.2a1.9 3.9 0 1 0 3.9 0a1.9 3.9 0 1 0 -3.9 0M414.9 468.2a1.2 3.6 0 1 0 2.4 0a1.2 3.6 0 1 0 -2.4 0M479.7 475.9a1.9 4.2 0 1 0 3.8 0a1.9 4.2 0 1 0 -3.8 0M446.9 466.3a1.2 2.5 0 1 0 2.5 0a1.2 2.5 0 1 0 -2.5 0M376 477.2a1.8 2.4 0 1 0 3.6 0a1.8 2.4 0 1 0 -3.6 0M506.7 491.9a1.8 2.1 0 1 0 3.5 0a1.8 2.1 0 1 0 -3.5 0"/><path fill="#51badc" fill-opacity="0.8" d="M73.3 520.3a1 5.2 0 1 0 1.9 0a1 5.2 0 1 0 -1.9 0M53.3 525.9a1 5 0 1 0 1.9 0a1 5 0 1 0 -1.9 0M67.9 502.6a.9 3.4 0 1 0 1.7 0a.9 3.4 0 1 0 -1.7 0M76.6 519.1a.9 4.8 0 1 0 1.8 0a.9 4.8 0 1 0 -1.8 0M90.8 508a1.5 3.3 0 1 0 3 0a1.5 3.3 0 1 0 -3 0M65.3 512.8a1.2 4.6 0 1 0 2.5 0a1.2 4.6 0 1 0 -2.5 0M83.5 513.7a1.3 3.2 0 1 0 2.5 0a1.3 3.2 0 1 0 -2.5 0M55.5 501.8a.9 4.6 0 1 0 1.7 0a.9 4.6 0 1 0 -1.7 0M60.1 508a1.1 4.4 0 1 0 2.1 0a1.1 4.4 0 1 0 -2.1 0M85.8 517a1.5 3.8 0 1 0 3 0a1.5 3.8 0 1 0 -3 0M85.3 502.2a1.1 5.3 0 1 0 2.2 0a1.1 5.3 0 1 0 -2.2 0M69.8 508.5a1.1 5.9 0 1 0 2.2 0a1.1 5.9 0 1 0 -2.2 0M79.7 509.9a1.2 3 0 1 0 2.3 0a1.2 3 0 1 0 -2.3 0M86.2 508a1.4 3 0 1 0 2.8 0a1.4 3 0 1 0 -2.8 0"/><path fill="#56c2cc" fill-opacity="0.85" d="M404.5 475.7a1.8 3.1 0 1 0 3.7 0a1.8 3.1 0 1 0 -3.7 0M507.1 493.4a1.1 2.2 0 1 0 2.2 0a1.1 2.2 0 1 0 -2.2 0M178.4 497.6a1.5 2.6 0 1 0 2.9 0a1.5 2.6 0 1 0 -2.9 0M400.3 473.8a1.5 2.8 0 1 0 3 0a1.5 2.8 0 1 0 -3 0M324.6 477.9a1.6 3.2 0 1 0 3.2 0a1.6 3.2 0 1 0 -3.2 0M242.6 471.9a1.4 3.6 0 1 0 2.8 0a1.4 3.6 0 1 0 -2.8 0M463.4 487a1.9 3.4 0 1 0 3.9 0a1.9 3.4 0 1 0 -3.9 0M125.6 508.9a1.7 3.6 0 1 0 3.4 0a1.7 3.6 0 1 0 -3.4 0M277.6 494a1.4 2.2 0 1 0 2.8 0a1.4 2.2 0 1 0 -2.8 0M505.1 470.3a1.7 3.5 0 1 0 3.4 0a1.7 3.5 0 1 0 -3.4 0M95.9 505.7a1.7 3.8 0 1 0 3.3 0a1.7 3.8 0 1 0 -3.3 0M516.2 471.1a1.6 3.8 0 1 0 3.2 0a1.6 3.8 0 1 0 -3.2 0M327.8 470.9a1 2.4 0 1 0 2 0a1 2.4 0 1 0 -2 0M484.5 490.3a1.4 3.3 0 1 0 2.8 0a1.4 3.3 0 1 0 -2.8 0M410.8 471.1a1.4 3.1 0 1 0 2.8 0a1.4 3.1 0 1 0 -2.8 0M369.2 490.1a1.8 4.3 0 1 0 3.6 0a1.8 4.3 0 1 0 -3.6 0M426.8 471.7a1.9 4.4 0 1 0 3.7 0a1.9 4.4 0 1 0 -3.7 0M338.6 467.2a1.7 3.5 0 1 0 3.3 0a1.7 3.5 0 1 0 -3.3 0M314.1 483.9a1 2.7 0 1 0 2 0a1 2.7 0 1 0 -2 0M126.6 502.2a1 2.3 0 1 0 2.1 0a1 2.3 0 1 0 -2.1 0M181 490a1.5 4.5 0 1 0 2.9 0a1.5 4.5 0 1 0 -2.9 0M222.9 478.5a1.4 2.1 0 1 0 2.8 0a1.4 2.1 0 1 0 -2.8 0M306.6 468.4a1.6 4 0 1 0 3.2 0a1.6 4 0 1 0 -3.2 0M255.6 483.4a1.9 2.5 0 1 0 3.8 0a1.9 2.5 0 1 0 -3.8 0M153.8 509.9a1.9 2.4 0 1 0 3.8 0a1.9 2.4 0 1 0 -3.8 0M133.3 514.4a1.6 4.2 0 1 0 3.2 0a1.6 4.2 0 1 0 -3.2 0M239.4 477.9a1.3 4.3 0 1 0 2.6 0a1.3 4.3 0 1 0 -2.6 0M518.9 460.6a1.4 2.1 0 1 0 2.9 0a1.4 2.1 0 1 0 -2.9 0M295.2 488.9a1.5 4.4 0 1 0 3 0a1.5 4.4 0 1 0 -3 0M368.7 490.2a1.1 2.3 0 1 0 2.2 0a1.1 2.3 0 1 0 -2.2 0M202 495.4a1.2 3 0 1 0 2.3 0a1.2 3 0 1 0 -2.3 0M529 470.6a1.5 2.1 0 1 0 3 0a1.5 2.1 0 1 0 -3 0M420.2 483.7a1.8 4.5 0 1 0 3.5 0a1.8 4.5 0 1 0 -3.5 0M366.4 494.8a1.2 2.9 0 1 0 2.3 0a1.2 2.9 0 1 0 -2.3 0M424.3 486.1a2 2.7 0 1 0 3.9 0a2 2.7 0 1 0 -3.9 0M314.5 497.1a1.6 2.4 0 1 0 3.3 0a1.6 2.4 0 1 0 -3.3 0M137.8 505.5a1.6 4.3 0 1 0 3.1 0a1.6 4.3 0 1 0 -3.1 0M170.6 502.4a1.4 4 0 1 0 2.8 0a1.4 4 0 1 0 -2.8 0M219.9 493.8a1 3.6 0 1 0 2 0a1 3.6 0 1 0 -2 0M311.4 484.1a1.3 2.9 0 1 0 2.6 0a1.3 2.9 0 1 0 -2.6 0M121.9 499.6a1.3 2.6 0 1 0 2.7 0a1.3 2.6 0 1 0 -2.7 0M524.6 461.9a1.9 2 0 1 0 3.7 0a1.9 2 0 1 0 -3.7 0M170.1 505.4a1.5 3.6 0 1 0 3 0a1.5 3.6 0 1 0 -3 0M276.8 486.6a1.6 3.9 0 1 0 3.1 0a1.6 3.9 0 1 0 -3.1 0M434.3 468.1a1.4 2.5 0 1 0 2.7 0a1.4 2.5 0 1 0 -2.7 0M243.6 491.4a1.8 4.1 0 1 0 3.7 0a1.8 4.1 0 1 0 -3.7 0M108.1 503.1a1.7 3.7 0 1 0 3.4 0a1.7 3.7 0 1 0 -3.4 0M389.3 486.3a1.6 3.8 0 1 0 3.2 0a1.6 3.8 0 1 0 -3.2 0M199.8 481.1a1.6 3.1 0 1 0 3.2 0a1.6 3.1 0 1 0 -3.2 0M441.1 488.9a1.6 3.1 0 1 0 3.1 0a1.6 3.1 0 1 0 -3.1 0M462.8 491.6a1.7 3.2 0 1 0 3.5 0a1.7 3.2 0 1 0 -3.5 0M440.4 485.2a1.7 3.4 0 1 0 3.3 0a1.7 3.4 0 1 0 -3.3 0M279.8 478.2a1.9 3.6 0 1 0 3.8 0a1.9 3.6 0 1 0 -3.8 0M514.6 487.1a1.8 4 0 1 0 3.6 0a1.8 4 0 1 0 -3.6 0M147.2 492.4a1 3.1 0 1 0 2.1 0a1 3.1 0 1 0 -2.1 0M358 485.2a1.7 2.8 0 1 0 3.5 0a1.7 2.8 0 1 0 -3.5 0M339.2 474a1.4 3.7 0 1 0 2.8 0a1.4 3.7 0 1 0 -2.8 0M333.6 482.4a1.7 2.7 0 1 0 3.4 0a1.7 2.7 0 1 0 -3.4 0M166.9 499.1a1.2 3.1 0 1 0 2.4 0a1.2 3.1 0 1 0 -2.4 0M244.3 483.3a1.4 2.5 0 1 0 2.7 0a1.4 2.5 0 1 0 -2.7 0M380.9 483.6a1.9 4.1 0 1 0 3.7 0a1.9 4.1 0 1 0 -3.7 0M382.7 473.3a1.7 2.6 0 1 0 3.4 0a1.7 2.6 0 1 0 -3.4 0M117.2 502.5a1.2 2.6 0 1 0 2.4 0a1.2 2.6 0 1 0 -2.4 0M408.7 474.4a2 4 0 1 0 4 0a2 4 0 1 0 -4 0M487.2 472.9a1.4 4.2 0 1 0 2.7 0a1.4 4.2 0 1 0 -2.7 0M330.7 484.3a1.1 3.8 0 1 0 2.3 0a1.1 3.8 0 1 0 -2.3 0M202.1 498.2a1.5 3.1 0 1 0 3 0a1.5 3.1 0 1 0 -3 0M255.3 494.9a1.8 3.6 0 1 0 3.6 0a1.8 3.6 0 1 0 -3.6 0M335.2 478.3a1.3 3.2 0 1 0 2.6 0a1.3 3.2 0 1 0 -2.6 0M291.4 473.7a1.7 4.1 0 1 0 3.3 0a1.7 4.1 0 1 0 -3.3 0M430.4 464.8a1.5 4.2 0 1 0 3.1 0a1.5 4.2 0 1 0 -3.1 0M106 506.3a1.2 2.7 0 1 0 2.4 0a1.2 2.7 0 1 0 -2.4 0M435.5 467a1.9 3.5 0 1 0 3.9 0a1.9 3.5 0 1 0 -3.9 0M474.4 461.7a1.2 3.3 0 1 0 2.4 0a1.2 3.3 0 1 0 -2.4 0M514.5 475.3a1 3.6 0 1 0 2.1 0a1 3.6 0 1 0 -2.1 0M244.6 483.6a1.3 4.1 0 1 0 2.7 0a1.3 4.1 0 1 0 -2.7 0M379.6 496.2a1.4 2.5 0 1 0 2.8 0a1.4 2.5 0 1 0 -2.8 0M155.9 505.3a1.6 3.1 0 1 0 3.1 0a1.6 3.1 0 1 0 -3.1 0M267.1 492a1.2 2.8 0 1 0 2.3 0a1.2 2.8 0 1 0 -2.3 0"/><path fill="#5fcdb4" fill-opacity="0.85" d="M516.4 484.3a1.4 2.6 0 1 0 2.8 0a1.4 2.6 0 1 0 -2.8 0M485.4 483.2a1.3 3 0 1 0 2.5 0a1.3 3 0 1 0 -2.5 0M286.4 476.8a1 4.3 0 1 0 2 0a1 4.3 0 1 0 -2 0M496.1 461.5a1.7 2.4 0 1 0 3.3 0a1.7 2.4 0 1 0 -3.3 0M469.8 491.8a1.4 4.4 0 1 0 2.7 0a1.4 4.4 0 1 0 -2.7 0M353.6 491.3a1.1 3.7 0 1 0 2.1 0a1.1 3.7 0 1 0 -2.1 0M353.3 469.1a1.4 3 0 1 0 2.7 0a1.4 3 0 1 0 -2.7 0M506.9 478.4a1.9 4 0 1 0 3.8 0a1.9 4 0 1 0 -3.8 0M433.5 481.2a1.5 4.3 0 1 0 3.1 0a1.5 4.3 0 1 0 -3.1 0M154.9 491.6a1.3 2.6 0 1 0 2.6 0a1.3 2.6 0 1 0 -2.6 0M463.9 485.9a1.2 2.7 0 1 0 2.5 0a1.2 2.7 0 1 0 -2.5 0M283.5 482.3a1.4 4.2 0 1 0 2.8 0a1.4 4.2 0 1 0 -2.8 0M240.4 496.3a1 3.8 0 1 0 2 0a1 3.8 0 1 0 -2 0M317.7 491.5a1.7 3.7 0 1 0 3.3 0a1.7 3.7 0 1 0 -3.3 0M288.7 497.7a1.7 3 0 1 0 3.5 0a1.7 3 0 1 0 -3.5 0M407.4 472.7a1.1 3.5 0 1 0 2.2 0a1.1 3.5 0 1 0 -2.2 0M344.9 494.2a1.5 3.3 0 1 0 3 0a1.5 3.3 0 1 0 -3 0M372 466a1.2 2.4 0 1 0 2.4 0a1.2 2.4 0 1 0 -2.4 0M427.7 472.7a1.5 2.2 0 1 0 3 0a1.5 2.2 0 1 0 -3 0M111.1 506.6a1.8 3.7 0 1 0 3.6 0a1.8 3.7 0 1 0 -3.6 0M488.6 485.2a1.8 3 0 1 0 3.6 0a1.8 3 0 1 0 -3.6 0M383 480.6a1.7 3.6 0 1 0 3.3 0a1.7 3.6 0 1 0 -3.3 0M347 480.7a2 2.6 0 1 0 4 0a2 2.6 0 1 0 -4 0M270.5 477.5a1.9 2 0 1 0 3.8 0a1.9 2 0 1 0 -3.8 0M162.9 491.9a1.6 3.2 0 1 0 3.2 0a1.6 3.2 0 1 0 -3.2 0M115.7 508.2a1.7 2.8 0 1 0 3.5 0a1.7 2.8 0 1 0 -3.5 0M175.6 483.6a1.1 3.3 0 1 0 2.2 0a1.1 3.3 0 1 0 -2.2 0M295.6 487.4a1.1 3.4 0 1 0 2.3 0a1.1 3.4 0 1 0 -2.3 0M415.7 471.7a1.6 3.6 0 1 0 3.3 0a1.6 3.6 0 1 0 -3.3 0M327.7 477.5a1.7 4 0 1 0 3.4 0a1.7 4 0 1 0 -3.4 0M104.5 509.7a1.6 2.2 0 1 0 3.3 0a1.6 2.2 0 1 0 -3.3 0M333.9 491.3a1.1 3.3 0 1 0 2.2 0a1.1 3.3 0 1 0 -2.2 0M102.7 511.9a1.8 3.4 0 1 0 3.7 0a1.8 3.4 0 1 0 -3.7 0M451.7 487.6a1.4 3.2 0 1 0 2.8 0a1.4 3.2 0 1 0 -2.8 0M129.2 507a1.8 4.1 0 1 0 3.7 0a1.8 4.1 0 1 0 -3.7 0M299.4 468.6a1.7 4 0 1 0 3.5 0a1.7 4 0 1 0 -3.5 0M355.1 492.9a1.9 4.4 0 1 0 3.9 0a1.9 4.4 0 1 0 -3.9 0M485.3 491.8a1.4 3.6 0 1 0 2.7 0a1.4 3.6 0 1 0 -2.7 0M322.6 476.5a1.9 2.2 0 1 0 3.8 0a1.9 2.2 0 1 0 -3.8 0M345.5 468.3a1.4 4.1 0 1 0 2.8 0a1.4 4.1 0 1 0 -2.8 0M111.1 507.2a1.5 2.8 0 1 0 3 0a1.5 2.8 0 1 0 -3 0M152.2 497.6a1.9 4.3 0 1 0 3.7 0a1.9 4.3 0 1 0 -3.7 0M463.5 487.7a1.8 2.3 0 1 0 3.6 0a1.8 2.3 0 1 0 -3.6 0M474.1 491.1a1.1 2.9 0 1 0 2.3 0a1.1 2.9 0 1 0 -2.3 0M202 491.9a1.4 2.7 0 1 0 2.7 0a1.4 2.7 0 1 0 -2.7 0M420.1 493.9a1.7 3 0 1 0 3.4 0a1.7 3 0 1 0 -3.4 0M526.3 460.6a1.6 4.1 0 1 0 3.2 0a1.6 4.1 0 1 0 -3.2 0M479 463.3a1.5 4 0 1 0 3 0a1.5 4 0 1 0 -3 0M263.1 487.8a1.3 3.8 0 1 0 2.5 0a1.3 3.8 0 1 0 -2.5 0M179.5 503.5a1.2 4.1 0 1 0 2.4 0a1.2 4.1 0 1 0 -2.4 0M392.4 494.6a1.6 3.8 0 1 0 3.2 0a1.6 3.8 0 1 0 -3.2 0M470.8 483.4a1.1 4.3 0 1 0 2.1 0a1.1 4.3 0 1 0 -2.1 0M465.4 489.7a1.4 4 0 1 0 2.7 0a1.4 4 0 1 0 -2.7 0M93.5 512.3a1.5 3.5 0 1 0 3.1 0a1.5 3.5 0 1 0 -3.1 0M283.7 472.4a1.1 2.4 0 1 0 2.1 0a1.1 2.4 0 1 0 -2.1 0M405.1 493.9a1.1 4.2 0 1 0 2.2 0a1.1 4.2 0 1 0 -2.2 0M237.3 499.2a1.7 2.8 0 1 0 3.3 0a1.7 2.8 0 1 0 -3.3 0M383.7 485.9a2 2.9 0 1 0 4 0a2 2.9 0 1 0 -4 0M102.6 504.8a1.6 2.2 0 1 0 3.1 0a1.6 2.2 0 1 0 -3.1 0M398.4 490.8a1.2 4 0 1 0 2.4 0a1.2 4 0 1 0 -2.4 0M161.4 487a1.4 2.3 0 1 0 2.7 0a1.4 2.3 0 1 0 -2.7 0M238.1 500.3a1.4 3.9 0 1 0 2.7 0a1.4 3.9 0 1 0 -2.7 0M464.6 461.8a1.9 4.5 0 1 0 3.8 0a1.9 4.5 0 1 0 -3.8 0M485.7 466.7a1.3 2.3 0 1 0 2.5 0a1.3 2.3 0 1 0 -2.5 0M223.9 484.7a1.5 3.8 0 1 0 2.9 0a1.5 3.8 0 1 0 -2.9 0M198.9 487.1a1.7 4.5 0 1 0 3.4 0a1.7 4.5 0 1 0 -3.4 0M178.1 483.4a1.5 3.2 0 1 0 2.9 0a1.5 3.2 0 1 0 -2.9 0M455.6 489.3a1.7 4.1 0 1 0 3.5 0a1.7 4.1 0 1 0 -3.5 0M356.6 471.3a1.6 2.2 0 1 0 3.3 0a1.6 2.2 0 1 0 -3.3 0M163.5 505.7a1.8 3.3 0 1 0 3.6 0a1.8 3.3 0 1 0 -3.6 0M473.6 476a1.9 3.7 0 1 0 3.8 0a1.9 3.7 0 1 0 -3.8 0M127.7 510a1.4 4.2 0 1 0 2.9 0a1.4 4.2 0 1 0 -2.9 0M490.8 483.7a1.6 3.7 0 1 0 3.3 0a1.6 3.7 0 1 0 -3.3 0M508 469.5a1.7 2.2 0 1 0 3.3 0a1.7 2.2 0 1 0 -3.3 0M522.5 459a1.9 4.3 0 1 0 3.8 0a1.9 4.3 0 1 0 -3.8 0M459.2 477.8a1.7 4.1 0 1 0 3.4 0a1.7 4.1 0 1 0 -3.4 0M82.4 517.4a1.4 4.3 0 1 0 2.8 0a1.4 4.3 0 1 0 -2.8 0M268.8 480.6a2 3.8 0 1 0 4 0a2 3.8 0 1 0 -4 0M352.2 471.3a1.1 4.1 0 1 0 2.1 0a1.1 4.1 0 1 0 -2.1 0M243.8 491.7a1.6 4.4 0 1 0 3.2 0a1.6 4.4 0 1 0 -3.2 0M137.3 500.7a1.2 3.6 0 1 0 2.4 0a1.2 3.6 0 1 0 -2.4 0M104.3 512.4a1 2.7 0 1 0 2.1 0a1 2.7 0 1 0 -2.1 0"/><path fill="#66cb8c" fill-opacity="0.85" d="M220.1 490.1a1.4 2.9 0 1 0 2.8 0a1.4 2.9 0 1 0 -2.8 0M482.8 484.2a1.3 2 0 1 0 2.5 0a1.3 2 0 1 0 -2.5 0M316.9 491.7a1.7 2.2 0 1 0 3.3 0a1.7 2.2 0 1 0 -3.3 0M335.3 492a1.4 4.4 0 1 0 2.8 0a1.4 4.4 0 1 0 -2.8 0M455.4 468.3a1.9 2.3 0 1 0 3.7 0a1.9 2.3 0 1 0 -3.7 0M507.6 477.2a1.4 3.7 0 1 0 2.9 0a1.4 3.7 0 1 0 -2.9 0M497.1 487.4a1.7 3 0 1 0 3.3 0a1.7 3 0 1 0 -3.3 0M308.9 485.1a1.1 3 0 1 0 2.2 0a1.1 3 0 1 0 -2.2 0M421 489.4a1.5 2.2 0 1 0 3 0a1.5 2.2 0 1 0 -3 0M501.2 482.4a1.5 2.4 0 1 0 3 0a1.5 2.4 0 1 0 -3 0M445.4 482.9a1.2 3.8 0 1 0 2.4 0a1.2 3.8 0 1 0 -2.4 0M227.7 501.5a1.4 4 0 1 0 2.7 0a1.4 4 0 1 0 -2.7 0M255.5 492.6a1.6 3.2 0 1 0 3.1 0a1.6 3.2 0 1 0 -3.1 0M382.3 496.2a1 3.3 0 1 0 2 0a1 3.3 0 1 0 -2 0M97 516.7a1.5 2.5 0 1 0 2.9 0a1.5 2.5 0 1 0 -2.9 0M324.6 468.1a1.8 3 0 1 0 3.7 0a1.8 3 0 1 0 -3.7 0M215.1 491.8a1.3 3.2 0 1 0 2.5 0a1.3 3.2 0 1 0 -2.5 0M166.4 508.1a1.4 2.4 0 1 0 2.9 0a1.4 2.4 0 1 0 -2.9 0M402.2 478.4a1.6 4.1 0 1 0 3.3 0a1.6 4.1 0 1 0 -3.3 0M244 491.7a1.2 2.3 0 1 0 2.3 0a1.2 2.3 0 1 0 -2.3 0M266 499a1.6 4.4 0 1 0 3.2 0a1.6 4.4 0 1 0 -3.2 0M114 498.3a1.3 4.1 0 1 0 2.6 0a1.3 4.1 0 1 0 -2.6 0M104.9 503.7a1.6 4 0 1 0 3.2 0a1.6 4 0 1 0 -3.2 0M264.5 479.5a1.7 4.2 0 1 0 3.4 0a1.7 4.2 0 1 0 -3.4 0M496.5 489.6a1.8 2 0 1 0 3.6 0a1.8 2 0 1 0 -3.6 0M520.9 469a1.6 2.2 0 1 0 3.3 0a1.6 2.2 0 1 0 -3.3 0M360.4 478.9a1.7 3.2 0 1 0 3.4 0a1.7 3.2 0 1 0 -3.4 0M96.6 515.9a1.8 4.4 0 1 0 3.7 0a1.8 4.4 0 1 0 -3.7 0M274.8 491.8a1.6 2.8 0 1 0 3.1 0a1.6 2.8 0 1 0 -3.1 0M166.7 496a1.3 2.9 0 1 0 2.7 0a1.3 2.9 0 1 0 -2.7 0M91.9 511.5a1.1 2.4 0 1 0 2.2 0a1.1 2.4 0 1 0 -2.2 0M384.3 490.2a1.9 3 0 1 0 3.7 0a1.9 3 0 1 0 -3.7 0M388.2 483.2a1.8 2.3 0 1 0 3.7 0a1.8 2.3 0 1 0 -3.7 0M119.4 498.4a1.7 4.5 0 1 0 3.5 0a1.7 4.5 0 1 0 -3.5 0M88.1 516.7a1.1 2.9 0 1 0 2.2 0a1.1 2.9 0 1 0 -2.2 0M104.3 501.9a1.2 3 0 1 0 2.4 0a1.2 3 0 1 0 -2.4 0M191.9 490.6a1.7 2.8 0 1 0 3.5 0a1.7 2.8 0 1 0 -3.5 0M146.4 493.1a1.2 2.2 0 1 0 2.5 0a1.2 2.2 0 1 0 -2.5 0M490.8 483.4a1.3 4.2 0 1 0 2.6 0a1.3 4.2 0 1 0 -2.6 0M160.5 495.5a1.6 3.8 0 1 0 3.2 0a1.6 3.8 0 1 0 -3.2 0M292.5 490a1.6 4.4 0 1 0 3.2 0a1.6 4.4 0 1 0 -3.2 0M185 503.7a1.8 3.1 0 1 0 3.5 0a1.8 3.1 0 1 0 -3.5 0M237.6 476.5a1.1 2.1 0 1 0 2.1 0a1.1 2.1 0 1 0 -2.1 0M233.6 482.5a1.7 3.1 0 1 0 3.5 0a1.7 3.1 0 1 0 -3.5 0M452 466.2a1.2 3.6 0 1 0 2.4 0a1.2 3.6 0 1 0 -2.4 0M387.2 492.5a1.6 2.6 0 1 0 3.2 0a1.6 2.6 0 1 0 -3.2 0M364.8 487.2a1.8 3.1 0 1 0 3.7 0a1.8 3.1 0 1 0 -3.7 0M238 497.1a1.1 3.3 0 1 0 2.2 0a1.1 3.3 0 1 0 -2.2 0M212.3 480.1a1 2.2 0 1 0 2 0a1 2.2 0 1 0 -2 0M401.5 480.1a1.7 4.1 0 1 0 3.4 0a1.7 4.1 0 1 0 -3.4 0M284.5 494.4a1.6 2.6 0 1 0 3.3 0a1.6 2.6 0 1 0 -3.3 0M460 463.3a1.1 3.7 0 1 0 2.2 0a1.1 3.7 0 1 0 -2.2 0M159.3 510.6a1.5 2.4 0 1 0 3 0a1.5 2.4 0 1 0 -3 0M333.4 479.5a2 2.2 0 1 0 3.9 0a2 2.2 0 1 0 -3.9 0M194.6 481.8a1.8 3.7 0 1 0 3.6 0a1.8 3.7 0 1 0 -3.6 0M197.8 486.9a1.6 2.2 0 1 0 3.2 0a1.6 2.2 0 1 0 -3.2 0M78.7 521a1.4 3.3 0 1 0 2.9 0a1.4 3.3 0 1 0 -2.9 0M162.9 509.8a1.3 2.6 0 1 0 2.6 0a1.3 2.6 0 1 0 -2.6 0M231.4 501.7a2 2.2 0 1 0 3.9 0a2 2.2 0 1 0 -3.9 0M492.6 495.5a1.8 4.3 0 1 0 3.6 0a1.8 4.3 0 1 0 -3.6 0M266.2 470.8a1.6 2.2 0 1 0 3.2 0a1.6 2.2 0 1 0 -3.2 0M270.2 474.3a1.2 4.1 0 1 0 2.4 0a1.2 4.1 0 1 0 -2.4 0"/><path fill="#74c955" fill-opacity="0.85" d="M445.4 464.2a2 3.6 0 1 0 4 0a2 3.6 0 1 0 -4 0M389 496.6a1.1 3.8 0 1 0 2.1 0a1.1 3.8 0 1 0 -2.1 0M88.2 516.6a1.1 4.1 0 1 0 2.3 0a1.1 4.1 0 1 0 -2.3 0M175.3 483.4a1.5 2.3 0 1 0 3 0a1.5 2.3 0 1 0 -3 0M265.5 472.7a1.6 2.8 0 1 0 3.3 0a1.6 2.8 0 1 0 -3.3 0M219.3 483.1a1.7 2.9 0 1 0 3.3 0a1.7 2.9 0 1 0 -3.3 0M435.2 464.6a1.8 3.8 0 1 0 3.6 0a1.8 3.8 0 1 0 -3.6 0M198.9 481.8a1.6 2.1 0 1 0 3.2 0a1.6 2.1 0 1 0 -3.2 0M96.6 513.7a1.2 2.2 0 1 0 2.5 0a1.2 2.2 0 1 0 -2.5 0M345.6 482a1.7 4 0 1 0 3.3 0a1.7 4 0 1 0 -3.3 0M374.3 494.8a1.4 2.1 0 1 0 2.8 0a1.4 2.1 0 1 0 -2.8 0M399.4 473.2a1.1 2 0 1 0 2.3 0a1.1 2 0 1 0 -2.3 0M293.5 497a1.9 3.6 0 1 0 3.8 0a1.9 3.6 0 1 0 -3.8 0M270.8 499a1.8 4.3 0 1 0 3.6 0a1.8 4.3 0 1 0 -3.6 0M352 487.9a1.2 2.1 0 1 0 2.4 0a1.2 2.1 0 1 0 -2.4 0M363.4 470a1.4 3.4 0 1 0 2.9 0a1.4 3.4 0 1 0 -2.9 0M447.9 486.7a1.2 2 0 1 0 2.4 0a1.2 2 0 1 0 -2.4 0M450.3 467.7a1.5 2.9 0 1 0 2.9 0a1.5 2.9 0 1 0 -2.9 0M349.9 469a1.4 4 0 1 0 2.9 0a1.4 4 0 1 0 -2.9 0M101.9 510.4a1.2 2 0 1 0 2.5 0a1.2 2 0 1 0 -2.5 0M529.7 486.1a1.1 3.7 0 1 0 2.2 0a1.1 3.7 0 1 0 -2.2 0M90 510.5a1.5 3.2 0 1 0 3 0a1.5 3.2 0 1 0 -3 0M512.7 465a1.8 3.8 0 1 0 3.6 0a1.8 3.8 0 1 0 -3.6 0M424.9 491.8a2 3.2 0 1 0 3.9 0a2 3.2 0 1 0 -3.9 0M317.6 480.3a1.4 2.8 0 1 0 2.9 0a1.4 2.8 0 1 0 -2.9 0M223 476.4a1.2 2.6 0 1 0 2.3 0a1.2 2.6 0 1 0 -2.3 0M380.2 475.3a1.6 2.5 0 1 0 3.1 0a1.6 2.5 0 1 0 -3.1 0M348.7 474.9a1.5 2.7 0 1 0 3.1 0a1.5 2.7 0 1 0 -3.1 0M116.7 514.7a1.3 2.2 0 1 0 2.6 0a1.3 2.2 0 1 0 -2.6 0M465 485.4a1.5 4.3 0 1 0 3.1 0a1.5 4.3 0 1 0 -3.1 0M518.4 459.4a1.9 4 0 1 0 3.7 0a1.9 4 0 1 0 -3.7 0M231.8 492.3a1.6 4.3 0 1 0 3.3 0a1.6 4.3 0 1 0 -3.3 0M462.2 484a1.6 4.1 0 1 0 3.2 0a1.6 4.1 0 1 0 -3.2 0M120.8 500.9a1.7 3.1 0 1 0 3.3 0a1.7 3.1 0 1 0 -3.3 0M92.7 511.5a2 3.7 0 1 0 3.9 0a2 3.7 0 1 0 -3.9 0M228.2 491.3a1.7 4 0 1 0 3.5 0a1.7 4 0 1 0 -3.5 0M302.6 471.2a1.1 3.1 0 1 0 2.2 0a1.1 3.1 0 1 0 -2.2 0M468.8 472.4a1.8 2.3 0 1 0 3.5 0a1.8 2.3 0 1 0 -3.5 0M158.8 500.5a1.2 2.5 0 1 0 2.5 0a1.2 2.5 0 1 0 -2.5 0M306.8 468.5a1 4.3 0 1 0 2.1 0a1 4.3 0 1 0 -2.1 0M375.6 495.7a1.1 2.6 0 1 0 2.2 0a1.1 2.6 0 1 0 -2.2 0M496.4 485.6a1.4 4 0 1 0 2.9 0a1.4 4 0 1 0 -2.9 0M146.3 496.3a1.9 4.2 0 1 0 3.7 0a1.9 4.2 0 1 0 -3.7 0M406.1 469.5a1.6 4.4 0 1 0 3.2 0a1.6 4.4 0 1 0 -3.2 0M344.2 467.9a1.9 2.1 0 1 0 3.8 0a1.9 2.1 0 1 0 -3.8 0M233.1 496.6a1.6 4 0 1 0 3.2 0a1.6 4 0 1 0 -3.2 0M85.6 519.6a1.8 2.8 0 1 0 3.7 0a1.8 2.8 0 1 0 -3.7 0M485.2 477a1.3 2 0 1 0 2.6 0a1.3 2 0 1 0 -2.6 0M187.6 480.6a1.1 4.1 0 1 0 2.1 0a1.1 4.1 0 1 0 -2.1 0M100.9 515.6a1.6 2.9 0 1 0 3.1 0a1.6 2.9 0 1 0 -3.1 0M112.8 498.9a1.4 3.8 0 1 0 2.7 0a1.4 3.8 0 1 0 -2.7 0M332.6 470.1a1.9 2.7 0 1 0 3.7 0a1.9 2.7 0 1 0 -3.7 0M157.9 493.9a1.8 3.5 0 1 0 3.6 0a1.8 3.5 0 1 0 -3.6 0M277.6 479.5a1.1 2.3 0 1 0 2.2 0a1.1 2.3 0 1 0 -2.2 0M280.7 489.5a1.1 4.2 0 1 0 2.3 0a1.1 4.2 0 1 0 -2.3 0M174.5 499.5a1.9 3.8 0 1 0 3.9 0a1.9 3.8 0 1 0 -3.9 0M103.4 501.1a1.8 3.6 0 1 0 3.7 0a1.8 3.6 0 1 0 -3.7 0M277.1 494.5a1.7 2 0 1 0 3.3 0a1.7 2 0 1 0 -3.3 0M314.2 475.8a1.4 4.1 0 1 0 2.8 0a1.4 4.1 0 1 0 -2.8 0M457.7 467.2a1.9 3.2 0 1 0 3.9 0a1.9 3.2 0 1 0 -3.9 0M305.9 480a1.4 2.6 0 1 0 2.8 0a1.4 2.6 0 1 0 -2.8 0M284.7 470.8a1.5 2.1 0 1 0 2.9 0a1.5 2.1 0 1 0 -2.9 0M354.5 469.2a1.2 2.4 0 1 0 2.3 0a1.2 2.4 0 1 0 -2.3 0M454.9 482.5a1.4 2.8 0 1 0 2.8 0a1.4 2.8 0 1 0 -2.8 0M200.9 497.2a1.9 2.4 0 1 0 3.9 0a1.9 2.4 0 1 0 -3.9 0M231.6 477.8a1.8 2.5 0 1 0 3.5 0a1.8 2.5 0 1 0 -3.5 0M178.7 484.6a1.8 2.3 0 1 0 3.5 0a1.8 2.3 0 1 0 -3.5 0M309.8 481.3a1.8 4.4 0 1 0 3.7 0a1.8 4.4 0 1 0 -3.7 0M511.1 474.5a1.6 3.4 0 1 0 3.2 0a1.6 3.4 0 1 0 -3.2 0M482.2 478.1a1.6 2.7 0 1 0 3.2 0a1.6 2.7 0 1 0 -3.2 0M274 493.5a2 3.4 0 1 0 3.9 0a2 3.4 0 1 0 -3.9 0M224.9 480.1a1.5 2.4 0 1 0 3.1 0a1.5 2.4 0 1 0 -3.1 0M218.3 486.1a1.5 4.2 0 1 0 3.1 0a1.5 4.2 0 1 0 -3.1 0M95.2 516.6a1.3 2.9 0 1 0 2.5 0a1.3 2.9 0 1 0 -2.5 0M290.7 471.9a1.8 2.8 0 1 0 3.6 0a1.8 2.8 0 1 0 -3.6 0M353.6 471.9a1.7 4.1 0 1 0 3.3 0a1.7 4.1 0 1 0 -3.3 0M474.3 495.3a1 3.4 0 1 0 2.1 0a1 3.4 0 1 0 -2.1 0M313.9 492.4a1.1 3.4 0 1 0 2.1 0a1.1 3.4 0 1 0 -2.1 0M122.5 508.2a2 4.3 0 1 0 4 0a2 4.3 0 1 0 -4 0M295.6 491.4a1.6 4 0 1 0 3.1 0a1.6 4 0 1 0 -3.1 0M291 498.8a1 3.2 0 1 0 2.1 0a1 3.2 0 1 0 -2.1 0M179.8 494.5a1.8 4.5 0 1 0 3.6 0a1.8 4.5 0 1 0 -3.6 0M160.3 510.8a1.9 4.5 0 1 0 3.8 0a1.9 4.5 0 1 0 -3.8 0M513.2 481.4a1.6 2.5 0 1 0 3.2 0a1.6 2.5 0 1 0 -3.2 0M107.9 513.3a1.7 3 0 1 0 3.3 0a1.7 3 0 1 0 -3.3 0M348 481.7a1.5 2.1 0 1 0 3.1 0a1.5 2.1 0 1 0 -3.1 0M518.3 474.4a1.9 2.2 0 1 0 3.8 0a1.9 2.2 0 1 0 -3.8 0M303.8 490.4a1.3 3.1 0 1 0 2.6 0a1.3 3.1 0 1 0 -2.6 0M117.1 514.7a1.5 2.2 0 1 0 3 0a1.5 2.2 0 1 0 -3 0M166.3 496.6a1.8 4.1 0 1 0 3.6 0a1.8 4.1 0 1 0 -3.6 0M396.8 483.2a1 2.2 0 1 0 2.1 0a1 2.2 0 1 0 -2.1 0M216.6 483a1.4 3.9 0 1 0 2.9 0a1.4 3.9 0 1 0 -2.9 0M434.5 486.5a1 2.7 0 1 0 2 0a1 2.7 0 1 0 -2 0M252.1 477.6a2 3.8 0 1 0 3.9 0a2 3.8 0 1 0 -3.9 0M89.9 513.1a1.6 2.5 0 1 0 3.3 0a1.6 2.5 0 1 0 -3.3 0M144.2 503a1.8 4.3 0 1 0 3.7 0a1.8 4.3 0 1 0 -3.7 0M184.4 498.1a1.1 4.2 0 1 0 2.2 0a1.1 4.2 0 1 0 -2.2 0M524.6 485.1a1.7 4.2 0 1 0 3.5 0a1.7 4.2 0 1 0 -3.5 0M507.7 481.7a1.5 3.2 0 1 0 3.1 0a1.5 3.2 0 1 0 -3.1 0M435.1 474.9a1.9 2.3 0 1 0 3.8 0a1.9 2.3 0 1 0 -3.8 0M150 506.4a1.9 2.6 0 1 0 3.8 0a1.9 2.6 0 1 0 -3.8 0M527.2 466.5a1.2 2.8 0 1 0 2.3 0a1.2 2.8 0 1 0 -2.3 0M469.1 490.6a1.4 3.8 0 1 0 2.8 0a1.4 3.8 0 1 0 -2.8 0M150.4 489.4a1.1 2.7 0 1 0 2.1 0a1.1 2.7 0 1 0 -2.1 0M132.3 512.6a1.9 2.5 0 1 0 3.7 0a1.9 2.5 0 1 0 -3.7 0M268.4 475.7a1.6 3.3 0 1 0 3.2 0a1.6 3.3 0 1 0 -3.2 0M92.4 512.5a1.3 4.4 0 1 0 2.5 0a1.3 4.4 0 1 0 -2.5 0M432.4 493.5a1.8 3.2 0 1 0 3.7 0a1.8 3.2 0 1 0 -3.7 0M449.6 475.2a1.6 4.4 0 1 0 3.1 0a1.6 4.4 0 1 0 -3.1 0M271.1 497.1a1.5 2.4 0 1 0 3 0a1.5 2.4 0 1 0 -3 0M372.7 493.4a1.8 4.3 0 1 0 3.7 0a1.8 4.3 0 1 0 -3.7 0M92.5 516.7a1.6 2.2 0 1 0 3.1 0a1.6 2.2 0 1 0 -3.1 0M473.2 466.3a1.6 2.1 0 1 0 3.3 0a1.6 2.1 0 1 0 -3.3 0M110.2 504.4a1.4 2 0 1 0 2.7 0a1.4 2 0 1 0 -2.7 0M466.9 485.3a1.3 3.4 0 1 0 2.7 0a1.3 3.4 0 1 0 -2.7 0M370 488.3a1 2.2 0 1 0 2 0a1 2.2 0 1 0 -2 0M207.8 499.1a1.3 3.9 0 1 0 2.7 0a1.3 3.9 0 1 0 -2.7 0M407.7 473.5a1.7 3.7 0 1 0 3.4 0a1.7 3.7 0 1 0 -3.4 0M347.8 482.4a1.7 2.4 0 1 0 3.4 0a1.7 2.4 0 1 0 -3.4 0M299.9 468.9a1.8 3.5 0 1 0 3.6 0a1.8 3.5 0 1 0 -3.6 0M330.4 483.2a1.6 3.8 0 1 0 3.3 0a1.6 3.8 0 1 0 -3.3 0M425.8 479.5a1.9 3.3 0 1 0 3.9 0a1.9 3.3 0 1 0 -3.9 0M295.3 480.5a1.6 3.1 0 1 0 3.3 0a1.6 3.1 0 1 0 -3.3 0M221.2 477.8a1 3.5 0 1 0 2.1 0a1 3.5 0 1 0 -2.1 0M396.3 471.9a1.1 2.3 0 1 0 2.1 0a1.1 2.3 0 1 0 -2.1 0M170.4 497.8a1.4 2.5 0 1 0 2.7 0a1.4 2.5 0 1 0 -2.7 0M189.4 482.3a1.8 4.3 0 1 0 3.7 0a1.8 4.3 0 1 0 -3.7 0M198.7 494.3a1.8 2.6 0 1 0 3.6 0a1.8 2.6 0 1 0 -3.6 0M103.8 517.8a1.9 3.9 0 1 0 3.8 0a1.9 3.9 0 1 0 -3.8 0M461.1 471.5a1.8 3.2 0 1 0 3.7 0a1.8 3.2 0 1 0 -3.7 0M515.3 461.8a1.8 2.2 0 1 0 3.5 0a1.8 2.2 0 1 0 -3.5 0M503.3 459.4a1.1 2.9 0 1 0 2.3 0a1.1 2.9 0 1 0 -2.3 0M498 483.2a1.3 3.4 0 1 0 2.5 0a1.3 3.4 0 1 0 -2.5 0M219.2 485a1 3.3 0 1 0 2 0a1 3.3 0 1 0 -2 0M369.9 479.6a1.4 3.6 0 1 0 2.7 0a1.4 3.6 0 1 0 -2.7 0M499.9 479.5a1.1 2.8 0 1 0 2.2 0a1.1 2.8 0 1 0 -2.2 0M162 493.7a1.5 4 0 1 0 3 0a1.5 4 0 1 0 -3 0M496.9 470.4a1.1 2.7 0 1 0 2.2 0a1.1 2.7 0 1 0 -2.2 0"/><path fill="#8ace56" fill-opacity="0.85" d="M466.9 476a1.3 2.8 0 1 0 2.6 0a1.3 2.8 0 1 0 -2.6 0M223.7 483.6a1.8 3.4 0 1 0 3.6 0a1.8 3.4 0 1 0 -3.6 0M420.4 484.7a2 2.9 0 1 0 4 0a2 2.9 0 1 0 -4 0M201.7 478.8a1.3 3.8 0 1 0 2.6 0a1.3 3.8 0 1 0 -2.6 0M326.6 479.7a1.5 3.4 0 1 0 3 0a1.5 3.4 0 1 0 -3 0M519.8 463.4a1.4 2.4 0 1 0 2.7 0a1.4 2.4 0 1 0 -2.7 0M137.9 510.4a1.4 3.7 0 1 0 2.7 0a1.4 3.7 0 1 0 -2.7 0M86.9 516.7a1.9 2.6 0 1 0 3.8 0a1.9 2.6 0 1 0 -3.8 0M390.1 468.1a2 3.5 0 1 0 3.9 0a2 3.5 0 1 0 -3.9 0M159.6 505.9a1.3 4.2 0 1 0 2.7 0a1.3 4.2 0 1 0 -2.7 0M528.1 465.6a1.4 3.2 0 1 0 2.8 0a1.4 3.2 0 1 0 -2.8 0M97.3 516a1.1 3.1 0 1 0 2.2 0a1.1 3.1 0 1 0 -2.2 0M99.8 510.7a1.5 4.4 0 1 0 3 0a1.5 4.4 0 1 0 -3 0M296 473.4a2 2 0 1 0 3.9 0a2 2 0 1 0 -3.9 0M79.2 518.8a1.8 4.3 0 1 0 3.5 0a1.8 4.3 0 1 0 -3.5 0M106.1 508.6a1.2 3.2 0 1 0 2.3 0a1.2 3.2 0 1 0 -2.3 0M309 494.7a1.6 3 0 1 0 3.2 0a1.6 3 0 1 0 -3.2 0M417.3 488.5a1.2 3.8 0 1 0 2.4 0a1.2 3.8 0 1 0 -2.4 0M503.4 491.2a1.4 3.6 0 1 0 2.9 0a1.4 3.6 0 1 0 -2.9 0M410.2 477.7a1.3 2.8 0 1 0 2.7 0a1.3 2.8 0 1 0 -2.7 0M106.6 504.5a1.7 3.3 0 1 0 3.4 0a1.7 3.3 0 1 0 -3.4 0M251.7 495a1.1 3.9 0 1 0 2.3 0a1.1 3.9 0 1 0 -2.3 0M520.9 485.6a1.2 3 0 1 0 2.3 0a1.2 3 0 1 0 -2.3 0M317.2 475.2a1.3 2 0 1 0 2.7 0a1.3 2 0 1 0 -2.7 0M375.8 477.4a1.8 3 0 1 0 3.5 0a1.8 3 0 1 0 -3.5 0M301.3 471.9a1.8 2.6 0 1 0 3.6 0a1.8 2.6 0 1 0 -3.6 0M436.8 485.3a1.9 3.8 0 1 0 3.8 0a1.9 3.8 0 1 0 -3.8 0M359.3 474a1.6 4.3 0 1 0 3.3 0a1.6 4.3 0 1 0 -3.3 0M453.5 476.5a1.4 2.9 0 1 0 2.9 0a1.4 2.9 0 1 0 -2.9 0M141.8 512.2a1.7 2.1 0 1 0 3.5 0a1.7 2.1 0 1 0 -3.5 0M476.9 464.5a1.5 3.2 0 1 0 3 0a1.5 3.2 0 1 0 -3 0M275 469.5a1.7 3.7 0 1 0 3.3 0a1.7 3.7 0 1 0 -3.3 0M445.9 485.8a1.3 2.1 0 1 0 2.7 0a1.3 2.1 0 1 0 -2.7 0M129.7 509.7a1.4 4 0 1 0 2.8 0a1.4 4 0 1 0 -2.8 0M267.7 478.6a1.6 4.5 0 1 0 3.2 0a1.6 4.5 0 1 0 -3.2 0M515.8 478.1a1.1 2.1 0 1 0 2.1 0a1.1 2.1 0 1 0 -2.1 0M314.4 493.1a1.8 4.2 0 1 0 3.7 0a1.8 4.2 0 1 0 -3.7 0M343.9 492.1a1.2 3.9 0 1 0 2.5 0a1.2 3.9 0 1 0 -2.5 0M485.3 480.5a1 4.2 0 1 0 2 0a1 4.2 0 1 0 -2 0M461.2 468.3a1.9 2.5 0 1 0 3.9 0a1.9 2.5 0 1 0 -3.9 0M474.5 463a1.6 2.5 0 1 0 3.3 0a1.6 2.5 0 1 0 -3.3 0M236.6 498.6a1.3 2.6 0 1 0 2.6 0a1.3 2.6 0 1 0 -2.6 0M477.2 470.7a1.4 3.3 0 1 0 2.8 0a1.4 3.3 0 1 0 -2.8 0M260.5 471.3a1.9 4.2 0 1 0 3.8 0a1.9 4.2 0 1 0 -3.8 0M141 499.4a1.4 3.6 0 1 0 2.9 0a1.4 3.6 0 1 0 -2.9 0M353.8 473.3a1.7 2.2 0 1 0 3.4 0a1.7 2.2 0 1 0 -3.4 0M192.5 495.7a1 3.1 0 1 0 2 0a1 3.1 0 1 0 -2 0M389.2 467.7a1.8 4.1 0 1 0 3.6 0a1.8 4.1 0 1 0 -3.6 0M417.1 478.3a1.5 2.5 0 1 0 2.9 0a1.5 2.5 0 1 0 -2.9 0M481.2 474.7a1.5 4.4 0 1 0 3 0a1.5 4.4 0 1 0 -3 0M190.3 502.4a1.6 2.1 0 1 0 3.2 0a1.6 2.1 0 1 0 -3.2 0M445.2 495.8a1 3.6 0 1 0 2.1 0a1 3.6 0 1 0 -2.1 0M518.7 469.1a1.6 2 0 1 0 3.2 0a1.6 2 0 1 0 -3.2 0M528.2 480a2 2.3 0 1 0 4 0a2 2.3 0 1 0 -4 0M316.5 466.8a1.8 3.3 0 1 0 3.7 0a1.8 3.3 0 1 0 -3.7 0M114.1 506.4a1.9 3.1 0 1 0 3.9 0a1.9 3.1 0 1 0 -3.9 0M198.5 498a2 4.4 0 1 0 4 0a2 4.4 0 1 0 -4 0M274.7 493.4a1.8 3.9 0 1 0 3.5 0a1.8 3.9 0 1 0 -3.5 0M386.9 495.7a1.5 2.4 0 1 0 2.9 0a1.5 2.4 0 1 0 -2.9 0M157.7 491.1a1.2 3.1 0 1 0 2.4 0a1.2 3.1 0 1 0 -2.4 0M110.4 517.5a1.7 3.8 0 1 0 3.4 0a1.7 3.8 0 1 0 -3.4 0M478 486.6a2 2.5 0 1 0 4 0a2 2.5 0 1 0 -4 0M247.9 473.5a1.1 3.9 0 1 0 2.2 0a1.1 3.9 0 1 0 -2.2 0M402.6 484.7a1.7 4.5 0 1 0 3.5 0a1.7 4.5 0 1 0 -3.5 0M100.9 513.6a1.3 2.5 0 1 0 2.5 0a1.3 2.5 0 1 0 -2.5 0"/></g>
<polygon points="46,525 80,523 100,521 160,514 206,506 260,502 300,501 366,499.5 450,498 531,497.5 531,528 46,528" fill="#2a3c9e"/>
<g filter="url(#b1)"><path fill="#56c2cc" fill-opacity="0.8" d="M91.2 472.8a2.4 4.8 0 1 0 4.7 0a2.4 4.8 0 1 0 -4.7 0M60.2 457.1a2.5 4.9 0 1 0 5.1 0a2.5 4.9 0 1 0 -5.1 0M66.9 498.5a2.9 5.5 0 1 0 5.7 0a2.9 5.5 0 1 0 -5.7 0M172.8 434.9a2.7 6.4 0 1 0 5.3 0a2.7 6.4 0 1 0 -5.3 0M87.1 419.3a3.3 5.7 0 1 0 6.5 0a3.3 5.7 0 1 0 -6.5 0M107.8 405.3a2.6 6.6 0 1 0 5.3 0a2.6 6.6 0 1 0 -5.3 0M119.4 414.1a3.3 5.4 0 1 0 6.6 0a3.3 5.4 0 1 0 -6.6 0M139.8 402.6a3.1 4.9 0 1 0 6.2 0a3.1 4.9 0 1 0 -6.2 0M180.6 391.2a2.4 5.5 0 1 0 4.8 0a2.4 5.5 0 1 0 -4.8 0M187.5 398.6a3.2 6 0 1 0 6.3 0a3.2 6 0 1 0 -6.3 0M194.8 410.1a3.3 6.3 0 1 0 6.6 0a3.3 6.3 0 1 0 -6.6 0M294.9 370a3.1 5.4 0 1 0 6.3 0a3.1 5.4 0 1 0 -6.3 0M323.8 373.4a3.1 5.2 0 1 0 6.2 0a3.1 5.2 0 1 0 -6.2 0M241.6 354.1a3 5.4 0 1 0 6 0a3 5.4 0 1 0 -6 0M330.8 343.5a3.1 5.3 0 1 0 6.1 0a3.1 5.3 0 1 0 -6.1 0M349.1 367a2.8 5.2 0 1 0 5.6 0a2.8 5.2 0 1 0 -5.6 0M361.8 357.5a2.5 5.6 0 1 0 5 0a2.5 5.6 0 1 0 -5 0M127.9 507.9a2.8 7.1 0 1 0 5.5 0a2.8 7.1 0 1 0 -5.5 0M80 476.9a3.1 5.7 0 1 0 6.2 0a3.1 5.7 0 1 0 -6.2 0M132.9 449.6a2.7 6.8 0 1 0 5.5 0a2.7 6.8 0 1 0 -5.5 0M154.2 458.1a3.3 7.1 0 1 0 6.5 0a3.3 7.1 0 1 0 -6.5 0M209.5 405.2a3.6 6.4 0 1 0 7.3 0a3.6 6.4 0 1 0 -7.3 0M288.9 416.7a3.1 6.7 0 1 0 6.3 0a3.1 6.7 0 1 0 -6.3 0M197.6 387.8a3 7.1 0 1 0 6 0a3 7.1 0 1 0 -6 0M130.7 405.1a2.8 6.5 0 1 0 5.6 0a2.8 6.5 0 1 0 -5.6 0M171.6 412.3a3.7 6.8 0 1 0 7.3 0a3.7 6.8 0 1 0 -7.3 0M295.3 424.1a3.6 7.2 0 1 0 7.3 0a3.6 7.2 0 1 0 -7.3 0M328.3 447.9a3.6 7 0 1 0 7.2 0a3.6 7 0 1 0 -7.2 0M213.8 459.4a3.4 6.4 0 1 0 6.8 0a3.4 6.4 0 1 0 -6.8 0M237.9 410.4a3.5 6.3 0 1 0 7.1 0a3.5 6.3 0 1 0 -7.1 0M308.8 424.4a2.9 6.2 0 1 0 5.8 0a2.9 6.2 0 1 0 -5.8 0M211.8 438.1a3.3 6.2 0 1 0 6.5 0a3.3 6.2 0 1 0 -6.5 0M245.6 446.5a3.8 7 0 1 0 7.6 0a3.8 7 0 1 0 -7.6 0M274.5 439.1a3.4 7.5 0 1 0 6.9 0a3.4 7.5 0 1 0 -6.9 0M284.5 425a2.8 6.2 0 1 0 5.7 0a2.8 6.2 0 1 0 -5.7 0M298.8 448.7a3.7 7.4 0 1 0 7.3 0a3.7 7.4 0 1 0 -7.3 0M276 484a5.1 8.8 0 1 0 10.1 0a5.1 8.8 0 1 0 -10.1 0M237.2 497a4.2 7.4 0 1 0 8.4 0a4.2 7.4 0 1 0 -8.4 0M308.8 428.8a3.6 6.8 0 1 0 7.3 0a3.6 6.8 0 1 0 -7.3 0M331.4 433.3a3 7.7 0 1 0 6 0a3 7.7 0 1 0 -6 0M340.7 435.6a3.4 7.2 0 1 0 6.7 0a3.4 7.2 0 1 0 -6.7 0M304.4 449.6a3.6 6.7 0 1 0 7.3 0a3.6 6.7 0 1 0 -7.3 0M315.2 452.8a3.7 6.2 0 1 0 7.5 0a3.7 6.2 0 1 0 -7.5 0M383.4 485.9a4.5 8.6 0 1 0 9 0a4.5 8.6 0 1 0 -9 0M431 430.8a3.7 6.2 0 1 0 7.5 0a3.7 6.2 0 1 0 -7.5 0M444 430.6a2.8 6 0 1 0 5.6 0a2.8 6 0 1 0 -5.6 0M409.8 424.1a3.3 6.3 0 1 0 6.6 0a3.3 6.3 0 1 0 -6.6 0M187.2 439.7a2.9 6.7 0 1 0 5.9 0a2.9 6.7 0 1 0 -5.9 0M100.9 436.7a3.2 7.7 0 1 0 6.4 0a3.2 7.7 0 1 0 -6.4 0M99.9 516.4a4 8.5 0 1 0 8 0a4 8.5 0 1 0 -8 0M114.3 517.4a4.5 7.9 0 1 0 8.9 0a4.5 7.9 0 1 0 -8.9 0M142.4 512.5a3.7 7.3 0 1 0 7.5 0a3.7 7.3 0 1 0 -7.5 0M147.1 512.8a4.9 8.1 0 1 0 9.9 0a4.9 8.1 0 1 0 -9.9 0M151.9 508.7a3.8 9.6 0 1 0 7.5 0a3.8 9.6 0 1 0 -7.5 0M166.3 497a3.6 9.9 0 1 0 7.3 0a3.6 9.9 0 1 0 -7.3 0M169.8 495.7a4.3 9.9 0 1 0 8.6 0a4.3 9.9 0 1 0 -8.6 0M176.7 492.7a4.7 9.3 0 1 0 9.3 0a4.7 9.3 0 1 0 -9.3 0M178.1 500.6a4.8 9.5 0 1 0 9.6 0a4.8 9.5 0 1 0 -9.6 0M188.9 501.1a4.6 7.8 0 1 0 9.2 0a4.6 7.8 0 1 0 -9.2 0M198.2 500.1a4 10 0 1 0 8 0a4 10 0 1 0 -8 0M102.2 473.6a3.3 5.8 0 1 0 6.7 0a3.3 5.8 0 1 0 -6.7 0M121.8 461.6a3.4 7.3 0 1 0 6.8 0a3.4 7.3 0 1 0 -6.8 0M130.9 481.5a3.2 7.6 0 1 0 6.4 0a3.2 7.6 0 1 0 -6.4 0M142 467.4a3.9 6.8 0 1 0 7.8 0a3.9 6.8 0 1 0 -7.8 0M148.7 464.7a3.1 6.2 0 1 0 6.2 0a3.1 6.2 0 1 0 -6.2 0M164.5 453.6a3.6 7.8 0 1 0 7.2 0a3.6 7.8 0 1 0 -7.2 0M170.5 452.4a3.7 5.9 0 1 0 7.4 0a3.7 5.9 0 1 0 -7.4 0M183.8 455.4a3.7 7.3 0 1 0 7.4 0a3.7 7.3 0 1 0 -7.4 0M193.6 455.7a2.9 7.4 0 1 0 5.7 0a2.9 7.4 0 1 0 -5.7 0M193 477a3.2 6.2 0 1 0 6.4 0a3.2 6.2 0 1 0 -6.4 0M199.2 441.6a2.9 7.8 0 1 0 5.7 0a2.9 7.8 0 1 0 -5.7 0M225.8 417.2a3.3 7.5 0 1 0 6.7 0a3.3 7.5 0 1 0 -6.7 0M262.9 417.7a3 7.2 0 1 0 6 0a3 7.2 0 1 0 -6 0M348.8 392.1a3.1 6.9 0 1 0 6.1 0a3.1 6.9 0 1 0 -6.1 0M343.2 408.2a2.9 5.8 0 1 0 5.7 0a2.9 5.8 0 1 0 -5.7 0M346.9 413.8a3.6 7.5 0 1 0 7.2 0a3.6 7.5 0 1 0 -7.2 0M359.3 383.4a2.9 5.7 0 1 0 5.8 0a2.9 5.7 0 1 0 -5.8 0M321.9 418.1a3.3 6 0 1 0 6.6 0a3.3 6 0 1 0 -6.6 0M408.3 386.3a3.6 6.9 0 1 0 7.2 0a3.6 6.9 0 1 0 -7.2 0M417.5 399.4a3.2 7.2 0 1 0 6.3 0a3.2 7.2 0 1 0 -6.3 0M426 402.4a3.1 7.4 0 1 0 6.2 0a3.1 7.4 0 1 0 -6.2 0M434.9 395.6a3.1 6.2 0 1 0 6.2 0a3.1 6.2 0 1 0 -6.2 0M448.7 389a3.2 7 0 1 0 6.4 0a3.2 7 0 1 0 -6.4 0M448.8 393.6a3.4 5.5 0 1 0 6.9 0a3.4 5.5 0 1 0 -6.9 0M477.6 394.1a3.7 6.2 0 1 0 7.4 0a3.7 6.2 0 1 0 -7.4 0M487.3 405.7a3.1 7.8 0 1 0 6.2 0a3.1 7.8 0 1 0 -6.2 0M499.1 402.8a3.7 6.3 0 1 0 7.4 0a3.7 6.3 0 1 0 -7.4 0M503.2 404.4a3.8 7.6 0 1 0 7.5 0a3.8 7.6 0 1 0 -7.5 0M513.7 400.7a2.8 5.7 0 1 0 5.6 0a2.8 5.7 0 1 0 -5.6 0M515.5 402.8a3.7 6.3 0 1 0 7.4 0a3.7 6.3 0 1 0 -7.4 0M523.7 397.4a3.3 5.6 0 1 0 6.6 0a3.3 5.6 0 1 0 -6.6 0M219.4 426.7a3.2 6.3 0 1 0 6.4 0a3.2 6.3 0 1 0 -6.4 0M226.4 421.9a3.4 7.4 0 1 0 6.8 0a3.4 7.4 0 1 0 -6.8 0M227.7 432.5a3.1 5.7 0 1 0 6.2 0a3.1 5.7 0 1 0 -6.2 0M217.9 447.7a3.8 7.2 0 1 0 7.6 0a3.8 7.2 0 1 0 -7.6 0M220.9 452.6a3.9 6.9 0 1 0 7.8 0a3.9 6.9 0 1 0 -7.8 0M229.1 448.5a2.9 6.4 0 1 0 5.9 0a2.9 6.4 0 1 0 -5.9 0M233.2 448.3a3.8 6.2 0 1 0 7.6 0a3.8 6.2 0 1 0 -7.6 0M239 447.1a3.7 6.4 0 1 0 7.3 0a3.7 6.4 0 1 0 -7.3 0M258.9 433.6a3.4 6.1 0 1 0 6.8 0a3.4 6.1 0 1 0 -6.8 0M263 421.5a3.3 6 0 1 0 6.5 0a3.3 6 0 1 0 -6.5 0M265.7 428.1a3.5 7.1 0 1 0 7 0a3.5 7.1 0 1 0 -7 0M265.1 440.9a3.4 6.8 0 1 0 6.8 0a3.4 6.8 0 1 0 -6.8 0M278.5 456.8a3 5.8 0 1 0 6.1 0a3 5.8 0 1 0 -6.1 0M205.4 469.8a3.5 6.7 0 1 0 7 0a3.5 6.7 0 1 0 -7 0M210.1 484.3a4.5 9.3 0 1 0 9.1 0a4.5 9.3 0 1 0 -9.1 0M222.9 496.8a4.2 8.5 0 1 0 8.3 0a4.2 8.5 0 1 0 -8.3 0M226.4 497.9a5 7.9 0 1 0 9.9 0a5 7.9 0 1 0 -9.9 0M233.1 496.9a4 8.9 0 1 0 8 0a4 8.9 0 1 0 -8 0M252.2 487.4a4.1 7.6 0 1 0 8.3 0a4.1 7.6 0 1 0 -8.3 0M257.2 488.3a3.7 9 0 1 0 7.4 0a3.7 9 0 1 0 -7.4 0M262.8 490.6a3.8 8.3 0 1 0 7.7 0a3.8 8.3 0 1 0 -7.7 0M262.7 495.9a3.7 7.6 0 1 0 7.3 0a3.7 7.6 0 1 0 -7.3 0M271.1 496.2a4.8 9.3 0 1 0 9.6 0a4.8 9.3 0 1 0 -9.6 0M295.8 482.9a4.3 7.9 0 1 0 8.6 0a4.3 7.9 0 1 0 -8.6 0M362.1 426.3a3.8 6.3 0 1 0 7.7 0a3.8 6.3 0 1 0 -7.7 0M355.3 422.7a2.9 7.7 0 1 0 5.9 0a2.9 7.7 0 1 0 -5.9 0M321.8 422.2a3.8 7.2 0 1 0 7.6 0a3.8 7.2 0 1 0 -7.6 0M319.3 485.2a4.4 10 0 1 0 8.8 0a4.4 10 0 1 0 -8.8 0M335.4 486.2a3.8 8.8 0 1 0 7.6 0a3.8 8.8 0 1 0 -7.6 0M340.5 484.4a4 9.9 0 1 0 8.1 0a4 9.9 0 1 0 -8.1 0M342 495.2a4.1 8 0 1 0 8.3 0a4.1 8 0 1 0 -8.3 0M350.3 495.7a3.8 9.6 0 1 0 7.6 0a3.8 9.6 0 1 0 -7.6 0M317.6 495.5a4.2 7.3 0 1 0 8.3 0a4.2 7.3 0 1 0 -8.3 0M303.8 494.9a4.4 8.9 0 1 0 8.9 0a4.4 8.9 0 1 0 -8.9 0M309.1 494.8a4.3 9.4 0 1 0 8.5 0a4.3 9.4 0 1 0 -8.5 0M372.6 481.7a4.9 7.3 0 1 0 9.8 0a4.9 7.3 0 1 0 -9.8 0M375.2 495.1a4.1 8.8 0 1 0 8.1 0a4.1 8.8 0 1 0 -8.1 0M384.2 493.9a3.6 8.2 0 1 0 7.2 0a3.6 8.2 0 1 0 -7.2 0M391.6 475.9a3.8 8.8 0 1 0 7.7 0a3.8 8.8 0 1 0 -7.7 0M390.3 495.2a4.8 7.7 0 1 0 9.5 0a4.8 7.7 0 1 0 -9.5 0M396 484.5a4.7 7.4 0 1 0 9.5 0a4.7 7.4 0 1 0 -9.5 0M410.6 487.7a3.7 8.1 0 1 0 7.5 0a3.7 8.1 0 1 0 -7.5 0M420.5 485.7a4.1 8.3 0 1 0 8.1 0a4.1 8.3 0 1 0 -8.1 0M442.5 487.9a4.3 8.9 0 1 0 8.6 0a4.3 8.9 0 1 0 -8.6 0M447.6 490.1a4.7 9.8 0 1 0 9.3 0a4.7 9.8 0 1 0 -9.3 0M475.8 484.5a3.8 9 0 1 0 7.5 0a3.8 9 0 1 0 -7.5 0M503.3 489.9a3.9 8.7 0 1 0 7.9 0a3.9 8.7 0 1 0 -7.9 0M508.1 484.6a4.8 8.9 0 1 0 9.7 0a4.8 8.9 0 1 0 -9.7 0M516.9 487.2a4.7 9.3 0 1 0 9.3 0a4.7 9.3 0 1 0 -9.3 0M458 489.6a4.2 7.4 0 1 0 8.4 0a4.2 7.4 0 1 0 -8.4 0M486.1 435.8a3.4 6.7 0 1 0 6.8 0a3.4 6.7 0 1 0 -6.8 0M491.7 452.1a3 7 0 1 0 6.1 0a3 7 0 1 0 -6.1 0M497 450.7a3.4 5.9 0 1 0 6.8 0a3.4 5.9 0 1 0 -6.8 0M452.9 449.9a3.5 6.9 0 1 0 7 0a3.5 6.9 0 1 0 -7 0M461.3 462.8a4.5 9.6 0 1 0 8.9 0a4.5 9.6 0 1 0 -8.9 0M464.6 462.8a4 9.1 0 1 0 7.9 0a4 9.1 0 1 0 -7.9 0M428.4 468.6a4.1 7.7 0 1 0 8.2 0a4.1 7.7 0 1 0 -8.2 0M409 487.6a4.9 11 0 1 0 9.9 0a4.9 11 0 1 0 -9.9 0M441.1 487.7a6 11.6 0 1 0 12 0a6 11.6 0 1 0 -12 0M473.8 485.3a5.2 10.4 0 1 0 10.5 0a5.2 10.4 0 1 0 -10.5 0M502.3 489.9a4.8 11.9 0 1 0 9.6 0a4.8 11.9 0 1 0 -9.6 0M339 490.3a6.1 10.1 0 1 0 12.2 0a6.1 10.1 0 1 0 -12.2 0M282.9 490.1a5.9 11.6 0 1 0 11.9 0a5.9 11.6 0 1 0 -11.9 0M229.4 494.1a5.9 12.2 0 1 0 11.8 0a5.9 12.2 0 1 0 -11.8 0M346.4 484.8a3.5 8.2 0 1 0 7 0a3.5 8.2 0 1 0 -7 0M470 482.8a3.9 7.3 0 1 0 7.8 0a3.9 7.3 0 1 0 -7.8 0M326.2 481.5a2.7 5.9 0 1 0 5.5 0a2.7 5.9 0 1 0 -5.5 0M320.4 486.6a4.1 7 0 1 0 8.3 0a4.1 7 0 1 0 -8.3 0M304.3 484.9a2.9 6.9 0 1 0 5.7 0a2.9 6.9 0 1 0 -5.7 0M489.9 486.2a3.1 6.8 0 1 0 6.2 0a3.1 6.8 0 1 0 -6.2 0M393.4 486.4a3.7 6.9 0 1 0 7.4 0a3.7 6.9 0 1 0 -7.4 0M306 494.3a3.7 7.3 0 1 0 7.4 0a3.7 7.3 0 1 0 -7.4 0M482.7 485.9a2.9 7.3 0 1 0 5.7 0a2.9 7.3 0 1 0 -5.7 0M355.6 481.5a4.1 7.6 0 1 0 8.2 0a4.1 7.6 0 1 0 -8.2 0M317.3 490.4a2.8 7.7 0 1 0 5.7 0a2.8 7.7 0 1 0 -5.7 0M410.7 488.6a3.2 6.1 0 1 0 6.4 0a3.2 6.1 0 1 0 -6.4 0M440.3 489.7a4.1 7 0 1 0 8.2 0a4.1 7 0 1 0 -8.2 0M328.5 485.1a3 4.9 0 1 0 6 0a3 4.9 0 1 0 -6 0M370.5 488a3.6 5.5 0 1 0 7.1 0a3.6 5.5 0 1 0 -7.1 0M301.2 489.3a3.6 7.9 0 1 0 7.3 0a3.6 7.9 0 1 0 -7.3 0M395.3 492.3a3.3 8.6 0 1 0 6.7 0a3.3 8.6 0 1 0 -6.7 0M367.4 481.7a2.9 5.9 0 1 0 5.8 0a2.9 5.9 0 1 0 -5.8 0M503.9 493.7a3.4 7.8 0 1 0 6.8 0a3.4 7.8 0 1 0 -6.8 0M517.9 491.5a3 5.2 0 1 0 6.1 0a3 5.2 0 1 0 -6.1 0M505.5 488.7a2.6 5.9 0 1 0 5.2 0a2.6 5.9 0 1 0 -5.2 0M300.3 491.8a3.6 7.1 0 1 0 7.2 0a3.6 7.1 0 1 0 -7.2 0M438.3 486.7a3.1 6.4 0 1 0 6.2 0a3.1 6.4 0 1 0 -6.2 0M362.4 485.4a2.9 6.5 0 1 0 5.8 0a2.9 6.5 0 1 0 -5.8 0M453.4 491.8a3.8 8.7 0 1 0 7.6 0a3.8 8.7 0 1 0 -7.6 0M399.2 486.9a3.7 7 0 1 0 7.3 0a3.7 7 0 1 0 -7.3 0M363.2 490.7a2.8 6.4 0 1 0 5.7 0a2.8 6.4 0 1 0 -5.7 0M371.9 490.8a3.7 7.7 0 1 0 7.5 0a3.7 7.7 0 1 0 -7.5 0M495.6 480.6a3.1 7 0 1 0 6.3 0a3.1 7 0 1 0 -6.3 0M492.4 490.3a4 7 0 1 0 7.9 0a4 7 0 1 0 -7.9 0M407.3 462.4a3.9 7.8 0 1 0 7.7 0a3.9 7.8 0 1 0 -7.7 0M379.5 466a4.8 8.5 0 1 0 9.7 0a4.8 8.5 0 1 0 -9.7 0M387.1 464.4a6 12.2 0 1 0 12 0a6 12.2 0 1 0 -12 0M367.3 464.6a3.7 6.4 0 1 0 7.4 0a3.7 6.4 0 1 0 -7.4 0M476.2 460.2a3.5 9.7 0 1 0 7.1 0a3.5 9.7 0 1 0 -7.1 0M510.2 444.2a4.6 10.4 0 1 0 9.1 0a4.6 10.4 0 1 0 -9.1 0M471.5 464.4a3.7 7.3 0 1 0 7.4 0a3.7 7.3 0 1 0 -7.4 0M489 438.9a4 5.9 0 1 0 8.1 0a4 5.9 0 1 0 -8.1 0M325.7 444.6a4 7.3 0 1 0 8 0a4 7.3 0 1 0 -8 0M347.5 449.4a3.3 7 0 1 0 6.5 0a3.3 7 0 1 0 -6.5 0M421.7 458.4a4.4 10.6 0 1 0 8.9 0a4.4 10.6 0 1 0 -8.9 0M356.6 435.5a4.1 7.6 0 1 0 8.2 0a4.1 7.6 0 1 0 -8.2 0M307.8 468.6a3.3 8.1 0 1 0 6.7 0a3.3 8.1 0 1 0 -6.7 0M317.9 455a5.2 10.3 0 1 0 10.4 0a5.2 10.3 0 1 0 -10.4 0M476.9 462.6a4.7 8.7 0 1 0 9.3 0a4.7 8.7 0 1 0 -9.3 0M401.5 435.9a4.5 7.6 0 1 0 9 0a4.5 7.6 0 1 0 -9 0M507.2 467.7a3.7 7.4 0 1 0 7.4 0a3.7 7.4 0 1 0 -7.4 0M354.7 456a4.3 8.9 0 1 0 8.6 0a4.3 8.9 0 1 0 -8.6 0M419.1 450.9a4.3 9.4 0 1 0 8.7 0a4.3 9.4 0 1 0 -8.7 0M358.7 462.7a4.3 10.6 0 1 0 8.7 0a4.3 10.6 0 1 0 -8.7 0M370.1 463.1a4.8 10.8 0 1 0 9.7 0a4.8 10.8 0 1 0 -9.7 0M388.5 456.3a4.2 10.5 0 1 0 8.3 0a4.2 10.5 0 1 0 -8.3 0M352.6 454a4.7 9 0 1 0 9.4 0a4.7 9 0 1 0 -9.4 0M492.3 436.4a5.6 8.7 0 1 0 11.2 0a5.6 8.7 0 1 0 -11.2 0M358.9 442.7a5.5 10.7 0 1 0 11 0a5.5 10.7 0 1 0 -11 0M261.9 382a3.8 12 0 1 0 7.5 0a3.8 12 0 1 0 -7.5 0M156 373a4 26 0 1 0 8 0a4 26 0 1 0 -8 0"/><path fill="#5fcdb4" d="M162.5 384a3.5 5 0 1 0 7 0a3.5 5 0 1 0 -7 0"/><path fill="#66cb8c" d="M157 372a3 23 0 1 0 6 0a3 23 0 1 0 -6 0"/><path fill="#6dc965" d="M128.4 508a2.5 5.7 0 1 0 5 0a2.5 5.7 0 1 0 -5 0M80.7 476.4a2.5 5.8 0 1 0 4.9 0a2.5 5.8 0 1 0 -4.9 0M132.8 449.5a2.7 4.6 0 1 0 5.3 0a2.7 4.6 0 1 0 -5.3 0M154.9 457.9a2.5 5.2 0 1 0 4.9 0a2.5 5.2 0 1 0 -4.9 0M211.2 406.1a2.5 4.7 0 1 0 5 0a2.5 4.7 0 1 0 -5 0M290.3 417.4a2.2 5.6 0 1 0 4.4 0a2.2 5.6 0 1 0 -4.4 0M198.2 388.2a2.6 5.4 0 1 0 5.3 0a2.6 5.4 0 1 0 -5.3 0M130.1 405.9a2.8 5.7 0 1 0 5.5 0a2.8 5.7 0 1 0 -5.5 0M173.4 412.5a2.4 5.9 0 1 0 4.8 0a2.4 5.9 0 1 0 -4.8 0M296.3 423.1a2.6 5.6 0 1 0 5.2 0a2.6 5.6 0 1 0 -5.2 0M329.7 448a2.1 5.3 0 1 0 4.2 0a2.1 5.3 0 1 0 -4.2 0M214.8 458.6a2.5 5.4 0 1 0 5.1 0a2.5 5.4 0 1 0 -5.1 0M238.8 409.7a2.8 4.8 0 1 0 5.7 0a2.8 4.8 0 1 0 -5.7 0M309.4 424.6a2.4 6.2 0 1 0 4.9 0a2.4 6.2 0 1 0 -4.9 0M212.2 437a3 6.2 0 1 0 6 0a3 6.2 0 1 0 -6 0M247.4 445.9a2.5 4.9 0 1 0 5 0a2.5 4.9 0 1 0 -5 0M275.6 438.3a2.3 4.9 0 1 0 4.7 0a2.3 4.9 0 1 0 -4.7 0M284.3 424.5a3 5.8 0 1 0 5.9 0a3 5.8 0 1 0 -5.9 0M299.5 448.9a2.9 6.2 0 1 0 5.8 0a2.9 6.2 0 1 0 -5.8 0M277.8 484.2a3.7 6.8 0 1 0 7.3 0a3.7 6.8 0 1 0 -7.3 0M238.1 495.7a3.2 6.5 0 1 0 6.4 0a3.2 6.5 0 1 0 -6.4 0M309.5 428.5a3.1 6.5 0 1 0 6.1 0a3.1 6.5 0 1 0 -6.1 0M331.3 432.9a2.7 6 0 1 0 5.4 0a2.7 6 0 1 0 -5.4 0M341 435.5a3 4.9 0 1 0 5.9 0a3 4.9 0 1 0 -5.9 0M305.3 449.8a2.6 6.4 0 1 0 5.3 0a2.6 6.4 0 1 0 -5.3 0M316 452.7a2.6 6.1 0 1 0 5.3 0a2.6 6.1 0 1 0 -5.3 0M384.7 485.7a3.2 8.2 0 1 0 6.3 0a3.2 8.2 0 1 0 -6.3 0M432.2 430.5a2.7 6.5 0 1 0 5.4 0a2.7 6.5 0 1 0 -5.4 0M444.5 430.9a2.4 5.2 0 1 0 4.9 0a2.4 5.2 0 1 0 -4.9 0M409.9 424a2.8 4.8 0 1 0 5.6 0a2.8 4.8 0 1 0 -5.6 0M188.1 440.1a2.3 4.9 0 1 0 4.6 0a2.3 4.9 0 1 0 -4.6 0M101.2 436.6a3 4.8 0 1 0 6 0a3 4.8 0 1 0 -6 0M100.3 516.5a4 6.6 0 1 0 8.1 0a4 6.6 0 1 0 -8.1 0M115.6 517.1a3.8 6.8 0 1 0 7.6 0a3.8 6.8 0 1 0 -7.6 0M143 513.4a2.9 6.5 0 1 0 5.9 0a2.9 6.5 0 1 0 -5.9 0M149 513.2a2.9 7.8 0 1 0 5.8 0a2.9 7.8 0 1 0 -5.8 0M153.3 509.1a3.1 6.3 0 1 0 6.1 0a3.1 6.3 0 1 0 -6.1 0M166.3 495.9a3.6 7.4 0 1 0 7.3 0a3.6 7.4 0 1 0 -7.3 0M171.1 495.7a2.9 7.4 0 1 0 5.9 0a2.9 7.4 0 1 0 -5.9 0M179 491.9a3 7.4 0 1 0 5.9 0a3 7.4 0 1 0 -5.9 0M178.6 500.5a4 7.8 0 1 0 8 0a4 7.8 0 1 0 -8 0M189.6 501.3a3.7 6.7 0 1 0 7.3 0a3.7 6.7 0 1 0 -7.3 0M198.4 499.5a3.9 7 0 1 0 7.9 0a3.9 7 0 1 0 -7.9 0M103.3 473.8a2.6 6.5 0 1 0 5.1 0a2.6 6.5 0 1 0 -5.1 0M122.8 462.6a2.4 4.8 0 1 0 4.8 0a2.4 4.8 0 1 0 -4.8 0M130.8 480.9a2.9 6.1 0 1 0 5.8 0a2.9 6.1 0 1 0 -5.8 0M143.3 468.4a2.4 5 0 1 0 4.9 0a2.4 5 0 1 0 -4.9 0M148.9 465.3a2.6 5.5 0 1 0 5.2 0a2.6 5.5 0 1 0 -5.2 0M165.7 452.6a2.4 6.5 0 1 0 4.9 0a2.4 6.5 0 1 0 -4.9 0M171.5 451.7a2.5 5 0 1 0 5 0a2.5 5 0 1 0 -5 0M184.9 456.3a2.3 6.5 0 1 0 4.7 0a2.3 6.5 0 1 0 -4.7 0M194.3 455.7a2.6 5.1 0 1 0 5.2 0a2.6 5.1 0 1 0 -5.2 0M193.6 476.9a2.6 5.3 0 1 0 5.3 0a2.6 5.3 0 1 0 -5.3 0M200.2 440.8a2.3 4.8 0 1 0 4.5 0a2.3 4.8 0 1 0 -4.5 0M227.1 417a2.3 6.2 0 1 0 4.6 0a2.3 6.2 0 1 0 -4.6 0M263 417a2.2 5.2 0 1 0 4.5 0a2.2 5.2 0 1 0 -4.5 0M349.1 391.5a3 4.7 0 1 0 6.1 0a3 4.7 0 1 0 -6.1 0M343.9 408a2.5 4.7 0 1 0 5.1 0a2.5 4.7 0 1 0 -5.1 0M347.8 414a2.4 5.9 0 1 0 4.7 0a2.4 5.9 0 1 0 -4.7 0M360.3 383.5a2.2 4.9 0 1 0 4.5 0a2.2 4.9 0 1 0 -4.5 0M322.6 417.7a2.7 5.5 0 1 0 5.5 0a2.7 5.5 0 1 0 -5.5 0M409.1 385.6a2.9 6.2 0 1 0 5.7 0a2.9 6.2 0 1 0 -5.7 0M417.9 400.5a2.8 4.9 0 1 0 5.5 0a2.8 4.9 0 1 0 -5.5 0M426.3 403a2.5 5.3 0 1 0 4.9 0a2.5 5.3 0 1 0 -4.9 0M435.5 396.3a2.3 5.7 0 1 0 4.6 0a2.3 5.7 0 1 0 -4.6 0M449.3 389.5a2.5 5.4 0 1 0 4.9 0a2.5 5.4 0 1 0 -4.9 0M449 394.2a3 6.5 0 1 0 6 0a3 6.5 0 1 0 -6 0M478.2 393.8a2.7 5.7 0 1 0 5.4 0a2.7 5.7 0 1 0 -5.4 0M488.1 405.3a2.6 5.7 0 1 0 5.1 0a2.6 5.7 0 1 0 -5.1 0M499.3 402.5a3.1 5.5 0 1 0 6.1 0a3.1 5.5 0 1 0 -6.1 0M504.7 404.6a2.4 5.4 0 1 0 4.8 0a2.4 5.4 0 1 0 -4.8 0M513.8 400a2.8 5.7 0 1 0 5.5 0a2.8 5.7 0 1 0 -5.5 0M516.6 402.5a2.6 4.8 0 1 0 5.3 0a2.6 4.8 0 1 0 -5.3 0M524.6 396.8a2.9 6.5 0 1 0 5.8 0a2.9 6.5 0 1 0 -5.8 0M220.4 426a2.3 6.1 0 1 0 4.5 0a2.3 6.1 0 1 0 -4.5 0M226.9 422.3a3.1 5 0 1 0 6.1 0a3.1 5 0 1 0 -6.1 0M227.7 433.4a3.1 5.8 0 1 0 6.2 0a3.1 5.8 0 1 0 -6.2 0M218.3 447.8a3.1 6.3 0 1 0 6.2 0a3.1 6.3 0 1 0 -6.2 0M222.5 453a2.3 6.1 0 1 0 4.7 0a2.3 6.1 0 1 0 -4.7 0M229.4 449a2.9 6.4 0 1 0 5.8 0a2.9 6.4 0 1 0 -5.8 0M233.8 448.1a2.9 6 0 1 0 5.8 0a2.9 6 0 1 0 -5.8 0M239.7 447.7a2.7 6 0 1 0 5.3 0a2.7 6 0 1 0 -5.3 0M259.8 433.8a2.3 6.5 0 1 0 4.5 0a2.3 6.5 0 1 0 -4.5 0M263.9 422.5a2.4 5.9 0 1 0 4.8 0a2.4 5.9 0 1 0 -4.8 0M267.1 428.2a2.6 6.1 0 1 0 5.2 0a2.6 6.1 0 1 0 -5.2 0M265.3 441.8a2.9 5.1 0 1 0 5.8 0a2.9 5.1 0 1 0 -5.8 0M279.1 455.8a2.4 4.9 0 1 0 4.9 0a2.4 4.9 0 1 0 -4.9 0M206.6 470.9a2.4 5 0 1 0 4.7 0a2.4 5 0 1 0 -4.7 0M211.1 484.6a3.1 6.8 0 1 0 6.2 0a3.1 6.8 0 1 0 -6.2 0M223.6 496a3.9 6.5 0 1 0 7.9 0a3.9 6.5 0 1 0 -7.9 0M227.6 497.8a3.1 7.9 0 1 0 6.2 0a3.1 7.9 0 1 0 -6.2 0M233.9 495.6a3.1 7.6 0 1 0 6.1 0a3.1 7.6 0 1 0 -6.1 0M252.2 487.5a4 6.3 0 1 0 8 0a4 6.3 0 1 0 -8 0M258.1 489a3 8.6 0 1 0 6.1 0a3 8.6 0 1 0 -6.1 0M262.7 491.1a4 7.4 0 1 0 8 0a4 7.4 0 1 0 -8 0M262.9 495.6a3.8 7.9 0 1 0 7.7 0a3.8 7.9 0 1 0 -7.7 0M272.3 496.5a3.8 7.7 0 1 0 7.6 0a3.8 7.7 0 1 0 -7.6 0M296.9 483.2a3.1 8.3 0 1 0 6.2 0a3.1 8.3 0 1 0 -6.2 0M362.9 425.4a2.9 5.3 0 1 0 5.8 0a2.9 5.3 0 1 0 -5.8 0M355.3 422.4a2.3 5.4 0 1 0 4.6 0a2.3 5.4 0 1 0 -4.6 0M322.8 421.4a2.7 5.6 0 1 0 5.4 0a2.7 5.6 0 1 0 -5.4 0M320.3 485.1a3.3 7.9 0 1 0 6.5 0a3.3 7.9 0 1 0 -6.5 0M335.7 485.4a3.9 6.6 0 1 0 7.8 0a3.9 6.6 0 1 0 -7.8 0M340.9 484.8a3.6 6.3 0 1 0 7.2 0a3.6 6.3 0 1 0 -7.2 0M342.4 494.5a3.8 6.8 0 1 0 7.7 0a3.8 6.8 0 1 0 -7.7 0M351.3 495a3.1 8.3 0 1 0 6.1 0a3.1 8.3 0 1 0 -6.1 0M317.5 495.1a3.9 8.2 0 1 0 7.9 0a3.9 8.2 0 1 0 -7.9 0M305 495.7a3 6.3 0 1 0 6 0a3 6.3 0 1 0 -6 0M310.2 494.7a3.1 8.5 0 1 0 6.1 0a3.1 8.5 0 1 0 -6.1 0M374 482.6a3.7 7.5 0 1 0 7.3 0a3.7 7.5 0 1 0 -7.3 0M375.6 494.6a4 8.4 0 1 0 8 0a4 8.4 0 1 0 -8 0M384.6 495.2a3.3 7.5 0 1 0 6.5 0a3.3 7.5 0 1 0 -6.5 0M392.7 476.5a2.9 7.7 0 1 0 5.8 0a2.9 7.7 0 1 0 -5.8 0M392 495.9a3.2 7 0 1 0 6.5 0a3.2 7 0 1 0 -6.5 0M397.7 484.6a3.7 8.2 0 1 0 7.5 0a3.7 8.2 0 1 0 -7.5 0M410.2 487a3.4 7.4 0 1 0 6.9 0a3.4 7.4 0 1 0 -6.9 0M421.3 486.5a3 6.6 0 1 0 6 0a3 6.6 0 1 0 -6 0M442.6 487.7a3.8 7.7 0 1 0 7.6 0a3.8 7.7 0 1 0 -7.6 0M449 489.7a3.9 6.1 0 1 0 7.8 0a3.9 6.1 0 1 0 -7.8 0M475.2 485.1a3.9 8 0 1 0 7.8 0a3.9 8 0 1 0 -7.8 0M504.4 490.6a3.2 6.8 0 1 0 6.4 0a3.2 6.8 0 1 0 -6.4 0M509 484.4a4.1 6.7 0 1 0 8.1 0a4.1 6.7 0 1 0 -8.1 0M518.4 487.7a3.1 6.9 0 1 0 6.2 0a3.1 6.9 0 1 0 -6.2 0M458.3 489.7a3.6 8 0 1 0 7.2 0a3.6 8 0 1 0 -7.2 0M486.4 436.7a3 5.6 0 1 0 6.1 0a3 5.6 0 1 0 -6.1 0M491.6 451.7a2.6 5.1 0 1 0 5.2 0a2.6 5.1 0 1 0 -5.2 0M497.7 451.6a2.9 6 0 1 0 5.7 0a2.9 6 0 1 0 -5.7 0M453.5 450.8a2.8 6.4 0 1 0 5.6 0a2.8 6.4 0 1 0 -5.6 0M462.3 462.5a3.4 7.4 0 1 0 6.8 0a3.4 7.4 0 1 0 -6.8 0M465.7 463.3a3.2 6.8 0 1 0 6.5 0a3.2 6.8 0 1 0 -6.5 0M428.7 469.7a3.9 8.2 0 1 0 7.9 0a3.9 8.2 0 1 0 -7.9 0M409.6 486.9a4.7 8.7 0 1 0 9.3 0a4.7 8.7 0 1 0 -9.3 0M443.2 488a3.8 9.9 0 1 0 7.7 0a3.8 9.9 0 1 0 -7.7 0M474.4 485a4.9 8 0 1 0 9.8 0a4.9 8 0 1 0 -9.8 0M502.9 490.6a4.7 9.1 0 1 0 9.4 0a4.7 9.1 0 1 0 -9.4 0M340 489.5a4.8 8.8 0 1 0 9.5 0a4.8 8.8 0 1 0 -9.5 0M285 490.4a4.3 8.1 0 1 0 8.6 0a4.3 8.1 0 1 0 -8.6 0M231.4 494a3.7 9.1 0 1 0 7.3 0a3.7 9.1 0 1 0 -7.3 0M347 484.4a3.3 5.7 0 1 0 6.6 0a3.3 5.7 0 1 0 -6.6 0M470.7 482.5a3.6 6.2 0 1 0 7.2 0a3.6 6.2 0 1 0 -7.2 0M326.9 481.8a2.2 4.4 0 1 0 4.4 0a2.2 4.4 0 1 0 -4.4 0M321.1 485.5a2.9 6.8 0 1 0 5.8 0a2.9 6.8 0 1 0 -5.8 0M305.2 484.2a2.5 5.4 0 1 0 4.9 0a2.5 5.4 0 1 0 -4.9 0M489.9 487.4a3.3 6.7 0 1 0 6.6 0a3.3 6.7 0 1 0 -6.6 0M393.5 486.2a3.5 7.6 0 1 0 7 0a3.5 7.6 0 1 0 -7 0M307 494.1a2.9 4.6 0 1 0 5.9 0a2.9 4.6 0 1 0 -5.9 0M482.6 485.7a2.7 5.3 0 1 0 5.3 0a2.7 5.3 0 1 0 -5.3 0M357.1 481.5a2.9 7.2 0 1 0 5.8 0a2.9 7.2 0 1 0 -5.8 0M317.4 491a2.5 6.1 0 1 0 5 0a2.5 6.1 0 1 0 -5 0M412 487.8a2.2 4.9 0 1 0 4.4 0a2.2 4.9 0 1 0 -4.4 0M442 489.7a2.6 7.4 0 1 0 5.3 0a2.6 7.4 0 1 0 -5.3 0M329.6 485.6a1.8 4.6 0 1 0 3.7 0a1.8 4.6 0 1 0 -3.7 0M371.8 488.2a2.3 5.9 0 1 0 4.6 0a2.3 5.9 0 1 0 -4.6 0M301.9 489.3a2.7 5.5 0 1 0 5.3 0a2.7 5.5 0 1 0 -5.3 0M395.9 492.3a2.7 6 0 1 0 5.4 0a2.7 6 0 1 0 -5.4 0M367.5 481.1a2.5 5.9 0 1 0 5 0a2.5 5.9 0 1 0 -5 0M504.5 494.5a3.1 5.2 0 1 0 6.2 0a3.1 5.2 0 1 0 -6.2 0M519 492.4a2 4.7 0 1 0 4.1 0a2 4.7 0 1 0 -4.1 0M505.4 487.7a2.8 4.7 0 1 0 5.5 0a2.8 4.7 0 1 0 -5.5 0M301.9 491.2a2.6 6.3 0 1 0 5.1 0a2.6 6.3 0 1 0 -5.1 0M438.9 486.8a2.2 4.6 0 1 0 4.4 0a2.2 4.6 0 1 0 -4.4 0M362.2 485.3a2.4 5.9 0 1 0 4.8 0a2.4 5.9 0 1 0 -4.8 0M453.5 491.7a3.3 6.8 0 1 0 6.7 0a3.3 6.8 0 1 0 -6.7 0M399.2 486.6a3.6 7 0 1 0 7.1 0a3.6 7 0 1 0 -7.1 0M364.1 490.6a2.4 4.3 0 1 0 4.8 0a2.4 4.3 0 1 0 -4.8 0M371.9 490.5a3.3 5.4 0 1 0 6.6 0a3.3 5.4 0 1 0 -6.6 0M496.1 481.9a2.2 6 0 1 0 4.5 0a2.2 6 0 1 0 -4.5 0M492.6 490a3.3 7.2 0 1 0 6.7 0a3.3 7.2 0 1 0 -6.7 0M407.8 461.7a3.2 6.4 0 1 0 6.4 0a3.2 6.4 0 1 0 -6.4 0M380.2 467.1a3.6 9.7 0 1 0 7.3 0a3.6 9.7 0 1 0 -7.3 0M389.1 465a4.1 8.5 0 1 0 8.2 0a4.1 8.5 0 1 0 -8.2 0M476.2 460.9a3.6 6.2 0 1 0 7.3 0a3.6 6.2 0 1 0 -7.3 0M511.4 443.4a4.1 6.9 0 1 0 8.2 0a4.1 6.9 0 1 0 -8.2 0M472.4 464a2.8 7.2 0 1 0 5.5 0a2.8 7.2 0 1 0 -5.5 0M326 445.6a3.3 7.6 0 1 0 6.7 0a3.3 7.6 0 1 0 -6.7 0M347.8 448.4a2.9 4.9 0 1 0 5.8 0a2.9 4.9 0 1 0 -5.8 0M422.9 458.3a3.5 8.5 0 1 0 7 0a3.5 8.5 0 1 0 -7 0M357.5 435.3a3.6 7.6 0 1 0 7.2 0a3.6 7.6 0 1 0 -7.2 0M308 469.1a3 6.5 0 1 0 6.1 0a3 6.5 0 1 0 -6.1 0M477.5 462.6a3.5 7.4 0 1 0 7 0a3.5 7.4 0 1 0 -7 0M403 436.1a2.8 7.8 0 1 0 5.5 0a2.8 7.8 0 1 0 -5.5 0M420.7 450.4a3.1 7.6 0 1 0 6.3 0a3.1 7.6 0 1 0 -6.3 0M360.2 463.5a3.3 7 0 1 0 6.5 0a3.3 7 0 1 0 -6.5 0M371.4 463a4.1 8.3 0 1 0 8.3 0a4.1 8.3 0 1 0 -8.3 0M389.2 456.8a3.4 7 0 1 0 6.8 0a3.4 7 0 1 0 -6.8 0M494.3 436.7a4 7.2 0 1 0 8 0a4 7.2 0 1 0 -8 0M262.6 382a3 10 0 1 0 6 0a3 10 0 1 0 -6 0"/><path fill="#e1e45a" d="M157.2 383a2.8 14 0 1 0 5.5 0a2.8 14 0 1 0 -5.5 0"/><path fill="#e7bf45" d="M239.7 410.3a2.4 4.9 0 1 0 4.8 0a2.4 4.9 0 1 0 -4.8 0M309.2 423.7a2.5 4.5 0 1 0 5 0a2.5 4.5 0 1 0 -5 0M213.5 437.7a1.9 3.9 0 1 0 3.9 0a1.9 3.9 0 1 0 -3.9 0M247.5 446.3a2 4.5 0 1 0 4 0a2 4.5 0 1 0 -4 0M275.8 438.9a2 4.5 0 1 0 4.1 0a2 4.5 0 1 0 -4.1 0M285.1 424.9a2 4.4 0 1 0 4 0a2 4.4 0 1 0 -4 0M300.7 448.3a2.2 3.8 0 1 0 4.3 0a2.2 3.8 0 1 0 -4.3 0M278.9 484.6a2.6 5.5 0 1 0 5.1 0a2.6 5.5 0 1 0 -5.1 0M237.8 496a3.3 5.6 0 1 0 6.7 0a3.3 5.6 0 1 0 -6.7 0M310 428.3a2.5 3.9 0 1 0 5 0a2.5 3.9 0 1 0 -5 0M331.6 433.2a2.5 4.9 0 1 0 4.9 0a2.5 4.9 0 1 0 -4.9 0M342.4 435.2a1.9 4 0 1 0 3.8 0a1.9 4 0 1 0 -3.8 0M305.4 449.6a2.5 4 0 1 0 4.9 0a2.5 4 0 1 0 -4.9 0M317.5 453.3a1.8 5.1 0 1 0 3.7 0a1.8 5.1 0 1 0 -3.7 0M385.7 486.4a2.4 4.9 0 1 0 4.8 0a2.4 4.9 0 1 0 -4.8 0M433.1 430.7a1.9 4 0 1 0 3.9 0a1.9 4 0 1 0 -3.9 0M444.7 430a2.1 4.2 0 1 0 4.3 0a2.1 4.2 0 1 0 -4.3 0M410.3 423.2a2.4 4.9 0 1 0 4.9 0a2.4 4.9 0 1 0 -4.9 0M187.9 439.6a2.5 4.6 0 1 0 5.1 0a2.5 4.6 0 1 0 -5.1 0M101.5 437.3a2.5 5.1 0 1 0 5.1 0a2.5 5.1 0 1 0 -5.1 0M101.7 516a2.5 5.8 0 1 0 5 0a2.5 5.8 0 1 0 -5 0M116.3 517.1a2.6 6.2 0 1 0 5.1 0a2.6 6.2 0 1 0 -5.1 0M142.6 513.4a2.8 6.2 0 1 0 5.6 0a2.8 6.2 0 1 0 -5.6 0M149.1 513.1a2.4 6.8 0 1 0 4.9 0a2.4 6.8 0 1 0 -4.9 0M153.4 508.4a2.7 6.8 0 1 0 5.4 0a2.7 6.8 0 1 0 -5.4 0M166.8 496.7a2.9 6.1 0 1 0 5.7 0a2.9 6.1 0 1 0 -5.7 0M171.6 495.4a2.4 5.2 0 1 0 4.8 0a2.4 5.2 0 1 0 -4.8 0M178.5 492.2a2.7 6.6 0 1 0 5.4 0a2.7 6.6 0 1 0 -5.4 0M179.9 500.5a3.2 5.2 0 1 0 6.5 0a3.2 5.2 0 1 0 -6.5 0M191.1 501.1a2.4 5.5 0 1 0 4.8 0a2.4 5.5 0 1 0 -4.8 0M199.6 499.4a3 6.7 0 1 0 6.1 0a3 6.7 0 1 0 -6.1 0M103.4 474.5a2.1 5 0 1 0 4.2 0a2.1 5 0 1 0 -4.2 0M123.3 461.9a2.1 3.9 0 1 0 4.2 0a2.1 3.9 0 1 0 -4.2 0M131.4 481.2a2.3 5.2 0 1 0 4.7 0a2.3 5.2 0 1 0 -4.7 0M143.7 468.3a2 5 0 1 0 4.1 0a2 5 0 1 0 -4.1 0M149.3 464.7a2.4 3.8 0 1 0 4.8 0a2.4 3.8 0 1 0 -4.8 0M165.8 452.5a2.4 4.5 0 1 0 4.9 0a2.4 4.5 0 1 0 -4.9 0M172.2 452.7a2.1 4.1 0 1 0 4.1 0a2.1 4.1 0 1 0 -4.1 0M185.1 456.3a2.2 3.9 0 1 0 4.3 0a2.2 3.9 0 1 0 -4.3 0M194.7 456.4a2.1 5.2 0 1 0 4.2 0a2.1 5.2 0 1 0 -4.2 0M194.3 476.5a2.1 5 0 1 0 4.1 0a2.1 5 0 1 0 -4.1 0M200.3 440.9a2.4 4 0 1 0 4.8 0a2.4 4 0 1 0 -4.8 0M226.8 417.7a2.3 4.7 0 1 0 4.5 0a2.3 4.7 0 1 0 -4.5 0M262.8 416.7a2.5 4.7 0 1 0 5 0a2.5 4.7 0 1 0 -5 0M350.3 392.1a2 4.7 0 1 0 4 0a2 4.7 0 1 0 -4 0M343.7 408.9a2.3 4.4 0 1 0 4.7 0a2.3 4.4 0 1 0 -4.7 0M347.8 414a2.4 4.4 0 1 0 4.9 0a2.4 4.4 0 1 0 -4.9 0M360.6 383.2a2.1 4 0 1 0 4.2 0a2.1 4 0 1 0 -4.2 0M323.1 417.1a2.2 3.8 0 1 0 4.3 0a2.2 3.8 0 1 0 -4.3 0M409.6 386.1a2.1 3.9 0 1 0 4.2 0a2.1 3.9 0 1 0 -4.2 0M419 400.3a1.9 4.4 0 1 0 3.8 0a1.9 4.4 0 1 0 -3.8 0M426.4 403.5a2.5 4.9 0 1 0 5 0a2.5 4.9 0 1 0 -5 0M435.7 395a2.1 4.4 0 1 0 4.3 0a2.1 4.4 0 1 0 -4.3 0M449.2 388.4a2.5 5 0 1 0 4.9 0a2.5 5 0 1 0 -4.9 0M449.8 394.5a1.9 4.2 0 1 0 3.8 0a1.9 4.2 0 1 0 -3.8 0M478.9 394.7a2.1 5.2 0 1 0 4.2 0a2.1 5.2 0 1 0 -4.2 0M488.1 405.7a2.2 3.9 0 1 0 4.4 0a2.2 3.9 0 1 0 -4.4 0M500.5 403.1a2.3 4.6 0 1 0 4.6 0a2.3 4.6 0 1 0 -4.6 0M505 405.7a2.1 4.1 0 1 0 4.2 0a2.1 4.1 0 1 0 -4.2 0M514.1 400.6a2.1 5 0 1 0 4.1 0a2.1 5 0 1 0 -4.1 0M517.2 403.6a2.6 4.2 0 1 0 5.1 0a2.6 4.2 0 1 0 -5.1 0M525.5 397a2 4.7 0 1 0 3.9 0a2 4.7 0 1 0 -3.9 0M220.2 426.8a2.2 4.7 0 1 0 4.4 0a2.2 4.7 0 1 0 -4.4 0M227.8 421.4a1.9 4.6 0 1 0 3.8 0a1.9 4.6 0 1 0 -3.8 0M229.1 432.5a2 4.6 0 1 0 3.9 0a2 4.6 0 1 0 -3.9 0M219.5 447.5a2.2 4.6 0 1 0 4.4 0a2.2 4.6 0 1 0 -4.4 0M222 452.8a2.3 4.6 0 1 0 4.7 0a2.3 4.6 0 1 0 -4.7 0M229.6 449.6a2.4 4.2 0 1 0 4.8 0a2.4 4.2 0 1 0 -4.8 0M234 448.2a2.4 4.9 0 1 0 4.8 0a2.4 4.9 0 1 0 -4.8 0M239.6 447.2a2.6 5.2 0 1 0 5.1 0a2.6 5.2 0 1 0 -5.1 0M259.2 433.3a2.5 5 0 1 0 5.1 0a2.5 5 0 1 0 -5.1 0M264.5 422.2a1.9 3.8 0 1 0 3.8 0a1.9 3.8 0 1 0 -3.8 0M266.7 428a2.5 4.7 0 1 0 4.9 0a2.5 4.7 0 1 0 -4.9 0M265.8 441.8a2.4 4.4 0 1 0 4.9 0a2.4 4.4 0 1 0 -4.9 0M279.4 456.9a2.2 4.3 0 1 0 4.3 0a2.2 4.3 0 1 0 -4.3 0M206.3 470.8a2.5 4.8 0 1 0 5.1 0a2.5 4.8 0 1 0 -5.1 0M211.9 484.6a2.5 5.8 0 1 0 5 0a2.5 5.8 0 1 0 -5 0M224.5 496.9a2.7 6.3 0 1 0 5.5 0a2.7 6.3 0 1 0 -5.5 0M227.9 497.1a2.9 5.7 0 1 0 5.7 0a2.9 5.7 0 1 0 -5.7 0M233.9 496.7a3.2 5.7 0 1 0 6.4 0a3.2 5.7 0 1 0 -6.4 0M253.6 486.4a2.9 6.5 0 1 0 5.8 0a2.9 6.5 0 1 0 -5.8 0M258.1 489.5a2.7 4.9 0 1 0 5.4 0a2.7 4.9 0 1 0 -5.4 0M263.1 491.3a3.1 5.8 0 1 0 6.3 0a3.1 5.8 0 1 0 -6.3 0M263.6 495.8a3.1 6.3 0 1 0 6.2 0a3.1 6.3 0 1 0 -6.2 0M273 496a3 5.5 0 1 0 6.1 0a3 5.5 0 1 0 -6.1 0M297.4 483.1a2.6 5.2 0 1 0 5.3 0a2.6 5.2 0 1 0 -5.3 0M363.8 426.2a1.9 3.9 0 1 0 3.8 0a1.9 3.9 0 1 0 -3.8 0M356.1 422.1a2 4.6 0 1 0 4.1 0a2 4.6 0 1 0 -4.1 0M323.7 422.5a2.1 4.7 0 1 0 4.2 0a2.1 4.7 0 1 0 -4.2 0M321.1 485.6a2.9 5.8 0 1 0 5.8 0a2.9 5.8 0 1 0 -5.8 0M336.8 486.1a2.9 6.1 0 1 0 5.8 0a2.9 6.1 0 1 0 -5.8 0M341.5 483.7a2.4 6.2 0 1 0 4.9 0a2.4 6.2 0 1 0 -4.9 0M343.2 493.8a2.9 6.4 0 1 0 5.8 0a2.9 6.4 0 1 0 -5.8 0M351 495.1a3.2 6.2 0 1 0 6.3 0a3.2 6.2 0 1 0 -6.3 0M319.1 495.4a2.6 5.6 0 1 0 5.3 0a2.6 5.6 0 1 0 -5.3 0M304.7 495.9a3.1 6.8 0 1 0 6.2 0a3.1 6.8 0 1 0 -6.2 0M311.1 495.9a2.6 6.6 0 1 0 5.2 0a2.6 6.6 0 1 0 -5.2 0M375.6 482.7a2.5 5.4 0 1 0 5 0a2.5 5.4 0 1 0 -5 0M376.2 494.3a3.3 5.2 0 1 0 6.6 0a3.3 5.2 0 1 0 -6.6 0M385.3 494a3.1 4.9 0 1 0 6.2 0a3.1 4.9 0 1 0 -6.2 0M392.5 475.8a2.6 5.9 0 1 0 5.1 0a2.6 5.9 0 1 0 -5.1 0M392.3 494.9a2.9 6.8 0 1 0 5.9 0a2.9 6.8 0 1 0 -5.9 0M398.1 483.8a3.1 5.8 0 1 0 6.1 0a3.1 5.8 0 1 0 -6.1 0M411.4 487.7a2.8 4.9 0 1 0 5.6 0a2.8 4.9 0 1 0 -5.6 0M421.9 486.8a2.8 6.4 0 1 0 5.7 0a2.8 6.4 0 1 0 -5.7 0M444.4 488a2.5 6.9 0 1 0 5 0a2.5 6.9 0 1 0 -5 0M449.5 490.4a3.3 5.7 0 1 0 6.5 0a3.3 5.7 0 1 0 -6.5 0M477.2 484.6a2.4 6 0 1 0 4.8 0a2.4 6 0 1 0 -4.8 0M504.1 490.3a3 5.7 0 1 0 6.1 0a3 5.7 0 1 0 -6.1 0M509.9 484.1a3.3 5.5 0 1 0 6.6 0a3.3 5.5 0 1 0 -6.6 0M518.2 488.1a3.2 5.8 0 1 0 6.3 0a3.2 5.8 0 1 0 -6.3 0M459.2 490.3a2.4 5.4 0 1 0 4.8 0a2.4 5.4 0 1 0 -4.8 0M488 435.8a2.1 4.6 0 1 0 4.3 0a2.1 4.6 0 1 0 -4.3 0M491.9 451.3a2.4 4.1 0 1 0 4.8 0a2.4 4.1 0 1 0 -4.8 0M498.3 452.1a2.1 4.2 0 1 0 4.1 0a2.1 4.2 0 1 0 -4.1 0M453.1 450.8a2.5 3.9 0 1 0 5.1 0a2.5 3.9 0 1 0 -5.1 0M462.9 462.9a2.8 4.9 0 1 0 5.6 0a2.8 4.9 0 1 0 -5.6 0M465.8 463.4a3.1 5 0 1 0 6.1 0a3.1 5 0 1 0 -6.1 0M430 469.6a2.4 5.9 0 1 0 4.8 0a2.4 5.9 0 1 0 -4.8 0M409.9 487.8a3.9 8.4 0 1 0 7.8 0a3.9 8.4 0 1 0 -7.8 0M443.8 487.5a3.1 6.8 0 1 0 6.3 0a3.1 6.8 0 1 0 -6.3 0M476.5 484.8a3 8.2 0 1 0 6 0a3 8.2 0 1 0 -6 0M503.5 489.4a3.5 7.7 0 1 0 7 0a3.5 7.7 0 1 0 -7 0M342.1 490a3 7.8 0 1 0 6 0a3 7.8 0 1 0 -6 0M286.2 490a3 6.6 0 1 0 6.1 0a3 6.6 0 1 0 -6.1 0M231.4 493.8a3.6 6.7 0 1 0 7.1 0a3.6 6.7 0 1 0 -7.1 0M347.5 484.5a2.7 4.5 0 1 0 5.4 0a2.7 4.5 0 1 0 -5.4 0M471.3 482.5a3 5.7 0 1 0 6 0a3 5.7 0 1 0 -6 0M327.1 482.5a2.1 3.7 0 1 0 4.1 0a2.1 3.7 0 1 0 -4.1 0M321.6 486.4a2.8 5.6 0 1 0 5.6 0a2.8 5.6 0 1 0 -5.6 0M304.7 483.9a2.4 4.5 0 1 0 4.8 0a2.4 4.5 0 1 0 -4.8 0M490.8 486.6a2.3 5.3 0 1 0 4.7 0a2.3 5.3 0 1 0 -4.7 0M393.8 486.8a2.9 5 0 1 0 5.9 0a2.9 5 0 1 0 -5.9 0M308.3 493.8a1.8 4 0 1 0 3.6 0a1.8 4 0 1 0 -3.6 0M483.1 484.9a2.1 5.3 0 1 0 4.3 0a2.1 5.3 0 1 0 -4.3 0M358 481.9a2.3 5 0 1 0 4.6 0a2.3 5 0 1 0 -4.6 0M318.1 490.9a2.5 3.9 0 1 0 5 0a2.5 3.9 0 1 0 -5 0M412.7 489a2 4.6 0 1 0 4 0a2 4.6 0 1 0 -4 0M442 489.4a2.6 5.9 0 1 0 5.2 0a2.6 5.9 0 1 0 -5.2 0M329.2 485a2 3.4 0 1 0 4 0a2 3.4 0 1 0 -4 0M371.7 488.5a1.9 3.7 0 1 0 3.8 0a1.9 3.7 0 1 0 -3.8 0M302.5 490.1a2.3 4.9 0 1 0 4.7 0a2.3 4.9 0 1 0 -4.7 0M396.5 492.6a2.5 4.7 0 1 0 5.1 0a2.5 4.7 0 1 0 -5.1 0M367.9 481.4a2.2 4.8 0 1 0 4.3 0a2.2 4.8 0 1 0 -4.3 0M504.9 493.4a2.6 5.1 0 1 0 5.1 0a2.6 5.1 0 1 0 -5.1 0M519 491.3a2 4.3 0 1 0 3.9 0a2 4.3 0 1 0 -3.9 0M505.7 488.2a2.1 4 0 1 0 4.2 0a2.1 4 0 1 0 -4.2 0M301.9 491.7a2.3 4.9 0 1 0 4.6 0a2.3 4.9 0 1 0 -4.6 0M439.2 487.3a2.1 4.3 0 1 0 4.2 0a2.1 4.3 0 1 0 -4.2 0M362.7 486.2a2.3 5.1 0 1 0 4.5 0a2.3 5.1 0 1 0 -4.5 0M454.3 491.8a2.5 5.1 0 1 0 5 0a2.5 5.1 0 1 0 -5 0M400.1 487.4a2.7 4.5 0 1 0 5.4 0a2.7 4.5 0 1 0 -5.4 0M364.2 491.1a1.7 3.8 0 1 0 3.4 0a1.7 3.8 0 1 0 -3.4 0M372.9 490.3a2.6 4.4 0 1 0 5.2 0a2.6 4.4 0 1 0 -5.2 0M496.4 481.6a1.9 3.9 0 1 0 3.8 0a1.9 3.9 0 1 0 -3.8 0M493.4 490a2.4 4.2 0 1 0 4.8 0a2.4 4.2 0 1 0 -4.8 0M263.1 382a2.5 8 0 1 0 5 0a2.5 8 0 1 0 -5 0"/><path fill="#ef8828" d="M157.6 384a2.4 12.5 0 1 0 4.8 0a2.4 12.5 0 1 0 -4.8 0"/><path fill="#d72a1e" d="M101.7 515.5a2.4 5 0 1 0 4.9 0a2.4 5 0 1 0 -4.9 0M116.5 517.8a2.3 5 0 1 0 4.6 0a2.3 5 0 1 0 -4.6 0M143.5 513.3a2.3 4.6 0 1 0 4.6 0a2.3 4.6 0 1 0 -4.6 0M148.7 512.7a2.8 5 0 1 0 5.5 0a2.8 5 0 1 0 -5.5 0M153.7 507.9a2.3 5.8 0 1 0 4.5 0a2.3 5.8 0 1 0 -4.5 0M167 496.9a2.4 5.7 0 1 0 4.9 0a2.4 5.7 0 1 0 -4.9 0M172.3 495.4a2.1 4.9 0 1 0 4.2 0a2.1 4.9 0 1 0 -4.2 0M179.4 492.4a2.1 4.5 0 1 0 4.2 0a2.1 4.5 0 1 0 -4.2 0M180.7 500.5a2.5 4.6 0 1 0 5.1 0a2.5 4.6 0 1 0 -5.1 0M191.5 500.7a2.3 4.5 0 1 0 4.6 0a2.3 4.5 0 1 0 -4.6 0M199.5 499.8a2.8 4.8 0 1 0 5.6 0a2.8 4.8 0 1 0 -5.6 0M103.9 473.9a1.9 3.5 0 1 0 3.8 0a1.9 3.5 0 1 0 -3.8 0M123.7 462.1a1.6 4.3 0 1 0 3.3 0a1.6 4.3 0 1 0 -3.3 0M132.1 481.6a2.1 4.4 0 1 0 4.2 0a2.1 4.4 0 1 0 -4.2 0M143.3 468.2a2.1 4.3 0 1 0 4.3 0a2.1 4.3 0 1 0 -4.3 0M150.6 465.5a1.6 3.7 0 1 0 3.3 0a1.6 3.7 0 1 0 -3.3 0M165.7 453.3a2.2 3.8 0 1 0 4.3 0a2.2 3.8 0 1 0 -4.3 0M172.4 452.3a1.9 4 0 1 0 3.9 0a1.9 4 0 1 0 -3.9 0M185.4 455.8a1.9 4 0 1 0 3.8 0a1.9 4 0 1 0 -3.8 0M194.5 456.2a2 3.6 0 1 0 3.9 0a2 3.6 0 1 0 -3.9 0M194.5 476.5a1.7 4.3 0 1 0 3.4 0a1.7 4.3 0 1 0 -3.4 0M201 441.4a1.8 4 0 1 0 3.7 0a1.8 4 0 1 0 -3.7 0M227.2 417.6a2.1 3.8 0 1 0 4.1 0a2.1 3.8 0 1 0 -4.1 0M263.1 416.7a2.2 4.5 0 1 0 4.4 0a2.2 4.5 0 1 0 -4.4 0M350.6 391.7a1.7 4.2 0 1 0 3.4 0a1.7 4.2 0 1 0 -3.4 0M344.1 409.2a1.8 4.3 0 1 0 3.5 0a1.8 4.3 0 1 0 -3.5 0M348.3 414.1a2 4.3 0 1 0 4 0a2 4.3 0 1 0 -4 0M360.7 382.8a1.7 4.5 0 1 0 3.5 0a1.7 4.5 0 1 0 -3.5 0M323.4 417.3a1.8 4.2 0 1 0 3.6 0a1.8 4.2 0 1 0 -3.6 0M410.3 385.4a2 3.8 0 1 0 4 0a2 3.8 0 1 0 -4 0M419.1 399.7a1.6 3.3 0 1 0 3.3 0a1.6 3.3 0 1 0 -3.3 0M426.9 403.4a2 4.3 0 1 0 4 0a2 4.3 0 1 0 -4 0M436.2 395.1a2.1 4 0 1 0 4.2 0a2.1 4 0 1 0 -4.2 0M449.9 389.2a1.7 3.8 0 1 0 3.4 0a1.7 3.8 0 1 0 -3.4 0M450.5 394.6a1.8 3.6 0 1 0 3.6 0a1.8 3.6 0 1 0 -3.6 0M478.7 394.3a2.1 3.6 0 1 0 4.1 0a2.1 3.6 0 1 0 -4.1 0M488.4 405.1a2.2 3.6 0 1 0 4.4 0a2.2 3.6 0 1 0 -4.4 0M500.5 402.4a1.9 4.5 0 1 0 3.8 0a1.9 4.5 0 1 0 -3.8 0M505.6 405a1.9 3.4 0 1 0 3.8 0a1.9 3.4 0 1 0 -3.8 0M514 400.3a2.2 3.6 0 1 0 4.3 0a2.2 3.6 0 1 0 -4.3 0M517.9 403.1a1.7 3.9 0 1 0 3.4 0a1.7 3.9 0 1 0 -3.4 0M525.3 397a1.9 4.5 0 1 0 3.8 0a1.9 4.5 0 1 0 -3.8 0M220.5 426.6a2.2 3.2 0 1 0 4.4 0a2.2 3.2 0 1 0 -4.4 0M228.2 421.6a1.8 3.5 0 1 0 3.6 0a1.8 3.5 0 1 0 -3.6 0M229.5 433.3a1.8 4.4 0 1 0 3.7 0a1.8 4.4 0 1 0 -3.7 0M219.9 448.1a1.9 3.9 0 1 0 3.9 0a1.9 3.9 0 1 0 -3.9 0M222.3 452.8a2.1 3.5 0 1 0 4.2 0a2.1 3.5 0 1 0 -4.2 0M230.1 449.5a2.1 4.4 0 1 0 4.2 0a2.1 4.4 0 1 0 -4.2 0M234.7 448.5a2.2 4.4 0 1 0 4.4 0a2.2 4.4 0 1 0 -4.4 0M240.6 447.5a2 3.9 0 1 0 3.9 0a2 3.9 0 1 0 -3.9 0M259.5 434.7a2.1 3.7 0 1 0 4.3 0a2.1 3.7 0 1 0 -4.3 0M264.8 421.8a1.7 4.4 0 1 0 3.4 0a1.7 4.4 0 1 0 -3.4 0M267.2 428.6a2.1 4.4 0 1 0 4.3 0a2.1 4.4 0 1 0 -4.3 0M266.6 441.9a1.7 3.9 0 1 0 3.4 0a1.7 3.9 0 1 0 -3.4 0M279.4 455.6a1.7 4.6 0 1 0 3.4 0a1.7 4.6 0 1 0 -3.4 0M206.8 470.9a1.8 3.5 0 1 0 3.5 0a1.8 3.5 0 1 0 -3.5 0M211.4 483.9a2.7 5.4 0 1 0 5.5 0a2.7 5.4 0 1 0 -5.5 0M224.8 496.5a2.9 4.7 0 1 0 5.8 0a2.9 4.7 0 1 0 -5.8 0M229.1 496.9a2.1 5.4 0 1 0 4.2 0a2.1 5.4 0 1 0 -4.2 0M234.2 496.4a2.8 5.4 0 1 0 5.5 0a2.8 5.4 0 1 0 -5.5 0M253.8 487.2a2.4 5.2 0 1 0 4.8 0a2.4 5.2 0 1 0 -4.8 0M259 488.5a2.4 5.3 0 1 0 4.8 0a2.4 5.3 0 1 0 -4.8 0M264.1 490.8a2.6 5 0 1 0 5.2 0a2.6 5 0 1 0 -5.2 0M264.6 496a2.2 4.6 0 1 0 4.4 0a2.2 4.6 0 1 0 -4.4 0M273.1 496.7a2.6 4.2 0 1 0 5.3 0a2.6 4.2 0 1 0 -5.3 0M298 482.9a2.1 5 0 1 0 4.1 0a2.1 5 0 1 0 -4.1 0M363.6 426.1a1.7 4.2 0 1 0 3.3 0a1.7 4.2 0 1 0 -3.3 0M356.3 421.4a2.1 3.5 0 1 0 4.2 0a2.1 3.5 0 1 0 -4.2 0M323.9 421.5a1.7 4 0 1 0 3.4 0a1.7 4 0 1 0 -3.4 0M321.6 485a2.3 4.9 0 1 0 4.5 0a2.3 4.9 0 1 0 -4.5 0M337 485.7a2.2 5 0 1 0 4.4 0a2.2 5 0 1 0 -4.4 0M341.7 484.6a2.5 4.3 0 1 0 5 0a2.5 4.3 0 1 0 -5 0M343.2 494.5a2.6 5.3 0 1 0 5.2 0a2.6 5.3 0 1 0 -5.2 0M352.1 495.7a2.4 5 0 1 0 4.7 0a2.4 5 0 1 0 -4.7 0M318.7 495.4a2.8 5 0 1 0 5.5 0a2.8 5 0 1 0 -5.5 0M305.5 495.4a2.2 4.8 0 1 0 4.4 0a2.2 4.8 0 1 0 -4.4 0M311.3 495.7a2.2 5.7 0 1 0 4.5 0a2.2 5.7 0 1 0 -4.5 0M375.2 483.1a2.5 4.7 0 1 0 5.1 0a2.5 4.7 0 1 0 -5.1 0M377.6 494.6a2.2 5.7 0 1 0 4.5 0a2.2 5.7 0 1 0 -4.5 0M385.6 494.3a2.7 4.7 0 1 0 5.3 0a2.7 4.7 0 1 0 -5.3 0M393.1 475.5a2.6 4.8 0 1 0 5.2 0a2.6 4.8 0 1 0 -5.2 0M393.1 495.7a2.5 5 0 1 0 4.9 0a2.5 5 0 1 0 -4.9 0M399 484.6a2.4 5.1 0 1 0 4.8 0a2.4 5.1 0 1 0 -4.8 0M411.2 488a2.8 5.6 0 1 0 5.6 0a2.8 5.6 0 1 0 -5.6 0M422.6 486.6a2.3 5.6 0 1 0 4.7 0a2.3 5.6 0 1 0 -4.7 0M443.6 486.8a2.8 5.4 0 1 0 5.5 0a2.8 5.4 0 1 0 -5.5 0M450.4 490a2.2 4.8 0 1 0 4.5 0a2.2 4.8 0 1 0 -4.5 0M477.3 485.6a2 5 0 1 0 4.1 0a2 5 0 1 0 -4.1 0M504.8 489.7a2.3 5.7 0 1 0 4.6 0a2.3 5.7 0 1 0 -4.6 0M510.2 484.6a2.6 4.5 0 1 0 5.1 0a2.6 4.5 0 1 0 -5.1 0M518.2 487a2.7 5.6 0 1 0 5.4 0a2.7 5.6 0 1 0 -5.4 0M459.1 490.4a2.7 4.4 0 1 0 5.4 0a2.7 4.4 0 1 0 -5.4 0M488.2 436.7a2 3.6 0 1 0 4 0a2 3.6 0 1 0 -4 0M492.4 451.7a1.8 4.5 0 1 0 3.5 0a1.8 4.5 0 1 0 -3.5 0M498.2 451.9a2 4 0 1 0 4 0a2 4 0 1 0 -4 0M454.1 450.2a2.2 4.1 0 1 0 4.3 0a2.2 4.1 0 1 0 -4.3 0M463.2 463.1a2.4 5.8 0 1 0 4.8 0a2.4 5.8 0 1 0 -4.8 0M466.4 463.2a2.4 5.4 0 1 0 4.9 0a2.4 5.4 0 1 0 -4.9 0M430.4 468.4a2.4 4.8 0 1 0 4.9 0a2.4 4.8 0 1 0 -4.9 0M411.1 487.6a2.8 6 0 1 0 5.6 0a2.8 6 0 1 0 -5.6 0M444 487.8a3.1 6.3 0 1 0 6.1 0a3.1 6.3 0 1 0 -6.1 0M476.2 484.6a3.1 5.3 0 1 0 6.2 0a3.1 5.3 0 1 0 -6.2 0M504 490.1a3 6.6 0 1 0 6.1 0a3 6.6 0 1 0 -6.1 0M342 489.7a2.9 6 0 1 0 5.8 0a2.9 6 0 1 0 -5.8 0M285.4 490.5a3.2 6.4 0 1 0 6.5 0a3.2 6.4 0 1 0 -6.5 0M231.8 493.8a3.2 6.3 0 1 0 6.5 0a3.2 6.3 0 1 0 -6.5 0M348.2 484.7a2 4.4 0 1 0 4.1 0a2 4.4 0 1 0 -4.1 0M472 481.7a2.3 4.5 0 1 0 4.6 0a2.3 4.5 0 1 0 -4.6 0M327.8 482.1a1.5 3.5 0 1 0 3 0a1.5 3.5 0 1 0 -3 0M321.9 486.5a2 3.8 0 1 0 3.9 0a2 3.8 0 1 0 -3.9 0M305.9 484.8a1.6 3.5 0 1 0 3.2 0a1.6 3.5 0 1 0 -3.2 0M491.5 486.2a1.8 4.9 0 1 0 3.6 0a1.8 4.9 0 1 0 -3.6 0M394.3 486.8a2.4 4.8 0 1 0 4.8 0a2.4 4.8 0 1 0 -4.8 0M308.2 493.8a1.8 4 0 1 0 3.6 0a1.8 4 0 1 0 -3.6 0M483.4 486a1.8 3.9 0 1 0 3.6 0a1.8 3.9 0 1 0 -3.6 0M358.4 481.3a2 4.2 0 1 0 3.9 0a2 4.2 0 1 0 -3.9 0M318.3 490.7a2.3 3.6 0 1 0 4.5 0a2.3 3.6 0 1 0 -4.5 0M412.1 488a1.9 3.3 0 1 0 3.9 0a1.9 3.3 0 1 0 -3.9 0M442.8 489.8a2 4.3 0 1 0 4 0a2 4.3 0 1 0 -4 0M330.2 485.5a1.3 3.6 0 1 0 2.6 0a1.3 3.6 0 1 0 -2.6 0M371.9 488a1.9 4 0 1 0 3.7 0a1.9 4 0 1 0 -3.7 0M302.1 490.5a2.3 3.9 0 1 0 4.6 0a2.3 3.9 0 1 0 -4.6 0M397 492.1a1.8 4.9 0 1 0 3.7 0a1.8 4.9 0 1 0 -3.7 0M368.3 481.5a1.5 3.7 0 1 0 2.9 0a1.5 3.7 0 1 0 -2.9 0M505.5 494.1a1.9 3.9 0 1 0 3.9 0a1.9 3.9 0 1 0 -3.9 0M519.7 491.4a1.9 3.7 0 1 0 3.8 0a1.9 3.7 0 1 0 -3.8 0M506.2 487.6a1.7 3 0 1 0 3.4 0a1.7 3 0 1 0 -3.4 0M301.8 492.1a2.3 4.9 0 1 0 4.7 0a2.3 4.9 0 1 0 -4.7 0M439 486.5a1.8 3.1 0 1 0 3.5 0a1.8 3.1 0 1 0 -3.5 0M363.4 485.5a1.6 3.3 0 1 0 3.2 0a1.6 3.3 0 1 0 -3.2 0M455.2 492.4a1.9 4.3 0 1 0 3.8 0a1.9 4.3 0 1 0 -3.8 0M400.2 487.2a2.2 4 0 1 0 4.5 0a2.2 4 0 1 0 -4.5 0M364.8 490a1.5 2.8 0 1 0 2.9 0a1.5 2.8 0 1 0 -2.9 0M373.5 491.3a1.9 3.9 0 1 0 3.7 0a1.9 3.9 0 1 0 -3.7 0M496.9 481.5a1.7 3.4 0 1 0 3.3 0a1.7 3.4 0 1 0 -3.3 0M494.4 490.7a1.8 4.1 0 1 0 3.6 0a1.8 4.1 0 1 0 -3.6 0M263.5 382a2.1 7 0 1 0 4.2 0a2.1 7 0 1 0 -4.2 0M157.9 384a2.1 11.5 0 1 0 4.2 0a2.1 11.5 0 1 0 -4.2 0"/><path d="M308.8,328 L322,343" stroke="#50c8dc" stroke-width="4" opacity="0.8"/></g>
</g>
<rect x="447" y="505.5" width="82.6" height="20.8" fill="#fff" stroke="#ddd" stroke-width="0.6"/>
<rect x="460.9" y="511" width="56.7" height="5" fill="url(#lg)"/>
<g font-family="Liberation Serif, serif" font-size="6" fill="#222"><text x="462" y="524" text-anchor="middle">0</text><text x="482" y="524" text-anchor="middle">20000</text><text x="506" y="524" text-anchor="middle">40000</text></g>
<rect x="45" y="627.5" width="484" height="5" fill="#fff" stroke="#9a9a9a" stroke-width="0.8"/>
<g clip-path="url(#cc)">
<rect x="45.6" y="631.5" width="486.1" height="200.4" fill="#342a88"/>
<path d="M45.6,694.8H528.6M45.6,728.5H528.6M45.6,763.2H528.6M45.6,795.7H528.6" stroke="#231e64" stroke-width="0.8" opacity="0.7"/>
<polygon points="360,760 420,720 470,705 531,690 531,808 360,808" fill="#3c78aa" fill-opacity="0.6" filter="url(#b8)"/>
<g filter="url(#b06)"><path fill="#3c76d4" fill-opacity="0.8" d="M346.7 783a1.4 5.2 0 1 0 2.8 0a1.4 5.2 0 1 0 -2.8 0M198.2 782.3a.9 5.8 0 1 0 1.9 0a.9 5.8 0 1 0 -1.9 0M465.7 717.8a.9 4.6 0 1 0 1.8 0a.9 4.6 0 1 0 -1.8 0M181.8 798.3a1.1 3.8 0 1 0 2.2 0a1.1 3.8 0 1 0 -2.2 0M493.1 724.9a1.3 4.9 0 1 0 2.5 0a1.3 4.9 0 1 0 -2.5 0M323.4 756.6a1.3 5 0 1 0 2.6 0a1.3 5 0 1 0 -2.6 0M218.3 802.6a.9 4 0 1 0 1.8 0a.9 4 0 1 0 -1.8 0M521.3 782.1a1.2 3.9 0 1 0 2.4 0a1.2 3.9 0 1 0 -2.4 0M439.2 694.9a1.2 4.3 0 1 0 2.4 0a1.2 4.3 0 1 0 -2.4 0M492.9 765.2a1.2 5.3 0 1 0 2.3 0a1.2 5.3 0 1 0 -2.3 0M495.3 707.7a1.3 4.8 0 1 0 2.6 0a1.3 4.8 0 1 0 -2.6 0M442 707.6a.8 4.5 0 1 0 1.5 0a.8 4.5 0 1 0 -1.5 0M333 798.4a.9 4 0 1 0 1.8 0a.9 4 0 1 0 -1.8 0M111.4 789.8a.8 5.3 0 1 0 1.5 0a.8 5.3 0 1 0 -1.5 0M444.9 747a.8 3.9 0 1 0 1.5 0a.8 3.9 0 1 0 -1.5 0M290.1 784.8a.9 4.2 0 1 0 1.7 0a.9 4.2 0 1 0 -1.7 0M450.9 694.4a1.1 2.9 0 1 0 2.2 0a1.1 2.9 0 1 0 -2.2 0M412 746.1a1.4 4.4 0 1 0 2.8 0a1.4 4.4 0 1 0 -2.8 0M327.4 781.1a.9 4.4 0 1 0 1.8 0a.9 4.4 0 1 0 -1.8 0M469 764.3a1.4 5.2 0 1 0 2.9 0a1.4 5.2 0 1 0 -2.9 0M49.8 799.5a1.3 5.1 0 1 0 2.6 0a1.3 5.1 0 1 0 -2.6 0M524.5 723.6a.9 5.2 0 1 0 1.8 0a.9 5.2 0 1 0 -1.8 0M360.5 713.2a1.1 4.7 0 1 0 2.2 0a1.1 4.7 0 1 0 -2.2 0M383.6 801.4a1.4 2.7 0 1 0 2.7 0a1.4 2.7 0 1 0 -2.7 0M251.8 804a1 5.2 0 1 0 2 0a1 5.2 0 1 0 -2 0M479.3 733.9a.8 5.4 0 1 0 1.7 0a.8 5.4 0 1 0 -1.7 0M499.3 761.1a.9 4.3 0 1 0 1.8 0a.9 4.3 0 1 0 -1.8 0M362.7 797.4a1.3 3.8 0 1 0 2.6 0a1.3 3.8 0 1 0 -2.6 0M203.5 766.2a1.3 3.6 0 1 0 2.6 0a1.3 3.6 0 1 0 -2.6 0M521.9 707.3a1.3 5 0 1 0 2.7 0a1.3 5 0 1 0 -2.7 0M214.5 757.2a1 3 0 1 0 2.1 0a1 3 0 1 0 -2.1 0M360.4 791.5a1.2 4.7 0 1 0 2.5 0a1.2 4.7 0 1 0 -2.5 0M502.5 770.3a.9 5.3 0 1 0 1.8 0a.9 5.3 0 1 0 -1.8 0M517.7 713.2a1.3 5.7 0 1 0 2.6 0a1.3 5.7 0 1 0 -2.6 0M343.7 786.2a.8 4 0 1 0 1.7 0a.8 4 0 1 0 -1.7 0M469.3 789.3a1 2.9 0 1 0 2 0a1 2.9 0 1 0 -2 0M434.5 732a1.3 3 0 1 0 2.6 0a1.3 3 0 1 0 -2.6 0M332.8 745.5a1.2 4.7 0 1 0 2.4 0a1.2 4.7 0 1 0 -2.4 0M281.6 801.1a1.3 5 0 1 0 2.6 0a1.3 5 0 1 0 -2.6 0M163.4 797.2a1.1 3.4 0 1 0 2.2 0a1.1 3.4 0 1 0 -2.2 0M475.5 774.5a.8 5.9 0 1 0 1.5 0a.8 5.9 0 1 0 -1.5 0M355.3 788.9a1.1 4.4 0 1 0 2.3 0a1.1 4.4 0 1 0 -2.3 0M365.6 771.6a1.4 4.3 0 1 0 2.8 0a1.4 4.3 0 1 0 -2.8 0M432.7 795.6a.9 3.1 0 1 0 1.8 0a.9 3.1 0 1 0 -1.8 0M346.7 723a1.3 2.9 0 1 0 2.6 0a1.3 2.9 0 1 0 -2.6 0M356.4 781.9a1 3.8 0 1 0 2 0a1 3.8 0 1 0 -2 0M402.2 747.8a.8 4.1 0 1 0 1.5 0a.8 4.1 0 1 0 -1.5 0M334.3 802.7a1.2 3 0 1 0 2.3 0a1.2 3 0 1 0 -2.3 0M375.6 790a1.4 3.5 0 1 0 2.7 0a1.4 3.5 0 1 0 -2.7 0M463.6 723a1.2 2.6 0 1 0 2.4 0a1.2 2.6 0 1 0 -2.4 0M499.8 699.5a1.3 2.7 0 1 0 2.6 0a1.3 2.7 0 1 0 -2.6 0M519.8 725.1a1 5.6 0 1 0 2 0a1 5.6 0 1 0 -2 0M296 750.2a1.4 4.3 0 1 0 2.9 0a1.4 4.3 0 1 0 -2.9 0M328 742.8a.9 2.6 0 1 0 1.7 0a.9 2.6 0 1 0 -1.7 0M454.3 785.8a.8 3.5 0 1 0 1.7 0a.8 3.5 0 1 0 -1.7 0M388.2 714.9a1.2 3.1 0 1 0 2.4 0a1.2 3.1 0 1 0 -2.4 0M432.5 737.1a.9 3.8 0 1 0 1.8 0a.9 3.8 0 1 0 -1.8 0M409.6 754.9a1.4 2.7 0 1 0 2.9 0a1.4 2.7 0 1 0 -2.9 0M456.8 743.9a1.5 5.8 0 1 0 3 0a1.5 5.8 0 1 0 -3 0M407.7 724.7a1.2 5.3 0 1 0 2.5 0a1.2 5.3 0 1 0 -2.5 0"/><path fill="#428bd9" d="M117.9 713a1 4 0 1 0 2 0a1 4 0 1 0 -2 0"/><path fill="#4596dc" fill-opacity="0.8" d="M214.7 808.6a1.3 4.4 0 1 0 2.5 0a1.3 4.4 0 1 0 -2.5 0M275.4 781.4a.8 2.9 0 1 0 1.5 0a.8 2.9 0 1 0 -1.5 0M366.3 713a1.5 5 0 1 0 3 0a1.5 5 0 1 0 -3 0M136.4 783.4a.8 5.9 0 1 0 1.6 0a.8 5.9 0 1 0 -1.6 0M473 790a1.1 3.6 0 1 0 2.1 0a1.1 3.6 0 1 0 -2.1 0M328.5 791.2a1 4.6 0 1 0 1.9 0a1 4.6 0 1 0 -1.9 0M187.1 802.4a1.4 3.1 0 1 0 2.8 0a1.4 3.1 0 1 0 -2.8 0M434.8 772.6a1 5.3 0 1 0 2 0a1 5.3 0 1 0 -2 0M477.1 802.2a.9 5.8 0 1 0 1.9 0a.9 5.8 0 1 0 -1.9 0M511.8 796.1a1.1 5.8 0 1 0 2.2 0a1.1 5.8 0 1 0 -2.2 0M211.5 758.7a1.2 3.5 0 1 0 2.4 0a1.2 3.5 0 1 0 -2.4 0M509.2 786.3a.8 3.3 0 1 0 1.6 0a.8 3.3 0 1 0 -1.6 0M479.7 790.6a1 2.9 0 1 0 1.9 0a1 2.9 0 1 0 -1.9 0M482.6 725a.8 2.7 0 1 0 1.5 0a.8 2.7 0 1 0 -1.5 0M324.6 764.9a1.3 4.6 0 1 0 2.6 0a1.3 4.6 0 1 0 -2.6 0M298.9 769.3a1.5 4.9 0 1 0 2.9 0a1.5 4.9 0 1 0 -2.9 0M450.5 723.2a.9 4 0 1 0 1.8 0a.9 4 0 1 0 -1.8 0M508.8 690a1 2.9 0 1 0 2 0a1 2.9 0 1 0 -2 0M169.4 787.7a.9 3.2 0 1 0 1.7 0a.9 3.2 0 1 0 -1.7 0M382 778.8a1.1 3.3 0 1 0 2.2 0a1.1 3.3 0 1 0 -2.2 0M524.6 697.6a1.3 3.2 0 1 0 2.5 0a1.3 3.2 0 1 0 -2.5 0M452.3 731.1a1.3 4 0 1 0 2.6 0a1.3 4 0 1 0 -2.6 0M421.3 749a1.2 4.6 0 1 0 2.5 0a1.2 4.6 0 1 0 -2.5 0M494.8 789.7a.8 4.3 0 1 0 1.6 0a.8 4.3 0 1 0 -1.6 0M476 746.5a1.4 4.5 0 1 0 2.8 0a1.4 4.5 0 1 0 -2.8 0M426.4 741.5a.9 4.1 0 1 0 1.8 0a.9 4.1 0 1 0 -1.8 0M410.9 794.9a1.4 3.5 0 1 0 2.9 0a1.4 3.5 0 1 0 -2.9 0M491.4 721.6a1 5.5 0 1 0 2.1 0a1 5.5 0 1 0 -2.1 0M458.5 743.8a.9 4.7 0 1 0 1.9 0a.9 4.7 0 1 0 -1.9 0M87.3 803.1a1 4.6 0 1 0 2 0a1 4.6 0 1 0 -2 0M55.4 799.5a1.1 5.6 0 1 0 2.2 0a1.1 5.6 0 1 0 -2.2 0M497.5 788.6a1.3 3.9 0 1 0 2.6 0a1.3 3.9 0 1 0 -2.6 0M271.3 801a1.5 5.3 0 1 0 3 0a1.5 5.3 0 1 0 -3 0M268 771a1.2 3.6 0 1 0 2.4 0a1.2 3.6 0 1 0 -2.4 0M421 724.9a.9 3.1 0 1 0 1.8 0a.9 3.1 0 1 0 -1.8 0M432.8 763.7a.8 5.9 0 1 0 1.7 0a.8 5.9 0 1 0 -1.7 0M177.4 810.6a1.1 4.4 0 1 0 2.2 0a1.1 4.4 0 1 0 -2.2 0M127 817.1a1.4 3.1 0 1 0 2.8 0a1.4 3.1 0 1 0 -2.8 0M438.1 723.8a.9 3.8 0 1 0 1.7 0a.9 3.8 0 1 0 -1.7 0M415.8 784.7a1.4 5.9 0 1 0 2.7 0a1.4 5.9 0 1 0 -2.7 0M417.9 741a1 3.3 0 1 0 2 0a1 3.3 0 1 0 -2 0M411.8 721.9a1.4 4 0 1 0 2.8 0a1.4 4 0 1 0 -2.8 0M64.2 820.1a1 2.8 0 1 0 1.9 0a1 2.8 0 1 0 -1.9 0M426.5 752.9a.8 3.5 0 1 0 1.7 0a.8 3.5 0 1 0 -1.7 0M479.4 698.6a.9 5.2 0 1 0 1.7 0a.9 5.2 0 1 0 -1.7 0M52.8 825a1.4 4.4 0 1 0 2.9 0a1.4 4.4 0 1 0 -2.9 0M319.6 789.2a1.1 5.6 0 1 0 2.1 0a1.1 5.6 0 1 0 -2.1 0M352.9 790.3a.8 3.6 0 1 0 1.6 0a.8 3.6 0 1 0 -1.6 0M488.9 715.6a1.1 4.7 0 1 0 2.2 0a1.1 4.7 0 1 0 -2.2 0M526.3 777.2a1.4 5.6 0 1 0 2.8 0a1.4 5.6 0 1 0 -2.8 0M385 745.3a1.2 4 0 1 0 2.3 0a1.2 4 0 1 0 -2.3 0M315.5 780.4a1.5 4.9 0 1 0 2.9 0a1.5 4.9 0 1 0 -2.9 0M305.6 743.9a1.4 5.6 0 1 0 2.7 0a1.4 5.6 0 1 0 -2.7 0M449.3 802.1a.8 3.5 0 1 0 1.7 0a.8 3.5 0 1 0 -1.7 0M174.4 779.8a.9 5.6 0 1 0 1.9 0a.9 5.6 0 1 0 -1.9 0M240.8 793.3a.9 3.7 0 1 0 1.9 0a.9 3.7 0 1 0 -1.9 0M348.6 768.4a1 4.7 0 1 0 2.1 0a1 4.7 0 1 0 -2.1 0M267 800.4a.9 5.4 0 1 0 1.9 0a.9 5.4 0 1 0 -1.9 0M343.1 726.8a1.3 5.3 0 1 0 2.7 0a1.3 5.3 0 1 0 -2.7 0M401.2 749.2a.8 5.8 0 1 0 1.6 0a.8 5.8 0 1 0 -1.6 0M419.9 723.5a1.4 6 0 1 0 2.8 0a1.4 6 0 1 0 -2.8 0M428.4 703.1a.8 4.5 0 1 0 1.6 0a.8 4.5 0 1 0 -1.6 0M352.1 805a1.1 5.9 0 1 0 2.1 0a1.1 5.9 0 1 0 -2.1 0"/><path fill="#48a1df" fill-opacity="0.8" d="M143 671a1.3 5.5 0 1 0 2.6 0a1.3 5.5 0 1 0 -2.6 0M143.7 697a1.3 5.5 0 1 0 2.6 0a1.3 5.5 0 1 0 -2.6 0M150.5 689a1.3 5.5 0 1 0 2.6 0a1.3 5.5 0 1 0 -2.6 0M117.6 713a1.3 5.5 0 1 0 2.6 0a1.3 5.5 0 1 0 -2.6 0M181.7 696a1.3 5.5 0 1 0 2.6 0a1.3 5.5 0 1 0 -2.6 0M172.7 705a1.3 5.5 0 1 0 2.6 0a1.3 5.5 0 1 0 -2.6 0M195.5 712a1.3 5.5 0 1 0 2.6 0a1.3 5.5 0 1 0 -2.6 0M222.3 721a1.3 5.5 0 1 0 2.6 0a1.3 5.5 0 1 0 -2.6 0M247.7 691a1.3 5.5 0 1 0 2.6 0a1.3 5.5 0 1 0 -2.6 0M275.1 674a1.3 5.5 0 1 0 2.6 0a1.3 5.5 0 1 0 -2.6 0M245.5 725.5a1.3 5.5 0 1 0 2.6 0a1.3 5.5 0 1 0 -2.6 0M270.5 721a1.3 5.5 0 1 0 2.6 0a1.3 5.5 0 1 0 -2.6 0M90.3 745a1.3 5.5 0 1 0 2.6 0a1.3 5.5 0 1 0 -2.6 0M110.7 775.7a1.3 5.5 0 1 0 2.6 0a1.3 5.5 0 1 0 -2.6 0M118.7 788a1.3 5.5 0 1 0 2.6 0a1.3 5.5 0 1 0 -2.6 0M134.7 777a1.3 5.5 0 1 0 2.6 0a1.3 5.5 0 1 0 -2.6 0M130.1 780a1.3 5.5 0 1 0 2.6 0a1.3 5.5 0 1 0 -2.6 0M150.5 767.8a1.3 5.5 0 1 0 2.6 0a1.3 5.5 0 1 0 -2.6 0M157.3 759.8a1.3 5.5 0 1 0 2.6 0a1.3 5.5 0 1 0 -2.6 0M134.7 794a1.3 5.5 0 1 0 2.6 0a1.3 5.5 0 1 0 -2.6 0M92.6 825.7a1.3 5.5 0 1 0 2.6 0a1.3 5.5 0 1 0 -2.6 0M103.7 824.6a1.3 5.5 0 1 0 2.6 0a1.3 5.5 0 1 0 -2.6 0M130.1 822a1.3 5.5 0 1 0 2.6 0a1.3 5.5 0 1 0 -2.6 0M141.4 820a1.3 5.5 0 1 0 2.6 0a1.3 5.5 0 1 0 -2.6 0"/><path fill="#4babe1" fill-opacity="0.8" d="M469.5 759.2a1.5 4.9 0 1 0 2.9 0a1.5 4.9 0 1 0 -2.9 0M520.7 746a1.2 5.3 0 1 0 2.4 0a1.2 5.3 0 1 0 -2.4 0M347.5 731.8a1.2 2.6 0 1 0 2.4 0a1.2 2.6 0 1 0 -2.4 0M209.5 786.2a1.1 5.3 0 1 0 2.1 0a1.1 5.3 0 1 0 -2.1 0M357.7 801.7a1.5 5 0 1 0 3 0a1.5 5 0 1 0 -3 0M324.2 783.8a.8 2.8 0 1 0 1.5 0a.8 2.8 0 1 0 -1.5 0M363 798a1.3 3 0 1 0 2.5 0a1.3 3 0 1 0 -2.5 0M369.5 737.9a.8 5 0 1 0 1.6 0a.8 5 0 1 0 -1.6 0M69.6 786.4a1.3 4.7 0 1 0 2.5 0a1.3 4.7 0 1 0 -2.5 0M255.4 769.2a1.1 5.9 0 1 0 2.3 0a1.1 5.9 0 1 0 -2.3 0M317.8 772a1.1 3.6 0 1 0 2.2 0a1.1 3.6 0 1 0 -2.2 0M270.7 732.6a1.3 4.2 0 1 0 2.5 0a1.3 4.2 0 1 0 -2.5 0M260.1 800.3a.9 4.4 0 1 0 1.9 0a.9 4.4 0 1 0 -1.9 0M312.5 792.6a1.1 2.7 0 1 0 2.2 0a1.1 2.7 0 1 0 -2.2 0M385.3 764.9a1.2 4.5 0 1 0 2.4 0a1.2 4.5 0 1 0 -2.4 0M251.3 783a.9 5.7 0 1 0 1.8 0a.9 5.7 0 1 0 -1.8 0M481.5 749.5a1.1 5.2 0 1 0 2.1 0a1.1 5.2 0 1 0 -2.1 0M351.7 792.1a.8 5.9 0 1 0 1.6 0a.8 5.9 0 1 0 -1.6 0M520.5 689.5a1.4 3.6 0 1 0 2.9 0a1.4 3.6 0 1 0 -2.9 0M438.3 751.7a1 5.5 0 1 0 2 0a1 5.5 0 1 0 -2 0M304.1 798.2a.9 2.5 0 1 0 1.8 0a.9 2.5 0 1 0 -1.8 0M440.7 762.4a.8 3 0 1 0 1.5 0a.8 3 0 1 0 -1.5 0M193.2 775a1.4 2.5 0 1 0 2.8 0a1.4 2.5 0 1 0 -2.8 0M453.3 704.9a.8 4.6 0 1 0 1.7 0a.8 4.6 0 1 0 -1.7 0M253.8 796.2a1.4 5 0 1 0 2.9 0a1.4 5 0 1 0 -2.9 0M174.2 783.5a1.3 5.8 0 1 0 2.6 0a1.3 5.8 0 1 0 -2.6 0M340.6 780.7a1.2 4.2 0 1 0 2.4 0a1.2 4.2 0 1 0 -2.4 0M332.4 738.4a1.2 3 0 1 0 2.4 0a1.2 3 0 1 0 -2.4 0M309.5 757.9a1 5.6 0 1 0 2.1 0a1 5.6 0 1 0 -2.1 0M423.2 721.7a1.2 3.4 0 1 0 2.3 0a1.2 3.4 0 1 0 -2.3 0M446.2 734.3a1 3.7 0 1 0 1.9 0a1 3.7 0 1 0 -1.9 0M354.6 780a1.1 4.3 0 1 0 2.1 0a1.1 4.3 0 1 0 -2.1 0M525.8 793a.8 5 0 1 0 1.6 0a.8 5 0 1 0 -1.6 0M272.7 806.4a.8 5.5 0 1 0 1.5 0a.8 5.5 0 1 0 -1.5 0M236.8 759.3a1.1 4.8 0 1 0 2.3 0a1.1 4.8 0 1 0 -2.3 0M443.6 714a1.3 5.2 0 1 0 2.7 0a1.3 5.2 0 1 0 -2.7 0M324.9 788.1a.9 5.7 0 1 0 1.8 0a.9 5.7 0 1 0 -1.8 0M507.4 779.1a1.5 5.2 0 1 0 3 0a1.5 5.2 0 1 0 -3 0M389.4 781.6a1.5 4.9 0 1 0 2.9 0a1.5 4.9 0 1 0 -2.9 0M317.5 779.7a1.2 4 0 1 0 2.5 0a1.2 4 0 1 0 -2.5 0M235.4 808.9a.9 4.1 0 1 0 1.8 0a.9 4.1 0 1 0 -1.8 0M189.4 797.1a1.4 3.7 0 1 0 2.9 0a1.4 3.7 0 1 0 -2.9 0M437.8 789.3a1.2 5.8 0 1 0 2.5 0a1.2 5.8 0 1 0 -2.5 0M421.2 759.6a.9 3.8 0 1 0 1.8 0a.9 3.8 0 1 0 -1.8 0M317.7 732.8a.9 5.5 0 1 0 1.8 0a.9 5.5 0 1 0 -1.8 0M483.1 713a1.2 2.7 0 1 0 2.4 0a1.2 2.7 0 1 0 -2.4 0M437.7 742.7a1.4 3.3 0 1 0 2.7 0a1.4 3.3 0 1 0 -2.7 0M488.1 721.8a1.4 5.8 0 1 0 2.8 0a1.4 5.8 0 1 0 -2.8 0M128 805.6a1.1 3.9 0 1 0 2.2 0a1.1 3.9 0 1 0 -2.2 0M429.9 743.5a.8 3.9 0 1 0 1.7 0a.8 3.9 0 1 0 -1.7 0M300.6 792.9a1 4.6 0 1 0 2 0a1 4.6 0 1 0 -2 0M387.8 712a1.5 3.7 0 1 0 2.9 0a1.5 3.7 0 1 0 -2.9 0M500.3 801a.8 4 0 1 0 1.6 0a.8 4 0 1 0 -1.6 0M348.2 763.9a.9 3.4 0 1 0 1.8 0a.9 3.4 0 1 0 -1.8 0M486.9 746.4a1.3 3.8 0 1 0 2.6 0a1.3 3.8 0 1 0 -2.6 0M434.2 694.2a.8 3.2 0 1 0 1.7 0a.8 3.2 0 1 0 -1.7 0M500.3 797.6a1.5 5 0 1 0 2.9 0a1.5 5 0 1 0 -2.9 0M449.8 786.4a1.2 5.4 0 1 0 2.4 0a1.2 5.4 0 1 0 -2.4 0M304 765.9a1.2 3.6 0 1 0 2.3 0a1.2 3.6 0 1 0 -2.3 0M331.1 777.4a.9 4.8 0 1 0 1.8 0a.9 4.8 0 1 0 -1.8 0"/><path fill="#51badc" fill-opacity="0.8" d="M467.2 710.1a1.5 3.1 0 1 0 2.9 0a1.5 3.1 0 1 0 -2.9 0M67.8 792.4a.8 3.4 0 1 0 1.7 0a.8 3.4 0 1 0 -1.7 0M229.2 785.3a1.3 3.8 0 1 0 2.6 0a1.3 3.8 0 1 0 -2.6 0M333.6 768.5a1.5 4.6 0 1 0 3 0a1.5 4.6 0 1 0 -3 0M365.2 802.3a1 5.2 0 1 0 1.9 0a1 5.2 0 1 0 -1.9 0M167.7 787.3a.8 5.2 0 1 0 1.5 0a.8 5.2 0 1 0 -1.5 0M434.2 701.2a.8 2.9 0 1 0 1.6 0a.8 2.9 0 1 0 -1.6 0M351.3 761a.9 4.4 0 1 0 1.9 0a.9 4.4 0 1 0 -1.9 0M506.4 762.6a1.3 2.8 0 1 0 2.6 0a1.3 2.8 0 1 0 -2.6 0M487.2 741a.9 4.7 0 1 0 1.7 0a.9 4.7 0 1 0 -1.7 0M420.8 715.9a1.5 4.8 0 1 0 2.9 0a1.5 4.8 0 1 0 -2.9 0M378.8 795a1.2 3 0 1 0 2.3 0a1.2 3 0 1 0 -2.3 0M273.8 785.7a1 4.2 0 1 0 1.9 0a1 4.2 0 1 0 -1.9 0M392.7 795.2a1.3 5.1 0 1 0 2.7 0a1.3 5.1 0 1 0 -2.7 0M221 785.3a1 2.8 0 1 0 1.9 0a1 2.8 0 1 0 -1.9 0M509 790.1a1.1 2.8 0 1 0 2.2 0a1.1 2.8 0 1 0 -2.2 0M351.7 784.9a1.2 4.5 0 1 0 2.5 0a1.2 4.5 0 1 0 -2.5 0M249.7 808.3a1 3.2 0 1 0 2.1 0a1 3.2 0 1 0 -2.1 0M159.7 781.4a.8 3.8 0 1 0 1.6 0a.8 3.8 0 1 0 -1.6 0M143 817.1a1.2 3.9 0 1 0 2.5 0a1.2 3.9 0 1 0 -2.5 0M347.6 791.5a.8 5.6 0 1 0 1.5 0a.8 5.6 0 1 0 -1.5 0M125.6 817.7a.9 3.9 0 1 0 1.8 0a.9 3.9 0 1 0 -1.8 0M348.5 753.9a1 2.9 0 1 0 2 0a1 2.9 0 1 0 -2 0M388.9 775.7a1.2 5.2 0 1 0 2.3 0a1.2 5.2 0 1 0 -2.3 0M525.8 685.3a1.2 4.3 0 1 0 2.5 0a1.2 4.3 0 1 0 -2.5 0M339.7 805.1a.8 3.5 0 1 0 1.6 0a.8 3.5 0 1 0 -1.6 0M372.5 796.9a1.2 5.1 0 1 0 2.5 0a1.2 5.1 0 1 0 -2.5 0M300.1 786.7a1.2 4.5 0 1 0 2.4 0a1.2 4.5 0 1 0 -2.4 0M330.2 805.7a1.2 5.6 0 1 0 2.4 0a1.2 5.6 0 1 0 -2.4 0M162.8 783.8a.8 4.8 0 1 0 1.6 0a.8 4.8 0 1 0 -1.6 0M456.3 750.3a1.2 5.5 0 1 0 2.4 0a1.2 5.5 0 1 0 -2.4 0M514.9 746.9a.9 3.2 0 1 0 1.9 0a.9 3.2 0 1 0 -1.9 0M460 797.5a1.2 5.5 0 1 0 2.5 0a1.2 5.5 0 1 0 -2.5 0M412.1 738a1.3 4 0 1 0 2.6 0a1.3 4 0 1 0 -2.6 0M473.6 714.9a.9 5.7 0 1 0 1.8 0a.9 5.7 0 1 0 -1.8 0M475.2 725a1.3 5 0 1 0 2.6 0a1.3 5 0 1 0 -2.6 0M340.5 784.4a1.4 4.4 0 1 0 2.8 0a1.4 4.4 0 1 0 -2.8 0M438 749.3a1.3 5.3 0 1 0 2.6 0a1.3 5.3 0 1 0 -2.6 0M501.9 778.9a1.1 2.6 0 1 0 2.2 0a1.1 2.6 0 1 0 -2.2 0M397.4 768.4a.8 4.4 0 1 0 1.6 0a.8 4.4 0 1 0 -1.6 0M469.7 709.5a.9 5.9 0 1 0 1.8 0a.9 5.9 0 1 0 -1.8 0M271.6 772.9a.9 2.6 0 1 0 1.8 0a.9 2.6 0 1 0 -1.8 0M133.5 807.8a1.4 5.2 0 1 0 2.8 0a1.4 5.2 0 1 0 -2.8 0M454.3 751.9a.9 3.2 0 1 0 1.9 0a.9 3.2 0 1 0 -1.9 0M94.1 815.6a.9 5.1 0 1 0 1.8 0a.9 5.1 0 1 0 -1.8 0M355.6 775.9a.9 5.9 0 1 0 1.8 0a.9 5.9 0 1 0 -1.8 0M507.7 685.8a1.1 4.4 0 1 0 2.2 0a1.1 4.4 0 1 0 -2.2 0M409.7 759.4a.9 5.3 0 1 0 1.8 0a.9 5.3 0 1 0 -1.8 0M442 719.5a1.4 4.6 0 1 0 2.9 0a1.4 4.6 0 1 0 -2.9 0M431.4 720.3a.9 2.5 0 1 0 1.8 0a.9 2.5 0 1 0 -1.8 0M464.4 774.1a1.3 3 0 1 0 2.7 0a1.3 3 0 1 0 -2.7 0"/><path fill="#51badc" d="M143.3 671a1 4 0 1 0 2 0a1 4 0 1 0 -2 0M150.8 689a1 4 0 1 0 2 0a1 4 0 1 0 -2 0M182 696a1 4 0 1 0 2 0a1 4 0 1 0 -2 0M173 705a1 4 0 1 0 2 0a1 4 0 1 0 -2 0M248 691a1 4 0 1 0 2 0a1 4 0 1 0 -2 0M275.4 674a1 4 0 1 0 2 0a1 4 0 1 0 -2 0"/><path fill="#54bed4" d="M222.6 721a1 4 0 1 0 2 0a1 4 0 1 0 -2 0M270.8 721a1 4 0 1 0 2 0a1 4 0 1 0 -2 0M135 794a1 4 0 1 0 2 0a1 4 0 1 0 -2 0"/><path fill="#56c2cc" fill-opacity="0.8" d="M514 789.5a.8 4 0 1 0 1.5 0a.8 4 0 1 0 -1.5 0M431.9 763.3a1.5 3.1 0 1 0 3 0a1.5 3.1 0 1 0 -3 0M512.9 745.1a.8 4.4 0 1 0 1.6 0a.8 4.4 0 1 0 -1.6 0M503.6 715.4a.9 2.6 0 1 0 1.7 0a.9 2.6 0 1 0 -1.7 0M446.1 692.2a.9 4.2 0 1 0 1.9 0a.9 4.2 0 1 0 -1.9 0M62.9 805.2a1 4.6 0 1 0 1.9 0a1 4.6 0 1 0 -1.9 0M275.6 784.3a1.1 5.2 0 1 0 2.2 0a1.1 5.2 0 1 0 -2.2 0M307.2 725.4a1.4 5.3 0 1 0 2.7 0a1.4 5.3 0 1 0 -2.7 0M409.6 758.3a1.2 5.2 0 1 0 2.5 0a1.2 5.2 0 1 0 -2.5 0M412.9 774.6a1.5 2.6 0 1 0 3 0a1.5 2.6 0 1 0 -3 0M301.4 799.8a1.1 2.8 0 1 0 2.1 0a1.1 2.8 0 1 0 -2.1 0M425.2 776.5a.9 2.6 0 1 0 1.9 0a.9 2.6 0 1 0 -1.9 0M231.5 786.7a.8 5.5 0 1 0 1.6 0a.8 5.5 0 1 0 -1.6 0M472.7 721.3a1.3 3.9 0 1 0 2.6 0a1.3 3.9 0 1 0 -2.6 0M467 693a.8 2.6 0 1 0 1.6 0a.8 2.6 0 1 0 -1.6 0M432 764.3a1 5.1 0 1 0 1.9 0a1 5.1 0 1 0 -1.9 0M453.4 789.5a1.2 2.7 0 1 0 2.4 0a1.2 2.7 0 1 0 -2.4 0M94.1 799.1a1.4 3.2 0 1 0 2.9 0a1.4 3.2 0 1 0 -2.9 0M265.7 792a1.3 5.5 0 1 0 2.6 0a1.3 5.5 0 1 0 -2.6 0M444.2 717.2a.8 4.3 0 1 0 1.7 0a.8 4.3 0 1 0 -1.7 0M200.3 804a1.2 5.2 0 1 0 2.4 0a1.2 5.2 0 1 0 -2.4 0M89 795.1a1.1 3.1 0 1 0 2.1 0a1.1 3.1 0 1 0 -2.1 0M496.4 752.7a1 4.1 0 1 0 2 0a1 4.1 0 1 0 -2 0M174.8 772.7a1.1 4.9 0 1 0 2.2 0a1.1 4.9 0 1 0 -2.2 0M332.2 736.7a.8 3.3 0 1 0 1.6 0a.8 3.3 0 1 0 -1.6 0M428.4 721a1.3 5.8 0 1 0 2.7 0a1.3 5.8 0 1 0 -2.7 0M221.4 809.1a.8 4 0 1 0 1.6 0a.8 4 0 1 0 -1.6 0M504.5 736.6a1.1 2.8 0 1 0 2.3 0a1.1 2.8 0 1 0 -2.3 0M336.9 746.6a.8 5.8 0 1 0 1.7 0a.8 5.8 0 1 0 -1.7 0M446.1 754a.9 5.9 0 1 0 1.8 0a.9 5.9 0 1 0 -1.8 0M345.4 727.7a1.3 5.1 0 1 0 2.6 0a1.3 5.1 0 1 0 -2.6 0M217.6 777.3a1.3 5.8 0 1 0 2.6 0a1.3 5.8 0 1 0 -2.6 0M451.8 705.3a1.5 4.9 0 1 0 2.9 0a1.5 4.9 0 1 0 -2.9 0M372.5 787.5a1.1 4.8 0 1 0 2.1 0a1.1 4.8 0 1 0 -2.1 0M314.7 794.4a.8 5.5 0 1 0 1.6 0a.8 5.5 0 1 0 -1.6 0M202.6 781.2a1.3 4.3 0 1 0 2.5 0a1.3 4.3 0 1 0 -2.5 0M303.3 765.8a1 4.7 0 1 0 2 0a1 4.7 0 1 0 -2 0M319.1 806.6a1.5 5 0 1 0 2.9 0a1.5 5 0 1 0 -2.9 0M521.8 744.4a1 4.4 0 1 0 1.9 0a1 4.4 0 1 0 -1.9 0M392.4 711.1a1.4 5.1 0 1 0 2.9 0a1.4 5.1 0 1 0 -2.9 0M477.3 768.2a1.1 2.7 0 1 0 2.3 0a1.1 2.7 0 1 0 -2.3 0M451.3 780.6a1.4 5.3 0 1 0 2.9 0a1.4 5.3 0 1 0 -2.9 0M379.4 765.7a1.5 4.1 0 1 0 3 0a1.5 4.1 0 1 0 -3 0M356.9 789.5a1.5 4.5 0 1 0 2.9 0a1.5 4.5 0 1 0 -2.9 0M437.5 746.7a1.5 5.9 0 1 0 2.9 0a1.5 5.9 0 1 0 -2.9 0M424.8 795.1a.8 3.4 0 1 0 1.5 0a.8 3.4 0 1 0 -1.5 0M446.4 760.4a1.4 5.1 0 1 0 2.8 0a1.4 5.1 0 1 0 -2.8 0M247.8 801.8a.8 5.3 0 1 0 1.6 0a.8 5.3 0 1 0 -1.6 0M375.3 794.2a.9 3.6 0 1 0 1.7 0a.9 3.6 0 1 0 -1.7 0M58.8 810.1a1 3 0 1 0 2 0a1 3 0 1 0 -2 0M521.7 694.5a.8 4.1 0 1 0 1.5 0a.8 4.1 0 1 0 -1.5 0M258.1 801.3a.8 5.4 0 1 0 1.6 0a.8 5.4 0 1 0 -1.6 0M319.4 736.6a1.1 5.5 0 1 0 2.2 0a1.1 5.5 0 1 0 -2.2 0"/><path fill="#59c5c4" fill-opacity="0.8" d="M498.9 710.7a1 4.6 0 1 0 2 0a1 4.6 0 1 0 -2 0M442 743.6a1.4 3.4 0 1 0 2.8 0a1.4 3.4 0 1 0 -2.8 0M269.1 778a1.4 2.6 0 1 0 2.8 0a1.4 2.6 0 1 0 -2.8 0M503.6 687.9a1.1 3.8 0 1 0 2.3 0a1.1 3.8 0 1 0 -2.3 0M127 798.5a1.1 3.5 0 1 0 2.2 0a1.1 3.5 0 1 0 -2.2 0M392 801a1.2 4.5 0 1 0 2.5 0a1.2 4.5 0 1 0 -2.5 0M370.7 754.1a1 4.8 0 1 0 2 0a1 4.8 0 1 0 -2 0M402.4 787.3a1.4 3.1 0 1 0 2.9 0a1.4 3.1 0 1 0 -2.9 0M465 738.9a1.5 4.3 0 1 0 2.9 0a1.5 4.3 0 1 0 -2.9 0M125.1 806.4a1.2 4 0 1 0 2.3 0a1.2 4 0 1 0 -2.3 0M402.5 720.2a.8 4.8 0 1 0 1.6 0a.8 4.8 0 1 0 -1.6 0M435 741.5a1.1 4.6 0 1 0 2.3 0a1.1 4.6 0 1 0 -2.3 0M499.8 760.7a.8 4.1 0 1 0 1.5 0a.8 4.1 0 1 0 -1.5 0M66.3 807.2a1.5 5 0 1 0 2.9 0a1.5 5 0 1 0 -2.9 0M295.2 788.6a1 3.4 0 1 0 2 0a1 3.4 0 1 0 -2 0M481.2 792.7a1 2.9 0 1 0 2.1 0a1 2.9 0 1 0 -2.1 0M379.1 761.8a.9 2.9 0 1 0 1.9 0a.9 2.9 0 1 0 -1.9 0M390.2 706.2a1.3 3.2 0 1 0 2.6 0a1.3 3.2 0 1 0 -2.6 0M529.7 770.6a.9 5.2 0 1 0 1.7 0a.9 5.2 0 1 0 -1.7 0M263.1 783.8a1.2 3.5 0 1 0 2.4 0a1.2 3.5 0 1 0 -2.4 0M474.4 728.6a.9 3.5 0 1 0 1.9 0a.9 3.5 0 1 0 -1.9 0M362.7 800.7a1.5 3.2 0 1 0 2.9 0a1.5 3.2 0 1 0 -2.9 0M126.9 797.6a1.4 3 0 1 0 2.9 0a1.4 3 0 1 0 -2.9 0M394.3 716.1a1.2 4.2 0 1 0 2.4 0a1.2 4.2 0 1 0 -2.4 0M159.3 769.1a1.1 3.6 0 1 0 2.2 0a1.1 3.6 0 1 0 -2.2 0M311.4 803.9a1.3 5.6 0 1 0 2.6 0a1.3 5.6 0 1 0 -2.6 0M281.3 758.4a1.3 4.2 0 1 0 2.6 0a1.3 4.2 0 1 0 -2.6 0M434.4 743.6a1.2 4.4 0 1 0 2.4 0a1.2 4.4 0 1 0 -2.4 0M144 814.4a1.3 3.3 0 1 0 2.7 0a1.3 3.3 0 1 0 -2.7 0M527.4 768.5a1.3 3.4 0 1 0 2.7 0a1.3 3.4 0 1 0 -2.7 0M116.4 809.7a1 5.8 0 1 0 2.1 0a1 5.8 0 1 0 -2.1 0M281 795.9a1.1 3.7 0 1 0 2.3 0a1.1 3.7 0 1 0 -2.3 0M451.7 787a.9 4.1 0 1 0 1.7 0a.9 4.1 0 1 0 -1.7 0M446 721.4a1 2.9 0 1 0 2 0a1 2.9 0 1 0 -2 0M302.6 779.5a1.3 5.9 0 1 0 2.6 0a1.3 5.9 0 1 0 -2.6 0M284.6 767.9a.8 5.9 0 1 0 1.6 0a.8 5.9 0 1 0 -1.6 0M495.7 705.9a1.5 2.7 0 1 0 2.9 0a1.5 2.7 0 1 0 -2.9 0M467.3 703.2a.9 2.7 0 1 0 1.9 0a.9 2.7 0 1 0 -1.9 0M380.1 804a1 5.6 0 1 0 1.9 0a1 5.6 0 1 0 -1.9 0M303.6 802.3a1 5.6 0 1 0 2 0a1 5.6 0 1 0 -2 0M284.5 734.1a.9 5.3 0 1 0 1.8 0a.9 5.3 0 1 0 -1.8 0M172.5 772.6a.9 4 0 1 0 1.8 0a.9 4 0 1 0 -1.8 0M419.6 734.6a1.4 3 0 1 0 2.8 0a1.4 3 0 1 0 -2.8 0M465 706.5a1.2 2.5 0 1 0 2.4 0a1.2 2.5 0 1 0 -2.4 0M371.6 804.4a1.2 4 0 1 0 2.5 0a1.2 4 0 1 0 -2.5 0M173.8 798.3a.9 2.7 0 1 0 1.8 0a.9 2.7 0 1 0 -1.8 0M64 789.1a.9 5.3 0 1 0 1.7 0a.9 5.3 0 1 0 -1.7 0M272.6 805.7a1 5.6 0 1 0 2.1 0a1 5.6 0 1 0 -2.1 0M397.3 749.2a1 5.7 0 1 0 2.1 0a1 5.7 0 1 0 -2.1 0M429.1 715.7a1.3 4.1 0 1 0 2.6 0a1.3 4.1 0 1 0 -2.6 0M406.9 787.6a1.3 3.7 0 1 0 2.5 0a1.3 3.7 0 1 0 -2.5 0M503.6 681a.8 5.7 0 1 0 1.6 0a.8 5.7 0 1 0 -1.6 0M492.9 777.2a1 5.9 0 1 0 2.1 0a1 5.9 0 1 0 -2.1 0M77.6 798.4a1.1 4.2 0 1 0 2.3 0a1.1 4.2 0 1 0 -2.3 0M221.8 754.4a.9 4.3 0 1 0 1.8 0a.9 4.3 0 1 0 -1.8 0M402.8 792.4a1.5 5.8 0 1 0 2.9 0a1.5 5.8 0 1 0 -2.9 0M394.3 723.3a1.2 5.1 0 1 0 2.5 0a1.2 5.1 0 1 0 -2.5 0M384 769.6a.8 5.8 0 1 0 1.6 0a.8 5.8 0 1 0 -1.6 0"/><path fill="#59c5c4" fill-opacity="0.9" d="M266.3 806.1a1.3 2 0 1 0 2.7 0a1.3 2 0 1 0 -2.7 0M316.3 808.2a.9 2.7 0 1 0 1.8 0a.9 2.7 0 1 0 -1.8 0M303.2 807.7a1.4 1.7 0 1 0 2.9 0a1.4 1.7 0 1 0 -2.9 0M355.8 800.5a.9 3 0 1 0 1.8 0a.9 3 0 1 0 -1.8 0M441.4 805.1a1.4 1.9 0 1 0 2.9 0a1.4 1.9 0 1 0 -2.9 0M432.9 803a1 1.6 0 1 0 2 0a1 1.6 0 1 0 -2 0M326.8 799.8a.8 1.8 0 1 0 1.7 0a.8 1.8 0 1 0 -1.7 0M294.8 805.2a1.2 1.6 0 1 0 2.4 0a1.2 1.6 0 1 0 -2.4 0M369.2 803.8a1.1 1.7 0 1 0 2.2 0a1.1 1.7 0 1 0 -2.2 0M462.2 795.8a1.1 2.2 0 1 0 2.1 0a1.1 2.2 0 1 0 -2.1 0M282.9 807.2a1.3 2.3 0 1 0 2.6 0a1.3 2.3 0 1 0 -2.6 0M444.9 802.5a1.3 2.3 0 1 0 2.6 0a1.3 2.3 0 1 0 -2.6 0M130.8 813.1a.8 2.9 0 1 0 1.6 0a.8 2.9 0 1 0 -1.6 0M226.9 806.4a1.4 2.8 0 1 0 2.7 0a1.4 2.8 0 1 0 -2.7 0M301.6 799.9a.8 2.4 0 1 0 1.6 0a.8 2.4 0 1 0 -1.6 0M147.6 812.9a1.4 1.8 0 1 0 2.8 0a1.4 1.8 0 1 0 -2.8 0M440.2 805a1.2 2.7 0 1 0 2.5 0a1.2 2.7 0 1 0 -2.5 0M525.2 803.3a1.2 1.7 0 1 0 2.3 0a1.2 1.7 0 1 0 -2.3 0M170.3 808a1.4 2.3 0 1 0 2.8 0a1.4 2.3 0 1 0 -2.8 0M498.3 803a1.1 2.2 0 1 0 2.2 0a1.1 2.2 0 1 0 -2.2 0M132.6 816a1.2 3 0 1 0 2.4 0a1.2 3 0 1 0 -2.4 0M360.5 805.1a1.2 1.7 0 1 0 2.5 0a1.2 1.7 0 1 0 -2.5 0"/><path fill="#5fcdb4" fill-opacity="0.8" d="M505.6 721.5a.8 5.3 0 1 0 1.5 0a.8 5.3 0 1 0 -1.5 0M370.4 749.7a1 4.4 0 1 0 2 0a1 4.4 0 1 0 -2 0M113.2 805.5a1.1 5.9 0 1 0 2.1 0a1.1 5.9 0 1 0 -2.1 0M283.8 766.8a1.5 5.7 0 1 0 2.9 0a1.5 5.7 0 1 0 -2.9 0M323.2 783.7a.8 2.6 0 1 0 1.6 0a.8 2.6 0 1 0 -1.6 0M476.5 757.8a1 4.1 0 1 0 2 0a1 4.1 0 1 0 -2 0M323.3 776a1.4 5 0 1 0 2.9 0a1.4 5 0 1 0 -2.9 0M350.5 727.8a1.3 2.9 0 1 0 2.7 0a1.3 2.9 0 1 0 -2.7 0M333.8 727.9a1.3 3.2 0 1 0 2.5 0a1.3 3.2 0 1 0 -2.5 0M250.6 808.1a.9 4.8 0 1 0 1.8 0a.9 4.8 0 1 0 -1.8 0M348.8 773.6a1.1 4 0 1 0 2.1 0a1.1 4 0 1 0 -2.1 0M476.6 723a.8 2.9 0 1 0 1.5 0a.8 2.9 0 1 0 -1.5 0M91.2 801.8a1.4 3.4 0 1 0 2.8 0a1.4 3.4 0 1 0 -2.8 0M395.3 786.1a1.4 3.8 0 1 0 2.9 0a1.4 3.8 0 1 0 -2.9 0M387.4 706.2a.9 5 0 1 0 1.8 0a.9 5 0 1 0 -1.8 0M327.3 769.8a1.5 3.6 0 1 0 3 0a1.5 3.6 0 1 0 -3 0M91 812.3a.8 4 0 1 0 1.7 0a.8 4 0 1 0 -1.7 0M362.4 774.3a1.1 3.5 0 1 0 2.2 0a1.1 3.5 0 1 0 -2.2 0M312.4 805.2a.8 5.6 0 1 0 1.6 0a.8 5.6 0 1 0 -1.6 0M489.4 777.9a1.4 5.6 0 1 0 2.7 0a1.4 5.6 0 1 0 -2.7 0M263.5 783.9a1.5 2.9 0 1 0 2.9 0a1.5 2.9 0 1 0 -2.9 0M528.1 745.1a1.4 4.7 0 1 0 2.8 0a1.4 4.7 0 1 0 -2.8 0M522.2 673a1 3.2 0 1 0 2 0a1 3.2 0 1 0 -2 0M487 749a1.2 2.8 0 1 0 2.5 0a1.2 2.8 0 1 0 -2.5 0M162.9 796a1.1 3.4 0 1 0 2.2 0a1.1 3.4 0 1 0 -2.2 0M365.1 737.9a1.1 4.3 0 1 0 2.2 0a1.1 4.3 0 1 0 -2.2 0M514 744.7a.8 5.6 0 1 0 1.6 0a.8 5.6 0 1 0 -1.6 0M425.9 788.2a1.1 3.8 0 1 0 2.3 0a1.1 3.8 0 1 0 -2.3 0M342.7 759.4a1.5 3.8 0 1 0 3 0a1.5 3.8 0 1 0 -3 0M442.3 745.2a.8 5 0 1 0 1.7 0a.8 5 0 1 0 -1.7 0M477.2 794.1a1.3 3.7 0 1 0 2.6 0a1.3 3.7 0 1 0 -2.6 0M366.6 757.1a1.5 5.8 0 1 0 3 0a1.5 5.8 0 1 0 -3 0M76.6 810.5a.8 5.6 0 1 0 1.7 0a.8 5.6 0 1 0 -1.7 0M187.7 810.3a1.2 5.9 0 1 0 2.4 0a1.2 5.9 0 1 0 -2.4 0M469 803.2a1.3 3.7 0 1 0 2.7 0a1.3 3.7 0 1 0 -2.7 0M440.2 785.6a1.1 3.7 0 1 0 2.2 0a1.1 3.7 0 1 0 -2.2 0M223.1 776.1a1.3 4.9 0 1 0 2.7 0a1.3 4.9 0 1 0 -2.7 0M295 791.4a1 2.6 0 1 0 2 0a1 2.6 0 1 0 -2 0M343.8 786.1a1.5 4.1 0 1 0 3 0a1.5 4.1 0 1 0 -3 0M290.6 794.8a.8 4.2 0 1 0 1.6 0a.8 4.2 0 1 0 -1.6 0M329.8 799.7a.9 5.2 0 1 0 1.8 0a.9 5.2 0 1 0 -1.8 0M229.9 794.2a1.3 4.4 0 1 0 2.7 0a1.3 4.4 0 1 0 -2.7 0M495.1 745.2a1.3 4.8 0 1 0 2.5 0a1.3 4.8 0 1 0 -2.5 0M246.4 771.6a.8 5.3 0 1 0 1.5 0a.8 5.3 0 1 0 -1.5 0M518.5 719.6a.8 3.3 0 1 0 1.6 0a.8 3.3 0 1 0 -1.6 0M512.3 710.2a1.5 5.2 0 1 0 2.9 0a1.5 5.2 0 1 0 -2.9 0M143.1 782.9a.8 3.8 0 1 0 1.5 0a.8 3.8 0 1 0 -1.5 0M276.1 743.5a1.2 4.5 0 1 0 2.3 0a1.2 4.5 0 1 0 -2.3 0M52.8 788.1a1.3 5.7 0 1 0 2.7 0a1.3 5.7 0 1 0 -2.7 0M485.6 694.6a.8 3.8 0 1 0 1.7 0a.8 3.8 0 1 0 -1.7 0M369.9 781.2a1 6 0 1 0 2.1 0a1 6 0 1 0 -2.1 0M465.2 772.7a1 2.9 0 1 0 2 0a1 2.9 0 1 0 -2 0M275.4 776.6a1.3 5.6 0 1 0 2.5 0a1.3 5.6 0 1 0 -2.5 0M455.6 750.6a1.3 5.5 0 1 0 2.6 0a1.3 5.5 0 1 0 -2.6 0"/><path fill="#5fcdb4" d="M195.8 712a1 4 0 1 0 2 0a1 4 0 1 0 -2 0M90.6 745a1 4 0 1 0 2 0a1 4 0 1 0 -2 0"/><path fill="#66cb8c" fill-opacity="0.9" d="M210.3 810.7a1.3 2.6 0 1 0 2.5 0a1.3 2.6 0 1 0 -2.5 0M154.9 812.1a1.4 2.9 0 1 0 2.9 0a1.4 2.9 0 1 0 -2.9 0M271.1 806a1 2.3 0 1 0 2 0a1 2.3 0 1 0 -2 0M238.8 806.9a1.3 2.8 0 1 0 2.6 0a1.3 2.8 0 1 0 -2.6 0M405.8 797.8a1.2 1.6 0 1 0 2.3 0a1.2 1.6 0 1 0 -2.3 0M105.3 817.5a1.2 2.7 0 1 0 2.3 0a1.2 2.7 0 1 0 -2.3 0M128.5 817.4a1.2 2.3 0 1 0 2.3 0a1.2 2.3 0 1 0 -2.3 0M102.1 817.7a.8 1.8 0 1 0 1.5 0a.8 1.8 0 1 0 -1.5 0M361.5 804.8a.9 1.8 0 1 0 1.7 0a.9 1.8 0 1 0 -1.7 0M376.3 803.4a1.4 2.2 0 1 0 2.8 0a1.4 2.2 0 1 0 -2.8 0M428.2 801.8a1.1 1.7 0 1 0 2.3 0a1.1 1.7 0 1 0 -2.3 0M381.3 800.1a1.1 2.8 0 1 0 2.2 0a1.1 2.8 0 1 0 -2.2 0M310.4 806.9a1.1 2.8 0 1 0 2.1 0a1.1 2.8 0 1 0 -2.1 0M313.3 803.9a1 2.8 0 1 0 2 0a1 2.8 0 1 0 -2 0M241.2 805.2a1.2 2.7 0 1 0 2.4 0a1.2 2.7 0 1 0 -2.4 0M500.8 800.8a.8 2.7 0 1 0 1.6 0a.8 2.7 0 1 0 -1.6 0"/><path fill="#6aca79" fill-opacity="0.8" d="M414.7 706.3a.8 2.5 0 1 0 1.7 0a.8 2.5 0 1 0 -1.7 0M241.6 757.5a1.2 3 0 1 0 2.5 0a1.2 3 0 1 0 -2.5 0M519.8 755.8a1 3.2 0 1 0 2 0a1 3.2 0 1 0 -2 0M454.3 722.6a1.4 4.7 0 1 0 2.9 0a1.4 4.7 0 1 0 -2.9 0M524 797.8a1.4 3.1 0 1 0 2.8 0a1.4 3.1 0 1 0 -2.8 0M316.3 778a.9 5.9 0 1 0 1.9 0a.9 5.9 0 1 0 -1.9 0M301.8 737.1a1 2.8 0 1 0 1.9 0a1 2.8 0 1 0 -1.9 0M334 741.7a.9 2.6 0 1 0 1.9 0a.9 2.6 0 1 0 -1.9 0M252.1 779.5a1.4 5.4 0 1 0 2.8 0a1.4 5.4 0 1 0 -2.8 0M466.6 788.3a.9 3.4 0 1 0 1.7 0a.9 3.4 0 1 0 -1.7 0M273.5 784.6a1 2.7 0 1 0 2.1 0a1 2.7 0 1 0 -2.1 0M287.6 771.5a1.5 5.4 0 1 0 3 0a1.5 5.4 0 1 0 -3 0M271.6 761.7a1.4 2.5 0 1 0 2.8 0a1.4 2.5 0 1 0 -2.8 0M223 795.8a1.3 5.4 0 1 0 2.6 0a1.3 5.4 0 1 0 -2.6 0M517.4 730.5a1.1 5.8 0 1 0 2.3 0a1.1 5.8 0 1 0 -2.3 0M335.1 792.7a1.1 2.7 0 1 0 2.3 0a1.1 2.7 0 1 0 -2.3 0M352.4 785.1a.8 4.9 0 1 0 1.6 0a.8 4.9 0 1 0 -1.6 0M358.9 782.5a1.5 4.6 0 1 0 2.9 0a1.5 4.6 0 1 0 -2.9 0M455.1 748a1.2 4.7 0 1 0 2.4 0a1.2 4.7 0 1 0 -2.4 0M497.6 796.6a1 3.1 0 1 0 2.1 0a1 3.1 0 1 0 -2.1 0M169.8 787.3a.8 4.5 0 1 0 1.7 0a.8 4.5 0 1 0 -1.7 0M181.8 804.6a1 5.1 0 1 0 2 0a1 5.1 0 1 0 -2 0M476.1 791.5a1.1 4.3 0 1 0 2.2 0a1.1 4.3 0 1 0 -2.2 0M316.6 791.9a1.3 3.2 0 1 0 2.6 0a1.3 3.2 0 1 0 -2.6 0M455.5 708.8a1.5 5.5 0 1 0 3 0a1.5 5.5 0 1 0 -3 0M528.5 687.4a1 3.1 0 1 0 2 0a1 3.1 0 1 0 -2 0M387 778.7a.9 4 0 1 0 1.8 0a.9 4 0 1 0 -1.8 0M193.1 770.2a1.4 4.8 0 1 0 2.7 0a1.4 4.8 0 1 0 -2.7 0M372.5 770.9a1.5 6 0 1 0 2.9 0a1.5 6 0 1 0 -2.9 0M495.7 681a.9 4.4 0 1 0 1.8 0a.9 4.4 0 1 0 -1.8 0M368.1 779.2a1.5 2.7 0 1 0 2.9 0a1.5 2.7 0 1 0 -2.9 0M395.2 781.4a1.1 4.2 0 1 0 2.2 0a1.1 4.2 0 1 0 -2.2 0M368.8 764.5a.9 4 0 1 0 1.9 0a.9 4 0 1 0 -1.9 0M425.9 707.2a1 3 0 1 0 2 0a1 3 0 1 0 -2 0M344.5 753.5a1 3.3 0 1 0 2 0a1 3.3 0 1 0 -2 0M479.2 791.6a1.2 5.5 0 1 0 2.4 0a1.2 5.5 0 1 0 -2.4 0M289.1 766.6a.9 3.9 0 1 0 1.8 0a.9 3.9 0 1 0 -1.8 0M528.2 723a1 3.4 0 1 0 2 0a1 3.4 0 1 0 -2 0M205 810.7a1.2 5.2 0 1 0 2.4 0a1.2 5.2 0 1 0 -2.4 0M413.1 721.7a1.3 3.5 0 1 0 2.5 0a1.3 3.5 0 1 0 -2.5 0M377.9 772a1.1 3.3 0 1 0 2.1 0a1.1 3.3 0 1 0 -2.1 0M415.9 773.9a1 3.3 0 1 0 2 0a1 3.3 0 1 0 -2 0M524.7 774.4a.9 4.9 0 1 0 1.8 0a.9 4.9 0 1 0 -1.8 0M415.1 781.6a1.1 4.2 0 1 0 2.1 0a1.1 4.2 0 1 0 -2.1 0M336.8 791a.9 5.3 0 1 0 1.9 0a.9 5.3 0 1 0 -1.9 0M89.8 788.7a1.4 3.3 0 1 0 2.9 0a1.4 3.3 0 1 0 -2.9 0M198 797.7a1.3 2.7 0 1 0 2.7 0a1.3 2.7 0 1 0 -2.7 0M193.2 807.3a.8 3.8 0 1 0 1.6 0a.8 3.8 0 1 0 -1.6 0M444.6 734.8a1.3 5.9 0 1 0 2.5 0a1.3 5.9 0 1 0 -2.5 0M421 704.6a1.2 4.6 0 1 0 2.3 0a1.2 4.6 0 1 0 -2.3 0M508.4 720.8a1 3.5 0 1 0 2 0a1 3.5 0 1 0 -2 0M321.6 735.4a.9 3.8 0 1 0 1.8 0a.9 3.8 0 1 0 -1.8 0M456.5 753.7a1 3.8 0 1 0 2 0a1 3.8 0 1 0 -2 0M528.9 693.6a1 3.7 0 1 0 2 0a1 3.7 0 1 0 -2 0M408.2 760.8a1 3.7 0 1 0 2.1 0a1 3.7 0 1 0 -2.1 0M291.8 780.2a.8 5 0 1 0 1.5 0a.8 5 0 1 0 -1.5 0M277.5 768.5a1.5 5.4 0 1 0 3 0a1.5 5.4 0 1 0 -3 0M388.5 771.1a1.3 2.6 0 1 0 2.7 0a1.3 2.6 0 1 0 -2.7 0M463.6 697.7a1.4 4.6 0 1 0 2.7 0a1.4 4.6 0 1 0 -2.7 0M368.3 761.4a1.2 4.4 0 1 0 2.4 0a1.2 4.4 0 1 0 -2.4 0"/><path fill="#6dc965" d="M111 775.7a1 4 0 1 0 2 0a1 4 0 1 0 -2 0M119 788a1 4 0 1 0 2 0a1 4 0 1 0 -2 0M130.4 780a1 4 0 1 0 2 0a1 4 0 1 0 -2 0M150.8 767.8a1 4 0 1 0 2 0a1 4 0 1 0 -2 0M92.9 825.7a1 4 0 1 0 2 0a1 4 0 1 0 -2 0M104 824.6a1 4 0 1 0 2 0a1 4 0 1 0 -2 0M130.4 822a1 4 0 1 0 2 0a1 4 0 1 0 -2 0"/><path fill="#74c955" fill-opacity="0.9" d="M180.5 812.2a.8 2.4 0 1 0 1.6 0a.8 2.4 0 1 0 -1.6 0M134.2 813.6a1.3 1.7 0 1 0 2.5 0a1.3 1.7 0 1 0 -2.5 0M194.1 813a1.4 1.6 0 1 0 2.9 0a1.4 1.6 0 1 0 -2.9 0M224.8 807.6a1.4 2.7 0 1 0 2.8 0a1.4 2.7 0 1 0 -2.8 0M286.1 800.7a.8 2.8 0 1 0 1.6 0a.8 2.8 0 1 0 -1.6 0M323.7 805a.9 2.6 0 1 0 1.7 0a.9 2.6 0 1 0 -1.7 0M524 799.4a1.1 2.5 0 1 0 2.2 0a1.1 2.5 0 1 0 -2.2 0M106.7 821.3a1.1 1.8 0 1 0 2.3 0a1.1 1.8 0 1 0 -2.3 0M279.2 805.1a1.2 2.4 0 1 0 2.5 0a1.2 2.4 0 1 0 -2.5 0M252.2 805.2a1.1 3 0 1 0 2.2 0a1.1 3 0 1 0 -2.2 0M99.1 820.2a1.2 3 0 1 0 2.5 0a1.2 3 0 1 0 -2.5 0M276.3 802.6a1.4 1.8 0 1 0 2.9 0a1.4 1.8 0 1 0 -2.9 0M253.4 807.5a.8 2.7 0 1 0 1.6 0a.8 2.7 0 1 0 -1.6 0M131.4 820.1a1.5 1.9 0 1 0 3 0a1.5 1.9 0 1 0 -3 0M235.8 811a1.3 2.6 0 1 0 2.6 0a1.3 2.6 0 1 0 -2.6 0M380.2 804a1.3 1.8 0 1 0 2.6 0a1.3 1.8 0 1 0 -2.6 0M171.1 815.4a1.4 2.2 0 1 0 2.8 0a1.4 2.2 0 1 0 -2.8 0M240 804.1a1.3 1.6 0 1 0 2.7 0a1.3 1.6 0 1 0 -2.7 0M250.8 804.1a1.3 2.9 0 1 0 2.6 0a1.3 2.9 0 1 0 -2.6 0M323.4 806.6a.9 2.8 0 1 0 1.7 0a.9 2.8 0 1 0 -1.7 0M407.8 798.9a.9 1.8 0 1 0 1.7 0a.9 1.8 0 1 0 -1.7 0M514.6 802.8a1.4 2.4 0 1 0 2.8 0a1.4 2.4 0 1 0 -2.8 0M260.4 809.9a.9 2.9 0 1 0 1.8 0a.9 2.9 0 1 0 -1.8 0M333.9 806.9a.9 2.9 0 1 0 1.7 0a.9 2.9 0 1 0 -1.7 0M527.1 795.6a1.2 2.2 0 1 0 2.4 0a1.2 2.2 0 1 0 -2.4 0M236 811a.9 2.3 0 1 0 1.8 0a.9 2.3 0 1 0 -1.8 0M245.7 803.7a1.2 1.6 0 1 0 2.3 0a1.2 1.6 0 1 0 -2.3 0M483.6 798.1a1.5 2.7 0 1 0 3 0a1.5 2.7 0 1 0 -3 0M426.3 804.8a1.3 2.7 0 1 0 2.6 0a1.3 2.7 0 1 0 -2.6 0M251.6 804.1a1.1 1.7 0 1 0 2.3 0a1.1 1.7 0 1 0 -2.3 0M517.9 803a1.2 2.7 0 1 0 2.4 0a1.2 2.7 0 1 0 -2.4 0M369.9 799.4a1.5 2.5 0 1 0 3 0a1.5 2.5 0 1 0 -3 0M348.7 806.7a1.5 2.4 0 1 0 2.9 0a1.5 2.4 0 1 0 -2.9 0M275.5 801.5a.9 2.4 0 1 0 1.9 0a.9 2.4 0 1 0 -1.9 0M419.2 805a1.2 2.1 0 1 0 2.4 0a1.2 2.1 0 1 0 -2.4 0M485.8 800.3a1 1.9 0 1 0 2 0a1 1.9 0 1 0 -2 0M455.1 798.7a.8 1.7 0 1 0 1.5 0a.8 1.7 0 1 0 -1.5 0M238.3 804.8a1.4 1.8 0 1 0 2.8 0a1.4 1.8 0 1 0 -2.8 0M116.3 816.7a1.2 2.2 0 1 0 2.4 0a1.2 2.2 0 1 0 -2.4 0M137.3 811.8a1.1 1.7 0 1 0 2.3 0a1.1 1.7 0 1 0 -2.3 0M413.6 801.4a1.1 1.7 0 1 0 2.2 0a1.1 1.7 0 1 0 -2.2 0M317.9 804.9a1 2.9 0 1 0 2 0a1 2.9 0 1 0 -2 0M466.5 800.7a1.4 2.7 0 1 0 2.7 0a1.4 2.7 0 1 0 -2.7 0M351.2 806.2a.9 1.6 0 1 0 1.8 0a.9 1.6 0 1 0 -1.8 0M135.5 817.2a.9 1.6 0 1 0 1.7 0a.9 1.6 0 1 0 -1.7 0M514.6 798a.9 2.7 0 1 0 1.8 0a.9 2.7 0 1 0 -1.8 0M350 799.3a.9 1.6 0 1 0 1.9 0a.9 1.6 0 1 0 -1.9 0M113.1 813.6a1.5 1.8 0 1 0 3 0a1.5 1.8 0 1 0 -3 0M153.7 817.8a.8 1.6 0 1 0 1.6 0a.8 1.6 0 1 0 -1.6 0"/><path fill="#cbdf59" d="M141.7 820a1 4 0 1 0 2 0a1 4 0 1 0 -2 0"/><path fill="#e1e45a" fill-opacity="0.9" d="M263.5 802.7a1.1 1.9 0 1 0 2.3 0a1.1 1.9 0 1 0 -2.3 0M313.4 807.8a1.1 2.2 0 1 0 2.1 0a1.1 2.2 0 1 0 -2.1 0M489.2 799.8a1.4 1.5 0 1 0 2.8 0a1.4 1.5 0 1 0 -2.8 0M336.4 807a1.1 2.2 0 1 0 2.3 0a1.1 2.2 0 1 0 -2.3 0M346.2 806.1a1.5 2.1 0 1 0 2.9 0a1.5 2.1 0 1 0 -2.9 0M342.6 802a1.2 2.8 0 1 0 2.4 0a1.2 2.8 0 1 0 -2.4 0M332.3 807.2a1.5 1.8 0 1 0 2.9 0a1.5 1.8 0 1 0 -2.9 0M392.2 804.7a1.2 3 0 1 0 2.5 0a1.2 3 0 1 0 -2.5 0M295.1 808.6a1 2.2 0 1 0 2 0a1 2.2 0 1 0 -2 0M207.9 811.8a.8 2 0 1 0 1.5 0a.8 2 0 1 0 -1.5 0M237.5 807.2a1.3 1.8 0 1 0 2.5 0a1.3 1.8 0 1 0 -2.5 0M431 803.6a.9 1.5 0 1 0 1.7 0a.9 1.5 0 1 0 -1.7 0M417.8 799.2a1.1 2.7 0 1 0 2.2 0a1.1 2.7 0 1 0 -2.2 0M101.4 818.1a1.5 2.3 0 1 0 3 0a1.5 2.3 0 1 0 -3 0M294.4 801.6a1.3 1.9 0 1 0 2.7 0a1.3 1.9 0 1 0 -2.7 0M333.6 799.3a1.3 1.7 0 1 0 2.6 0a1.3 1.7 0 1 0 -2.6 0M425.2 800.1a1 2.4 0 1 0 2 0a1 2.4 0 1 0 -2 0M141.1 819a1 3 0 1 0 2 0a1 3 0 1 0 -2 0M133.2 819.6a1.4 2.8 0 1 0 2.8 0a1.4 2.8 0 1 0 -2.8 0M487 796.5a.8 1.6 0 1 0 1.5 0a.8 1.6 0 1 0 -1.5 0M102.1 818.7a1.2 2.4 0 1 0 2.3 0a1.2 2.4 0 1 0 -2.3 0M102.5 822a1 2.7 0 1 0 2 0a1 2.7 0 1 0 -2 0M447.9 800.2a.8 1.9 0 1 0 1.6 0a.8 1.9 0 1 0 -1.6 0"/><path fill="#ef8828" fill-opacity="0.9" d="M198.7 808.5a1.1 2.4 0 1 0 2.3 0a1.1 2.4 0 1 0 -2.3 0M442.2 798a1.5 1.8 0 1 0 2.9 0a1.5 1.8 0 1 0 -2.9 0M417.5 804.9a.8 2.4 0 1 0 1.7 0a.8 2.4 0 1 0 -1.7 0M312.9 806.4a1.1 2.6 0 1 0 2.2 0a1.1 2.6 0 1 0 -2.2 0M405.1 804.7a1.3 1.9 0 1 0 2.6 0a1.3 1.9 0 1 0 -2.6 0M242.3 807.6a1.2 1.6 0 1 0 2.4 0a1.2 1.6 0 1 0 -2.4 0M347.4 801.3a1.1 2.2 0 1 0 2.2 0a1.1 2.2 0 1 0 -2.2 0M239.5 809.2a.8 2.3 0 1 0 1.6 0a.8 2.3 0 1 0 -1.6 0M477.5 804.2a1.4 1.9 0 1 0 2.7 0a1.4 1.9 0 1 0 -2.7 0M459.8 802.4a1.3 2.7 0 1 0 2.7 0a1.3 2.7 0 1 0 -2.7 0M512.4 801.3a1.4 2 0 1 0 2.8 0a1.4 2 0 1 0 -2.8 0M372.6 801.1a1.2 2.9 0 1 0 2.5 0a1.2 2.9 0 1 0 -2.5 0M145 813.9a1.1 1.9 0 1 0 2.2 0a1.1 1.9 0 1 0 -2.2 0M262.5 803.3a1.2 1.7 0 1 0 2.4 0a1.2 1.7 0 1 0 -2.4 0M292.6 804.7a.9 2.9 0 1 0 1.8 0a.9 2.9 0 1 0 -1.8 0M168 809.2a1.1 2.8 0 1 0 2.3 0a1.1 2.8 0 1 0 -2.3 0M100.9 821.9a1.1 2 0 1 0 2.3 0a1.1 2 0 1 0 -2.3 0M235 806.6a1.3 2.3 0 1 0 2.6 0a1.3 2.3 0 1 0 -2.6 0M258.9 809.5a1 1.6 0 1 0 2 0a1 1.6 0 1 0 -2 0M331 803.7a1.4 1.7 0 1 0 2.7 0a1.4 1.7 0 1 0 -2.7 0M121.5 817.1a.9 1.5 0 1 0 1.9 0a.9 1.5 0 1 0 -1.9 0M400.5 805.2a1.4 3 0 1 0 2.8 0a1.4 3 0 1 0 -2.8 0"/><path fill="#ea7526" d="M135 777a1 4 0 1 0 2 0a1 4 0 1 0 -2 0"/><path fill="#d72a1e" fill-opacity="0.9" d="M111.4 819.4a1.1 2.5 0 1 0 2.1 0a1.1 2.5 0 1 0 -2.1 0M378.8 801.3a1.5 3 0 1 0 3 0a1.5 3 0 1 0 -3 0M154.2 817.1a.9 1.6 0 1 0 1.7 0a.9 1.6 0 1 0 -1.7 0M508.3 796.4a1 1.8 0 1 0 2 0a1 1.8 0 1 0 -2 0M289.1 803.5a.8 2.6 0 1 0 1.6 0a.8 2.6 0 1 0 -1.6 0M165.2 810.4a1 2.4 0 1 0 2 0a1 2.4 0 1 0 -2 0M335.1 799.7a1 2.8 0 1 0 2 0a1 2.8 0 1 0 -2 0M240.4 803.2a1.3 3 0 1 0 2.6 0a1.3 3 0 1 0 -2.6 0M375.2 801.2a1.1 2.6 0 1 0 2.1 0a1.1 2.6 0 1 0 -2.1 0M432.1 797.2a1.1 1.9 0 1 0 2.1 0a1.1 1.9 0 1 0 -2.1 0M246.8 810.8a1.2 2.4 0 1 0 2.4 0a1.2 2.4 0 1 0 -2.4 0M494 801a1.2 1.8 0 1 0 2.4 0a1.2 1.8 0 1 0 -2.4 0M352.7 805.2a1.2 1.8 0 1 0 2.4 0a1.2 1.8 0 1 0 -2.4 0M207.8 808.2a1.3 2.1 0 1 0 2.6 0a1.3 2.1 0 1 0 -2.6 0M460.6 796.8a1.3 2 0 1 0 2.7 0a1.3 2 0 1 0 -2.7 0M170.4 812.9a.8 2.9 0 1 0 1.5 0a.8 2.9 0 1 0 -1.5 0M107.2 817.6a1.3 2.1 0 1 0 2.6 0a1.3 2.1 0 1 0 -2.6 0M148.1 812.6a1.3 2.1 0 1 0 2.6 0a1.3 2.1 0 1 0 -2.6 0"/><path fill="#d72a1e" d="M144 697a1 4 0 1 0 2 0a1 4 0 1 0 -2 0M245.8 725.5a1 4 0 1 0 2 0a1 4 0 1 0 -2 0M157.6 759.8a1 4 0 1 0 2 0a1 4 0 1 0 -2 0"/></g>
<path fill="#19143c" d="M141.5 655a1.2 1.2 0 1 0 2.4 0a1.2 1.2 0 1 0 -2.4 0M161.8 693.6a1.2 1.2 0 1 0 2.4 0a1.2 1.2 0 1 0 -2.4 0M152.8 701a1.2 1.2 0 1 0 2.4 0a1.2 1.2 0 1 0 -2.4 0M115.4 692.5a1.2 1.2 0 1 0 2.4 0a1.2 1.2 0 1 0 -2.4 0M136.8 722.7a1.2 1.2 0 1 0 2.4 0a1.2 1.2 0 1 0 -2.4 0M53.3 702.7a1.2 1.2 0 1 0 2.4 0a1.2 1.2 0 1 0 -2.4 0M192.2 659a1.2 1.2 0 1 0 2.4 0a1.2 1.2 0 1 0 -2.4 0M221.8 655a1.2 1.2 0 1 0 2.4 0a1.2 1.2 0 1 0 -2.4 0M188.8 669.8a1.2 1.2 0 1 0 2.4 0a1.2 1.2 0 1 0 -2.4 0M225.2 679.5a1.2 1.2 0 1 0 2.4 0a1.2 1.2 0 1 0 -2.4 0M261.5 681a1.2 1.2 0 1 0 2.4 0a1.2 1.2 0 1 0 -2.4 0M180.8 686.4a1.2 1.2 0 1 0 2.4 0a1.2 1.2 0 1 0 -2.4 0M226.3 693.6a1.2 1.2 0 1 0 2.4 0a1.2 1.2 0 1 0 -2.4 0M233.1 710.7a1.2 1.2 0 1 0 2.4 0a1.2 1.2 0 1 0 -2.4 0M212.7 703.9a1.2 1.2 0 1 0 2.4 0a1.2 1.2 0 1 0 -2.4 0M263.8 716a1.2 1.2 0 1 0 2.4 0a1.2 1.2 0 1 0 -2.4 0M320.2 640.2a1.2 1.2 0 1 0 2.4 0a1.2 1.2 0 1 0 -2.4 0M303.1 658.4a1.2 1.2 0 1 0 2.4 0a1.2 1.2 0 1 0 -2.4 0M321.3 661.8a1.2 1.2 0 1 0 2.4 0a1.2 1.2 0 1 0 -2.4 0M338.3 651a1.2 1.2 0 1 0 2.4 0a1.2 1.2 0 1 0 -2.4 0M115.2 745.3a1.2 1.2 0 1 0 2.4 0a1.2 1.2 0 1 0 -2.4 0M372.6 706.2a1.2 1.2 0 1 0 2.4 0a1.2 1.2 0 1 0 -2.4 0M122.5 639.3a1.2 1.2 0 1 0 2.4 0a1.2 1.2 0 1 0 -2.4 0M492.6 734.8a1.2 1.2 0 1 0 2.4 0a1.2 1.2 0 1 0 -2.4 0M77.7 740.5a1.2 1.2 0 1 0 2.4 0a1.2 1.2 0 1 0 -2.4 0M447.2 669.4a1.2 1.2 0 1 0 2.4 0a1.2 1.2 0 1 0 -2.4 0M500.4 663.6a1.2 1.2 0 1 0 2.4 0a1.2 1.2 0 1 0 -2.4 0M259.1 707.7a1.2 1.2 0 1 0 2.4 0a1.2 1.2 0 1 0 -2.4 0M509.2 714.8a1.2 1.2 0 1 0 2.4 0a1.2 1.2 0 1 0 -2.4 0M401.4 754.4a1.2 1.2 0 1 0 2.4 0a1.2 1.2 0 1 0 -2.4 0M183.9 711.5a1.2 1.2 0 1 0 2.4 0a1.2 1.2 0 1 0 -2.4 0M269.1 690.4a1.2 1.2 0 1 0 2.4 0a1.2 1.2 0 1 0 -2.4 0M143.3 662.9a1.2 1.2 0 1 0 2.4 0a1.2 1.2 0 1 0 -2.4 0M521.4 787.9a1.2 1.2 0 1 0 2.4 0a1.2 1.2 0 1 0 -2.4 0M125.7 799a1.2 1.2 0 1 0 2.4 0a1.2 1.2 0 1 0 -2.4 0M211.6 760.6a1.2 1.2 0 1 0 2.4 0a1.2 1.2 0 1 0 -2.4 0M272.3 713.4a1.2 1.2 0 1 0 2.4 0a1.2 1.2 0 1 0 -2.4 0M252.1 641.4a1.2 1.2 0 1 0 2.4 0a1.2 1.2 0 1 0 -2.4 0M297.7 677.6a1.2 1.2 0 1 0 2.4 0a1.2 1.2 0 1 0 -2.4 0M488.5 739.6a1.2 1.2 0 1 0 2.4 0a1.2 1.2 0 1 0 -2.4 0M183.3 773.3a1.2 1.2 0 1 0 2.4 0a1.2 1.2 0 1 0 -2.4 0M327.5 740.2a1.2 1.2 0 1 0 2.4 0a1.2 1.2 0 1 0 -2.4 0M401.1 755.7a1.2 1.2 0 1 0 2.4 0a1.2 1.2 0 1 0 -2.4 0M152.1 778.4a1.2 1.2 0 1 0 2.4 0a1.2 1.2 0 1 0 -2.4 0M403.6 760.5a1.2 1.2 0 1 0 2.4 0a1.2 1.2 0 1 0 -2.4 0M404.2 674.4a1.2 1.2 0 1 0 2.4 0a1.2 1.2 0 1 0 -2.4 0M517.7 755.2a1.2 1.2 0 1 0 2.4 0a1.2 1.2 0 1 0 -2.4 0M486.6 682.6a1.2 1.2 0 1 0 2.4 0a1.2 1.2 0 1 0 -2.4 0M195.5 780.5a1.2 1.2 0 1 0 2.4 0a1.2 1.2 0 1 0 -2.4 0M525.8 750.6a1.2 1.2 0 1 0 2.4 0a1.2 1.2 0 1 0 -2.4 0M119.9 683.3a1.2 1.2 0 1 0 2.4 0a1.2 1.2 0 1 0 -2.4 0M308.2 637.5a1.2 1.2 0 1 0 2.4 0a1.2 1.2 0 1 0 -2.4 0M210.1 728.9a1.2 1.2 0 1 0 2.4 0a1.2 1.2 0 1 0 -2.4 0M491.5 749.1a1.2 1.2 0 1 0 2.4 0a1.2 1.2 0 1 0 -2.4 0M475.3 669.8a1.2 1.2 0 1 0 2.4 0a1.2 1.2 0 1 0 -2.4 0M465.6 671.9a1.2 1.2 0 1 0 2.4 0a1.2 1.2 0 1 0 -2.4 0M169.2 743.9a1.2 1.2 0 1 0 2.4 0a1.2 1.2 0 1 0 -2.4 0M165.8 638a1.2 1.2 0 1 0 2.4 0a1.2 1.2 0 1 0 -2.4 0M384.1 646.6a1.2 1.2 0 1 0 2.4 0a1.2 1.2 0 1 0 -2.4 0M354.4 653a1.2 1.2 0 1 0 2.4 0a1.2 1.2 0 1 0 -2.4 0M290.8 783.4a1.2 1.2 0 1 0 2.4 0a1.2 1.2 0 1 0 -2.4 0M248.7 669.5a1.2 1.2 0 1 0 2.4 0a1.2 1.2 0 1 0 -2.4 0M475 786.4a1.2 1.2 0 1 0 2.4 0a1.2 1.2 0 1 0 -2.4 0M275.7 757.1a1.2 1.2 0 1 0 2.4 0a1.2 1.2 0 1 0 -2.4 0M165.6 639.2a1.2 1.2 0 1 0 2.4 0a1.2 1.2 0 1 0 -2.4 0M156.3 733.8a1.2 1.2 0 1 0 2.4 0a1.2 1.2 0 1 0 -2.4 0M423.6 659.7a1.2 1.2 0 1 0 2.4 0a1.2 1.2 0 1 0 -2.4 0M116.3 684.8a1.2 1.2 0 1 0 2.4 0a1.2 1.2 0 1 0 -2.4 0M173.1 693.6a1.2 1.2 0 1 0 2.4 0a1.2 1.2 0 1 0 -2.4 0M407 695.8a1.2 1.2 0 1 0 2.4 0a1.2 1.2 0 1 0 -2.4 0M404.5 743.2a1.2 1.2 0 1 0 2.4 0a1.2 1.2 0 1 0 -2.4 0M486.1 732.6a1.2 1.2 0 1 0 2.4 0a1.2 1.2 0 1 0 -2.4 0M513.6 697.2a1.2 1.2 0 1 0 2.4 0a1.2 1.2 0 1 0 -2.4 0M310 668.8a1.2 1.2 0 1 0 2.4 0a1.2 1.2 0 1 0 -2.4 0M146.6 693.6a1.2 1.2 0 1 0 2.4 0a1.2 1.2 0 1 0 -2.4 0M456.8 784a1.2 1.2 0 1 0 2.4 0a1.2 1.2 0 1 0 -2.4 0M267.3 693.7a1.2 1.2 0 1 0 2.4 0a1.2 1.2 0 1 0 -2.4 0M205.5 728.8a1.2 1.2 0 1 0 2.4 0a1.2 1.2 0 1 0 -2.4 0M268.4 798.8a1.2 1.2 0 1 0 2.4 0a1.2 1.2 0 1 0 -2.4 0M377.8 695a1.2 1.2 0 1 0 2.4 0a1.2 1.2 0 1 0 -2.4 0"/>
</g>
<g clip-path="url(#cc2)" fill="url(#bub)" stroke="#1e1e1e" stroke-width="0.65"><circle cx="86.4" cy="650.5" r="1.8"/><circle cx="140.5" cy="684.5" r="9.5"/><circle cx="144.3" cy="680.5" r="1.8"/><circle cx="148.4" cy="681" r="2"/><circle cx="148.4" cy="686.8" r="2"/><circle cx="86.4" cy="694.3" r="1.8"/><circle cx="55.9" cy="706.8" r="2.3"/><circle cx="93.4" cy="705" r="1.8"/><circle cx="115.5" cy="706.8" r="2"/><circle cx="124" cy="703.4" r="2.5"/><circle cx="118.9" cy="707.3" r="1.6"/><circle cx="126" cy="708" r="2"/><circle cx="95" cy="716" r="1.6"/><circle cx="97.7" cy="718.6" r="1.6"/><circle cx="104.8" cy="717" r="2"/><circle cx="124" cy="716" r="2.3"/><circle cx="125" cy="720.5" r="2.5"/><circle cx="73.4" cy="722.7" r="1.8"/><circle cx="155.9" cy="715.7" r="2.5"/><circle cx="160.5" cy="719.3" r="1.8"/><circle cx="164.8" cy="716" r="1.6"/><circle cx="280.5" cy="636.4" r="1.8"/><circle cx="285.5" cy="640.2" r="2.3"/><circle cx="274" cy="669.8" r="2.5"/><circle cx="280.5" cy="664.8" r="1.6"/><circle cx="243" cy="682.7" r="4.5"/><circle cx="243.4" cy="693.6" r="3.4"/><circle cx="247.3" cy="688.6" r="1.8"/><circle cx="250.2" cy="699.3" r="1.6"/><circle cx="270.7" cy="697" r="1.6"/><circle cx="180.5" cy="690.7" r="2"/><circle cx="170.7" cy="701" r="2.7"/><circle cx="193.4" cy="707.3" r="3.2"/><circle cx="178.6" cy="717" r="2.5"/><circle cx="185" cy="714" r="1.8"/><circle cx="187.7" cy="715.2" r="1.6"/><circle cx="189.5" cy="718.2" r="2"/><circle cx="220.2" cy="714.5" r="4.5"/><circle cx="208.2" cy="723.6" r="5.7"/><circle cx="201.4" cy="728" r="2.3"/><circle cx="243.4" cy="719.8" r="4"/><circle cx="231.6" cy="725.5" r="2"/><circle cx="259.3" cy="722.7" r="2.7"/><circle cx="269.5" cy="723.2" r="2.3"/><circle cx="264.5" cy="728" r="2.3"/><circle cx="279.8" cy="710" r="2.5"/><circle cx="285.5" cy="713" r="1.8"/><circle cx="284.3" cy="717.5" r="1.6"/><circle cx="287.7" cy="639.5" r="3.2"/><circle cx="294" cy="639" r="2.7"/><circle cx="289.5" cy="633.4" r="2.3"/><circle cx="327" cy="631.8" r="1.8"/><circle cx="349.3" cy="631" r="1.8"/><circle cx="351.6" cy="636.8" r="2.3"/><circle cx="307.7" cy="645.5" r="2.7"/><circle cx="305.5" cy="643.6" r="1.6"/><circle cx="338" cy="657.3" r="3.2"/><circle cx="335" cy="653.4" r="1.6"/><circle cx="353.2" cy="655.7" r="2"/><circle cx="351.6" cy="649.3" r="1.6"/><circle cx="361" cy="658.4" r="1.6"/><circle cx="404.3" cy="651" r="3"/><circle cx="404.3" cy="642.5" r="1.8"/><circle cx="326" cy="669.8" r="2.5"/><circle cx="302.7" cy="680" r="2.5"/><circle cx="286" cy="668.6" r="1.8"/><circle cx="394" cy="671" r="3"/><circle cx="374.3" cy="676.6" r="1.8"/><circle cx="385.7" cy="680" r="2.3"/><circle cx="404.3" cy="684.5" r="3.2"/><circle cx="338" cy="686.8" r="4.5"/><circle cx="375.2" cy="691" r="3.9"/><circle cx="385" cy="689.5" r="2.5"/><circle cx="387.3" cy="693.6" r="3.2"/><circle cx="327.5" cy="695.2" r="5.7"/><circle cx="299.8" cy="696.6" r="2.3"/><circle cx="315.2" cy="696" r="1.6"/><circle cx="331.6" cy="702.3" r="2.5"/><circle cx="313.4" cy="702.7" r="2"/><circle cx="375.2" cy="702.3" r="4.5"/><circle cx="369" cy="707.3" r="3.2"/><circle cx="361" cy="701" r="2"/><circle cx="349.8" cy="706" r="1.8"/><circle cx="332.7" cy="709" r="2.3"/><circle cx="394" cy="702.3" r="2.5"/><circle cx="393" cy="709.5" r="4.5"/><circle cx="402" cy="707.3" r="3.2"/><circle cx="378" cy="709.5" r="2.5"/><circle cx="386.8" cy="706.8" r="1.8"/><circle cx="320.2" cy="712.3" r="3.2"/><circle cx="287.7" cy="713" r="2.7"/><circle cx="326" cy="718.6" r="5"/><circle cx="341.4" cy="712.3" r="2.7"/><circle cx="349.8" cy="711.4" r="3.2"/><circle cx="353.2" cy="716.4" r="2.7"/><circle cx="336" cy="723.2" r="3.9"/><circle cx="343.6" cy="721" r="3"/><circle cx="351" cy="723.2" r="3.2"/><circle cx="302" cy="723.2" r="3.4"/><circle cx="307.7" cy="726.6" r="2"/><circle cx="378" cy="721" r="2.7"/><circle cx="371.4" cy="718.6" r="2"/><circle cx="390.7" cy="723.2" r="2.3"/><circle cx="403" cy="722" r="2.3"/><circle cx="404.3" cy="715.2" r="1.8"/><circle cx="406.2" cy="641.7" r="1.6"/><circle cx="406.2" cy="651" r="2.8"/><circle cx="413.2" cy="653" r="1.9"/><circle cx="432.7" cy="655.8" r="2.6"/><circle cx="437.8" cy="658.6" r="1.6"/><circle cx="425" cy="654.6" r="1.6"/><circle cx="523.5" cy="641.3" r="1.8"/><circle cx="426" cy="671.8" r="3.3"/><circle cx="482.4" cy="668.2" r="2.6"/><circle cx="513.4" cy="665.7" r="3.3"/><circle cx="511.8" cy="673.9" r="2.6"/><circle cx="516.4" cy="672.2" r="1.8"/><circle cx="449.6" cy="670" r="1.6"/><circle cx="452" cy="679.3" r="3.3"/><circle cx="475.9" cy="676.5" r="4"/><circle cx="471.9" cy="679.7" r="2.3"/><circle cx="414.4" cy="681.6" r="3.5"/><circle cx="406.9" cy="685" r="4"/><circle cx="413.2" cy="688.7" r="2"/><circle cx="432" cy="688.7" r="1.8"/><circle cx="508.2" cy="689.8" r="3"/><circle cx="517.6" cy="687.5" r="2"/><circle cx="526.3" cy="692.9" r="2.6"/><circle cx="461.3" cy="693.4" r="2"/><circle cx="466" cy="689.8" r="1.6"/><circle cx="424.2" cy="693.4" r="2.6"/><circle cx="436.7" cy="693.8" r="3"/><circle cx="442.5" cy="691.5" r="1.8"/><circle cx="413.2" cy="699.2" r="5.2"/><circle cx="408.5" cy="699.2" r="3.3"/><circle cx="421.4" cy="696.9" r="2.6"/><circle cx="426.6" cy="700" r="2.6"/><circle cx="441.4" cy="699.2" r="2.6"/><circle cx="452" cy="698.7" r="4.2"/><circle cx="459" cy="701.6" r="2.6"/><circle cx="467.2" cy="703.4" r="2.6"/><circle cx="471.9" cy="698" r="2"/><circle cx="475.4" cy="707.4" r="3.5"/><circle cx="477.7" cy="702.7" r="2"/><circle cx="483.6" cy="700.9" r="2"/><circle cx="488.3" cy="705.5" r="2.6"/><circle cx="496.5" cy="699.9" r="2"/><circle cx="505.9" cy="697.6" r="2.6"/><circle cx="510.1" cy="701.6" r="2"/><circle cx="517.6" cy="703.2" r="2.6"/><circle cx="523.5" cy="707.4" r="3.3"/><circle cx="518.8" cy="708.6" r="2.6"/><circle cx="514.1" cy="706.3" r="2"/><circle cx="497.7" cy="707.4" r="1.8"/><circle cx="422.6" cy="706.3" r="2"/><circle cx="452" cy="711" r="1.8"/><circle cx="461.3" cy="711" r="3"/><circle cx="475.4" cy="712.1" r="1.8"/><circle cx="504.7" cy="711" r="1.8"/><circle cx="515.3" cy="712.1" r="2"/><circle cx="436.7" cy="716.8" r="3"/><circle cx="423.8" cy="718" r="2"/><circle cx="415.6" cy="719.2" r="1.6"/><circle cx="409.7" cy="716.8" r="1.6"/><circle cx="478.9" cy="722.7" r="2.6"/><circle cx="508.2" cy="719.2" r="2"/><circle cx="86.4" cy="741.6" r="3.2"/><circle cx="117.7" cy="755.3" r="1.8"/><circle cx="155.9" cy="742.8" r="4.1"/><circle cx="163.2" cy="746.2" r="2.3"/><circle cx="153.6" cy="748.5" r="1.8"/><circle cx="149.5" cy="759.8" r="4.5"/><circle cx="155.2" cy="756.4" r="3.6"/><circle cx="160.9" cy="754.1" r="2"/><circle cx="166.6" cy="762" r="2.7"/><circle cx="107.5" cy="768.9" r="2.7"/><circle cx="132.5" cy="768.9" r="4.1"/><circle cx="138.2" cy="764.4" r="2.3"/><circle cx="127.5" cy="774.6" r="3.2"/><circle cx="94.5" cy="773.5" r="2.3"/><circle cx="87" cy="776.9" r="3.2"/><circle cx="90.5" cy="779.1" r="3.2"/><circle cx="93.9" cy="783.7" r="3.2"/><circle cx="79" cy="780.3" r="2.3"/><circle cx="105.2" cy="782.5" r="2.3"/><circle cx="109.3" cy="781.4" r="1.6"/><circle cx="67.7" cy="784.8" r="3.2"/><circle cx="62" cy="787" r="2"/><circle cx="115.5" cy="787" r="2.7"/><circle cx="98.4" cy="786" r="1.8"/><circle cx="131.4" cy="791.6" r="2"/><circle cx="165.5" cy="784.8" r="2.7"/><circle cx="156.4" cy="791.6" r="3.2"/><circle cx="162" cy="796.2" r="4.1"/><circle cx="145" cy="797.3" r="4.1"/><circle cx="150.7" cy="800.7" r="3.2"/><circle cx="158.6" cy="805.3" r="4.5"/><circle cx="140.5" cy="803" r="3.2"/><circle cx="134.8" cy="805.3" r="2.7"/><circle cx="138.2" cy="813.2" r="4.1"/><circle cx="131.4" cy="809.8" r="3.2"/><circle cx="125.7" cy="812" r="2.7"/><circle cx="120" cy="815.5" r="3.2"/><circle cx="114.3" cy="815.5" r="3.2"/><circle cx="110.9" cy="811" r="3.2"/><circle cx="104" cy="813.2" r="3.2"/><circle cx="110.9" cy="823.5" r="3.6"/><circle cx="120" cy="821.2" r="3.2"/><circle cx="115.5" cy="820" r="2.3"/><circle cx="87" cy="813.9" r="4.5"/><circle cx="78.6" cy="818.9" r="4.1"/><circle cx="89.3" cy="821.2" r="3.2"/><circle cx="83.2" cy="820" r="2.3"/><circle cx="53.6" cy="806.4" r="3.2"/><circle cx="67.7" cy="826.2" r="1.8"/><circle cx="163.2" cy="808.7" r="3.2"/><circle cx="210" cy="736" r="4.5"/><circle cx="201.4" cy="730.3" r="2.7"/><circle cx="208.2" cy="728" r="2.7"/><circle cx="183.2" cy="746.2" r="4.1"/><circle cx="170.7" cy="744.4" r="2.3"/><circle cx="180.9" cy="750.7" r="2.7"/><circle cx="194.5" cy="742.8" r="2.3"/><circle cx="199" cy="747.3" r="2.3"/><circle cx="201.4" cy="753" r="3.2"/><circle cx="194.5" cy="755.3" r="2.7"/><circle cx="210.5" cy="745" r="1.8"/><circle cx="215" cy="751.9" r="2.7"/><circle cx="220.7" cy="750.7" r="2.7"/><circle cx="227.5" cy="751.9" r="2.3"/><circle cx="210.5" cy="755.3" r="2.3"/><circle cx="168.4" cy="762" r="2.7"/><circle cx="177.5" cy="759.8" r="2.3"/><circle cx="198" cy="770" r="6.4"/><circle cx="188.9" cy="776.9" r="3.2"/><circle cx="240" cy="737" r="3.2"/><circle cx="245.7" cy="734.8" r="2.7"/><circle cx="244.5" cy="747.3" r="3.6"/><circle cx="238.9" cy="749.6" r="2.7"/><circle cx="240" cy="758.7" r="2.7"/><circle cx="255.9" cy="742.8" r="2.7"/><circle cx="265" cy="730.3" r="2.7"/><circle cx="275.2" cy="730.3" r="2.7"/><circle cx="280.9" cy="746.2" r="2.7"/><circle cx="283.2" cy="758.7" r="2.7"/><circle cx="262.7" cy="759.8" r="3.2"/><circle cx="339.5" cy="733.7" r="4.1"/><circle cx="344" cy="732.5" r="3.2"/><circle cx="302" cy="738.2" r="2.7"/><circle cx="296.4" cy="730.3" r="2.3"/><circle cx="308.9" cy="739.4" r="2.3"/><circle cx="322.5" cy="740.5" r="1.8"/><circle cx="331.6" cy="746.2" r="2.3"/><circle cx="316.8" cy="750.7" r="1.8"/><circle cx="306.6" cy="751.9" r="1.8"/><circle cx="356.6" cy="749.6" r="2.3"/><circle cx="363.4" cy="738.2" r="2.3"/><circle cx="365.7" cy="742.8" r="2.3"/><circle cx="372.5" cy="741.6" r="2.7"/><circle cx="385" cy="732.5" r="2.3"/><circle cx="389.5" cy="738.2" r="2.3"/><circle cx="403.2" cy="736" r="2.7"/><circle cx="385" cy="747.3" r="2.7"/><circle cx="366.8" cy="755.3" r="3.2"/><circle cx="341.8" cy="756.4" r="1.8"/><circle cx="348.6" cy="756.4" r="2.3"/><circle cx="348.6" cy="763.2" r="2.3"/><circle cx="328.2" cy="762" r="1.8"/><circle cx="307.7" cy="766.6" r="1.8"/><circle cx="288.4" cy="756.4" r="2.3"/><circle cx="294" cy="757.5" r="2.3"/><circle cx="300.9" cy="757.5" r="2.3"/><circle cx="394" cy="758.7" r="2.3"/><circle cx="399.8" cy="762" r="2.3"/><circle cx="475.8" cy="762.5" r="2"/><circle cx="414.9" cy="744" r="2.6"/><circle cx="422.6" cy="742.2" r="1.8"/><circle cx="421.7" cy="744.8" r="1.7"/><circle cx="513.6" cy="744.8" r="1.7"/><circle cx="453.6" cy="756.9" r="1.8"/><circle cx="500.8" cy="743.5" r="2.8"/><circle cx="492.3" cy="739.9" r="2.1"/><circle cx="490.1" cy="759.6" r="2.5"/><circle cx="437.5" cy="757" r="2.2"/><circle cx="421.6" cy="769.5" r="2.8"/><circle cx="451.4" cy="739.2" r="2.5"/><circle cx="443.5" cy="740.3" r="2.3"/><circle cx="432.7" cy="732.3" r="1.9"/><circle cx="493" cy="743.2" r="2.5"/><circle cx="459.4" cy="761.8" r="1.7"/><circle cx="423.6" cy="743.2" r="1.8"/><circle cx="463.2" cy="759.3" r="2.4"/><circle cx="506.9" cy="743.7" r="2.6"/><circle cx="492.3" cy="757.1" r="2.2"/><circle cx="452" cy="753.2" r="2.6"/><circle cx="439.7" cy="762.1" r="2"/><circle cx="471.3" cy="741.5" r="2.2"/><circle cx="475.2" cy="740.5" r="2.4"/><circle cx="462.9" cy="755.5" r="2.7"/><circle cx="476" cy="757" r="1.9"/><circle cx="477.2" cy="757.1" r="2.6"/><circle cx="503.7" cy="760.7" r="2"/><circle cx="414" cy="741.9" r="2.1"/><circle cx="524.8" cy="740.9" r="1.7"/><circle cx="524.1" cy="742" r="1.6"/><circle cx="447.8" cy="757.7" r="3.2"/><circle cx="477.9" cy="743.8" r="2.8"/><circle cx="484.4" cy="740.7" r="2.3"/><circle cx="519.6" cy="743.7" r="3.1"/><circle cx="494.2" cy="744" r="2.2"/><circle cx="442.3" cy="741.2" r="2.8"/><circle cx="507.5" cy="762.5" r="2.3"/><circle cx="474.5" cy="742.3" r="1.7"/><circle cx="493.6" cy="756.9" r="2.6"/><circle cx="412.2" cy="766.8" r="2"/><circle cx="486.8" cy="756.9" r="2.8"/><circle cx="424.1" cy="740" r="3.2"/><circle cx="486.9" cy="740.5" r="2"/><circle cx="455.2" cy="740.3" r="2"/><circle cx="281" cy="784.1" r="4"/><circle cx="451.9" cy="785.6" r="4.5"/><circle cx="168" cy="800.2" r="3.5"/><circle cx="268.3" cy="794.5" r="5.5"/><circle cx="453.2" cy="786" r="4"/><circle cx="264.3" cy="798.4" r="4"/><circle cx="515.5" cy="787.8" r="4.5"/><circle cx="363" cy="794.4" r="5.5"/><circle cx="312.4" cy="786.1" r="2.5"/><circle cx="521.6" cy="785.1" r="4.5"/><circle cx="484.6" cy="771.8" r="3"/><circle cx="364.2" cy="784.6" r="2.5"/><circle cx="412.6" cy="797.4" r="3.5"/><circle cx="246.4" cy="785.4" r="4"/><circle cx="404.6" cy="778.5" r="4"/><circle cx="310" cy="783.8" r="3.5"/><circle cx="213.2" cy="794.5" r="5"/><circle cx="241.9" cy="788.6" r="4"/><circle cx="396.1" cy="785.7" r="5"/><circle cx="287.3" cy="791.5" r="3.5"/><circle cx="317.5" cy="781.8" r="3"/><circle cx="482.7" cy="794.5" r="5"/><circle cx="346.2" cy="801.6" r="3"/><circle cx="431.6" cy="782.7" r="2.5"/><circle cx="298.5" cy="783.5" r="2.5"/><circle cx="321.3" cy="801.7" r="3.5"/><circle cx="180.9" cy="807.7" r="3"/><circle cx="247.3" cy="788.6" r="3"/><circle cx="288.9" cy="802.1" r="5"/><circle cx="298.9" cy="790.2" r="5"/><circle cx="449" cy="784" r="3.5"/><circle cx="507.1" cy="781.2" r="4.5"/><circle cx="170.2" cy="810.7" r="2.5"/><circle cx="191.6" cy="794.8" r="2.5"/><circle cx="520.6" cy="788.8" r="5"/><circle cx="311.3" cy="790.4" r="3"/><circle cx="343.7" cy="785.5" r="3.5"/><circle cx="513.7" cy="772.5" r="4"/><circle cx="388.4" cy="785.7" r="3.5"/><circle cx="212.8" cy="805.1" r="2.5"/><circle cx="312.3" cy="793" r="3.5"/><circle cx="415.6" cy="774.5" r="4"/><circle cx="507.9" cy="776.2" r="4.5"/><circle cx="292" cy="787.4" r="5"/><circle cx="412.3" cy="776.5" r="3"/><circle cx="185" cy="798.1" r="4"/><circle cx="475.8" cy="778.2" r="5"/><circle cx="389.8" cy="783.7" r="2.5"/><circle cx="520.1" cy="796.2" r="5.5"/><circle cx="295.8" cy="793.5" r="3.5"/><circle cx="503.1" cy="781.2" r="3"/><circle cx="243.1" cy="784.3" r="2.5"/><circle cx="280.5" cy="798.7" r="5"/><circle cx="364.2" cy="776.7" r="2.5"/><circle cx="277.3" cy="792.4" r="4"/><circle cx="487.3" cy="781.6" r="3"/><circle cx="435.4" cy="785.1" r="4.5"/><circle cx="191.6" cy="794.1" r="5"/><circle cx="481.8" cy="785.8" r="4"/><circle cx="253.6" cy="784" r="3.5"/><circle cx="526.4" cy="798.1" r="3.5"/><circle cx="383.6" cy="777.2" r="3.5"/><circle cx="521.6" cy="778.3" r="3"/><circle cx="210.6" cy="791.1" r="2.5"/><circle cx="419.2" cy="777.2" r="3.5"/><circle cx="278.9" cy="791.2" r="4.5"/><circle cx="455.1" cy="793.4" r="4.5"/><circle cx="329.1" cy="798.3" r="5.5"/><circle cx="177.5" cy="794" r="5.5"/><circle cx="282" cy="793.8" r="3.5"/><circle cx="494.4" cy="790.5" r="5"/><circle cx="414.5" cy="781.3" r="3"/><circle cx="374.9" cy="788" r="3.5"/><circle cx="271.6" cy="783.4" r="2.5"/><circle cx="393.2" cy="786.5" r="3.5"/><circle cx="443.3" cy="794.2" r="5.5"/><circle cx="340.5" cy="789.9" r="4"/><circle cx="241.9" cy="800.4" r="5"/><circle cx="489.6" cy="781.3" r="5.5"/><circle cx="492.4" cy="798.1" r="3"/><circle cx="198.3" cy="799.5" r="3"/><circle cx="526.1" cy="789.2" r="3"/><circle cx="390.5" cy="799" r="5"/><circle cx="242.6" cy="790.5" r="4.5"/><circle cx="377.2" cy="778.6" r="5"/><circle cx="525.6" cy="796" r="2.5"/><circle cx="390.9" cy="799.5" r="4"/><circle cx="266.9" cy="790.9" r="4"/><circle cx="521.6" cy="794.3" r="4.5"/><circle cx="252.1" cy="788.2" r="3"/><circle cx="328.1" cy="800.6" r="3"/><circle cx="176" cy="806.8" r="5.5"/><circle cx="443" cy="785.4" r="3.5"/><circle cx="495.7" cy="782.2" r="4"/><circle cx="225.1" cy="786.3" r="2.5"/><circle cx="270" cy="788.5" r="5"/><circle cx="213.2" cy="798.3" r="4"/><circle cx="272.3" cy="793.6" r="3.5"/><circle cx="429.7" cy="798.1" r="3.5"/><circle cx="215.7" cy="789.4" r="4"/><circle cx="456.2" cy="788.5" r="5"/><circle cx="471" cy="786.2" r="4"/><circle cx="190.2" cy="789.4" r="3"/><circle cx="253.4" cy="797.6" r="2.5"/><circle cx="242.7" cy="798" r="3"/><circle cx="488.7" cy="776.3" r="4"/><circle cx="474.5" cy="786.4" r="5"/><circle cx="438.9" cy="776.8" r="5.5"/><circle cx="352.5" cy="801.4" r="2.5"/><circle cx="472.5" cy="797.2" r="5"/><circle cx="481.4" cy="784.8" r="2.5"/><circle cx="480.8" cy="780.1" r="4"/><circle cx="391.6" cy="781.2" r="4.5"/><circle cx="368.2" cy="795.1" r="2.5"/><circle cx="500.5" cy="792.4" r="4.5"/><circle cx="341.8" cy="795.5" r="5.5"/><circle cx="345.8" cy="780.1" r="5.5"/><circle cx="471.5" cy="772.3" r="3.5"/><circle cx="409.5" cy="788.6" r="4.5"/><circle cx="265.3" cy="792" r="2.5"/><circle cx="448.9" cy="782.3" r="3.5"/><circle cx="447.5" cy="793" r="4"/><circle cx="289.6" cy="785.8" r="3.5"/><circle cx="288.6" cy="803.5" r="5"/><circle cx="300" cy="791.7" r="3"/><circle cx="480.5" cy="777.9" r="4"/><circle cx="418.1" cy="792.5" r="3.5"/><circle cx="268.3" cy="783" r="3.5"/><circle cx="518.5" cy="796.6" r="5.5"/><circle cx="450.9" cy="798.3" r="3"/><circle cx="212.8" cy="794.5" r="5"/><circle cx="172.1" cy="808.2" r="5.5"/><circle cx="424.6" cy="788.2" r="3"/><circle cx="516.1" cy="773.7" r="2.5"/><circle cx="416.8" cy="783.1" r="4.5"/><circle cx="173.5" cy="803.8" r="2.5"/><circle cx="476.6" cy="775.3" r="5.5"/><circle cx="343.6" cy="797.9" r="4.5"/><circle cx="351.9" cy="791.4" r="4"/><circle cx="405.1" cy="779.9" r="5.5"/><circle cx="266" cy="783.3" r="5.5"/><circle cx="226.5" cy="803.5" r="3"/><circle cx="523.6" cy="780.6" r="3"/><circle cx="377.9" cy="790.8" r="4.5"/><circle cx="403.8" cy="789.4" r="4.5"/><circle cx="426.6" cy="783.2" r="3"/><circle cx="339" cy="790.8" r="3"/><circle cx="402.5" cy="798.2" r="5"/><circle cx="443.9" cy="776.3" r="5.5"/><circle cx="247.8" cy="791.8" r="3"/><circle cx="404.4" cy="797.4" r="5"/><circle cx="200.2" cy="791.7" r="2.5"/><circle cx="350" cy="779.1" r="3.5"/><circle cx="261" cy="784.6" r="4"/><circle cx="459.4" cy="793.9" r="2.5"/><circle cx="503.6" cy="781.3" r="3.5"/><circle cx="487.5" cy="776.6" r="3.5"/><circle cx="370.2" cy="784.5" r="5.5"/><circle cx="373.1" cy="778.3" r="2.5"/><circle cx="312.6" cy="795" r="4"/><circle cx="208.4" cy="803.6" r="3"/><circle cx="384.6" cy="799.4" r="5.5"/><circle cx="484.3" cy="787.1" r="3.5"/><circle cx="286.1" cy="801.5" r="2.5"/><circle cx="279" cy="792.4" r="5"/><circle cx="337.9" cy="798.4" r="5"/><circle cx="384.9" cy="798.2" r="2.5"/><circle cx="486.9" cy="795.4" r="4.5"/><circle cx="204.4" cy="792.3" r="4.5"/><circle cx="176.3" cy="809.4" r="3.5"/><circle cx="212.7" cy="796.7" r="3"/><circle cx="268" cy="793.3" r="4.5"/><circle cx="383.6" cy="783.6" r="5.5"/><circle cx="368.9" cy="792.6" r="5.5"/><circle cx="291" cy="791" r="5"/><circle cx="481.5" cy="777.6" r="4.5"/><circle cx="212.5" cy="803.7" r="4.5"/><circle cx="269.3" cy="791.7" r="4.5"/><circle cx="455.4" cy="776.3" r="3"/><circle cx="319.6" cy="799.4" r="4.5"/><circle cx="459.9" cy="786" r="4"/><circle cx="334.6" cy="783.6" r="2.5"/><circle cx="379.1" cy="792.9" r="3.5"/><circle cx="196.6" cy="806.3" r="4.5"/><circle cx="476.9" cy="774" r="5.5"/><circle cx="463.2" cy="782.4" r="4"/><circle cx="318.3" cy="794.8" r="2.5"/><circle cx="418" cy="797.8" r="2.5"/><circle cx="190.7" cy="790.6" r="3"/><circle cx="243.5" cy="794.8" r="3.5"/><circle cx="273" cy="803.8" r="4.5"/><circle cx="326.3" cy="793.8" r="3"/><circle cx="457.2" cy="789.2" r="4.5"/><circle cx="274.5" cy="801.7" r="4.5"/><circle cx="505.8" cy="773.5" r="4.5"/><circle cx="413.7" cy="777" r="3.5"/><circle cx="293" cy="798.6" r="3.5"/><circle cx="278.3" cy="795.6" r="3.5"/><circle cx="371.3" cy="788.4" r="5.5"/><circle cx="190.3" cy="804.7" r="5"/><circle cx="336.7" cy="785.9" r="5.5"/><circle cx="315.7" cy="797.6" r="3"/><circle cx="419.8" cy="796.6" r="2.5"/><circle cx="467.8" cy="791.5" r="4.5"/><circle cx="512.5" cy="784.7" r="2.5"/><circle cx="167" cy="794" r="3.5"/><circle cx="326.7" cy="799.7" r="2.5"/><circle cx="338.6" cy="781.2" r="4"/><circle cx="219.1" cy="790.4" r="3.5"/><circle cx="493.1" cy="787.4" r="5.5"/><circle cx="285.6" cy="794.8" r="2.5"/><circle cx="525.6" cy="776.1" r="4.5"/><circle cx="509.9" cy="782.5" r="4"/><circle cx="407.1" cy="796.9" r="2.5"/><circle cx="525.6" cy="781" r="4"/><circle cx="196" cy="793.3" r="5"/><circle cx="521.8" cy="776.1" r="4"/><circle cx="227.2" cy="790.2" r="3.5"/><circle cx="237.6" cy="801.8" r="5"/><circle cx="248.1" cy="788.1" r="4"/><circle cx="210.9" cy="806.4" r="4"/><circle cx="449.2" cy="797.2" r="4.5"/><circle cx="519.1" cy="797.4" r="5.5"/><circle cx="465.8" cy="788.4" r="5.5"/><circle cx="319" cy="798.4" r="2.5"/><circle cx="378.1" cy="792" r="4.5"/><circle cx="268.2" cy="796.6" r="4"/><circle cx="202" cy="790.6" r="5.5"/><circle cx="201" cy="802.6" r="5.5"/><circle cx="222.6" cy="795.6" r="3"/><circle cx="479.1" cy="799.5" r="3.5"/><circle cx="197.3" cy="793.2" r="2.5"/><circle cx="352.8" cy="793.8" r="4"/><circle cx="471.7" cy="795.9" r="4.5"/><circle cx="202.2" cy="795.5" r="2.5"/><circle cx="465.9" cy="781.4" r="4.5"/><circle cx="208.4" cy="797.5" r="2.5"/><circle cx="288" cy="782.9" r="5.5"/><circle cx="341.3" cy="783.2" r="5"/><circle cx="166.6" cy="801.1" r="3.5"/><circle cx="246.5" cy="803.3" r="2.5"/><circle cx="296.3" cy="792.9" r="4.5"/><circle cx="270" cy="785.6" r="2.5"/><circle cx="483.1" cy="774.1" r="4"/><circle cx="188.4" cy="795.1" r="5.5"/><circle cx="190.5" cy="794.9" r="3.5"/><circle cx="323.2" cy="787.2" r="3"/><circle cx="334.6" cy="788" r="4.5"/><circle cx="167.6" cy="806.5" r="4"/><circle cx="272.4" cy="783.2" r="5"/><circle cx="414" cy="779.2" r="4"/><circle cx="525.2" cy="787.8" r="4.5"/><circle cx="444.3" cy="775.8" r="5"/><circle cx="456.3" cy="792.9" r="5"/><circle cx="452.3" cy="793.1" r="4.5"/><circle cx="287.2" cy="800.1" r="4.5"/><circle cx="249.8" cy="804.1" r="3.5"/><circle cx="200.2" cy="796" r="3.5"/><circle cx="338.8" cy="782.3" r="4.5"/><circle cx="326.5" cy="790.3" r="3.5"/><circle cx="332.2" cy="781" r="2.5"/><circle cx="166.5" cy="801" r="5"/><circle cx="400.2" cy="798.8" r="2.5"/><circle cx="274.6" cy="794.7" r="5"/><circle cx="356.4" cy="799.3" r="4"/><circle cx="521" cy="797.8" r="3.5"/><circle cx="530.3" cy="789.8" r="3.5"/><circle cx="456.5" cy="777.7" r="5.5"/><circle cx="362.5" cy="781.6" r="5.5"/><circle cx="321.6" cy="795.8" r="4.5"/><circle cx="297" cy="801.2" r="3.5"/><circle cx="385.7" cy="779.5" r="5.5"/><circle cx="351.6" cy="790.5" r="3"/><circle cx="362.1" cy="793" r="4.5"/><circle cx="515.5" cy="790.8" r="5.5"/><circle cx="394.1" cy="792.6" r="4.5"/><circle cx="409.2" cy="778.4" r="5.5"/><circle cx="446.1" cy="797" r="5.5"/><circle cx="310.8" cy="792.3" r="2.5"/><circle cx="328.2" cy="793" r="3.5"/><circle cx="370.8" cy="798.8" r="3.5"/><circle cx="452.4" cy="778.6" r="2.5"/><circle cx="216.4" cy="804.9" r="4.5"/><circle cx="462" cy="796" r="4"/><circle cx="199.3" cy="797.2" r="3"/><circle cx="227.5" cy="796.6" r="5.5"/><circle cx="170.5" cy="794.4" r="4.5"/><circle cx="213.2" cy="800" r="3"/><circle cx="276.3" cy="786.3" r="3.5"/><circle cx="407.1" cy="785.5" r="4"/><circle cx="350.5" cy="795.1" r="2.5"/><circle cx="432.4" cy="774.1" r="4.5"/><circle cx="408.7" cy="799.8" r="4.5"/><circle cx="519.4" cy="778.9" r="3.5"/><circle cx="339.5" cy="780.8" r="5.5"/><circle cx="408.7" cy="778.9" r="4"/><circle cx="364.8" cy="797.1" r="5.5"/><circle cx="397.8" cy="799.5" r="4"/><circle cx="463.2" cy="778.9" r="2.5"/><circle cx="526.6" cy="780.6" r="5.5"/><circle cx="418.9" cy="775" r="5"/><circle cx="233.6" cy="792.3" r="3.5"/><circle cx="211.7" cy="802.4" r="5.5"/><circle cx="448.3" cy="782.6" r="4.5"/><circle cx="305.9" cy="799.6" r="3.5"/><circle cx="410.5" cy="774.4" r="4"/><circle cx="324.2" cy="791.5" r="4.5"/><circle cx="400.7" cy="786.7" r="4.5"/><circle cx="361.2" cy="779" r="4.5"/><circle cx="276.2" cy="802.9" r="5.5"/><circle cx="232.8" cy="789.8" r="5.5"/><circle cx="519" cy="795.6" r="5"/><circle cx="471.6" cy="780.4" r="5.5"/><circle cx="271.3" cy="792" r="4"/><circle cx="343.7" cy="790.7" r="4.5"/><circle cx="405.7" cy="774.9" r="2.5"/><circle cx="215" cy="786.4" r="3"/><circle cx="443.7" cy="773.1" r="4"/><circle cx="234.4" cy="804.8" r="3"/><circle cx="212.4" cy="804.5" r="4"/><circle cx="168.8" cy="807" r="5"/><circle cx="366.1" cy="782.8" r="3.5"/><circle cx="505.4" cy="778.4" r="3"/><circle cx="216.8" cy="805.1" r="5"/><circle cx="220.3" cy="805" r="4.5"/><circle cx="465.5" cy="795.3" r="5.5"/><circle cx="286.2" cy="799.6" r="5.5"/><circle cx="223" cy="793.3" r="5"/><circle cx="374.8" cy="783.6" r="4.5"/><circle cx="211.1" cy="796.4" r="4.5"/><circle cx="398.3" cy="779.6" r="3.5"/><circle cx="460.7" cy="798.5" r="3.5"/><circle cx="211" cy="802.3" r="2.5"/><circle cx="516.4" cy="783.7" r="5"/><circle cx="367.3" cy="795.6" r="4.5"/><circle cx="527.9" cy="775.8" r="5"/><circle cx="423.2" cy="791.9" r="4.5"/><circle cx="310.9" cy="799.9" r="5.5"/><circle cx="309.4" cy="784.7" r="4"/><circle cx="471.4" cy="791.5" r="4"/><circle cx="405.3" cy="789.8" r="3"/><circle cx="279.5" cy="802.3" r="3.5"/><circle cx="333.9" cy="802.4" r="2.5"/><circle cx="254.8" cy="793" r="2.5"/><circle cx="318.3" cy="796.8" r="5"/><circle cx="210.8" cy="790.2" r="4.5"/><circle cx="302.1" cy="794.2" r="3.5"/><circle cx="184.6" cy="801.7" r="5"/><circle cx="177.3" cy="810.8" r="3"/><circle cx="274.9" cy="787.6" r="2.5"/><circle cx="352.4" cy="796.1" r="4"/><circle cx="282" cy="795.1" r="4"/><circle cx="470.9" cy="779.7" r="5"/><circle cx="207.9" cy="794" r="5"/><circle cx="340.2" cy="786.9" r="5.5"/><circle cx="422" cy="773.5" r="2.5"/><circle cx="362.2" cy="797.3" r="5"/><circle cx="312.2" cy="788.7" r="2.5"/><circle cx="338.6" cy="797.5" r="4.5"/><circle cx="367.5" cy="782.6" r="3"/><circle cx="434.1" cy="782.6" r="4"/><circle cx="426.4" cy="796.6" r="5.5"/><circle cx="521.6" cy="781.7" r="2.5"/><circle cx="518.3" cy="788.7" r="4.5"/><circle cx="251.9" cy="801.4" r="4"/><circle cx="359.7" cy="785.1" r="4"/><circle cx="329.6" cy="797.7" r="2.5"/><circle cx="477.3" cy="782.7" r="2.5"/><circle cx="223.8" cy="799.4" r="3.5"/><circle cx="303.1" cy="791.1" r="5.5"/><circle cx="399" cy="776.5" r="5"/><circle cx="379.3" cy="789.3" r="4.5"/><circle cx="404.2" cy="799.6" r="3.5"/><circle cx="412.2" cy="797.9" r="2.5"/><circle cx="218.2" cy="794.8" r="3"/><circle cx="315.9" cy="790.4" r="4.5"/><circle cx="462.8" cy="796.9" r="4.5"/><circle cx="202.9" cy="807.9" r="2.5"/><circle cx="304.4" cy="797.4" r="5.5"/><circle cx="193.7" cy="801.6" r="5.5"/><circle cx="308.6" cy="785.1" r="5.5"/><circle cx="221.2" cy="787.5" r="4.5"/><circle cx="259.3" cy="798.9" r="3"/><circle cx="247.4" cy="790.4" r="4.5"/><circle cx="262.5" cy="791.8" r="4"/><circle cx="450.3" cy="786" r="3.5"/><circle cx="528.2" cy="775.7" r="5.5"/><circle cx="283.6" cy="797.8" r="3.5"/><circle cx="284.3" cy="799.5" r="2.5"/><circle cx="372.7" cy="780.7" r="5"/><circle cx="299.4" cy="786.7" r="5.5"/><circle cx="329.1" cy="794.1" r="3"/><circle cx="228.9" cy="788.8" r="4.5"/><circle cx="246.4" cy="790.9" r="5.5"/><circle cx="219.3" cy="800.1" r="5.5"/><circle cx="394.5" cy="787.7" r="4"/><circle cx="514.5" cy="779.9" r="4"/><circle cx="256.2" cy="804.3" r="5.5"/><circle cx="301.8" cy="801.2" r="4.5"/><circle cx="265.6" cy="792.1" r="2.5"/><circle cx="403.3" cy="784.7" r="5.5"/><circle cx="496.9" cy="780.1" r="5.5"/><circle cx="486" cy="785.2" r="4.5"/><circle cx="368.3" cy="785.6" r="4.5"/><circle cx="301.9" cy="800.2" r="3.5"/><circle cx="483" cy="783.9" r="3"/><circle cx="321.9" cy="788.1" r="3.5"/><circle cx="443" cy="781.5" r="2.5"/><circle cx="226.5" cy="802.9" r="5.5"/><circle cx="374.3" cy="778.1" r="4.5"/><circle cx="283.3" cy="803.3" r="4.5"/><circle cx="436.3" cy="790.8" r="4"/><circle cx="288.7" cy="781.4" r="2.5"/><circle cx="249.4" cy="791.7" r="3.5"/><circle cx="326.2" cy="795.1" r="4.5"/><circle cx="221.8" cy="800.5" r="5.5"/><circle cx="516.6" cy="779" r="2.5"/><circle cx="452.4" cy="788.2" r="2.5"/><circle cx="439.4" cy="787.5" r="4.5"/><circle cx="284.5" cy="786.2" r="4.5"/><circle cx="182.2" cy="796.5" r="3.5"/><circle cx="235.9" cy="806.9" r="2.5"/><circle cx="214" cy="802.4" r="3"/><circle cx="450.5" cy="788.2" r="5"/><circle cx="526.5" cy="797.7" r="3.5"/><circle cx="198.6" cy="804" r="4.5"/><circle cx="251.5" cy="797.9" r="3"/><circle cx="407.8" cy="783.2" r="3.5"/><circle cx="480" cy="799.8" r="3.5"/><circle cx="304.3" cy="801.2" r="4.5"/><circle cx="295.3" cy="786.1" r="5"/><circle cx="296" cy="796.9" r="2.5"/><circle cx="216" cy="792.1" r="5"/><circle cx="356.4" cy="780" r="4.5"/><circle cx="234.9" cy="799" r="4.5"/><circle cx="276.7" cy="790.8" r="2.5"/><circle cx="221.5" cy="795.6" r="5"/><circle cx="396.5" cy="775.1" r="3"/><circle cx="257.7" cy="783.8" r="3"/><circle cx="430.2" cy="795.7" r="4.5"/><circle cx="351.2" cy="791.9" r="3"/><circle cx="345.5" cy="799.6" r="4.5"/><circle cx="263.1" cy="788.2" r="3"/><circle cx="399.5" cy="780.7" r="5"/><circle cx="458.5" cy="795.8" r="5.5"/><circle cx="264.7" cy="798.3" r="3"/><circle cx="453.3" cy="775.7" r="3.5"/><circle cx="455.5" cy="779.6" r="5.5"/><circle cx="404.1" cy="785.3" r="4.5"/><circle cx="415" cy="777.4" r="5"/><circle cx="293.6" cy="795.6" r="2.5"/><circle cx="212.4" cy="800.9" r="4.5"/><circle cx="475.8" cy="797.4" r="4.5"/><circle cx="331.9" cy="788.7" r="3.5"/><circle cx="237.6" cy="804" r="4.5"/><circle cx="358.3" cy="787.9" r="3.5"/><circle cx="211.4" cy="803.8" r="4"/><circle cx="422.7" cy="797.3" r="3"/><circle cx="234" cy="800.1" r="4.5"/><circle cx="178" cy="799.8" r="4.5"/><circle cx="314.4" cy="798.4" r="4.5"/><circle cx="323.6" cy="796.6" r="3"/><circle cx="354.1" cy="800.2" r="4.5"/><circle cx="357.6" cy="777.8" r="3.5"/><circle cx="492.7" cy="772.3" r="3"/><circle cx="482.8" cy="790.3" r="3"/><circle cx="262.5" cy="782.9" r="3"/><circle cx="166.3" cy="802.1" r="5.5"/><circle cx="446.6" cy="783.5" r="5"/><circle cx="520.1" cy="774.6" r="3"/><circle cx="191.4" cy="792.4" r="5"/><circle cx="212.7" cy="797.7" r="5"/><circle cx="386.4" cy="783.2" r="2.5"/><circle cx="293.3" cy="797.2" r="3"/><circle cx="220.2" cy="801.8" r="3.5"/><circle cx="414.4" cy="791.4" r="5.5"/><circle cx="337.9" cy="804.3" r="2.5"/><circle cx="204.8" cy="797.9" r="5"/><circle cx="247.3" cy="799.7" r="2.5"/><circle cx="222.2" cy="802.5" r="5.5"/><circle cx="395.1" cy="797.9" r="2.5"/><circle cx="278.6" cy="782.7" r="5"/><circle cx="273.6" cy="795.5" r="2.5"/><circle cx="418.9" cy="796" r="4.5"/><circle cx="505.8" cy="784.2" r="5"/><circle cx="513.5" cy="779.8" r="5"/><circle cx="390.4" cy="780.8" r="3"/><circle cx="239.4" cy="792.4" r="5.5"/><circle cx="334.4" cy="797.5" r="5"/><circle cx="284.4" cy="804.3" r="3.5"/><circle cx="423.2" cy="777" r="5"/><circle cx="366" cy="798.6" r="4.5"/><circle cx="248.1" cy="800.5" r="3.5"/><circle cx="293" cy="796.9" r="3"/><circle cx="432.4" cy="785" r="5.5"/><circle cx="510.4" cy="776.4" r="4.5"/><circle cx="352" cy="779.4" r="5.5"/><circle cx="462.6" cy="785.6" r="3.5"/><circle cx="327.5" cy="785.7" r="5.5"/><circle cx="240.1" cy="790.3" r="3"/><circle cx="237.6" cy="792.9" r="2.5"/><circle cx="238.5" cy="790" r="4.5"/><circle cx="312" cy="800.9" r="5.5"/><circle cx="269.9" cy="796.6" r="5"/><circle cx="524.6" cy="778.5" r="5"/><circle cx="305.7" cy="788.3" r="3.5"/><circle cx="257.6" cy="803.5" r="5.5"/><circle cx="446.5" cy="778.7" r="5.5"/><circle cx="453.3" cy="774.2" r="4.5"/><circle cx="507" cy="777.9" r="4"/><circle cx="424.8" cy="800" r="3"/><circle cx="281.3" cy="796.8" r="4.5"/><circle cx="456.1" cy="791.3" r="4"/><circle cx="400.1" cy="799.2" r="3.5"/><circle cx="394.7" cy="780.1" r="2.5"/><circle cx="498.1" cy="791.1" r="3.5"/><circle cx="226.6" cy="796.5" r="5.5"/><circle cx="302.4" cy="783.7" r="4"/><circle cx="373.3" cy="796" r="3"/><circle cx="249.9" cy="803.7" r="5"/><circle cx="90" cy="780" r="4.2"/><circle cx="88.4" cy="776.7" r="2.5"/><circle cx="94.2" cy="774.2" r="2.5"/><circle cx="94.2" cy="784.2" r="2.5"/><circle cx="105.1" cy="782.6" r="2.5"/><circle cx="109.3" cy="781.7" r="1.7"/><circle cx="115.2" cy="786.8" r="3"/><circle cx="127.7" cy="774.2" r="3.7"/><circle cx="132.7" cy="770.8" r="3.3"/><circle cx="131" cy="791.8" r="2"/><circle cx="144.5" cy="796.8" r="4.2"/><circle cx="148.7" cy="802.7" r="3"/><circle cx="157" cy="791" r="3"/><circle cx="162" cy="797.6" r="4.7"/><circle cx="167" cy="786" r="3"/><circle cx="168.8" cy="798.5" r="3.3"/><circle cx="160.4" cy="806" r="4.2"/><circle cx="153.7" cy="802.7" r="3"/><circle cx="172" cy="805" r="3.3"/><circle cx="173" cy="782.6" r="2"/><circle cx="138.6" cy="803.5" r="3.3"/><circle cx="135.3" cy="807.7" r="3"/><circle cx="138.6" cy="813.6" r="3.7"/><circle cx="131" cy="810.2" r="3"/><circle cx="126.9" cy="814.4" r="3"/><circle cx="121" cy="818.6" r="3.3"/><circle cx="124.4" cy="820.3" r="2.5"/><circle cx="118.5" cy="814.4" r="2.5"/><circle cx="115.2" cy="816" r="2.5"/><circle cx="111.8" cy="820.3" r="3.4"/><circle cx="106.8" cy="823.6" r="2.5"/><circle cx="104.3" cy="812.7" r="3.7"/><circle cx="110.1" cy="811" r="2.5"/><circle cx="86.7" cy="811.9" r="3.4"/><circle cx="89.2" cy="821" r="3"/><circle cx="85" cy="820.3" r="2.5"/><circle cx="46" cy="763.6" r="1.8"/><circle cx="221.8" cy="783.7" r="5"/><circle cx="242.3" cy="784.8" r="4.5"/><circle cx="242.3" cy="798.5" r="5"/><circle cx="219.5" cy="800.7" r="5"/><circle cx="176.4" cy="782.5" r="3.2"/><circle cx="182" cy="789" r="3.6"/><circle cx="185.5" cy="798.5" r="4.5"/><circle cx="169.5" cy="805.3" r="3.2"/><circle cx="177.5" cy="806.4" r="3.6"/><circle cx="265" cy="776.9" r="3.2"/><circle cx="276.4" cy="776.9" r="2.7"/><circle cx="368" cy="779" r="6.4"/><circle cx="296.4" cy="803" r="5"/><circle cx="386" cy="794" r="5.7"/><circle cx="404.3" cy="775.7" r="3.6"/><circle cx="503.5" cy="790.2" r="10.5"/><circle cx="524.7" cy="784.3" r="5.9"/><circle cx="523.5" cy="793.7" r="5.9"/></g>
<path d="M45.2,627.5V829.5H528.6V631.5" stroke="#8c87aa" stroke-width="0.8" fill="none"/>
<g font-family="Liberation Serif, serif" font-weight="bold" fill="#000">
<text x="2" y="12.5" font-size="15.5" text-anchor="start" >(a)</text>
<text x="175.6" y="14.5" font-size="15" text-anchor="start" >GC x GC plot of Aerosol sample</text>
<text x="39.8" y="25.5" font-size="11.3" text-anchor="end" dominant-baseline="central">4.0</text>
<path d="M43.3,25.5h2.6" stroke="#222" stroke-width="1.3"/>
<text x="39.8" y="65.9" font-size="11.3" text-anchor="end" dominant-baseline="central">3.5</text>
<path d="M43.3,65.9h2.6" stroke="#222" stroke-width="1.3"/>
<text x="39.8" y="101.7" font-size="11.3" text-anchor="end" dominant-baseline="central">3.0</text>
<path d="M43.3,101.7h2.6" stroke="#222" stroke-width="1.3"/>
<text x="39.8" y="139" font-size="11.3" text-anchor="end" dominant-baseline="central">2.5</text>
<path d="M43.3,139h2.6" stroke="#222" stroke-width="1.3"/>
<text x="39.8" y="175.5" font-size="11.3" text-anchor="end" dominant-baseline="central">2.0</text>
<path d="M43.3,175.5h2.6" stroke="#222" stroke-width="1.3"/>
<text x="39.8" y="207" font-size="11.3" text-anchor="end" dominant-baseline="central">1.5</text>
<path d="M43.3,207h2.6" stroke="#222" stroke-width="1.3"/>
<text x="39.8" y="244.9" font-size="11.3" text-anchor="end" dominant-baseline="central">1.0</text>
<path d="M43.3,244.9h2.6" stroke="#222" stroke-width="1.3"/>
<text transform="translate(45.5,253.5) rotate(-90)" font-size="11.6" text-anchor="end" dominant-baseline="central">600</text>
<path d="M45.9,246.5v3" stroke="#222" stroke-width="1"/>
<text transform="translate(99.6,253.5) rotate(-90)" font-size="11.6" text-anchor="end" dominant-baseline="central">1250</text>
<path d="M100.0,246.5v3" stroke="#222" stroke-width="1"/>
<text transform="translate(156.6,253.5) rotate(-90)" font-size="11.6" text-anchor="end" dominant-baseline="central">2500</text>
<path d="M157.0,246.5v3" stroke="#222" stroke-width="1"/>
<text transform="translate(211.3,253.5) rotate(-90)" font-size="11.6" text-anchor="end" dominant-baseline="central">3750</text>
<path d="M211.70000000000002,246.5v3" stroke="#222" stroke-width="1"/>
<text transform="translate(266,253.5) rotate(-90)" font-size="11.6" text-anchor="end" dominant-baseline="central">5000</text>
<path d="M266.4,246.5v3" stroke="#222" stroke-width="1"/>
<text transform="translate(324.6,253.5) rotate(-90)" font-size="11.6" text-anchor="end" dominant-baseline="central">6250</text>
<path d="M325.0,246.5v3" stroke="#222" stroke-width="1"/>
<text transform="translate(392.8,253.5) rotate(-90)" font-size="11.6" text-anchor="end" dominant-baseline="central">7500</text>
<path d="M393.2,246.5v3" stroke="#222" stroke-width="1"/>
<text transform="translate(450,253.5) rotate(-90)" font-size="11.6" text-anchor="end" dominant-baseline="central">8750</text>
<path d="M450.4,246.5v3" stroke="#222" stroke-width="1"/>
<text transform="translate(517,253.5) rotate(-90)" font-size="11.6" text-anchor="end" dominant-baseline="central">10000</text>
<path d="M517.4,246.5v3" stroke="#222" stroke-width="1"/>
<text x="221.2" y="297" font-size="13.35" text-anchor="start" >Volatility 1st Dimension (seconds)</text>
<text transform="translate(7,138.7) rotate(-90)" font-size="13.2" text-anchor="middle" dominant-baseline="central">Polarity 2nd Dimension (seconds)</text>
<text x="1" y="326" font-size="15.5" text-anchor="start" >(b)</text>
<text x="37.3" y="329.2" font-size="11.3" text-anchor="end" dominant-baseline="central">4.0</text>
<path d="M41.8,329.2h2.6" stroke="#222" stroke-width="1.3"/>
<text x="37.3" y="365.7" font-size="11.3" text-anchor="end" dominant-baseline="central">3.5</text>
<path d="M41.8,365.7h2.6" stroke="#222" stroke-width="1.3"/>
<text x="37.3" y="399" font-size="11.3" text-anchor="end" dominant-baseline="central">3.0</text>
<path d="M41.8,399h2.6" stroke="#222" stroke-width="1.3"/>
<text x="37.3" y="431.5" font-size="11.3" text-anchor="end" dominant-baseline="central">2.5</text>
<path d="M41.8,431.5h2.6" stroke="#222" stroke-width="1.3"/>
<text x="37.3" y="464" font-size="11.3" text-anchor="end" dominant-baseline="central">2.0</text>
<path d="M41.8,464h2.6" stroke="#222" stroke-width="1.3"/>
<text x="37.3" y="492.1" font-size="11.3" text-anchor="end" dominant-baseline="central">1.5</text>
<path d="M41.8,492.1h2.6" stroke="#222" stroke-width="1.3"/>
<text x="37.3" y="525.7" font-size="11.3" text-anchor="end" dominant-baseline="central">1.0</text>
<path d="M41.8,525.7h2.6" stroke="#222" stroke-width="1.3"/>
<text transform="translate(50.6,537) rotate(-90)" font-size="11.6" text-anchor="end" dominant-baseline="central">1000</text>
<path d="M51.0,529.5v3" stroke="#222" stroke-width="1"/>
<text transform="translate(122.7,537) rotate(-90)" font-size="11.6" text-anchor="end" dominant-baseline="central">1500</text>
<path d="M123.10000000000001,529.5v3" stroke="#222" stroke-width="1"/>
<text transform="translate(212,537) rotate(-90)" font-size="11.6" text-anchor="end" dominant-baseline="central">2000</text>
<path d="M212.4,529.5v3" stroke="#222" stroke-width="1"/>
<text transform="translate(293.4,537) rotate(-90)" font-size="11.6" text-anchor="end" dominant-baseline="central">2500</text>
<path d="M293.79999999999995,529.5v3" stroke="#222" stroke-width="1"/>
<text transform="translate(373,537) rotate(-90)" font-size="11.6" text-anchor="end" dominant-baseline="central">3000</text>
<path d="M373.4,529.5v3" stroke="#222" stroke-width="1"/>
<text transform="translate(455.6,537) rotate(-90)" font-size="11.6" text-anchor="end" dominant-baseline="central">3500</text>
<path d="M456.0,529.5v3" stroke="#222" stroke-width="1"/>
<text transform="translate(531.5,537) rotate(-90)" font-size="11.6" text-anchor="end" dominant-baseline="central">4000</text>
<path d="M531.9,529.5v3" stroke="#222" stroke-width="1"/>
<text x="205.3" y="580" font-size="13.35" text-anchor="start" >Volatility 1st Dimension (seconds)</text>
<text transform="translate(7,429.6) rotate(-90)" font-size="13.4" text-anchor="middle" dominant-baseline="central">Polarity 2nd Dimension (seconds)</text>
<text x="2" y="615" font-size="15.5" text-anchor="start" >(c)</text>
<text x="70.4" y="617.7" font-size="15" text-anchor="start" >Extracted Peaks overlaid with Bubble plot of chromatographic peaks</text>
<text x="38.3" y="630.3" font-size="11.3" text-anchor="end" dominant-baseline="central">4.0</text>
<text x="38.3" y="663.3" font-size="11.3" text-anchor="end" dominant-baseline="central">3.5</text>
<text x="38.3" y="697.6" font-size="11.3" text-anchor="end" dominant-baseline="central">3.0</text>
<text x="38.3" y="730" font-size="11.3" text-anchor="end" dominant-baseline="central">2.5</text>
<text x="38.3" y="763.6" font-size="11.3" text-anchor="end" dominant-baseline="central">2.0</text>
<text x="38.3" y="796.2" font-size="11.3" text-anchor="end" dominant-baseline="central">1.5</text>
<text x="38.3" y="831" font-size="11.3" text-anchor="end" dominant-baseline="central">1.0</text>
<text transform="translate(47.7,839.5) rotate(-90)" font-size="11.6" text-anchor="end" dominant-baseline="central">1000</text>
<path d="M48.1,832v3" stroke="#222" stroke-width="1"/>
<text transform="translate(120,839.5) rotate(-90)" font-size="11.6" text-anchor="end" dominant-baseline="central">1500</text>
<path d="M120.4,832v3" stroke="#222" stroke-width="1"/>
<text transform="translate(208.7,839.5) rotate(-90)" font-size="11.6" text-anchor="end" dominant-baseline="central">2000</text>
<path d="M209.1,832v3" stroke="#222" stroke-width="1"/>
<text transform="translate(288.6,839.5) rotate(-90)" font-size="11.6" text-anchor="end" dominant-baseline="central">2500</text>
<path d="M289.0,832v3" stroke="#222" stroke-width="1"/>
<text transform="translate(371,839.5) rotate(-90)" font-size="11.6" text-anchor="end" dominant-baseline="central">3000</text>
<path d="M371.4,832v3" stroke="#222" stroke-width="1"/>
<text transform="translate(450.8,839.5) rotate(-90)" font-size="11.6" text-anchor="end" dominant-baseline="central">3500</text>
<path d="M451.2,832v3" stroke="#222" stroke-width="1"/>
<text transform="translate(528.9,839.5) rotate(-90)" font-size="11.6" text-anchor="end" dominant-baseline="central">4000</text>
<path d="M529.3,832v3" stroke="#222" stroke-width="1"/>
<text x="205.6" y="882.5" font-size="13.3" text-anchor="start" >Volatility 1st Dimension (seconds)</text>
<text transform="translate(6,741.5) rotate(-90)" font-size="13.0" text-anchor="middle" dominant-baseline="central">Polarity 2nd Dimension (seconds)</text>
</g>
<path d="M47,23.5 L218.6,23.5 L218.6,284 L216.6,306.5 L531.2,306.5 L531.2,529 L45,529 L45,290.3 L51,285.7 L51,23.5" fill="none" stroke="#e28028" stroke-width="2.9" stroke-linecap="round" stroke-dasharray="0.1 5.05"/></svg></body></html>
